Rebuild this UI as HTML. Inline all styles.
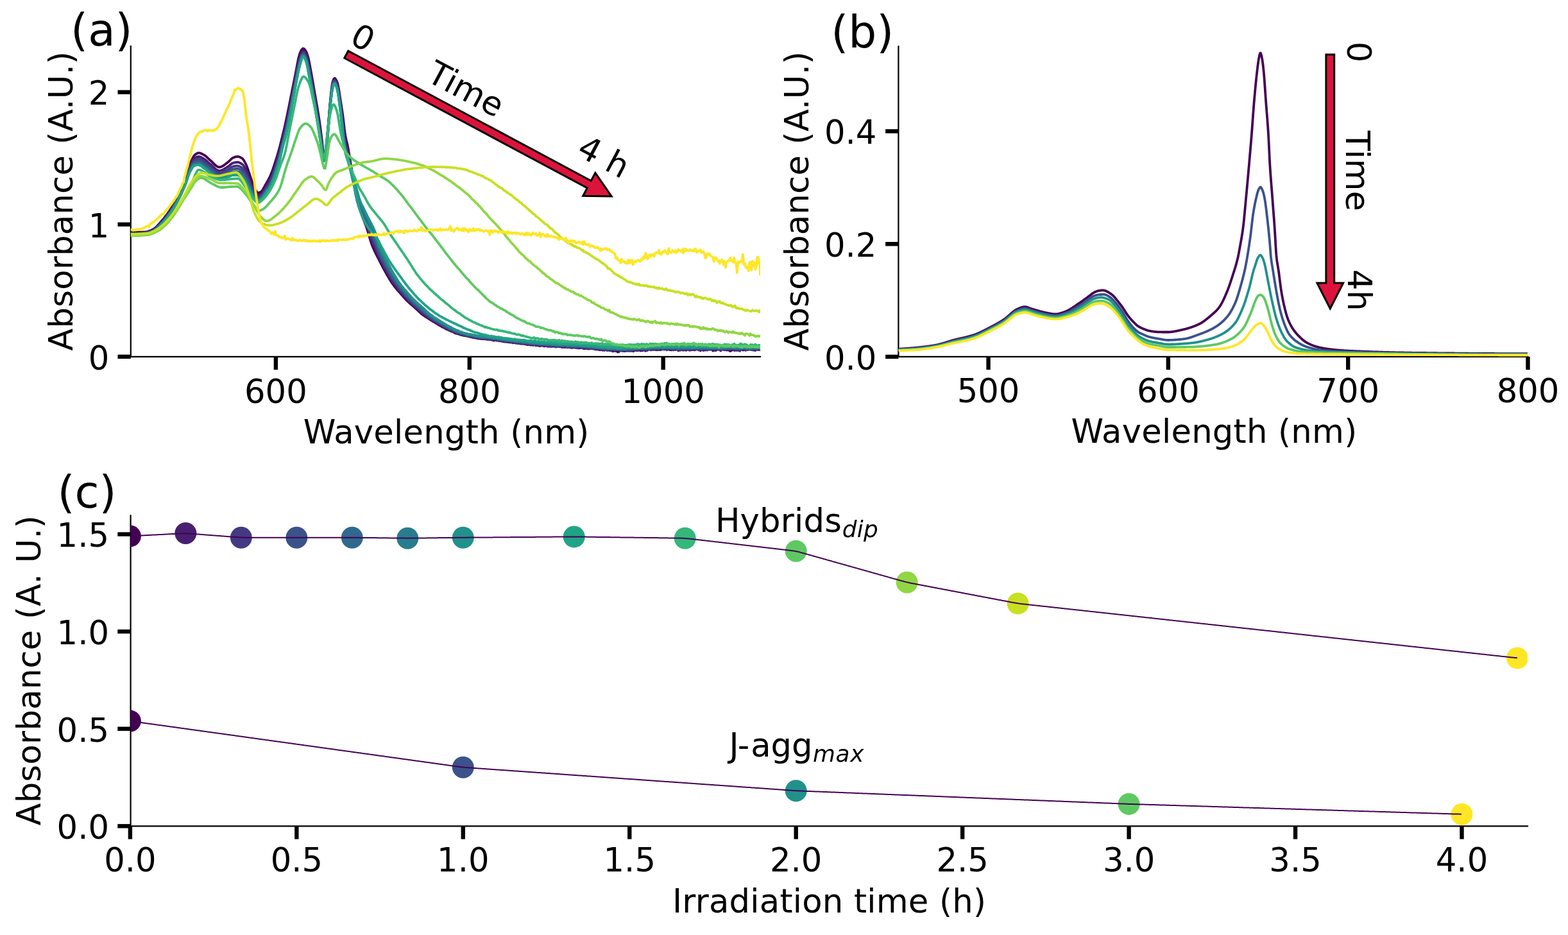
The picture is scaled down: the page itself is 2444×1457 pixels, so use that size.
<!DOCTYPE html>
<html><head><meta charset="utf-8"><title>Absorbance spectra</title>
<style>
html,body{margin:0;padding:0;background:#fff;}
svg{display:block;}
text{font-family:"DejaVu Sans","Liberation Sans",sans-serif;fill:#000;}
</style></head><body>
<svg width="2444" height="1457" viewBox="0 0 2444 1457">
<rect width="2444" height="1457" fill="#fff"/>
<line x1="203.8" y1="72.1" x2="203.8" y2="555.9" stroke="#000" stroke-width="2.2" stroke-linecap="square"/>
<line x1="203.8" y1="555.9" x2="1185.0" y2="555.9" stroke="#000" stroke-width="2.2" stroke-linecap="square"/>
<line x1="429.91" y1="555.9" x2="429.91" y2="576.1999999999999" stroke="#000" stroke-width="6.4"/>
<text x="429.91" y="628.00" font-size="51.2" text-anchor="middle">600</text>
<line x1="731.79" y1="555.9" x2="731.79" y2="576.1999999999999" stroke="#000" stroke-width="6.4"/>
<text x="731.79" y="628.00" font-size="51.2" text-anchor="middle">800</text>
<line x1="1033.67" y1="555.9" x2="1033.67" y2="576.1999999999999" stroke="#000" stroke-width="6.4"/>
<text x="1033.67" y="628.00" font-size="51.2" text-anchor="middle">1000</text>
<line x1="183.5" y1="555.80" x2="203.8" y2="555.80" stroke="#000" stroke-width="6.4"/>
<text x="170.30" y="575.60" font-size="51.2" text-anchor="end">0</text>
<line x1="183.5" y1="349.70" x2="203.8" y2="349.70" stroke="#000" stroke-width="6.4"/>
<text x="170.30" y="369.50" font-size="51.2" text-anchor="end">1</text>
<line x1="183.5" y1="143.60" x2="203.8" y2="143.60" stroke="#000" stroke-width="6.4"/>
<text x="170.30" y="163.40" font-size="51.2" text-anchor="end">2</text>
<clipPath id="ca"><rect x="203.8" y="72.1" width="981.2" height="483.79999999999995"/></clipPath>
<line x1="1400.4" y1="72.3" x2="1400.4" y2="555.9" stroke="#000" stroke-width="2.2" stroke-linecap="square"/>
<line x1="1400.4" y1="555.9" x2="2381.3" y2="555.9" stroke="#000" stroke-width="2.2" stroke-linecap="square"/>
<line x1="1540.56" y1="555.9" x2="1540.56" y2="576.1999999999999" stroke="#000" stroke-width="6.4"/>
<text x="1540.56" y="627.30" font-size="51.2" text-anchor="middle">500</text>
<line x1="1820.87" y1="555.9" x2="1820.87" y2="576.1999999999999" stroke="#000" stroke-width="6.4"/>
<text x="1820.87" y="627.30" font-size="51.2" text-anchor="middle">600</text>
<line x1="2101.18" y1="555.9" x2="2101.18" y2="576.1999999999999" stroke="#000" stroke-width="6.4"/>
<text x="2101.18" y="627.30" font-size="51.2" text-anchor="middle">700</text>
<line x1="2381.49" y1="555.9" x2="2381.49" y2="576.1999999999999" stroke="#000" stroke-width="6.4"/>
<text x="2381.49" y="627.30" font-size="51.2" text-anchor="middle">800</text>
<line x1="1380.1000000000001" y1="555.90" x2="1400.4" y2="555.90" stroke="#000" stroke-width="6.4"/>
<text x="1366.40" y="575.70" font-size="51.2" text-anchor="end">0.0</text>
<line x1="1380.1000000000001" y1="380.20" x2="1400.4" y2="380.20" stroke="#000" stroke-width="6.4"/>
<text x="1366.40" y="400.00" font-size="51.2" text-anchor="end">0.2</text>
<line x1="1380.1000000000001" y1="204.50" x2="1400.4" y2="204.50" stroke="#000" stroke-width="6.4"/>
<text x="1366.40" y="224.30" font-size="51.2" text-anchor="end">0.4</text>
<clipPath id="cb"><rect x="1400.4" y="72.3" width="980.9000000000001" height="483.59999999999997"/></clipPath>
<line x1="203.6" y1="803.4" x2="203.6" y2="1287.3" stroke="#000" stroke-width="2.2" stroke-linecap="square"/>
<line x1="203.6" y1="1287.3" x2="2381.0" y2="1287.3" stroke="#000" stroke-width="2.2" stroke-linecap="square"/>
<line x1="202.90" y1="1287.3" x2="202.90" y2="1307.6" stroke="#000" stroke-width="6.4"/>
<text x="202.90" y="1357.80" font-size="51.2" text-anchor="middle">0.0</text>
<line x1="462.35" y1="1287.3" x2="462.35" y2="1307.6" stroke="#000" stroke-width="6.4"/>
<text x="462.35" y="1357.80" font-size="51.2" text-anchor="middle">0.5</text>
<line x1="721.80" y1="1287.3" x2="721.80" y2="1307.6" stroke="#000" stroke-width="6.4"/>
<text x="721.80" y="1357.80" font-size="51.2" text-anchor="middle">1.0</text>
<line x1="981.25" y1="1287.3" x2="981.25" y2="1307.6" stroke="#000" stroke-width="6.4"/>
<text x="981.25" y="1357.80" font-size="51.2" text-anchor="middle">1.5</text>
<line x1="1240.70" y1="1287.3" x2="1240.70" y2="1307.6" stroke="#000" stroke-width="6.4"/>
<text x="1240.70" y="1357.80" font-size="51.2" text-anchor="middle">2.0</text>
<line x1="1500.15" y1="1287.3" x2="1500.15" y2="1307.6" stroke="#000" stroke-width="6.4"/>
<text x="1500.15" y="1357.80" font-size="51.2" text-anchor="middle">2.5</text>
<line x1="1759.60" y1="1287.3" x2="1759.60" y2="1307.6" stroke="#000" stroke-width="6.4"/>
<text x="1759.60" y="1357.80" font-size="51.2" text-anchor="middle">3.0</text>
<line x1="2019.05" y1="1287.3" x2="2019.05" y2="1307.6" stroke="#000" stroke-width="6.4"/>
<text x="2019.05" y="1357.80" font-size="51.2" text-anchor="middle">3.5</text>
<line x1="2278.50" y1="1287.3" x2="2278.50" y2="1307.6" stroke="#000" stroke-width="6.4"/>
<text x="2278.50" y="1357.80" font-size="51.2" text-anchor="middle">4.0</text>
<line x1="183.29999999999998" y1="1287.30" x2="203.6" y2="1287.30" stroke="#000" stroke-width="6.4"/>
<text x="170.00" y="1307.10" font-size="51.2" text-anchor="end">0.0</text>
<line x1="183.29999999999998" y1="1135.70" x2="203.6" y2="1135.70" stroke="#000" stroke-width="6.4"/>
<text x="170.00" y="1155.50" font-size="51.2" text-anchor="end">0.5</text>
<line x1="183.29999999999998" y1="984.10" x2="203.6" y2="984.10" stroke="#000" stroke-width="6.4"/>
<text x="170.00" y="1003.90" font-size="51.2" text-anchor="end">1.0</text>
<line x1="183.29999999999998" y1="832.50" x2="203.6" y2="832.50" stroke="#000" stroke-width="6.4"/>
<text x="170.00" y="852.30" font-size="51.2" text-anchor="end">1.5</text>
<clipPath id="cc"><rect x="203.6" y="803.4" width="2177.4" height="483.9"/></clipPath>
<g clip-path="url(#ca)">
<path d="M203.8,362.2 L205.3,362.2 L206.8,362.2 L208.3,362.2 L209.8,362.2 L211.3,362.1 L212.8,362.1 L214.3,362.0 L215.8,362.0 L217.3,361.9 L218.8,361.9 L220.3,361.8 L221.8,361.7 L223.3,361.7 L224.8,361.6 L226.3,361.5 L227.8,361.3 L229.3,361.0 L230.8,360.6 L232.3,360.1 L233.8,359.5 L235.3,358.9 L236.8,358.2 L238.3,357.4 L239.8,356.6 L241.3,355.6 L242.8,354.3 L244.3,352.9 L245.8,351.3 L247.3,349.6 L248.8,347.9 L250.3,346.1 L251.8,344.4 L253.3,342.6 L254.8,340.9 L256.3,339.1 L257.8,337.2 L259.3,335.3 L260.8,333.3 L262.3,331.2 L263.8,329.1 L265.3,326.8 L266.8,324.5 L268.3,322.1 L269.8,319.6 L271.3,317.0 L272.8,314.2 L274.3,311.4 L275.8,308.5 L277.3,305.5 L278.8,302.5 L280.3,299.2 L281.8,295.9 L283.3,292.4 L284.8,288.7 L286.3,285.0 L287.8,281.1 L289.3,277.0 L290.8,272.5 L292.3,267.6 L293.8,262.8 L295.3,258.3 L296.8,254.5 L298.3,250.8 L299.8,247.4 L301.3,244.5 L302.8,242.4 L304.3,241.0 L305.8,239.8 L307.3,238.9 L308.8,238.4 L310.3,238.3 L311.8,238.6 L313.3,239.1 L314.8,239.8 L316.3,240.6 L317.8,241.4 L319.3,242.3 L320.8,243.4 L322.3,244.7 L323.8,246.2 L325.3,247.6 L326.8,249.0 L328.3,250.2 L329.8,251.6 L331.3,253.1 L332.8,254.6 L334.3,256.1 L335.8,257.5 L337.3,258.7 L338.8,259.6 L340.3,260.3 L341.8,260.5 L343.3,260.3 L344.8,259.9 L346.3,259.2 L347.8,258.3 L349.3,257.3 L350.8,256.2 L352.3,255.0 L353.8,253.9 L355.3,252.8 L356.8,251.5 L358.3,250.0 L359.8,248.4 L361.3,247.1 L362.8,246.1 L364.3,245.5 L365.8,244.9 L367.3,244.4 L368.8,244.1 L370.3,244.0 L371.8,244.2 L373.3,244.6 L374.8,245.3 L376.3,246.1 L377.8,247.0 L379.3,248.7 L380.8,251.1 L382.3,254.0 L383.8,257.0 L385.3,260.7 L386.8,265.0 L388.3,269.5 L389.8,273.9 L391.3,278.3 L392.8,282.9 L394.3,287.2 L395.8,290.8 L397.3,293.9 L398.8,296.9 L400.3,299.3 L401.8,300.5 L403.3,300.4 L404.8,299.9 L406.3,299.1 L407.8,298.2 L409.3,296.2 L410.8,293.5 L412.3,290.6 L413.8,287.9 L415.3,285.4 L416.8,282.8 L418.3,280.1 L419.8,277.2 L421.3,274.0 L422.8,270.6 L424.3,266.6 L425.8,262.4 L427.3,257.9 L428.8,253.2 L430.3,248.6 L431.8,243.8 L433.3,238.8 L434.8,233.5 L436.3,228.0 L437.8,222.0 L439.3,215.9 L440.8,209.8 L442.3,203.6 L443.8,197.3 L445.3,190.6 L446.8,183.5 L448.3,176.2 L449.8,168.9 L451.3,161.5 L452.8,154.0 L454.3,146.4 L455.8,138.9 L457.3,131.4 L458.8,123.9 L460.3,116.4 L461.8,108.6 L463.3,100.4 L464.8,92.8 L466.3,86.8 L467.8,82.2 L469.3,78.8 L470.8,76.7 L472.3,75.5 L473.8,76.0 L475.3,77.6 L476.8,79.7 L478.3,83.1 L479.8,87.5 L481.3,93.4 L482.8,101.0 L484.3,109.4 L485.8,117.6 L487.3,126.1 L488.8,134.9 L490.3,143.5 L491.8,152.0 L493.3,160.5 L494.8,169.3 L496.3,178.6 L497.8,188.3 L499.3,198.9 L500.8,210.6 L502.3,223.1 L503.8,238.9 L505.3,248.5 L506.8,239.7 L508.3,227.6 L509.8,213.8 L511.3,198.4 L512.8,180.8 L514.3,162.5 L515.8,147.4 L517.3,134.2 L518.8,127.0 L520.3,122.8 L521.8,121.9 L523.3,123.5 L524.8,126.4 L526.3,130.2 L527.8,137.4 L529.3,147.1 L530.8,156.8 L532.3,166.3 L533.8,176.4 L535.3,187.5 L536.8,200.7 L538.3,211.7 L539.8,218.6 L541.3,224.5 L542.8,231.8 L544.3,240.7 L545.8,250.1 L547.3,259.3 L548.8,268.4 L550.3,277.5 L551.8,286.4 L553.3,295.7 L554.8,304.6 L556.3,311.8 L557.8,317.3 L559.3,322.0 L560.8,326.3 L562.3,330.4 L563.8,334.6 L565.3,338.6 L566.8,342.5 L568.3,346.3 L569.8,350.2 L571.3,354.3 L572.8,358.9 L574.3,363.9 L575.8,369.1 L577.3,374.2 L578.8,378.9 L580.3,383.0 L581.8,386.6 L583.3,390.0 L584.8,393.1 L586.3,396.1 L587.8,399.1 L589.3,402.0 L590.8,404.9 L592.3,407.9 L593.8,410.8 L595.3,413.7 L596.8,416.6 L598.3,419.4 L599.8,422.2 L601.3,424.9 L602.8,427.5 L604.3,430.1 L605.8,432.6 L607.3,435.2 L608.8,437.6 L610.3,439.9 L611.8,442.2 L613.3,444.2 L614.8,446.2 L616.3,448.1 L617.8,449.9 L619.3,451.7 L620.8,453.4 L622.3,455.1 L623.8,456.8 L625.3,458.6 L626.8,460.3 L628.3,462.0 L629.8,463.6 L631.3,465.2 L632.8,466.9 L634.3,468.4 L635.8,469.9 L637.3,471.2 L638.8,472.7 L640.3,473.9 L641.8,475.3 L643.3,476.4 L644.8,477.8 L646.3,479.1 L647.8,480.5 L649.3,481.9 L650.8,483.2 L652.3,484.7 L653.8,486.0 L655.3,487.4 L656.8,488.9 L658.3,490.1 L659.8,491.0 L661.3,492.1 L662.8,493.2 L664.3,494.0 L665.8,495.1 L667.3,495.9 L668.8,497.0 L670.3,497.9 L671.8,498.9 L673.3,499.9 L674.8,500.8 L676.3,501.5 L677.8,502.4 L679.3,503.5 L680.8,504.2 L682.3,505.3 L683.8,506.2 L685.3,507.0 L686.8,507.7 L688.3,508.8 L689.8,509.8 L691.3,510.3 L692.8,511.0 L694.3,512.0 L695.8,512.8 L697.3,513.5 L698.8,514.1 L700.3,514.8 L701.8,515.4 L703.3,516.3 L704.8,516.6 L706.3,517.2 L707.8,518.1 L709.3,519.0 L710.8,519.6 L712.3,519.3 L713.8,520.3 L715.3,520.8 L716.8,521.3 L718.3,521.8 L719.8,522.0 L721.3,522.4 L722.8,522.8 L724.3,523.2 L725.8,523.1 L727.3,523.7 L728.8,523.8 L730.3,524.3 L731.8,524.7 L733.3,524.8 L734.8,525.4 L736.3,525.5 L737.8,526.2 L739.3,526.1 L740.8,526.6 L742.3,526.7 L743.8,527.1 L745.3,527.5 L746.8,527.4 L748.3,527.6 L749.8,528.0 L751.3,528.2 L752.8,528.0 L754.3,528.4 L755.8,527.9 L757.3,528.6 L758.8,528.4 L760.3,529.1 L761.8,528.5 L763.3,529.2 L764.8,529.1 L766.3,529.6 L767.8,529.6 L769.3,530.7 L770.8,530.2 L772.3,530.1 L773.8,530.7 L775.3,530.5 L776.8,530.5 L778.3,531.3 L779.8,530.8 L781.3,531.6 L782.8,531.7 L784.3,532.3 L785.8,532.1 L787.3,532.6 L788.8,532.6 L790.3,532.8 L791.8,532.9 L793.3,533.2 L794.8,533.5 L796.3,533.7 L797.8,533.2 L799.3,534.3 L800.8,534.1 L802.3,534.0 L803.8,534.5 L805.3,534.5 L806.8,534.9 L808.3,535.0 L809.8,534.9 L811.3,535.5 L812.8,535.3 L814.3,535.9 L815.8,535.1 L817.3,536.1 L818.8,536.0 L820.3,536.3 L821.8,537.1 L823.3,536.6 L824.8,537.0 L826.3,537.4 L827.8,537.7 L829.3,537.0 L830.8,537.9 L832.3,537.3 L833.8,537.4 L835.3,538.4 L836.8,537.8 L838.3,538.3 L839.8,538.7 L841.3,539.1 L842.8,538.6 L844.3,538.6 L845.8,538.7 L847.3,538.9 L848.8,539.5 L850.3,538.4 L851.8,539.2 L853.3,539.7 L854.8,539.8 L856.3,538.9 L857.8,540.1 L859.3,539.8 L860.8,539.4 L862.3,539.5 L863.8,539.7 L865.3,539.9 L866.8,540.6 L868.3,539.8 L869.8,539.8 L871.3,540.0 L872.8,540.3 L874.3,539.6 L875.8,541.1 L877.3,540.7 L878.8,541.0 L880.3,541.0 L881.8,540.9 L883.3,540.8 L884.8,540.4 L886.3,540.9 L887.8,541.1 L889.3,541.5 L890.8,541.7 L892.3,541.9 L893.8,541.0 L895.3,541.5 L896.8,541.8 L898.3,541.7 L899.8,542.4 L901.3,541.8 L902.8,542.6 L904.3,541.9 L905.8,542.0 L907.3,541.6 L908.8,542.8 L910.3,543.2 L911.8,543.0 L913.3,542.6 L914.8,543.2 L916.3,542.7 L917.8,543.7 L919.3,542.3 L920.8,543.2 L922.3,542.8 L923.8,543.4 L925.3,543.2 L926.8,543.9 L928.3,544.4 L929.8,544.2 L931.3,544.5 L932.8,544.3 L934.3,545.1 L935.8,545.3 L937.3,544.1 L938.8,545.5 L940.3,545.5 L941.8,545.8 L943.3,545.5 L944.8,544.7 L946.3,546.0 L947.8,545.5 L949.3,545.9 L950.8,544.6 L952.3,546.3 L953.8,546.5 L955.3,547.3 L956.8,546.9 L958.3,546.1 L959.8,547.2 L961.3,545.6 L962.8,548.6 L964.3,548.2 L965.8,546.9 L967.3,546.0 L968.8,546.6 L970.3,546.9 L971.8,546.7 L973.3,546.9 L974.8,547.1 L976.3,546.2 L977.8,546.5 L979.3,546.3 L980.8,546.5 L982.3,546.7 L983.8,545.1 L985.3,546.3 L986.8,547.2 L988.3,545.9 L989.8,545.5 L991.3,545.6 L992.8,546.4 L994.3,544.8 L995.8,545.9 L997.3,543.7 L998.8,546.6 L1000.3,545.5 L1001.8,546.4 L1003.3,545.1 L1004.8,545.5 L1006.3,546.8 L1007.8,544.6 L1009.3,545.8 L1010.8,543.7 L1012.3,543.4 L1013.8,545.4 L1015.3,544.9 L1016.8,544.5 L1018.3,544.8 L1019.8,544.4 L1021.3,544.9 L1022.8,545.2 L1024.3,545.3 L1025.8,544.7 L1027.3,545.2 L1028.8,545.1 L1030.3,544.9 L1031.8,544.3 L1033.3,542.8 L1034.8,544.5 L1036.3,544.4 L1037.8,543.5 L1039.3,545.2 L1040.8,544.6 L1042.3,543.7 L1043.8,545.2 L1045.3,545.2 L1046.8,545.5 L1048.3,543.9 L1049.8,545.0 L1051.3,544.1 L1052.8,542.7 L1054.3,544.3 L1055.8,544.5 L1057.3,546.3 L1058.8,545.0 L1060.3,545.8 L1061.8,544.5 L1063.3,545.4 L1064.8,544.0 L1066.3,545.6 L1067.8,543.9 L1069.3,545.8 L1070.8,544.8 L1072.3,544.3 L1073.8,544.1 L1075.3,545.5 L1076.8,544.2 L1078.3,545.1 L1079.8,544.5 L1081.3,545.1 L1082.8,545.0 L1084.3,544.5 L1085.8,544.2 L1087.3,544.0 L1088.8,545.3 L1090.3,545.1 L1091.8,546.4 L1093.3,545.1 L1094.8,543.6 L1096.3,546.1 L1097.8,544.1 L1099.3,545.6 L1100.8,544.6 L1102.3,545.6 L1103.8,544.9 L1105.3,544.2 L1106.8,544.3 L1108.3,544.3 L1109.8,544.4 L1111.3,546.6 L1112.8,545.1 L1114.3,545.2 L1115.8,546.0 L1117.3,544.2 L1118.8,544.4 L1120.3,544.5 L1121.8,544.4 L1123.3,546.4 L1124.8,544.6 L1126.3,544.0 L1127.8,544.8 L1129.3,544.5 L1130.8,544.1 L1132.3,545.5 L1133.8,543.4 L1135.3,545.2 L1136.8,546.3 L1138.3,547.0 L1139.8,546.3 L1141.3,544.8 L1142.8,544.9 L1144.3,546.0 L1145.8,545.9 L1147.3,544.2 L1148.8,543.1 L1150.3,544.6 L1151.8,546.4 L1153.3,544.9 L1154.8,543.8 L1156.3,544.3 L1157.8,545.6 L1159.3,545.4 L1160.8,544.8 L1162.3,545.2 L1163.8,544.7 L1165.3,544.9 L1166.8,543.7 L1168.3,543.8 L1169.8,544.4 L1171.3,544.5 L1172.8,544.0 L1174.3,545.5 L1175.8,545.5 L1177.3,546.1 L1178.8,544.9 L1180.3,544.4 L1181.8,544.1 L1183.3,543.0 L1184.8,545.2 L1185.0,543.9" fill="none" stroke="#440154" stroke-width="3.8" stroke-linejoin="round" stroke-linecap="butt"/>
<path d="M203.8,363.0 L205.3,363.0 L206.8,363.0 L208.3,363.0 L209.8,363.0 L211.3,363.0 L212.8,362.9 L214.3,362.9 L215.8,362.9 L217.3,362.8 L218.8,362.8 L220.3,362.7 L221.8,362.6 L223.3,362.6 L224.8,362.5 L226.3,362.4 L227.8,362.2 L229.3,361.9 L230.8,361.5 L232.3,361.0 L233.8,360.5 L235.3,359.8 L236.8,359.2 L238.3,358.4 L239.8,357.7 L241.3,356.7 L242.8,355.5 L244.3,354.1 L245.8,352.6 L247.3,350.9 L248.8,349.3 L250.3,347.6 L251.8,345.9 L253.3,344.2 L254.8,342.5 L256.3,340.7 L257.8,338.9 L259.3,337.0 L260.8,335.0 L262.3,333.0 L263.8,330.8 L265.3,328.7 L266.8,326.4 L268.3,324.0 L269.8,321.5 L271.3,318.9 L272.8,316.3 L274.3,313.5 L275.8,310.7 L277.3,307.7 L278.8,304.7 L280.3,301.6 L281.8,298.3 L283.3,294.9 L284.8,291.3 L286.3,287.6 L287.8,283.8 L289.3,279.9 L290.8,275.4 L292.3,270.7 L293.8,266.0 L295.3,261.7 L296.8,258.1 L298.3,254.7 L299.8,251.5 L301.3,248.9 L302.8,247.1 L304.3,246.0 L305.8,245.1 L307.3,244.4 L308.8,244.0 L310.3,244.0 L311.8,244.3 L313.3,244.9 L314.8,245.7 L316.3,246.6 L317.8,247.5 L319.3,248.5 L320.8,249.6 L322.3,250.9 L323.8,252.3 L325.3,253.7 L326.8,255.0 L328.3,256.2 L329.8,257.5 L331.3,258.9 L332.8,260.4 L334.3,261.8 L335.8,263.2 L337.3,264.3 L338.8,265.2 L340.3,265.8 L341.8,266.1 L343.3,265.9 L344.8,265.5 L346.3,265.0 L347.8,264.3 L349.3,263.4 L350.8,262.5 L352.3,261.6 L353.8,260.6 L355.3,259.7 L356.8,258.6 L358.3,257.3 L359.8,256.0 L361.3,254.9 L362.8,254.2 L364.3,253.7 L365.8,253.3 L367.3,253.0 L368.8,252.8 L370.3,252.7 L371.8,252.9 L373.3,253.5 L374.8,254.2 L376.3,255.1 L377.8,256.1 L379.3,257.8 L380.8,260.1 L382.3,262.9 L383.8,265.8 L385.3,269.2 L386.8,273.1 L388.3,277.2 L389.8,281.1 L391.3,285.1 L392.8,289.2 L394.3,293.1 L395.8,296.2 L397.3,298.8 L398.8,301.3 L400.3,303.3 L401.8,304.2 L403.3,304.1 L404.8,303.6 L406.3,302.8 L407.8,301.9 L409.3,300.0 L410.8,297.5 L412.3,294.8 L413.8,292.3 L415.3,289.8 L416.8,287.4 L418.3,284.9 L419.8,282.1 L421.3,279.2 L422.8,275.8 L424.3,272.1 L425.8,267.9 L427.3,263.5 L428.8,259.0 L430.3,254.4 L431.8,249.7 L433.3,244.7 L434.8,239.5 L436.3,234.0 L437.8,227.9 L439.3,221.6 L440.8,215.5 L442.3,209.5 L443.8,203.4 L445.3,197.0 L446.8,190.1 L448.3,183.0 L449.8,175.8 L451.3,168.4 L452.8,160.8 L454.3,153.0 L455.8,145.2 L457.3,137.5 L458.8,129.9 L460.3,122.2 L461.8,114.4 L463.3,106.4 L464.8,98.7 L466.3,92.5 L467.8,87.6 L469.3,83.6 L470.8,80.8 L472.3,79.3 L473.8,79.8 L475.3,81.7 L476.8,84.4 L478.3,88.1 L479.8,93.4 L481.3,100.0 L482.8,107.6 L484.3,115.9 L485.8,124.0 L487.3,132.4 L488.8,141.0 L490.3,149.7 L491.8,158.2 L493.3,166.8 L494.8,175.7 L496.3,185.0 L497.8,194.7 L499.3,205.0 L500.8,216.3 L502.3,228.2 L503.8,241.4 L505.3,249.2 L506.8,242.0 L508.3,230.7 L509.8,216.7 L511.3,200.7 L512.8,183.1 L514.3,164.8 L515.8,149.9 L517.3,137.0 L518.8,129.6 L520.3,125.2 L521.8,124.5 L523.3,126.3 L524.8,129.4 L526.3,133.8 L527.8,141.7 L529.3,151.8 L530.8,162.2 L532.3,172.9 L533.8,184.5 L535.3,197.3 L536.8,209.7 L538.3,219.5 L539.8,225.9 L541.3,231.5 L542.8,238.0 L544.3,245.9 L545.8,253.9 L547.3,261.5 L548.8,269.2 L550.3,277.1 L551.8,284.9 L553.3,293.2 L554.8,301.5 L556.3,308.3 L557.8,313.9 L559.3,318.9 L560.8,323.5 L562.3,327.7 L563.8,331.8 L565.3,335.8 L566.8,339.5 L568.3,343.2 L569.8,347.0 L571.3,351.0 L572.8,355.3 L574.3,359.9 L575.8,364.7 L577.3,369.4 L578.8,373.8 L580.3,377.7 L581.8,381.3 L583.3,384.7 L584.8,387.9 L586.3,391.3 L587.8,394.6 L589.3,397.8 L590.8,400.9 L592.3,404.0 L593.8,407.1 L595.3,410.0 L596.8,412.9 L598.3,415.8 L599.8,418.6 L601.3,421.3 L602.8,423.9 L604.3,426.6 L605.8,429.2 L607.3,431.8 L608.8,434.3 L610.3,436.7 L611.8,439.0 L613.3,441.2 L614.8,443.3 L616.3,445.3 L617.8,447.1 L619.3,449.0 L620.8,450.9 L622.3,452.6 L623.8,454.4 L625.3,456.1 L626.8,458.0 L628.3,459.7 L629.8,461.3 L631.3,463.1 L632.8,464.6 L634.3,466.3 L635.8,467.7 L637.3,469.2 L638.8,470.4 L640.3,471.9 L641.8,473.3 L643.3,474.7 L644.8,476.2 L646.3,477.5 L647.8,478.8 L649.3,480.0 L650.8,481.5 L652.3,482.9 L653.8,484.1 L655.3,485.5 L656.8,486.9 L658.3,488.0 L659.8,489.2 L661.3,490.4 L662.8,491.3 L664.3,492.7 L665.8,493.4 L667.3,494.5 L668.8,495.6 L670.3,496.5 L671.8,497.3 L673.3,498.6 L674.8,499.6 L676.3,500.3 L677.8,501.2 L679.3,502.1 L680.8,503.1 L682.3,504.0 L683.8,504.8 L685.3,505.7 L686.8,506.3 L688.3,507.6 L689.8,508.6 L691.3,509.3 L692.8,509.9 L694.3,510.8 L695.8,511.4 L697.3,512.1 L698.8,513.4 L700.3,513.9 L701.8,514.6 L703.3,514.9 L704.8,516.0 L706.3,516.7 L707.8,517.4 L709.3,517.6 L710.8,518.1 L712.3,519.1 L713.8,519.5 L715.3,519.8 L716.8,520.5 L718.3,521.2 L719.8,521.3 L721.3,521.8 L722.8,522.3 L724.3,522.6 L725.8,522.8 L727.3,523.1 L728.8,523.0 L730.3,523.4 L731.8,524.5 L733.3,524.2 L734.8,524.2 L736.3,525.2 L737.8,525.6 L739.3,525.3 L740.8,525.9 L742.3,526.1 L743.8,526.4 L745.3,526.5 L746.8,526.6 L748.3,526.9 L749.8,527.3 L751.3,527.3 L752.8,527.5 L754.3,527.6 L755.8,527.7 L757.3,527.7 L758.8,527.8 L760.3,528.1 L761.8,528.3 L763.3,528.2 L764.8,528.5 L766.3,529.1 L767.8,528.9 L769.3,529.3 L770.8,529.1 L772.3,530.0 L773.8,530.2 L775.3,530.2 L776.8,530.3 L778.3,530.6 L779.8,530.7 L781.3,530.7 L782.8,531.4 L784.3,531.1 L785.8,531.7 L787.3,532.1 L788.8,531.6 L790.3,532.1 L791.8,532.4 L793.3,531.9 L794.8,532.6 L796.3,533.0 L797.8,532.8 L799.3,533.7 L800.8,534.0 L802.3,534.2 L803.8,534.5 L805.3,534.0 L806.8,534.6 L808.3,534.5 L809.8,534.2 L811.3,534.4 L812.8,534.8 L814.3,534.5 L815.8,535.2 L817.3,535.4 L818.8,536.6 L820.3,535.8 L821.8,536.4 L823.3,536.3 L824.8,536.0 L826.3,536.0 L827.8,536.3 L829.3,536.6 L830.8,537.3 L832.3,537.4 L833.8,537.0 L835.3,537.2 L836.8,537.1 L838.3,537.5 L839.8,537.8 L841.3,537.6 L842.8,538.0 L844.3,537.8 L845.8,538.7 L847.3,538.4 L848.8,538.2 L850.3,539.1 L851.8,537.9 L853.3,538.6 L854.8,539.4 L856.3,539.4 L857.8,539.3 L859.3,539.0 L860.8,539.6 L862.3,539.5 L863.8,539.8 L865.3,539.0 L866.8,539.9 L868.3,539.2 L869.8,539.1 L871.3,539.7 L872.8,539.7 L874.3,540.4 L875.8,539.8 L877.3,540.1 L878.8,539.6 L880.3,539.6 L881.8,540.0 L883.3,540.5 L884.8,541.5 L886.3,539.9 L887.8,541.3 L889.3,540.4 L890.8,541.3 L892.3,540.0 L893.8,540.9 L895.3,540.9 L896.8,540.7 L898.3,540.9 L899.8,541.1 L901.3,541.3 L902.8,540.4 L904.3,540.8 L905.8,541.1 L907.3,540.3 L908.8,541.1 L910.3,542.2 L911.8,542.1 L913.3,541.6 L914.8,542.7 L916.3,542.3 L917.8,542.0 L919.3,542.9 L920.8,543.4 L922.3,542.7 L923.8,543.4 L925.3,543.3 L926.8,543.4 L928.3,542.7 L929.8,542.8 L931.3,543.1 L932.8,543.9 L934.3,543.9 L935.8,543.9 L937.3,544.8 L938.8,545.1 L940.3,543.4 L941.8,543.4 L943.3,544.4 L944.8,545.0 L946.3,545.2 L947.8,544.8 L949.3,543.9 L950.8,546.2 L952.3,544.9 L953.8,545.5 L955.3,545.4 L956.8,545.3 L958.3,546.2 L959.8,546.3 L961.3,544.9 L962.8,544.3 L964.3,545.4 L965.8,546.0 L967.3,546.0 L968.8,546.0 L970.3,546.5 L971.8,546.4 L973.3,545.6 L974.8,545.0 L976.3,545.3 L977.8,546.5 L979.3,545.3 L980.8,546.4 L982.3,546.0 L983.8,546.9 L985.3,545.5 L986.8,544.1 L988.3,546.7 L989.8,545.4 L991.3,545.2 L992.8,546.1 L994.3,545.0 L995.8,544.5 L997.3,544.8 L998.8,545.3 L1000.3,544.7 L1001.8,546.0 L1003.3,544.2 L1004.8,544.2 L1006.3,543.8 L1007.8,545.8 L1009.3,545.6 L1010.8,544.2 L1012.3,543.8 L1013.8,543.2 L1015.3,545.2 L1016.8,544.6 L1018.3,544.6 L1019.8,543.9 L1021.3,544.9 L1022.8,544.0 L1024.3,543.2 L1025.8,543.4 L1027.3,544.1 L1028.8,543.0 L1030.3,544.3 L1031.8,543.3 L1033.3,543.6 L1034.8,543.6 L1036.3,543.7 L1037.8,544.3 L1039.3,543.0 L1040.8,543.5 L1042.3,543.0 L1043.8,543.6 L1045.3,543.3 L1046.8,544.1 L1048.3,544.3 L1049.8,545.4 L1051.3,543.7 L1052.8,545.0 L1054.3,543.6 L1055.8,543.6 L1057.3,544.5 L1058.8,544.8 L1060.3,544.9 L1061.8,544.5 L1063.3,544.2 L1064.8,545.4 L1066.3,543.8 L1067.8,543.5 L1069.3,543.7 L1070.8,543.2 L1072.3,543.7 L1073.8,545.4 L1075.3,543.0 L1076.8,545.5 L1078.3,543.1 L1079.8,545.0 L1081.3,542.2 L1082.8,545.6 L1084.3,543.8 L1085.8,544.4 L1087.3,544.2 L1088.8,544.0 L1090.3,545.5 L1091.8,545.1 L1093.3,544.3 L1094.8,544.7 L1096.3,545.1 L1097.8,544.1 L1099.3,545.0 L1100.8,545.2 L1102.3,543.9 L1103.8,543.4 L1105.3,544.6 L1106.8,543.6 L1108.3,544.7 L1109.8,544.1 L1111.3,545.1 L1112.8,545.1 L1114.3,546.0 L1115.8,545.3 L1117.3,544.8 L1118.8,543.8 L1120.3,543.5 L1121.8,544.8 L1123.3,545.4 L1124.8,545.1 L1126.3,544.2 L1127.8,543.9 L1129.3,545.3 L1130.8,544.5 L1132.3,542.9 L1133.8,545.6 L1135.3,542.5 L1136.8,543.7 L1138.3,544.0 L1139.8,544.8 L1141.3,543.9 L1142.8,543.7 L1144.3,544.3 L1145.8,545.3 L1147.3,544.1 L1148.8,546.1 L1150.3,544.6 L1151.8,543.9 L1153.3,544.0 L1154.8,543.8 L1156.3,544.9 L1157.8,544.1 L1159.3,544.2 L1160.8,543.8 L1162.3,545.9 L1163.8,542.7 L1165.3,544.0 L1166.8,544.7 L1168.3,544.6 L1169.8,544.4 L1171.3,545.0 L1172.8,544.6 L1174.3,544.2 L1175.8,543.4 L1177.3,544.6 L1178.8,543.3 L1180.3,542.5 L1181.8,545.2 L1183.3,544.1 L1184.8,543.9 L1185.0,544.2" fill="none" stroke="#481f70" stroke-width="3.8" stroke-linejoin="round" stroke-linecap="butt"/>
<path d="M203.8,363.6 L205.3,363.6 L206.8,363.6 L208.3,363.6 L209.8,363.6 L211.3,363.5 L212.8,363.5 L214.3,363.5 L215.8,363.4 L217.3,363.4 L218.8,363.3 L220.3,363.3 L221.8,363.2 L223.3,363.1 L224.8,363.1 L226.3,363.0 L227.8,362.8 L229.3,362.5 L230.8,362.2 L232.3,361.7 L233.8,361.1 L235.3,360.5 L236.8,359.8 L238.3,359.1 L239.8,358.4 L241.3,357.4 L242.8,356.2 L244.3,354.9 L245.8,353.4 L247.3,351.8 L248.8,350.2 L250.3,348.5 L251.8,346.9 L253.3,345.2 L254.8,343.6 L256.3,341.8 L257.8,340.0 L259.3,338.1 L260.8,336.1 L262.3,334.1 L263.8,332.0 L265.3,329.9 L266.8,327.6 L268.3,325.3 L269.8,322.8 L271.3,320.3 L272.8,317.6 L274.3,314.9 L275.8,312.1 L277.3,309.2 L278.8,306.2 L280.3,303.1 L281.8,299.9 L283.3,296.5 L284.8,293.0 L286.3,289.4 L287.8,285.6 L289.3,281.8 L290.8,277.4 L292.3,272.7 L293.8,268.1 L295.3,263.9 L296.8,260.5 L298.3,257.3 L299.8,254.3 L301.3,251.8 L302.8,250.2 L304.3,249.4 L305.8,248.6 L307.3,248.0 L308.8,247.7 L310.3,247.7 L311.8,248.1 L313.3,248.8 L314.8,249.7 L316.3,250.7 L317.8,251.6 L319.3,252.6 L320.8,253.8 L322.3,255.0 L323.8,256.4 L325.3,257.7 L326.8,259.0 L328.3,260.2 L329.8,261.5 L331.3,262.9 L332.8,264.3 L334.3,265.7 L335.8,266.9 L337.3,268.1 L338.8,269.0 L340.3,269.5 L341.8,269.8 L343.3,269.6 L344.8,269.3 L346.3,268.8 L347.8,268.2 L349.3,267.5 L350.8,266.7 L352.3,265.9 L353.8,265.1 L355.3,264.3 L356.8,263.4 L358.3,262.3 L359.8,261.1 L361.3,260.2 L362.8,259.5 L364.3,259.2 L365.8,258.9 L367.3,258.7 L368.8,258.5 L370.3,258.5 L371.8,258.8 L373.3,259.3 L374.8,260.1 L376.3,261.1 L377.8,262.2 L379.3,263.9 L380.8,266.2 L382.3,268.9 L383.8,271.7 L385.3,274.9 L386.8,278.5 L388.3,282.3 L389.8,285.9 L391.3,289.6 L392.8,293.4 L394.3,297.0 L395.8,299.8 L397.3,302.1 L398.8,304.2 L400.3,305.9 L401.8,306.7 L403.3,306.6 L404.8,306.1 L406.3,305.3 L407.8,304.3 L409.3,302.5 L410.8,300.1 L412.3,297.5 L413.8,295.1 L415.3,292.8 L416.8,290.5 L418.3,288.1 L419.8,285.4 L421.3,282.6 L422.8,279.4 L424.3,275.7 L425.8,271.6 L427.3,267.3 L428.8,262.8 L430.3,258.3 L431.8,253.7 L433.3,248.7 L434.8,243.5 L436.3,237.9 L437.8,231.7 L439.3,225.4 L440.8,219.3 L442.3,213.5 L443.8,207.5 L445.3,201.2 L446.8,194.5 L448.3,187.6 L449.8,180.4 L451.3,173.0 L452.8,165.3 L454.3,157.4 L455.8,149.4 L457.3,141.6 L458.8,133.8 L460.3,126.1 L461.8,118.3 L463.3,110.4 L464.8,102.7 L466.3,96.3 L467.8,91.2 L469.3,86.9 L470.8,83.6 L472.3,81.8 L473.8,82.4 L475.3,84.5 L476.8,87.4 L478.3,91.5 L479.8,97.4 L481.3,104.4 L482.8,112.0 L484.3,120.2 L485.8,128.3 L487.3,136.6 L488.8,145.1 L490.3,153.8 L491.8,162.3 L493.3,171.0 L494.8,179.9 L496.3,189.2 L497.8,199.0 L499.3,209.2 L500.8,220.0 L502.3,231.6 L503.8,243.0 L505.3,249.6 L506.8,243.5 L508.3,232.8 L509.8,218.6 L511.3,202.3 L512.8,184.5 L514.3,166.3 L515.8,151.6 L517.3,138.9 L518.8,131.4 L520.3,126.8 L521.8,126.2 L523.3,128.1 L524.8,131.4 L526.3,136.3 L527.8,144.6 L529.3,154.9 L530.8,165.7 L532.3,177.4 L533.8,189.9 L535.3,203.8 L536.8,215.8 L538.3,224.7 L539.8,230.8 L541.3,236.1 L542.8,242.2 L544.3,249.4 L545.8,256.4 L547.3,263.0 L548.8,269.8 L550.3,276.8 L551.8,283.9 L553.3,291.4 L554.8,299.0 L556.3,305.5 L557.8,311.1 L559.3,316.2 L560.8,320.9 L562.3,325.1 L563.8,329.2 L565.3,332.9 L566.8,336.6 L568.3,340.1 L569.8,343.8 L571.3,347.6 L572.8,351.6 L574.3,355.9 L575.8,360.3 L577.3,364.7 L578.8,368.8 L580.3,372.5 L581.8,376.0 L583.3,379.4 L584.8,382.7 L586.3,386.4 L587.8,390.0 L589.3,393.6 L590.8,397.0 L592.3,400.2 L593.8,403.3 L595.3,406.3 L596.8,409.3 L598.3,412.1 L599.8,414.9 L601.3,417.7 L602.8,420.4 L604.3,423.1 L605.8,425.8 L607.3,428.4 L608.8,431.0 L610.3,433.5 L611.8,435.8 L613.3,438.1 L614.8,440.3 L616.3,442.4 L617.8,444.4 L619.3,446.4 L620.8,448.3 L622.3,450.2 L623.8,452.1 L625.3,453.9 L626.8,455.8 L628.3,457.4 L629.8,459.1 L631.3,460.8 L632.8,462.4 L634.3,464.0 L635.8,465.5 L637.3,467.1 L638.8,468.7 L640.3,469.9 L641.8,471.3 L643.3,472.8 L644.8,474.2 L646.3,475.7 L647.8,477.0 L649.3,478.3 L650.8,479.8 L652.3,480.9 L653.8,482.4 L655.3,483.8 L656.8,484.9 L658.3,486.2 L659.8,487.4 L661.3,488.6 L662.8,489.8 L664.3,490.9 L665.8,492.0 L667.3,493.1 L668.8,494.3 L670.3,495.1 L671.8,496.2 L673.3,497.1 L674.8,498.2 L676.3,499.0 L677.8,500.1 L679.3,500.8 L680.8,501.9 L682.3,502.6 L683.8,503.6 L685.3,504.7 L686.8,505.6 L688.3,506.7 L689.8,507.2 L691.3,508.2 L692.8,508.9 L694.3,509.7 L695.8,510.4 L697.3,511.3 L698.8,512.0 L700.3,512.9 L701.8,513.6 L703.3,514.3 L704.8,514.7 L706.3,515.6 L707.8,516.2 L709.3,516.8 L710.8,517.6 L712.3,518.1 L713.8,518.5 L715.3,518.7 L716.8,519.6 L718.3,519.9 L719.8,520.4 L721.3,520.9 L722.8,521.4 L724.3,521.6 L725.8,522.0 L727.3,522.7 L728.8,522.7 L730.3,523.2 L731.8,523.7 L733.3,523.5 L734.8,524.1 L736.3,524.1 L737.8,524.6 L739.3,524.9 L740.8,525.2 L742.3,525.4 L743.8,525.8 L745.3,525.9 L746.8,526.0 L748.3,526.8 L749.8,526.4 L751.3,527.0 L752.8,526.7 L754.3,527.0 L755.8,527.3 L757.3,527.4 L758.8,527.1 L760.3,527.4 L761.8,527.4 L763.3,528.3 L764.8,528.0 L766.3,528.4 L767.8,528.1 L769.3,528.9 L770.8,528.5 L772.3,529.3 L773.8,529.1 L775.3,529.7 L776.8,530.0 L778.3,529.7 L779.8,529.9 L781.3,530.0 L782.8,530.8 L784.3,530.9 L785.8,530.7 L787.3,530.6 L788.8,530.8 L790.3,531.4 L791.8,531.3 L793.3,531.7 L794.8,532.4 L796.3,532.9 L797.8,532.3 L799.3,532.0 L800.8,532.8 L802.3,532.4 L803.8,532.9 L805.3,533.3 L806.8,533.5 L808.3,533.8 L809.8,534.2 L811.3,534.2 L812.8,533.8 L814.3,534.5 L815.8,534.6 L817.3,534.4 L818.8,535.3 L820.3,534.9 L821.8,534.9 L823.3,535.2 L824.8,535.5 L826.3,535.7 L827.8,535.5 L829.3,536.1 L830.8,536.3 L832.3,536.2 L833.8,536.5 L835.3,536.8 L836.8,536.9 L838.3,536.5 L839.8,537.0 L841.3,537.4 L842.8,537.6 L844.3,537.1 L845.8,537.1 L847.3,537.7 L848.8,537.5 L850.3,537.8 L851.8,537.8 L853.3,538.1 L854.8,538.0 L856.3,538.4 L857.8,539.3 L859.3,537.8 L860.8,537.9 L862.3,538.6 L863.8,538.8 L865.3,539.5 L866.8,537.9 L868.3,539.1 L869.8,539.1 L871.3,539.2 L872.8,538.5 L874.3,539.4 L875.8,539.7 L877.3,538.9 L878.8,540.1 L880.3,539.2 L881.8,539.5 L883.3,539.8 L884.8,539.8 L886.3,539.1 L887.8,540.0 L889.3,540.4 L890.8,540.5 L892.3,540.1 L893.8,540.6 L895.3,540.1 L896.8,540.6 L898.3,541.0 L899.8,541.6 L901.3,540.6 L902.8,540.8 L904.3,540.3 L905.8,540.5 L907.3,541.5 L908.8,541.6 L910.3,540.6 L911.8,541.4 L913.3,541.4 L914.8,541.7 L916.3,542.1 L917.8,541.8 L919.3,541.4 L920.8,542.1 L922.3,542.6 L923.8,542.5 L925.3,542.4 L926.8,542.4 L928.3,542.3 L929.8,543.2 L931.3,542.9 L932.8,543.1 L934.3,542.8 L935.8,544.1 L937.3,543.5 L938.8,543.3 L940.3,544.2 L941.8,543.5 L943.3,545.2 L944.8,544.9 L946.3,544.3 L947.8,544.1 L949.3,544.2 L950.8,544.5 L952.3,545.3 L953.8,544.6 L955.3,545.0 L956.8,544.5 L958.3,545.3 L959.8,544.6 L961.3,545.1 L962.8,544.7 L964.3,544.9 L965.8,545.6 L967.3,545.8 L968.8,545.2 L970.3,546.7 L971.8,545.3 L973.3,545.2 L974.8,545.9 L976.3,544.9 L977.8,544.6 L979.3,545.5 L980.8,544.7 L982.3,545.9 L983.8,545.3 L985.3,545.1 L986.8,545.2 L988.3,544.3 L989.8,544.0 L991.3,544.1 L992.8,544.3 L994.3,543.3 L995.8,543.9 L997.3,543.8 L998.8,543.5 L1000.3,543.5 L1001.8,543.7 L1003.3,544.7 L1004.8,544.5 L1006.3,544.4 L1007.8,545.9 L1009.3,544.4 L1010.8,544.5 L1012.3,544.5 L1013.8,543.7 L1015.3,543.9 L1016.8,543.3 L1018.3,543.9 L1019.8,541.8 L1021.3,543.6 L1022.8,543.5 L1024.3,541.0 L1025.8,544.0 L1027.3,543.9 L1028.8,542.3 L1030.3,542.0 L1031.8,543.9 L1033.3,542.8 L1034.8,542.2 L1036.3,542.4 L1037.8,542.8 L1039.3,544.5 L1040.8,543.3 L1042.3,543.1 L1043.8,543.3 L1045.3,543.7 L1046.8,542.6 L1048.3,544.6 L1049.8,543.2 L1051.3,542.9 L1052.8,543.1 L1054.3,543.3 L1055.8,542.7 L1057.3,544.3 L1058.8,542.4 L1060.3,544.9 L1061.8,544.7 L1063.3,542.1 L1064.8,544.3 L1066.3,544.7 L1067.8,543.1 L1069.3,544.5 L1070.8,543.4 L1072.3,544.4 L1073.8,543.2 L1075.3,543.4 L1076.8,543.7 L1078.3,542.7 L1079.8,543.8 L1081.3,543.4 L1082.8,543.2 L1084.3,543.4 L1085.8,543.2 L1087.3,543.1 L1088.8,542.9 L1090.3,544.2 L1091.8,544.1 L1093.3,544.1 L1094.8,543.8 L1096.3,543.4 L1097.8,542.8 L1099.3,544.3 L1100.8,544.2 L1102.3,543.1 L1103.8,544.9 L1105.3,542.7 L1106.8,544.6 L1108.3,542.8 L1109.8,543.5 L1111.3,542.0 L1112.8,544.0 L1114.3,543.9 L1115.8,542.7 L1117.3,543.3 L1118.8,543.2 L1120.3,544.7 L1121.8,544.1 L1123.3,543.4 L1124.8,544.5 L1126.3,543.0 L1127.8,544.3 L1129.3,543.9 L1130.8,543.2 L1132.3,542.1 L1133.8,543.9 L1135.3,543.1 L1136.8,544.1 L1138.3,543.9 L1139.8,541.8 L1141.3,543.7 L1142.8,543.5 L1144.3,545.0 L1145.8,542.7 L1147.3,542.1 L1148.8,542.3 L1150.3,544.7 L1151.8,543.0 L1153.3,546.9 L1154.8,542.7 L1156.3,543.4 L1157.8,543.0 L1159.3,543.0 L1160.8,544.5 L1162.3,543.4 L1163.8,544.7 L1165.3,545.1 L1166.8,544.0 L1168.3,543.9 L1169.8,544.5 L1171.3,543.9 L1172.8,545.4 L1174.3,543.3 L1175.8,544.2 L1177.3,542.8 L1178.8,544.1 L1180.3,543.7 L1181.8,543.1 L1183.3,543.2 L1184.8,544.2 L1185.0,543.8" fill="none" stroke="#443983" stroke-width="3.8" stroke-linejoin="round" stroke-linecap="butt"/>
<path d="M203.8,364.0 L205.3,364.0 L206.8,364.0 L208.3,364.0 L209.8,364.0 L211.3,364.0 L212.8,363.9 L214.3,363.9 L215.8,363.9 L217.3,363.8 L218.8,363.8 L220.3,363.7 L221.8,363.6 L223.3,363.6 L224.8,363.5 L226.3,363.4 L227.8,363.3 L229.3,363.0 L230.8,362.6 L232.3,362.2 L233.8,361.6 L235.3,361.0 L236.8,360.3 L238.3,359.7 L239.8,358.9 L241.3,358.0 L242.8,356.8 L244.3,355.5 L245.8,354.1 L247.3,352.5 L248.8,350.9 L250.3,349.3 L251.8,347.6 L253.3,346.0 L254.8,344.4 L256.3,342.6 L257.8,340.8 L259.3,338.9 L260.8,337.0 L262.3,335.0 L263.8,332.9 L265.3,330.8 L266.8,328.5 L268.3,326.2 L269.8,323.8 L271.3,321.3 L272.8,318.7 L274.3,316.0 L275.8,313.2 L277.3,310.3 L278.8,307.4 L280.3,304.3 L281.8,301.1 L283.3,297.7 L284.8,294.3 L286.3,290.7 L287.8,287.0 L289.3,283.2 L290.8,278.8 L292.3,274.2 L293.8,269.7 L295.3,265.6 L296.8,262.3 L298.3,259.2 L299.8,256.4 L301.3,254.0 L302.8,252.6 L304.3,251.8 L305.8,251.2 L307.3,250.8 L308.8,250.5 L310.3,250.5 L311.8,250.9 L313.3,251.7 L314.8,252.6 L316.3,253.7 L317.8,254.7 L319.3,255.7 L320.8,256.9 L322.3,258.1 L323.8,259.5 L325.3,260.8 L326.8,262.1 L328.3,263.2 L329.8,264.5 L331.3,265.8 L332.8,267.2 L334.3,268.5 L335.8,269.8 L337.3,270.9 L338.8,271.8 L340.3,272.3 L341.8,272.5 L343.3,272.4 L344.8,272.2 L346.3,271.7 L347.8,271.2 L349.3,270.6 L350.8,269.9 L352.3,269.2 L353.8,268.5 L355.3,267.8 L356.8,267.0 L358.3,265.9 L359.8,264.9 L361.3,264.1 L362.8,263.6 L364.3,263.4 L365.8,263.2 L367.3,263.0 L368.8,262.9 L370.3,262.9 L371.8,263.1 L373.3,263.7 L374.8,264.6 L376.3,265.6 L377.8,266.7 L379.3,268.4 L380.8,270.7 L382.3,273.4 L383.8,276.1 L385.3,279.1 L386.8,282.6 L388.3,286.1 L389.8,289.6 L391.3,293.0 L392.8,296.6 L394.3,299.9 L395.8,302.5 L397.3,304.5 L398.8,306.4 L400.3,307.9 L401.8,308.6 L403.3,308.5 L404.8,307.9 L406.3,307.2 L407.8,306.2 L409.3,304.4 L410.8,302.1 L412.3,299.6 L413.8,297.3 L415.3,295.1 L416.8,292.8 L418.3,290.4 L419.8,287.9 L421.3,285.1 L422.8,282.0 L424.3,278.4 L425.8,274.4 L427.3,270.1 L428.8,265.7 L430.3,261.3 L431.8,256.6 L433.3,251.7 L434.8,246.5 L436.3,240.9 L437.8,234.7 L439.3,228.2 L440.8,222.2 L442.3,216.4 L443.8,210.6 L445.3,204.5 L446.8,197.9 L448.3,191.0 L449.8,183.8 L451.3,176.5 L452.8,168.7 L454.3,160.7 L455.8,152.6 L457.3,144.7 L458.8,136.8 L460.3,129.0 L461.8,121.2 L463.3,113.4 L464.8,105.7 L466.3,99.1 L467.8,93.9 L469.3,89.3 L470.8,85.6 L472.3,83.7 L473.8,84.3 L475.3,86.6 L476.8,89.7 L478.3,94.0 L479.8,100.4 L481.3,107.7 L482.8,115.3 L484.3,123.4 L485.8,131.5 L487.3,139.7 L488.8,148.2 L490.3,156.8 L491.8,165.4 L493.3,174.1 L494.8,183.1 L496.3,192.4 L497.8,202.2 L499.3,212.3 L500.8,222.9 L502.3,234.1 L503.8,244.2 L505.3,250.0 L506.8,244.7 L508.3,234.3 L509.8,220.0 L511.3,203.4 L512.8,185.6 L514.3,167.4 L515.8,152.8 L517.3,140.3 L518.8,132.8 L520.3,128.0 L521.8,127.4 L523.3,129.5 L524.8,132.9 L526.3,138.1 L527.8,146.8 L529.3,157.3 L530.8,168.4 L532.3,180.7 L533.8,193.9 L535.3,208.6 L536.8,220.3 L538.3,228.6 L539.8,234.5 L541.3,239.6 L542.8,245.3 L544.3,252.0 L545.8,258.4 L547.3,264.1 L548.8,270.2 L550.3,276.5 L551.8,283.0 L553.3,289.9 L554.8,296.8 L556.3,303.0 L557.8,308.6 L559.3,313.8 L560.8,318.6 L562.3,322.7 L563.8,326.5 L565.3,330.1 L566.8,333.6 L568.3,337.1 L569.8,340.6 L571.3,344.2 L572.8,348.0 L574.3,352.0 L575.8,356.0 L577.3,359.9 L578.8,363.7 L580.3,367.3 L581.8,370.7 L583.3,374.1 L584.8,377.5 L586.3,381.5 L587.8,385.5 L589.3,389.4 L590.8,393.0 L592.3,396.4 L593.8,399.6 L595.3,402.6 L596.8,405.6 L598.3,408.5 L599.8,411.3 L601.3,414.1 L602.8,416.9 L604.3,419.6 L605.8,422.4 L607.3,425.1 L608.8,427.7 L610.3,430.2 L611.8,432.7 L613.3,435.0 L614.8,437.3 L616.3,439.6 L617.8,441.7 L619.3,443.8 L620.8,445.8 L622.3,447.8 L623.8,449.6 L625.3,451.6 L626.8,453.4 L628.3,455.1 L629.8,456.9 L631.3,458.5 L632.8,460.2 L634.3,461.8 L635.8,463.5 L637.3,465.0 L638.8,466.5 L640.3,468.0 L641.8,469.3 L643.3,471.0 L644.8,472.3 L646.3,473.8 L647.8,475.0 L649.3,476.5 L650.8,477.8 L652.3,479.2 L653.8,480.4 L655.3,481.8 L656.8,483.0 L658.3,484.2 L659.8,485.5 L661.3,486.8 L662.8,488.1 L664.3,489.4 L665.8,490.5 L667.3,491.5 L668.8,492.8 L670.3,493.8 L671.8,494.9 L673.3,495.9 L674.8,496.9 L676.3,497.7 L677.8,498.9 L679.3,499.6 L680.8,500.5 L682.3,501.7 L683.8,502.4 L685.3,503.2 L686.8,504.4 L688.3,505.3 L689.8,506.0 L691.3,507.0 L692.8,507.8 L694.3,508.8 L695.8,509.5 L697.3,510.4 L698.8,511.2 L700.3,511.8 L701.8,512.8 L703.3,513.2 L704.8,514.0 L706.3,514.9 L707.8,515.4 L709.3,516.0 L710.8,516.6 L712.3,517.2 L713.8,517.9 L715.3,518.2 L716.8,518.9 L718.3,519.3 L719.8,519.7 L721.3,520.2 L722.8,520.8 L724.3,521.3 L725.8,521.2 L727.3,521.6 L728.8,521.9 L730.3,522.4 L731.8,522.4 L733.3,523.0 L734.8,523.2 L736.3,523.5 L737.8,524.4 L739.3,524.5 L740.8,524.7 L742.3,524.9 L743.8,525.2 L745.3,525.7 L746.8,525.8 L748.3,525.6 L749.8,526.1 L751.3,525.5 L752.8,526.3 L754.3,526.6 L755.8,526.8 L757.3,526.7 L758.8,526.4 L760.3,526.7 L761.8,527.2 L763.3,527.4 L764.8,527.4 L766.3,527.9 L767.8,528.0 L769.3,528.0 L770.8,528.2 L772.3,528.5 L773.8,528.1 L775.3,529.0 L776.8,529.0 L778.3,529.4 L779.8,529.9 L781.3,529.5 L782.8,529.9 L784.3,530.1 L785.8,530.8 L787.3,529.9 L788.8,530.8 L790.3,531.1 L791.8,531.0 L793.3,531.2 L794.8,531.4 L796.3,531.6 L797.8,531.8 L799.3,532.1 L800.8,532.1 L802.3,532.3 L803.8,532.5 L805.3,533.1 L806.8,532.4 L808.3,533.1 L809.8,533.4 L811.3,533.3 L812.8,533.5 L814.3,534.6 L815.8,534.1 L817.3,534.5 L818.8,534.2 L820.3,534.8 L821.8,534.8 L823.3,535.3 L824.8,534.6 L826.3,535.7 L827.8,535.4 L829.3,535.3 L830.8,535.0 L832.3,535.9 L833.8,536.4 L835.3,536.0 L836.8,536.7 L838.3,535.9 L839.8,536.2 L841.3,536.5 L842.8,537.0 L844.3,537.1 L845.8,536.8 L847.3,537.4 L848.8,536.7 L850.3,536.8 L851.8,537.8 L853.3,537.7 L854.8,538.0 L856.3,537.4 L857.8,536.9 L859.3,538.4 L860.8,538.1 L862.3,537.4 L863.8,537.9 L865.3,537.6 L866.8,538.0 L868.3,538.9 L869.8,539.2 L871.3,538.4 L872.8,538.6 L874.3,538.4 L875.8,539.0 L877.3,538.0 L878.8,537.9 L880.3,538.4 L881.8,539.4 L883.3,538.6 L884.8,540.1 L886.3,540.2 L887.8,539.2 L889.3,538.9 L890.8,538.7 L892.3,539.6 L893.8,539.5 L895.3,540.0 L896.8,540.1 L898.3,540.0 L899.8,540.2 L901.3,540.0 L902.8,540.3 L904.3,539.4 L905.8,540.6 L907.3,540.8 L908.8,540.5 L910.3,540.0 L911.8,541.0 L913.3,541.1 L914.8,541.3 L916.3,540.7 L917.8,541.8 L919.3,540.8 L920.8,541.4 L922.3,541.5 L923.8,540.6 L925.3,542.0 L926.8,541.2 L928.3,543.0 L929.8,542.4 L931.3,541.8 L932.8,542.7 L934.3,542.2 L935.8,543.0 L937.3,542.8 L938.8,543.3 L940.3,543.7 L941.8,544.2 L943.3,543.1 L944.8,543.5 L946.3,542.9 L947.8,543.7 L949.3,544.2 L950.8,544.6 L952.3,542.9 L953.8,544.9 L955.3,543.4 L956.8,544.1 L958.3,544.3 L959.8,543.3 L961.3,543.3 L962.8,544.3 L964.3,544.6 L965.8,544.6 L967.3,543.7 L968.8,544.2 L970.3,544.9 L971.8,544.6 L973.3,544.2 L974.8,545.3 L976.3,544.5 L977.8,543.8 L979.3,544.2 L980.8,544.0 L982.3,544.7 L983.8,544.7 L985.3,545.2 L986.8,544.8 L988.3,543.3 L989.8,544.2 L991.3,544.0 L992.8,543.7 L994.3,543.5 L995.8,543.5 L997.3,542.8 L998.8,543.4 L1000.3,543.7 L1001.8,544.0 L1003.3,543.3 L1004.8,542.9 L1006.3,542.8 L1007.8,542.7 L1009.3,543.3 L1010.8,543.3 L1012.3,543.2 L1013.8,544.5 L1015.3,541.8 L1016.8,542.8 L1018.3,542.5 L1019.8,543.7 L1021.3,543.0 L1022.8,542.6 L1024.3,542.8 L1025.8,543.5 L1027.3,542.6 L1028.8,541.8 L1030.3,542.2 L1031.8,541.7 L1033.3,542.7 L1034.8,541.2 L1036.3,542.1 L1037.8,543.4 L1039.3,543.6 L1040.8,542.7 L1042.3,542.5 L1043.8,543.1 L1045.3,542.7 L1046.8,542.1 L1048.3,543.0 L1049.8,542.4 L1051.3,543.5 L1052.8,542.1 L1054.3,543.9 L1055.8,542.7 L1057.3,544.4 L1058.8,542.0 L1060.3,542.3 L1061.8,543.3 L1063.3,542.4 L1064.8,543.7 L1066.3,542.5 L1067.8,543.3 L1069.3,543.0 L1070.8,541.9 L1072.3,543.4 L1073.8,543.5 L1075.3,542.4 L1076.8,543.2 L1078.3,542.8 L1079.8,543.5 L1081.3,542.2 L1082.8,542.1 L1084.3,542.4 L1085.8,542.1 L1087.3,542.1 L1088.8,542.2 L1090.3,544.1 L1091.8,543.9 L1093.3,544.1 L1094.8,543.9 L1096.3,543.4 L1097.8,541.9 L1099.3,542.9 L1100.8,544.1 L1102.3,543.4 L1103.8,543.5 L1105.3,543.7 L1106.8,544.2 L1108.3,542.8 L1109.8,543.1 L1111.3,542.9 L1112.8,542.8 L1114.3,543.2 L1115.8,542.6 L1117.3,541.8 L1118.8,542.9 L1120.3,543.3 L1121.8,543.0 L1123.3,543.4 L1124.8,544.1 L1126.3,542.7 L1127.8,542.3 L1129.3,543.4 L1130.8,543.3 L1132.3,542.9 L1133.8,542.5 L1135.3,542.8 L1136.8,541.9 L1138.3,542.1 L1139.8,543.0 L1141.3,542.3 L1142.8,542.7 L1144.3,542.6 L1145.8,543.5 L1147.3,544.2 L1148.8,544.2 L1150.3,543.4 L1151.8,542.4 L1153.3,543.3 L1154.8,543.4 L1156.3,541.2 L1157.8,541.1 L1159.3,543.1 L1160.8,541.6 L1162.3,543.6 L1163.8,543.8 L1165.3,543.3 L1166.8,543.2 L1168.3,542.6 L1169.8,543.1 L1171.3,542.2 L1172.8,543.0 L1174.3,543.9 L1175.8,543.9 L1177.3,544.1 L1178.8,542.5 L1180.3,542.5 L1181.8,542.1 L1183.3,543.1 L1184.8,541.5 L1185.0,544.2" fill="none" stroke="#3b528b" stroke-width="3.8" stroke-linejoin="round" stroke-linecap="butt"/>
<path d="M203.8,364.4 L205.3,364.4 L206.8,364.4 L208.3,364.4 L209.8,364.4 L211.3,364.4 L212.8,364.4 L214.3,364.3 L215.8,364.3 L217.3,364.2 L218.8,364.2 L220.3,364.1 L221.8,364.1 L223.3,364.0 L224.8,364.0 L226.3,363.9 L227.8,363.7 L229.3,363.5 L230.8,363.1 L232.3,362.6 L233.8,362.1 L235.3,361.5 L236.8,360.9 L238.3,360.2 L239.8,359.4 L241.3,358.5 L242.8,357.4 L244.3,356.1 L245.8,354.7 L247.3,353.2 L248.8,351.6 L250.3,350.0 L251.8,348.4 L253.3,346.8 L254.8,345.2 L256.3,343.4 L257.8,341.6 L259.3,339.8 L260.8,337.8 L262.3,335.8 L263.8,333.8 L265.3,331.7 L266.8,329.4 L268.3,327.1 L269.8,324.7 L271.3,322.2 L272.8,319.7 L274.3,317.0 L275.8,314.3 L277.3,311.4 L278.8,308.5 L280.3,305.5 L281.8,302.3 L283.3,299.0 L284.8,295.5 L286.3,292.0 L287.8,288.4 L289.3,284.6 L290.8,280.3 L292.3,275.8 L293.8,271.3 L295.3,267.3 L296.8,264.1 L298.3,261.1 L299.8,258.4 L301.3,256.2 L302.8,254.9 L304.3,254.3 L305.8,253.9 L307.3,253.5 L308.8,253.3 L310.3,253.3 L311.8,253.8 L313.3,254.6 L314.8,255.6 L316.3,256.7 L317.8,257.8 L319.3,258.8 L320.8,260.0 L322.3,261.2 L323.8,262.5 L325.3,263.8 L326.8,265.1 L328.3,266.2 L329.8,267.4 L331.3,268.8 L332.8,270.1 L334.3,271.4 L335.8,272.6 L337.3,273.7 L338.8,274.5 L340.3,275.1 L341.8,275.3 L343.3,275.2 L344.8,275.0 L346.3,274.6 L347.8,274.2 L349.3,273.6 L350.8,273.1 L352.3,272.5 L353.8,271.9 L355.3,271.3 L356.8,270.5 L358.3,269.6 L359.8,268.8 L361.3,268.0 L362.8,267.6 L364.3,267.5 L365.8,267.4 L367.3,267.3 L368.8,267.2 L370.3,267.2 L371.8,267.5 L373.3,268.1 L374.8,269.0 L376.3,270.1 L377.8,271.3 L379.3,273.0 L380.8,275.3 L382.3,277.8 L383.8,280.5 L385.3,283.4 L386.8,286.6 L388.3,290.0 L389.8,293.2 L391.3,296.4 L392.8,299.8 L394.3,302.8 L395.8,305.2 L397.3,307.0 L398.8,308.6 L400.3,309.9 L401.8,310.5 L403.3,310.3 L404.8,309.8 L406.3,309.0 L407.8,308.0 L409.3,306.3 L410.8,304.1 L412.3,301.7 L413.8,299.4 L415.3,297.3 L416.8,295.1 L418.3,292.8 L419.8,290.4 L421.3,287.7 L422.8,284.6 L424.3,281.1 L425.8,277.2 L427.3,272.9 L428.8,268.6 L430.3,264.2 L431.8,259.6 L433.3,254.7 L434.8,249.5 L436.3,243.9 L437.8,237.6 L439.3,231.1 L440.8,225.0 L442.3,219.4 L443.8,213.7 L445.3,207.7 L446.8,201.2 L448.3,194.3 L449.8,187.3 L451.3,179.9 L452.8,172.1 L454.3,163.9 L455.8,155.8 L457.3,147.8 L458.8,139.8 L460.3,131.9 L461.8,124.1 L463.3,116.4 L464.8,108.7 L466.3,102.0 L467.8,96.6 L469.3,91.7 L470.8,87.7 L472.3,85.6 L473.8,86.2 L475.3,88.6 L476.8,92.0 L478.3,96.5 L479.8,103.4 L481.3,111.0 L482.8,118.7 L484.3,126.6 L485.8,134.7 L487.3,142.9 L488.8,151.3 L490.3,159.9 L491.8,168.5 L493.3,177.3 L494.8,186.3 L496.3,195.6 L497.8,205.4 L499.3,215.4 L500.8,225.7 L502.3,236.6 L503.8,245.4 L505.3,250.4 L506.8,245.8 L508.3,235.9 L509.8,221.5 L511.3,204.6 L512.8,186.7 L514.3,168.6 L515.8,154.1 L517.3,141.7 L518.8,134.1 L520.3,129.2 L521.8,128.7 L523.3,130.9 L524.8,134.4 L526.3,139.9 L527.8,148.9 L529.3,159.7 L530.8,171.1 L532.3,184.0 L533.8,198.0 L535.3,213.5 L536.8,224.8 L538.3,232.5 L539.8,238.2 L541.3,243.1 L542.8,248.4 L544.3,254.6 L545.8,260.3 L547.3,265.3 L548.8,270.7 L550.3,276.3 L551.8,282.1 L553.3,288.3 L554.8,294.7 L556.3,300.6 L557.8,306.0 L559.3,311.3 L560.8,316.2 L562.3,320.3 L563.8,323.9 L565.3,327.3 L566.8,330.7 L568.3,334.0 L569.8,337.4 L571.3,340.8 L572.8,344.4 L574.3,348.0 L575.8,351.6 L577.3,355.2 L578.8,358.7 L580.3,362.1 L581.8,365.4 L583.3,368.8 L584.8,372.3 L586.3,376.6 L587.8,381.0 L589.3,385.2 L590.8,389.1 L592.3,392.6 L593.8,395.8 L595.3,398.9 L596.8,401.9 L598.3,404.8 L599.8,407.7 L601.3,410.5 L602.8,413.3 L604.3,416.2 L605.8,418.9 L607.3,421.7 L608.8,424.4 L610.3,427.0 L611.8,429.5 L613.3,432.0 L614.8,434.4 L616.3,436.7 L617.8,439.0 L619.3,441.2 L620.8,443.3 L622.3,445.4 L623.8,447.4 L625.3,449.3 L626.8,451.1 L628.3,452.9 L629.8,454.6 L631.3,456.3 L632.8,458.1 L634.3,459.6 L635.8,461.1 L637.3,462.9 L638.8,464.4 L640.3,465.9 L641.8,467.6 L643.3,468.9 L644.8,470.4 L646.3,472.1 L647.8,473.3 L649.3,474.8 L650.8,476.1 L652.3,477.4 L653.8,478.5 L655.3,479.8 L656.8,481.2 L658.3,482.4 L659.8,483.8 L661.3,485.1 L662.8,486.4 L664.3,487.6 L665.8,489.0 L667.3,490.3 L668.8,491.4 L670.3,492.3 L671.8,493.4 L673.3,494.6 L674.8,495.3 L676.3,496.5 L677.8,497.6 L679.3,498.4 L680.8,499.3 L682.3,500.4 L683.8,501.2 L685.3,502.1 L686.8,503.0 L688.3,504.2 L689.8,504.8 L691.3,506.0 L692.8,506.8 L694.3,507.6 L695.8,508.5 L697.3,509.3 L698.8,510.1 L700.3,511.0 L701.8,511.6 L703.3,512.6 L704.8,513.3 L706.3,513.9 L707.8,514.6 L709.3,515.4 L710.8,515.8 L712.3,516.5 L713.8,516.7 L715.3,517.6 L716.8,518.2 L718.3,518.3 L719.8,519.4 L721.3,519.6 L722.8,519.8 L724.3,520.3 L725.8,520.6 L727.3,521.5 L728.8,521.9 L730.3,521.8 L731.8,521.8 L733.3,522.3 L734.8,522.8 L736.3,523.0 L737.8,523.3 L739.3,523.8 L740.8,523.6 L742.3,524.2 L743.8,524.5 L745.3,524.6 L746.8,524.9 L748.3,525.2 L749.8,525.3 L751.3,525.5 L752.8,525.7 L754.3,525.6 L755.8,525.7 L757.3,526.2 L758.8,525.9 L760.3,525.9 L761.8,526.4 L763.3,526.6 L764.8,526.3 L766.3,526.9 L767.8,527.3 L769.3,527.5 L770.8,527.3 L772.3,527.7 L773.8,528.1 L775.3,527.8 L776.8,528.6 L778.3,528.3 L779.8,528.1 L781.3,529.4 L782.8,529.0 L784.3,529.6 L785.8,529.8 L787.3,529.5 L788.8,530.4 L790.3,530.2 L791.8,529.9 L793.3,530.3 L794.8,530.8 L796.3,530.8 L797.8,531.1 L799.3,531.2 L800.8,531.0 L802.3,532.1 L803.8,531.9 L805.3,532.5 L806.8,532.4 L808.3,532.1 L809.8,532.6 L811.3,533.1 L812.8,532.7 L814.3,533.0 L815.8,533.2 L817.3,533.5 L818.8,533.2 L820.3,533.2 L821.8,534.0 L823.3,533.9 L824.8,534.4 L826.3,534.0 L827.8,534.8 L829.3,535.0 L830.8,535.3 L832.3,535.2 L833.8,535.3 L835.3,535.2 L836.8,535.0 L838.3,535.9 L839.8,535.7 L841.3,535.2 L842.8,536.2 L844.3,536.5 L845.8,535.8 L847.3,536.3 L848.8,536.1 L850.3,536.9 L851.8,536.3 L853.3,537.2 L854.8,536.9 L856.3,536.8 L857.8,536.6 L859.3,537.2 L860.8,536.7 L862.3,537.2 L863.8,537.2 L865.3,537.7 L866.8,538.1 L868.3,537.2 L869.8,538.1 L871.3,538.0 L872.8,538.0 L874.3,537.9 L875.8,537.9 L877.3,538.8 L878.8,538.0 L880.3,536.7 L881.8,538.3 L883.3,538.4 L884.8,538.8 L886.3,538.1 L887.8,539.0 L889.3,538.5 L890.8,539.1 L892.3,539.4 L893.8,538.3 L895.3,538.9 L896.8,539.6 L898.3,539.8 L899.8,538.8 L901.3,539.1 L902.8,539.7 L904.3,539.0 L905.8,539.3 L907.3,539.8 L908.8,539.7 L910.3,540.0 L911.8,539.6 L913.3,539.9 L914.8,540.6 L916.3,540.0 L917.8,540.3 L919.3,540.6 L920.8,540.5 L922.3,540.8 L923.8,540.9 L925.3,541.7 L926.8,541.2 L928.3,541.8 L929.8,542.2 L931.3,542.7 L932.8,541.8 L934.3,542.5 L935.8,542.6 L937.3,541.9 L938.8,542.4 L940.3,542.0 L941.8,542.3 L943.3,541.9 L944.8,543.7 L946.3,542.7 L947.8,543.2 L949.3,542.7 L950.8,543.4 L952.3,542.5 L953.8,542.5 L955.3,542.1 L956.8,543.4 L958.3,544.0 L959.8,543.7 L961.3,543.5 L962.8,543.3 L964.3,544.1 L965.8,544.4 L967.3,543.9 L968.8,543.9 L970.3,544.4 L971.8,543.4 L973.3,542.6 L974.8,543.3 L976.3,543.8 L977.8,543.5 L979.3,543.6 L980.8,544.7 L982.3,543.1 L983.8,543.3 L985.3,543.9 L986.8,542.9 L988.3,543.2 L989.8,541.9 L991.3,543.3 L992.8,543.6 L994.3,543.8 L995.8,543.9 L997.3,543.1 L998.8,543.7 L1000.3,542.8 L1001.8,543.8 L1003.3,542.7 L1004.8,542.8 L1006.3,543.8 L1007.8,542.2 L1009.3,542.1 L1010.8,542.3 L1012.3,541.7 L1013.8,542.2 L1015.3,541.4 L1016.8,542.6 L1018.3,541.7 L1019.8,542.5 L1021.3,542.5 L1022.8,542.0 L1024.3,542.3 L1025.8,542.5 L1027.3,540.4 L1028.8,541.4 L1030.3,542.1 L1031.8,543.0 L1033.3,540.6 L1034.8,543.4 L1036.3,541.6 L1037.8,540.5 L1039.3,541.1 L1040.8,541.1 L1042.3,541.4 L1043.8,540.9 L1045.3,542.3 L1046.8,541.8 L1048.3,542.9 L1049.8,541.8 L1051.3,541.9 L1052.8,541.8 L1054.3,542.4 L1055.8,542.8 L1057.3,542.6 L1058.8,540.9 L1060.3,543.2 L1061.8,542.1 L1063.3,542.5 L1064.8,542.1 L1066.3,542.8 L1067.8,542.2 L1069.3,542.7 L1070.8,541.4 L1072.3,542.4 L1073.8,542.4 L1075.3,542.9 L1076.8,542.8 L1078.3,542.2 L1079.8,542.6 L1081.3,542.5 L1082.8,543.0 L1084.3,542.6 L1085.8,542.6 L1087.3,543.4 L1088.8,541.2 L1090.3,541.5 L1091.8,541.1 L1093.3,542.2 L1094.8,543.0 L1096.3,542.3 L1097.8,541.6 L1099.3,542.1 L1100.8,542.4 L1102.3,542.6 L1103.8,543.1 L1105.3,541.6 L1106.8,542.3 L1108.3,543.2 L1109.8,543.2 L1111.3,542.6 L1112.8,542.3 L1114.3,543.2 L1115.8,543.2 L1117.3,542.6 L1118.8,542.0 L1120.3,542.8 L1121.8,541.1 L1123.3,541.0 L1124.8,543.3 L1126.3,542.1 L1127.8,542.8 L1129.3,541.6 L1130.8,543.3 L1132.3,542.0 L1133.8,540.7 L1135.3,542.9 L1136.8,543.4 L1138.3,542.1 L1139.8,542.0 L1141.3,541.9 L1142.8,541.8 L1144.3,541.7 L1145.8,541.8 L1147.3,542.3 L1148.8,542.8 L1150.3,542.2 L1151.8,541.3 L1153.3,542.3 L1154.8,543.0 L1156.3,542.7 L1157.8,543.0 L1159.3,542.4 L1160.8,542.1 L1162.3,541.7 L1163.8,541.8 L1165.3,541.9 L1166.8,542.9 L1168.3,541.7 L1169.8,544.0 L1171.3,542.3 L1172.8,543.5 L1174.3,541.9 L1175.8,542.9 L1177.3,542.8 L1178.8,542.7 L1180.3,543.5 L1181.8,541.3 L1183.3,541.1 L1184.8,544.0 L1185.0,541.8" fill="none" stroke="#31688e" stroke-width="3.8" stroke-linejoin="round" stroke-linecap="butt"/>
<path d="M203.8,364.7 L205.3,364.7 L206.8,364.7 L208.3,364.7 L209.8,364.7 L211.3,364.7 L212.8,364.6 L214.3,364.6 L215.8,364.6 L217.3,364.5 L218.8,364.5 L220.3,364.4 L221.8,364.4 L223.3,364.3 L224.8,364.3 L226.3,364.2 L227.8,364.0 L229.3,363.8 L230.8,363.4 L232.3,362.9 L233.8,362.4 L235.3,361.8 L236.8,361.2 L238.3,360.5 L239.8,359.8 L241.3,358.9 L242.8,357.8 L244.3,356.5 L245.8,355.1 L247.3,353.6 L248.8,352.1 L250.3,350.5 L251.8,348.9 L253.3,347.3 L254.8,345.7 L256.3,344.0 L257.8,342.2 L259.3,340.3 L260.8,338.4 L262.3,336.4 L263.8,334.4 L265.3,332.3 L266.8,330.1 L268.3,327.8 L269.8,325.4 L271.3,322.9 L272.8,320.3 L274.3,317.7 L275.8,315.0 L277.3,312.2 L278.8,309.3 L280.3,306.3 L281.8,303.1 L283.3,299.8 L284.8,296.4 L286.3,292.9 L287.8,289.3 L289.3,285.5 L290.8,281.3 L292.3,276.8 L293.8,272.3 L295.3,268.4 L296.8,265.3 L298.3,262.4 L299.8,259.8 L301.3,257.7 L302.8,256.5 L304.3,256.0 L305.8,255.6 L307.3,255.3 L308.8,255.2 L310.3,255.2 L311.8,255.7 L313.3,256.5 L314.8,257.6 L316.3,258.7 L317.8,259.8 L319.3,260.9 L320.8,262.0 L322.3,263.3 L323.8,264.6 L325.3,265.9 L326.8,267.1 L328.3,268.2 L329.8,269.4 L331.3,270.7 L332.8,272.0 L334.3,273.3 L335.8,274.5 L337.3,275.6 L338.8,276.4 L340.3,277.0 L341.8,277.1 L343.3,277.1 L344.8,276.9 L346.3,276.6 L347.8,276.2 L349.3,275.7 L350.8,275.2 L352.3,274.6 L353.8,274.1 L355.3,273.6 L356.8,272.9 L358.3,272.1 L359.8,271.3 L361.3,270.6 L362.8,270.3 L364.3,270.2 L365.8,270.2 L367.3,270.1 L368.8,270.1 L370.3,270.1 L371.8,270.4 L373.3,271.1 L374.8,272.0 L376.3,273.1 L377.8,274.3 L379.3,276.0 L380.8,278.3 L382.3,280.8 L383.8,283.4 L385.3,286.2 L386.8,289.3 L388.3,292.5 L389.8,295.6 L391.3,298.7 L392.8,301.9 L394.3,304.8 L395.8,307.0 L397.3,308.6 L398.8,310.1 L400.3,311.2 L401.8,311.7 L403.3,311.6 L404.8,311.0 L406.3,310.2 L407.8,309.3 L409.3,307.6 L410.8,305.4 L412.3,303.1 L413.8,300.9 L415.3,298.8 L416.8,296.7 L418.3,294.4 L419.8,292.1 L421.3,289.4 L422.8,286.4 L424.3,282.9 L425.8,279.0 L427.3,274.8 L428.8,270.5 L430.3,266.1 L431.8,261.6 L433.3,256.7 L434.8,251.5 L436.3,245.9 L437.8,239.5 L439.3,233.0 L440.8,227.0 L442.3,221.3 L443.8,215.7 L445.3,209.8 L446.8,203.4 L448.3,196.6 L449.8,189.6 L451.3,182.2 L452.8,174.3 L454.3,166.1 L455.8,157.9 L457.3,149.8 L458.8,141.8 L460.3,133.8 L461.8,126.1 L463.3,118.4 L464.8,110.7 L466.3,103.9 L467.8,98.4 L469.3,93.3 L470.8,89.0 L472.3,86.8 L473.8,87.5 L475.3,90.0 L476.8,93.6 L478.3,98.1 L479.8,105.3 L481.3,113.2 L482.8,120.9 L484.3,128.8 L485.8,136.8 L487.3,145.0 L488.8,153.4 L490.3,161.9 L491.8,170.6 L493.3,179.4 L494.8,188.5 L496.3,197.8 L497.8,207.5 L499.3,217.4 L500.8,227.6 L502.3,238.3 L503.8,246.2 L505.3,250.6 L506.8,246.6 L508.3,236.9 L509.8,222.4 L511.3,205.3 L512.8,187.5 L514.3,169.3 L515.8,154.9 L517.3,142.7 L518.8,135.0 L520.3,130.0 L521.8,129.5 L523.3,131.8 L524.8,135.5 L526.3,141.1 L527.8,150.4 L529.3,161.2 L530.8,172.9 L532.3,186.2 L533.8,200.7 L535.3,216.7 L536.8,227.8 L538.3,235.1 L539.8,240.7 L541.3,245.5 L542.8,250.5 L544.3,256.4 L545.8,261.6 L547.3,266.1 L548.8,271.0 L550.3,276.1 L551.8,281.4 L553.3,287.1 L554.8,292.9 L556.3,298.4 L557.8,303.8 L559.3,309.1 L560.8,314.0 L562.3,317.9 L563.8,321.3 L565.3,324.4 L566.8,327.7 L568.3,330.9 L569.8,334.1 L571.3,337.5 L572.8,340.7 L574.3,344.0 L575.8,347.2 L577.3,350.5 L578.8,353.7 L580.3,356.8 L581.8,360.1 L583.3,363.5 L584.8,367.1 L586.3,371.8 L587.8,376.5 L589.3,381.1 L590.8,385.1 L592.3,388.7 L593.8,392.1 L595.3,395.2 L596.8,398.2 L598.3,401.2 L599.8,404.0 L601.3,406.9 L602.8,409.8 L604.3,412.7 L605.8,415.5 L607.3,418.3 L608.8,421.1 L610.3,423.8 L611.8,426.4 L613.3,428.9 L614.8,431.4 L616.3,433.8 L617.8,436.3 L619.3,438.5 L620.8,440.8 L622.3,443.0 L623.8,445.1 L625.3,446.9 L626.8,448.9 L628.3,450.6 L629.8,452.3 L631.3,454.1 L632.8,455.8 L634.3,457.4 L635.8,459.2 L637.3,460.7 L638.8,462.4 L640.3,464.1 L641.8,465.5 L643.3,467.2 L644.8,468.5 L646.3,470.2 L647.8,471.5 L649.3,472.9 L650.8,474.0 L652.3,475.6 L653.8,476.8 L655.3,478.0 L656.8,479.4 L658.3,480.7 L659.8,482.1 L661.3,483.5 L662.8,484.9 L664.3,486.4 L665.8,487.7 L667.3,488.7 L668.8,490.0 L670.3,491.2 L671.8,492.2 L673.3,493.3 L674.8,494.3 L676.3,495.4 L677.8,496.3 L679.3,497.5 L680.8,498.0 L682.3,499.2 L683.8,500.2 L685.3,500.8 L686.8,501.9 L688.3,502.7 L689.8,503.6 L691.3,504.5 L692.8,505.5 L694.3,506.5 L695.8,507.5 L697.3,508.4 L698.8,509.0 L700.3,509.7 L701.8,510.9 L703.3,511.6 L704.8,511.9 L706.3,513.2 L707.8,513.4 L709.3,514.4 L710.8,514.9 L712.3,515.6 L713.8,516.2 L715.3,516.7 L716.8,517.6 L718.3,517.9 L719.8,518.5 L721.3,519.2 L722.8,519.4 L724.3,519.5 L725.8,520.0 L727.3,520.4 L728.8,520.9 L730.3,521.1 L731.8,521.3 L733.3,521.7 L734.8,521.7 L736.3,522.0 L737.8,522.5 L739.3,523.2 L740.8,523.2 L742.3,523.5 L743.8,524.0 L745.3,524.2 L746.8,524.2 L748.3,524.3 L749.8,524.4 L751.3,524.9 L752.8,525.0 L754.3,524.9 L755.8,525.1 L757.3,524.6 L758.8,525.4 L760.3,525.6 L761.8,525.8 L763.3,526.1 L764.8,525.9 L766.3,526.1 L767.8,526.4 L769.3,527.1 L770.8,526.6 L772.3,526.7 L773.8,527.2 L775.3,527.3 L776.8,527.5 L778.3,528.1 L779.8,528.0 L781.3,528.3 L782.8,528.2 L784.3,528.7 L785.8,529.0 L787.3,529.2 L788.8,529.7 L790.3,529.8 L791.8,530.2 L793.3,529.7 L794.8,530.2 L796.3,530.3 L797.8,530.6 L799.3,530.9 L800.8,530.9 L802.3,531.4 L803.8,531.2 L805.3,531.5 L806.8,531.4 L808.3,531.7 L809.8,532.3 L811.3,531.7 L812.8,532.4 L814.3,532.1 L815.8,532.7 L817.3,533.2 L818.8,532.7 L820.3,533.6 L821.8,533.2 L823.3,533.7 L824.8,533.8 L826.3,533.8 L827.8,534.0 L829.3,534.6 L830.8,533.4 L832.3,534.6 L833.8,534.3 L835.3,534.8 L836.8,534.5 L838.3,534.6 L839.8,534.0 L841.3,535.0 L842.8,534.9 L844.3,535.4 L845.8,535.2 L847.3,536.1 L848.8,535.2 L850.3,536.3 L851.8,535.7 L853.3,535.4 L854.8,536.5 L856.3,536.1 L857.8,536.0 L859.3,536.6 L860.8,535.6 L862.3,536.8 L863.8,537.0 L865.3,537.2 L866.8,536.3 L868.3,537.3 L869.8,537.4 L871.3,536.9 L872.8,537.2 L874.3,537.4 L875.8,537.4 L877.3,537.3 L878.8,537.2 L880.3,537.3 L881.8,537.6 L883.3,537.6 L884.8,537.6 L886.3,537.8 L887.8,537.6 L889.3,538.2 L890.8,538.2 L892.3,537.9 L893.8,538.9 L895.3,538.7 L896.8,538.7 L898.3,538.2 L899.8,538.5 L901.3,537.9 L902.8,538.6 L904.3,538.1 L905.8,538.4 L907.3,539.3 L908.8,538.6 L910.3,539.9 L911.8,539.7 L913.3,539.7 L914.8,539.6 L916.3,539.7 L917.8,540.8 L919.3,539.4 L920.8,539.8 L922.3,540.2 L923.8,541.0 L925.3,539.9 L926.8,539.6 L928.3,539.7 L929.8,541.4 L931.3,541.3 L932.8,541.3 L934.3,540.6 L935.8,541.4 L937.3,541.4 L938.8,541.6 L940.3,542.0 L941.8,542.4 L943.3,541.3 L944.8,541.0 L946.3,541.3 L947.8,542.6 L949.3,542.9 L950.8,542.1 L952.3,542.8 L953.8,542.1 L955.3,543.4 L956.8,543.3 L958.3,542.7 L959.8,542.7 L961.3,542.8 L962.8,542.2 L964.3,544.2 L965.8,543.2 L967.3,543.1 L968.8,544.8 L970.3,543.6 L971.8,542.5 L973.3,542.7 L974.8,544.3 L976.3,543.6 L977.8,543.8 L979.3,543.0 L980.8,541.8 L982.3,543.1 L983.8,541.1 L985.3,541.8 L986.8,542.6 L988.3,542.9 L989.8,543.5 L991.3,542.6 L992.8,541.7 L994.3,543.1 L995.8,541.4 L997.3,542.0 L998.8,542.0 L1000.3,542.2 L1001.8,541.2 L1003.3,543.3 L1004.8,542.3 L1006.3,541.6 L1007.8,542.9 L1009.3,542.1 L1010.8,542.7 L1012.3,541.4 L1013.8,541.7 L1015.3,541.9 L1016.8,540.7 L1018.3,541.5 L1019.8,541.6 L1021.3,542.0 L1022.8,540.7 L1024.3,541.5 L1025.8,542.3 L1027.3,541.9 L1028.8,541.5 L1030.3,540.7 L1031.8,541.8 L1033.3,541.2 L1034.8,541.4 L1036.3,541.5 L1037.8,541.7 L1039.3,541.5 L1040.8,541.3 L1042.3,542.3 L1043.8,541.5 L1045.3,540.9 L1046.8,541.7 L1048.3,541.7 L1049.8,541.5 L1051.3,541.6 L1052.8,541.6 L1054.3,541.4 L1055.8,541.0 L1057.3,541.9 L1058.8,542.4 L1060.3,540.6 L1061.8,540.6 L1063.3,541.5 L1064.8,540.8 L1066.3,539.5 L1067.8,541.5 L1069.3,541.6 L1070.8,542.6 L1072.3,540.8 L1073.8,542.4 L1075.3,542.0 L1076.8,541.8 L1078.3,541.9 L1079.8,541.5 L1081.3,540.9 L1082.8,541.8 L1084.3,541.8 L1085.8,540.3 L1087.3,539.7 L1088.8,541.5 L1090.3,541.4 L1091.8,541.5 L1093.3,540.1 L1094.8,542.1 L1096.3,539.4 L1097.8,541.9 L1099.3,541.2 L1100.8,540.2 L1102.3,542.4 L1103.8,541.9 L1105.3,541.6 L1106.8,541.9 L1108.3,542.0 L1109.8,541.9 L1111.3,539.5 L1112.8,542.3 L1114.3,542.3 L1115.8,540.3 L1117.3,541.7 L1118.8,541.9 L1120.3,543.3 L1121.8,542.9 L1123.3,540.9 L1124.8,542.4 L1126.3,541.1 L1127.8,540.5 L1129.3,541.3 L1130.8,542.2 L1132.3,542.0 L1133.8,540.7 L1135.3,540.7 L1136.8,541.5 L1138.3,541.1 L1139.8,542.3 L1141.3,542.4 L1142.8,542.2 L1144.3,541.9 L1145.8,543.0 L1147.3,542.1 L1148.8,539.7 L1150.3,542.3 L1151.8,541.3 L1153.3,542.7 L1154.8,542.7 L1156.3,542.7 L1157.8,540.7 L1159.3,542.5 L1160.8,539.8 L1162.3,541.8 L1163.8,541.3 L1165.3,541.8 L1166.8,542.4 L1168.3,540.6 L1169.8,542.1 L1171.3,542.3 L1172.8,540.3 L1174.3,542.1 L1175.8,540.7 L1177.3,542.9 L1178.8,540.5 L1180.3,541.8 L1181.8,539.8 L1183.3,539.6 L1184.8,541.3 L1185.0,541.6" fill="none" stroke="#287c8e" stroke-width="3.8" stroke-linejoin="round" stroke-linecap="butt"/>
<path d="M203.8,365.0 L205.3,365.0 L206.8,365.0 L208.3,365.0 L209.8,365.0 L211.3,364.9 L212.8,364.9 L214.3,364.9 L215.8,364.9 L217.3,364.8 L218.8,364.8 L220.3,364.7 L221.8,364.7 L223.3,364.6 L224.8,364.6 L226.3,364.5 L227.8,364.3 L229.3,364.1 L230.8,363.7 L232.3,363.3 L233.8,362.7 L235.3,362.2 L236.8,361.5 L238.3,360.9 L239.8,360.2 L241.3,359.3 L242.8,358.2 L244.3,356.9 L245.8,355.5 L247.3,354.1 L248.8,352.5 L250.3,351.0 L251.8,349.4 L253.3,347.9 L254.8,346.2 L256.3,344.5 L257.8,342.7 L259.3,340.9 L260.8,339.0 L262.3,337.0 L263.8,335.0 L265.3,332.9 L266.8,330.7 L268.3,328.4 L269.8,326.0 L271.3,323.6 L272.8,321.0 L274.3,318.4 L275.8,315.7 L277.3,312.9 L278.8,310.0 L280.3,307.0 L281.8,303.9 L283.3,300.6 L284.8,297.2 L286.3,293.8 L287.8,290.2 L289.3,286.5 L290.8,282.3 L292.3,277.8 L293.8,273.4 L295.3,269.5 L296.8,266.5 L298.3,263.7 L299.8,261.2 L301.3,259.2 L302.8,258.1 L304.3,257.7 L305.8,257.4 L307.3,257.1 L308.8,257.0 L310.3,257.1 L311.8,257.6 L313.3,258.4 L314.8,259.5 L316.3,260.7 L317.8,261.9 L319.3,262.9 L320.8,264.1 L322.3,265.4 L323.8,266.6 L325.3,267.9 L326.8,269.1 L328.3,270.2 L329.8,271.4 L331.3,272.7 L332.8,274.0 L334.3,275.3 L335.8,276.4 L337.3,277.5 L338.8,278.3 L340.3,278.8 L341.8,279.0 L343.3,278.9 L344.8,278.8 L346.3,278.5 L347.8,278.1 L349.3,277.7 L350.8,277.3 L352.3,276.8 L353.8,276.4 L355.3,275.9 L356.8,275.3 L358.3,274.6 L359.8,273.8 L361.3,273.3 L362.8,273.0 L364.3,273.0 L365.8,273.0 L367.3,273.0 L368.8,273.0 L370.3,273.0 L371.8,273.3 L373.3,274.0 L374.8,275.0 L376.3,276.1 L377.8,277.3 L379.3,279.1 L380.8,281.3 L382.3,283.8 L383.8,286.3 L385.3,289.1 L386.8,292.1 L388.3,295.1 L389.8,298.0 L391.3,301.0 L392.8,304.0 L394.3,306.7 L395.8,308.8 L397.3,310.2 L398.8,311.5 L400.3,312.5 L401.8,313.0 L403.3,312.8 L404.8,312.3 L406.3,311.5 L407.8,310.5 L409.3,308.8 L410.8,306.7 L412.3,304.5 L413.8,302.3 L415.3,300.3 L416.8,298.2 L418.3,296.0 L419.8,293.7 L421.3,291.1 L422.8,288.2 L424.3,284.7 L425.8,280.8 L427.3,276.7 L428.8,272.4 L430.3,268.1 L431.8,263.5 L433.3,258.7 L434.8,253.5 L436.3,247.9 L437.8,241.5 L439.3,234.9 L440.8,228.9 L442.3,223.3 L443.8,217.8 L445.3,211.9 L446.8,205.6 L448.3,198.9 L449.8,191.8 L451.3,184.5 L452.8,176.6 L454.3,168.3 L455.8,160.0 L457.3,151.9 L458.8,143.8 L460.3,135.7 L461.8,128.0 L463.3,120.4 L464.8,112.7 L466.3,105.8 L467.8,100.2 L469.3,94.9 L470.8,90.4 L472.3,88.1 L473.8,88.8 L475.3,91.4 L476.8,95.1 L478.3,99.8 L479.8,107.3 L481.3,115.4 L482.8,123.1 L484.3,130.9 L485.8,138.9 L487.3,147.1 L488.8,155.4 L490.3,164.0 L491.8,172.7 L493.3,181.5 L494.8,190.6 L496.3,199.9 L497.8,209.6 L499.3,219.5 L500.8,229.5 L502.3,240.0 L503.8,247.0 L505.3,250.8 L506.8,247.4 L508.3,237.9 L509.8,223.4 L511.3,206.1 L512.8,188.2 L514.3,170.1 L515.8,155.7 L517.3,143.6 L518.8,135.9 L520.3,130.8 L521.8,130.4 L523.3,132.8 L524.8,136.5 L526.3,142.3 L527.8,151.8 L529.3,162.8 L530.8,174.7 L532.3,188.4 L533.8,203.4 L535.3,220.0 L536.8,230.9 L538.3,237.7 L539.8,243.1 L541.3,247.8 L542.8,252.5 L544.3,258.1 L545.8,262.9 L547.3,267.0 L548.8,271.3 L550.3,275.9 L551.8,280.7 L553.3,285.8 L554.8,291.1 L556.3,296.3 L557.8,301.5 L559.3,306.8 L560.8,311.8 L562.3,315.6 L563.8,318.8 L565.3,321.6 L566.8,324.8 L568.3,327.9 L569.8,330.9 L571.3,334.1 L572.8,337.1 L574.3,340.0 L575.8,342.9 L577.3,345.7 L578.8,348.6 L580.3,351.6 L581.8,354.8 L583.3,358.2 L584.8,361.9 L586.3,366.9 L587.8,372.0 L589.3,376.9 L590.8,381.2 L592.3,384.9 L593.8,388.3 L595.3,391.5 L596.8,394.6 L598.3,397.5 L599.8,400.4 L601.3,403.3 L602.8,406.2 L604.3,409.2 L605.8,412.1 L607.3,415.0 L608.8,417.8 L610.3,420.6 L611.8,423.2 L613.3,425.9 L614.8,428.5 L616.3,431.0 L617.8,433.5 L619.3,435.9 L620.8,438.3 L622.3,440.5 L623.8,442.7 L625.3,444.6 L626.8,446.6 L628.3,448.3 L629.8,450.2 L631.3,451.9 L632.8,453.5 L634.3,455.2 L635.8,456.9 L637.3,458.6 L638.8,460.3 L640.3,462.0 L641.8,463.6 L643.3,465.2 L644.8,466.8 L646.3,468.2 L647.8,469.7 L649.3,471.2 L650.8,472.3 L652.3,473.8 L653.8,474.9 L655.3,476.1 L656.8,477.6 L658.3,478.8 L659.8,480.2 L661.3,481.6 L662.8,483.2 L664.3,484.6 L665.8,486.0 L667.3,487.2 L668.8,488.6 L670.3,489.7 L671.8,490.8 L673.3,491.6 L674.8,492.9 L676.3,494.1 L677.8,495.2 L679.3,495.7 L680.8,497.0 L682.3,497.9 L683.8,498.9 L685.3,499.6 L686.8,500.7 L688.3,501.9 L689.8,502.3 L691.3,503.8 L692.8,504.5 L694.3,505.4 L695.8,506.4 L697.3,507.3 L698.8,508.0 L700.3,508.9 L701.8,509.9 L703.3,510.0 L704.8,511.5 L706.3,511.9 L707.8,512.6 L709.3,513.4 L710.8,514.2 L712.3,514.7 L713.8,515.1 L715.3,516.0 L716.8,516.8 L718.3,517.3 L719.8,517.2 L721.3,518.6 L722.8,518.7 L724.3,519.1 L725.8,519.6 L727.3,519.8 L728.8,520.3 L730.3,520.6 L731.8,520.8 L733.3,521.0 L734.8,521.4 L736.3,521.4 L737.8,522.0 L739.3,521.9 L740.8,522.6 L742.3,523.0 L743.8,523.2 L745.3,523.6 L746.8,523.5 L748.3,524.1 L749.8,524.0 L751.3,524.1 L752.8,524.2 L754.3,523.9 L755.8,523.9 L757.3,524.3 L758.8,524.3 L760.3,524.8 L761.8,525.4 L763.3,525.1 L764.8,525.0 L766.3,525.1 L767.8,525.6 L769.3,525.9 L770.8,526.4 L772.3,526.3 L773.8,526.3 L775.3,526.6 L776.8,526.9 L778.3,527.2 L779.8,527.5 L781.3,528.3 L782.8,528.0 L784.3,528.6 L785.8,528.7 L787.3,528.6 L788.8,528.3 L790.3,529.1 L791.8,529.1 L793.3,529.5 L794.8,529.5 L796.3,530.0 L797.8,530.2 L799.3,530.2 L800.8,530.5 L802.3,530.4 L803.8,530.5 L805.3,530.6 L806.8,531.0 L808.3,530.8 L809.8,531.1 L811.3,531.5 L812.8,531.8 L814.3,531.9 L815.8,531.7 L817.3,531.6 L818.8,531.8 L820.3,532.2 L821.8,532.5 L823.3,532.7 L824.8,533.3 L826.3,533.2 L827.8,533.3 L829.3,533.0 L830.8,533.6 L832.3,533.4 L833.8,534.0 L835.3,533.8 L836.8,534.0 L838.3,534.5 L839.8,534.6 L841.3,535.7 L842.8,534.6 L844.3,534.0 L845.8,535.0 L847.3,535.3 L848.8,535.4 L850.3,534.9 L851.8,534.9 L853.3,534.9 L854.8,535.2 L856.3,535.0 L857.8,535.4 L859.3,535.5 L860.8,536.1 L862.3,536.1 L863.8,535.7 L865.3,536.0 L866.8,535.6 L868.3,536.3 L869.8,536.2 L871.3,536.7 L872.8,536.3 L874.3,537.1 L875.8,535.8 L877.3,535.8 L878.8,536.5 L880.3,537.0 L881.8,536.5 L883.3,536.7 L884.8,537.7 L886.3,536.8 L887.8,537.0 L889.3,536.9 L890.8,537.4 L892.3,538.2 L893.8,537.9 L895.3,537.7 L896.8,537.8 L898.3,537.8 L899.8,537.4 L901.3,537.4 L902.8,537.7 L904.3,538.5 L905.8,538.3 L907.3,538.3 L908.8,538.4 L910.3,538.8 L911.8,538.8 L913.3,538.7 L914.8,538.6 L916.3,539.5 L917.8,539.5 L919.3,539.4 L920.8,538.5 L922.3,539.9 L923.8,540.0 L925.3,539.7 L926.8,538.9 L928.3,540.3 L929.8,540.3 L931.3,540.3 L932.8,540.1 L934.3,540.6 L935.8,540.1 L937.3,542.0 L938.8,541.1 L940.3,541.2 L941.8,540.9 L943.3,541.4 L944.8,542.2 L946.3,542.3 L947.8,541.8 L949.3,541.6 L950.8,541.2 L952.3,542.2 L953.8,542.3 L955.3,541.8 L956.8,542.0 L958.3,542.3 L959.8,542.2 L961.3,543.5 L962.8,543.9 L964.3,542.0 L965.8,543.7 L967.3,542.7 L968.8,543.7 L970.3,543.1 L971.8,542.5 L973.3,543.8 L974.8,542.8 L976.3,542.3 L977.8,541.8 L979.3,543.2 L980.8,541.8 L982.3,541.9 L983.8,542.9 L985.3,542.3 L986.8,542.4 L988.3,542.6 L989.8,542.6 L991.3,542.5 L992.8,541.7 L994.3,541.7 L995.8,541.4 L997.3,541.5 L998.8,541.8 L1000.3,541.4 L1001.8,540.6 L1003.3,542.0 L1004.8,541.3 L1006.3,540.4 L1007.8,540.9 L1009.3,541.7 L1010.8,540.7 L1012.3,541.9 L1013.8,540.5 L1015.3,541.5 L1016.8,540.2 L1018.3,540.8 L1019.8,540.2 L1021.3,540.4 L1022.8,541.0 L1024.3,541.1 L1025.8,540.6 L1027.3,540.8 L1028.8,540.8 L1030.3,540.7 L1031.8,541.0 L1033.3,541.7 L1034.8,540.7 L1036.3,540.5 L1037.8,540.5 L1039.3,540.3 L1040.8,538.9 L1042.3,540.0 L1043.8,541.0 L1045.3,539.7 L1046.8,540.4 L1048.3,540.2 L1049.8,541.5 L1051.3,540.0 L1052.8,540.8 L1054.3,541.4 L1055.8,540.4 L1057.3,539.2 L1058.8,540.3 L1060.3,540.5 L1061.8,540.3 L1063.3,541.5 L1064.8,540.8 L1066.3,541.9 L1067.8,541.3 L1069.3,540.2 L1070.8,540.9 L1072.3,541.2 L1073.8,540.7 L1075.3,540.1 L1076.8,540.6 L1078.3,542.4 L1079.8,541.8 L1081.3,541.2 L1082.8,541.1 L1084.3,540.8 L1085.8,541.3 L1087.3,540.3 L1088.8,541.3 L1090.3,540.5 L1091.8,541.4 L1093.3,540.6 L1094.8,540.9 L1096.3,540.9 L1097.8,540.9 L1099.3,541.1 L1100.8,540.4 L1102.3,541.3 L1103.8,540.7 L1105.3,541.6 L1106.8,540.8 L1108.3,541.5 L1109.8,540.8 L1111.3,541.7 L1112.8,541.0 L1114.3,540.2 L1115.8,540.6 L1117.3,540.7 L1118.8,542.0 L1120.3,541.7 L1121.8,539.6 L1123.3,541.6 L1124.8,542.4 L1126.3,541.4 L1127.8,540.7 L1129.3,541.4 L1130.8,540.8 L1132.3,541.0 L1133.8,541.4 L1135.3,540.2 L1136.8,540.4 L1138.3,541.3 L1139.8,540.7 L1141.3,540.9 L1142.8,541.7 L1144.3,541.3 L1145.8,540.3 L1147.3,541.1 L1148.8,540.8 L1150.3,540.8 L1151.8,541.9 L1153.3,540.8 L1154.8,540.8 L1156.3,540.9 L1157.8,541.8 L1159.3,540.7 L1160.8,539.6 L1162.3,542.4 L1163.8,542.9 L1165.3,539.3 L1166.8,542.1 L1168.3,542.7 L1169.8,539.2 L1171.3,542.0 L1172.8,541.4 L1174.3,539.9 L1175.8,540.4 L1177.3,540.8 L1178.8,540.5 L1180.3,541.0 L1181.8,541.4 L1183.3,541.7 L1184.8,540.1 L1185.0,541.7" fill="none" stroke="#21918c" stroke-width="3.8" stroke-linejoin="round" stroke-linecap="butt"/>
<path d="M203.8,365.0 L205.3,365.0 L206.8,365.0 L208.3,365.0 L209.8,365.0 L211.3,364.9 L212.8,364.9 L214.3,364.9 L215.8,364.9 L217.3,364.8 L218.8,364.8 L220.3,364.7 L221.8,364.7 L223.3,364.6 L224.8,364.6 L226.3,364.5 L227.8,364.3 L229.3,364.1 L230.8,363.7 L232.3,363.3 L233.8,362.7 L235.3,362.2 L236.8,361.5 L238.3,360.9 L239.8,360.2 L241.3,359.3 L242.8,358.2 L244.3,356.9 L245.8,355.5 L247.3,354.1 L248.8,352.5 L250.3,351.0 L251.8,349.4 L253.3,347.9 L254.8,346.2 L256.3,344.5 L257.8,342.7 L259.3,340.9 L260.8,339.0 L262.3,337.0 L263.8,335.0 L265.3,332.9 L266.8,330.7 L268.3,328.4 L269.8,326.0 L271.3,323.6 L272.8,321.0 L274.3,318.4 L275.8,315.7 L277.3,312.9 L278.8,310.0 L280.3,307.0 L281.8,303.9 L283.3,300.6 L284.8,297.2 L286.3,293.8 L287.8,290.2 L289.3,286.5 L290.8,282.3 L292.3,277.8 L293.8,273.4 L295.3,269.5 L296.8,266.5 L298.3,263.7 L299.8,261.2 L301.3,259.2 L302.8,258.1 L304.3,257.7 L305.8,257.4 L307.3,257.1 L308.8,257.0 L310.3,257.1 L311.8,257.6 L313.3,258.4 L314.8,259.5 L316.3,260.7 L317.8,261.9 L319.3,262.9 L320.8,264.1 L322.3,265.4 L323.8,266.6 L325.3,267.9 L326.8,269.1 L328.3,270.2 L329.8,271.4 L331.3,272.7 L332.8,274.0 L334.3,275.3 L335.8,276.4 L337.3,277.5 L338.8,278.3 L340.3,278.8 L341.8,279.0 L343.3,278.9 L344.8,278.8 L346.3,278.5 L347.8,278.1 L349.3,277.7 L350.8,277.3 L352.3,276.8 L353.8,276.4 L355.3,275.9 L356.8,275.3 L358.3,274.6 L359.8,273.8 L361.3,273.3 L362.8,273.0 L364.3,273.0 L365.8,273.0 L367.3,273.0 L368.8,273.0 L370.3,273.0 L371.8,273.3 L373.3,274.0 L374.8,275.0 L376.3,276.1 L377.8,277.3 L379.3,279.1 L380.8,281.3 L382.3,283.8 L383.8,286.3 L385.3,289.1 L386.8,292.1 L388.3,295.1 L389.8,298.0 L391.3,301.0 L392.8,304.0 L394.3,306.7 L395.8,308.8 L397.3,310.2 L398.8,311.5 L400.3,312.5 L401.8,313.0 L403.3,312.8 L404.8,312.3 L406.3,311.5 L407.8,310.5 L409.3,308.8 L410.8,306.7 L412.3,304.5 L413.8,302.3 L415.3,300.3 L416.8,298.2 L418.3,296.0 L419.8,293.7 L421.3,291.1 L422.8,288.2 L424.3,284.7 L425.8,280.8 L427.3,276.7 L428.8,272.4 L430.3,268.1 L431.8,263.5 L433.3,258.7 L434.8,253.5 L436.3,247.9 L437.8,241.5 L439.3,234.9 L440.8,228.9 L442.3,223.3 L443.8,217.8 L445.3,211.9 L446.8,205.6 L448.3,198.9 L449.8,191.8 L451.3,184.5 L452.8,176.6 L454.3,168.3 L455.8,160.0 L457.3,151.9 L458.8,143.8 L460.3,135.7 L461.8,128.0 L463.3,120.4 L464.8,112.7 L466.3,105.8 L467.8,100.2 L469.3,94.9 L470.8,90.4 L472.3,88.1 L473.8,88.8 L475.3,91.4 L476.8,95.1 L478.3,99.8 L479.8,107.3 L481.3,115.4 L482.8,123.1 L484.3,130.9 L485.8,138.9 L487.3,147.1 L488.8,155.4 L490.3,164.0 L491.8,172.7 L493.3,181.5 L494.8,190.6 L496.3,199.9 L497.8,209.6 L499.3,219.5 L500.8,229.5 L502.3,240.0 L503.8,247.0 L505.3,250.8 L506.8,247.4 L508.3,237.9 L509.8,223.4 L511.3,206.1 L512.8,188.2 L514.3,170.1 L515.8,155.7 L517.3,143.6 L518.8,135.9 L520.3,130.8 L521.8,130.4 L523.3,132.8 L524.8,136.5 L526.3,142.3 L527.8,151.8 L529.3,162.8 L530.8,174.7 L532.3,188.4 L533.8,203.4 L535.3,220.0 L536.8,230.9 L538.3,237.7 L539.8,243.1 L541.3,247.8 L542.8,252.5 L544.3,258.1 L545.8,264.3 L547.3,270.6 L548.8,277.1 L550.3,283.6 L551.8,290.2 L553.3,297.2 L554.8,304.1 L556.3,310.8 L557.8,316.9 L559.3,322.1 L560.8,326.8 L562.3,331.1 L563.8,335.1 L565.3,338.7 L566.8,342.1 L568.3,345.3 L569.8,348.2 L571.3,350.9 L572.8,353.2 L574.3,355.3 L575.8,357.3 L577.3,359.1 L578.8,360.9 L580.3,362.7 L581.8,364.4 L583.3,365.9 L584.8,367.5 L586.3,369.2 L587.8,371.3 L589.3,373.8 L590.8,377.0 L592.3,380.0 L593.8,382.8 L595.3,385.7 L596.8,388.5 L598.3,391.3 L599.8,394.1 L601.3,396.9 L602.8,399.5 L604.3,402.2 L605.8,404.7 L607.3,407.2 L608.8,409.5 L610.3,411.9 L611.8,414.1 L613.3,416.3 L614.8,418.5 L616.3,420.6 L617.8,422.7 L619.3,424.7 L620.8,426.8 L622.3,428.9 L623.8,430.8 L625.3,432.9 L626.8,435.0 L628.3,437.1 L629.8,439.1 L631.3,441.0 L632.8,443.0 L634.3,444.9 L635.8,446.9 L637.3,448.8 L638.8,450.6 L640.3,452.4 L641.8,454.2 L643.3,455.8 L644.8,457.5 L646.3,459.2 L647.8,460.8 L649.3,462.5 L650.8,464.1 L652.3,465.7 L653.8,466.9 L655.3,468.4 L656.8,469.9 L658.3,471.3 L659.8,472.8 L661.3,474.1 L662.8,475.6 L664.3,476.6 L665.8,478.1 L667.3,479.3 L668.8,480.6 L670.3,481.7 L671.8,482.9 L673.3,483.9 L674.8,485.0 L676.3,486.2 L677.8,487.3 L679.3,488.6 L680.8,489.2 L682.3,490.3 L683.8,491.4 L685.3,492.3 L686.8,493.2 L688.3,493.8 L689.8,494.9 L691.3,495.7 L692.8,496.4 L694.3,497.1 L695.8,498.0 L697.3,498.7 L698.8,499.2 L700.3,500.3 L701.8,500.9 L703.3,501.5 L704.8,502.4 L706.3,503.1 L707.8,503.6 L709.3,504.5 L710.8,504.9 L712.3,505.9 L713.8,506.4 L715.3,507.4 L716.8,507.9 L718.3,508.4 L719.8,509.3 L721.3,510.1 L722.8,511.1 L724.3,511.1 L725.8,512.2 L727.3,512.9 L728.8,513.3 L730.3,513.9 L731.8,514.1 L733.3,515.3 L734.8,515.5 L736.3,516.4 L737.8,517.0 L739.3,517.3 L740.8,518.1 L742.3,518.4 L743.8,518.4 L745.3,519.3 L746.8,519.3 L748.3,520.6 L749.8,520.3 L751.3,521.1 L752.8,521.1 L754.3,521.8 L755.8,521.6 L757.3,522.1 L758.8,522.6 L760.3,522.9 L761.8,523.4 L763.3,524.1 L764.8,523.6 L766.3,523.5 L767.8,524.1 L769.3,524.3 L770.8,524.5 L772.3,524.8 L773.8,525.2 L775.3,525.9 L776.8,525.0 L778.3,525.3 L779.8,526.1 L781.3,525.9 L782.8,526.4 L784.3,526.7 L785.8,526.8 L787.3,526.8 L788.8,527.4 L790.3,527.1 L791.8,527.4 L793.3,527.6 L794.8,528.0 L796.3,528.0 L797.8,528.4 L799.3,528.4 L800.8,529.0 L802.3,528.2 L803.8,529.5 L805.3,529.1 L806.8,529.5 L808.3,529.5 L809.8,529.6 L811.3,529.6 L812.8,529.8 L814.3,529.8 L815.8,529.6 L817.3,529.9 L818.8,530.3 L820.3,530.8 L821.8,531.5 L823.3,530.9 L824.8,532.0 L826.3,530.9 L827.8,530.7 L829.3,532.0 L830.8,531.3 L832.3,531.7 L833.8,530.5 L835.3,532.1 L836.8,532.1 L838.3,532.6 L839.8,531.8 L841.3,532.6 L842.8,532.3 L844.3,532.2 L845.8,533.3 L847.3,532.7 L848.8,532.5 L850.3,533.7 L851.8,533.6 L853.3,532.9 L854.8,533.4 L856.3,533.6 L857.8,533.6 L859.3,533.3 L860.8,534.6 L862.3,534.0 L863.8,534.2 L865.3,533.6 L866.8,534.2 L868.3,533.7 L869.8,534.5 L871.3,534.9 L872.8,533.9 L874.3,534.5 L875.8,535.0 L877.3,535.3 L878.8,535.0 L880.3,535.1 L881.8,535.6 L883.3,535.0 L884.8,534.9 L886.3,534.6 L887.8,535.0 L889.3,535.6 L890.8,535.7 L892.3,535.0 L893.8,535.4 L895.3,536.0 L896.8,536.2 L898.3,535.8 L899.8,536.5 L901.3,536.7 L902.8,536.7 L904.3,536.7 L905.8,536.1 L907.3,537.1 L908.8,536.1 L910.3,537.0 L911.8,536.7 L913.3,538.0 L914.8,537.1 L916.3,537.7 L917.8,537.2 L919.3,537.1 L920.8,537.3 L922.3,538.3 L923.8,537.2 L925.3,538.3 L926.8,537.8 L928.3,539.2 L929.8,538.5 L931.3,539.3 L932.8,539.1 L934.3,538.5 L935.8,539.5 L937.3,539.4 L938.8,538.7 L940.3,540.7 L941.8,540.1 L943.3,539.8 L944.8,539.0 L946.3,540.7 L947.8,540.1 L949.3,541.2 L950.8,539.6 L952.3,541.3 L953.8,540.8 L955.3,540.4 L956.8,540.9 L958.3,540.6 L959.8,541.0 L961.3,541.1 L962.8,541.4 L964.3,542.0 L965.8,540.3 L967.3,541.3 L968.8,541.4 L970.3,541.5 L971.8,540.8 L973.3,540.2 L974.8,540.3 L976.3,541.7 L977.8,541.0 L979.3,541.1 L980.8,541.0 L982.3,540.0 L983.8,540.5 L985.3,540.4 L986.8,541.1 L988.3,541.4 L989.8,540.5 L991.3,540.6 L992.8,541.6 L994.3,539.2 L995.8,541.0 L997.3,538.7 L998.8,539.5 L1000.3,540.4 L1001.8,538.8 L1003.3,539.9 L1004.8,540.0 L1006.3,539.9 L1007.8,539.1 L1009.3,539.7 L1010.8,539.0 L1012.3,540.3 L1013.8,539.0 L1015.3,539.5 L1016.8,540.1 L1018.3,539.2 L1019.8,539.7 L1021.3,539.1 L1022.8,538.4 L1024.3,538.5 L1025.8,539.1 L1027.3,538.3 L1028.8,539.4 L1030.3,539.4 L1031.8,538.4 L1033.3,538.6 L1034.8,540.1 L1036.3,538.7 L1037.8,540.0 L1039.3,538.5 L1040.8,539.2 L1042.3,539.5 L1043.8,538.8 L1045.3,539.5 L1046.8,540.3 L1048.3,538.5 L1049.8,540.1 L1051.3,539.1 L1052.8,539.2 L1054.3,538.3 L1055.8,538.9 L1057.3,541.0 L1058.8,539.1 L1060.3,539.3 L1061.8,539.5 L1063.3,537.6 L1064.8,539.0 L1066.3,540.2 L1067.8,539.3 L1069.3,540.6 L1070.8,537.4 L1072.3,538.0 L1073.8,538.4 L1075.3,538.8 L1076.8,539.2 L1078.3,538.5 L1079.8,538.9 L1081.3,538.6 L1082.8,540.5 L1084.3,539.0 L1085.8,538.1 L1087.3,539.2 L1088.8,538.8 L1090.3,538.7 L1091.8,540.4 L1093.3,538.5 L1094.8,539.2 L1096.3,539.9 L1097.8,537.6 L1099.3,540.6 L1100.8,539.5 L1102.3,539.9 L1103.8,538.7 L1105.3,539.4 L1106.8,541.0 L1108.3,539.5 L1109.8,540.2 L1111.3,540.5 L1112.8,539.3 L1114.3,538.1 L1115.8,539.7 L1117.3,538.0 L1118.8,539.6 L1120.3,538.4 L1121.8,538.6 L1123.3,539.5 L1124.8,539.6 L1126.3,540.7 L1127.8,538.3 L1129.3,539.9 L1130.8,539.5 L1132.3,538.6 L1133.8,539.5 L1135.3,540.2 L1136.8,539.1 L1138.3,539.2 L1139.8,540.3 L1141.3,539.0 L1142.8,540.4 L1144.3,539.3 L1145.8,540.0 L1147.3,539.5 L1148.8,538.1 L1150.3,538.6 L1151.8,540.6 L1153.3,539.5 L1154.8,539.1 L1156.3,540.3 L1157.8,539.5 L1159.3,539.3 L1160.8,539.7 L1162.3,539.9 L1163.8,539.9 L1165.3,539.8 L1166.8,539.7 L1168.3,541.1 L1169.8,540.7 L1171.3,540.6 L1172.8,539.2 L1174.3,539.8 L1175.8,540.5 L1177.3,540.7 L1178.8,539.1 L1180.3,540.5 L1181.8,540.4 L1183.3,538.3 L1184.8,539.0 L1185.0,541.4" fill="none" stroke="#20a486" stroke-width="3.8" stroke-linejoin="round" stroke-linecap="butt"/>
<path d="M203.8,366.5 L205.3,366.5 L206.8,366.5 L208.3,366.5 L209.8,366.4 L211.3,366.4 L212.8,366.4 L214.3,366.3 L215.8,366.3 L217.3,366.2 L218.8,366.2 L220.3,366.1 L221.8,366.0 L223.3,365.9 L224.8,365.9 L226.3,365.8 L227.8,365.7 L229.3,365.6 L230.8,365.4 L232.3,365.2 L233.8,364.8 L235.3,364.3 L236.8,363.8 L238.3,363.2 L239.8,362.5 L241.3,361.7 L242.8,361.0 L244.3,360.2 L245.8,359.4 L247.3,358.5 L248.8,357.5 L250.3,356.5 L251.8,355.3 L253.3,354.0 L254.8,352.7 L256.3,351.3 L257.8,349.9 L259.3,348.4 L260.8,346.8 L262.3,345.2 L263.8,343.4 L265.3,341.6 L266.8,339.6 L268.3,337.7 L269.8,335.6 L271.3,333.6 L272.8,331.4 L274.3,329.2 L275.8,326.9 L277.3,324.5 L278.8,322.1 L280.3,319.6 L281.8,317.1 L283.3,314.5 L284.8,312.0 L286.3,309.5 L287.8,307.0 L289.3,304.6 L290.8,302.1 L292.3,299.5 L293.8,296.9 L295.3,294.1 L296.8,291.1 L298.3,287.9 L299.8,283.9 L301.3,279.7 L302.8,275.7 L304.3,272.4 L305.8,269.3 L307.3,266.5 L308.8,264.8 L310.3,264.7 L311.8,265.0 L313.3,265.6 L314.8,266.3 L316.3,267.1 L317.8,267.9 L319.3,268.8 L320.8,269.8 L322.3,271.0 L323.8,272.2 L325.3,273.4 L326.8,274.4 L328.3,275.1 L329.8,275.8 L331.3,276.5 L332.8,277.1 L334.3,277.8 L335.8,278.4 L337.3,278.9 L338.8,279.4 L340.3,279.8 L341.8,280.1 L343.3,280.3 L344.8,280.4 L346.3,280.4 L347.8,280.3 L349.3,280.2 L350.8,280.1 L352.3,279.9 L353.8,279.7 L355.3,279.5 L356.8,279.3 L358.3,279.2 L359.8,279.0 L361.3,278.9 L362.8,278.8 L364.3,278.6 L365.8,278.5 L367.3,278.4 L368.8,278.3 L370.3,278.3 L371.8,278.5 L373.3,279.4 L374.8,280.7 L376.3,282.5 L377.8,284.5 L379.3,286.7 L380.8,289.0 L382.3,291.1 L383.8,293.1 L385.3,295.3 L386.8,297.8 L388.3,300.3 L389.8,302.8 L391.3,305.3 L392.8,307.5 L394.3,309.4 L395.8,311.0 L397.3,312.7 L398.8,314.3 L400.3,315.4 L401.8,316.0 L403.3,315.8 L404.8,315.1 L406.3,313.9 L407.8,312.6 L409.3,311.3 L410.8,309.9 L412.3,308.4 L413.8,306.6 L415.3,304.8 L416.8,302.8 L418.3,300.6 L419.8,298.4 L421.3,296.0 L422.8,293.4 L424.3,290.6 L425.8,287.6 L427.3,284.5 L428.8,281.1 L430.3,277.5 L431.8,273.4 L433.3,269.0 L434.8,264.5 L436.3,260.0 L437.8,255.8 L439.3,252.1 L440.8,248.3 L442.3,244.3 L443.8,239.6 L445.3,233.8 L446.8,226.6 L448.3,218.6 L449.8,210.4 L451.3,202.7 L452.8,195.2 L454.3,187.6 L455.8,180.1 L457.3,172.8 L458.8,165.5 L460.3,157.9 L461.8,150.2 L463.3,143.1 L464.8,137.0 L466.3,132.3 L467.8,128.1 L469.3,124.3 L470.8,121.3 L472.3,119.5 L473.8,119.4 L475.3,120.3 L476.8,121.8 L478.3,123.8 L479.8,126.2 L481.3,128.9 L482.8,132.9 L484.3,138.6 L485.8,145.4 L487.3,152.5 L488.8,159.4 L490.3,166.4 L491.8,173.9 L493.3,181.7 L494.8,189.9 L496.3,198.9 L497.8,208.5 L499.3,218.2 L500.8,227.3 L502.3,237.8 L503.8,246.1 L505.3,246.3 L506.8,239.1 L508.3,227.5 L509.8,212.8 L511.3,200.6 L512.8,189.1 L514.3,179.6 L515.8,173.0 L517.3,167.1 L518.8,163.2 L520.3,162.7 L521.8,164.6 L523.3,168.0 L524.8,172.0 L526.3,178.0 L527.8,186.7 L529.3,196.4 L530.8,205.3 L532.3,212.3 L533.8,218.4 L535.3,224.0 L536.8,229.3 L538.3,234.6 L539.8,239.8 L541.3,245.0 L542.8,250.1 L544.3,254.8 L545.8,259.2 L547.3,263.1 L548.8,266.9 L550.3,270.5 L551.8,274.1 L553.3,277.6 L554.8,281.2 L556.3,284.8 L557.8,288.3 L559.3,291.5 L560.8,294.5 L562.3,297.0 L563.8,299.2 L565.3,301.6 L566.8,304.2 L568.3,306.9 L569.8,309.7 L571.3,312.4 L572.8,315.1 L574.3,317.7 L575.8,320.2 L577.3,322.4 L578.8,324.5 L580.3,326.5 L581.8,328.3 L583.3,330.1 L584.8,331.9 L586.3,333.7 L587.8,335.6 L589.3,337.4 L590.8,339.2 L592.3,341.0 L593.8,342.8 L595.3,344.6 L596.8,346.5 L598.3,348.6 L599.8,350.7 L601.3,353.2 L602.8,355.8 L604.3,358.4 L605.8,361.0 L607.3,363.4 L608.8,365.8 L610.3,368.1 L611.8,370.3 L613.3,372.5 L614.8,374.7 L616.3,376.9 L617.8,379.1 L619.3,381.3 L620.8,383.5 L622.3,385.7 L623.8,387.9 L625.3,390.1 L626.8,392.2 L628.3,394.5 L629.8,396.6 L631.3,398.9 L632.8,401.1 L634.3,403.3 L635.8,405.5 L637.3,407.9 L638.8,410.3 L640.3,412.6 L641.8,415.1 L643.3,417.4 L644.8,419.9 L646.3,422.0 L647.8,424.4 L649.3,426.7 L650.8,428.6 L652.3,430.6 L653.8,432.3 L655.3,434.3 L656.8,436.0 L658.3,437.9 L659.8,439.6 L661.3,441.2 L662.8,442.9 L664.3,444.5 L665.8,445.8 L667.3,447.5 L668.8,449.1 L670.3,450.6 L671.8,452.1 L673.3,453.3 L674.8,454.7 L676.3,456.2 L677.8,457.4 L679.3,458.7 L680.8,460.4 L682.3,461.4 L683.8,462.9 L685.3,464.1 L686.8,465.5 L688.3,466.7 L689.8,467.9 L691.3,469.0 L692.8,470.4 L694.3,471.8 L695.8,472.8 L697.3,474.0 L698.8,475.2 L700.3,476.5 L701.8,477.9 L703.3,479.3 L704.8,480.3 L706.3,481.7 L707.8,482.7 L709.3,483.5 L710.8,484.9 L712.3,486.2 L713.8,487.1 L715.3,488.0 L716.8,488.5 L718.3,490.0 L719.8,491.1 L721.3,492.1 L722.8,493.3 L724.3,494.4 L725.8,495.2 L727.3,496.1 L728.8,496.9 L730.3,497.7 L731.8,498.9 L733.3,499.4 L734.8,500.2 L736.3,501.2 L737.8,501.9 L739.3,502.6 L740.8,503.0 L742.3,503.9 L743.8,504.8 L745.3,504.9 L746.8,506.0 L748.3,506.6 L749.8,506.9 L751.3,507.5 L752.8,508.3 L754.3,508.8 L755.8,510.0 L757.3,509.4 L758.8,510.2 L760.3,510.9 L761.8,510.8 L763.3,511.5 L764.8,512.0 L766.3,512.5 L767.8,512.8 L769.3,513.4 L770.8,513.5 L772.3,513.9 L773.8,513.7 L775.3,514.1 L776.8,515.0 L778.3,515.0 L779.8,515.5 L781.3,515.7 L782.8,515.5 L784.3,516.4 L785.8,516.2 L787.3,516.9 L788.8,517.2 L790.3,517.2 L791.8,518.0 L793.3,517.7 L794.8,518.6 L796.3,518.7 L797.8,519.3 L799.3,519.7 L800.8,519.8 L802.3,520.4 L803.8,520.5 L805.3,521.5 L806.8,521.5 L808.3,521.2 L809.8,521.8 L811.3,522.3 L812.8,523.0 L814.3,522.8 L815.8,523.2 L817.3,523.8 L818.8,524.3 L820.3,524.4 L821.8,525.2 L823.3,525.3 L824.8,525.6 L826.3,526.5 L827.8,526.8 L829.3,526.7 L830.8,526.8 L832.3,525.8 L833.8,527.2 L835.3,527.1 L836.8,527.6 L838.3,527.2 L839.8,528.2 L841.3,528.5 L842.8,528.2 L844.3,528.0 L845.8,528.4 L847.3,528.8 L848.8,528.8 L850.3,529.0 L851.8,528.7 L853.3,529.9 L854.8,530.0 L856.3,530.4 L857.8,530.1 L859.3,530.4 L860.8,530.1 L862.3,529.8 L863.8,530.1 L865.3,530.0 L866.8,530.6 L868.3,530.7 L869.8,530.8 L871.3,529.9 L872.8,531.4 L874.3,531.7 L875.8,530.7 L877.3,531.7 L878.8,531.4 L880.3,531.2 L881.8,532.2 L883.3,532.1 L884.8,531.9 L886.3,532.4 L887.8,532.3 L889.3,532.7 L890.8,532.4 L892.3,532.7 L893.8,533.6 L895.3,533.0 L896.8,532.2 L898.3,533.0 L899.8,532.8 L901.3,533.2 L902.8,533.3 L904.3,534.8 L905.8,533.1 L907.3,534.0 L908.8,533.9 L910.3,534.4 L911.8,533.6 L913.3,533.5 L914.8,534.3 L916.3,534.5 L917.8,534.9 L919.3,534.6 L920.8,535.2 L922.3,534.2 L923.8,535.1 L925.3,535.6 L926.8,535.3 L928.3,535.0 L929.8,535.1 L931.3,535.5 L932.8,535.3 L934.3,536.2 L935.8,535.6 L937.3,535.4 L938.8,534.7 L940.3,536.6 L941.8,536.7 L943.3,536.0 L944.8,536.2 L946.3,537.0 L947.8,536.2 L949.3,537.2 L950.8,536.5 L952.3,537.5 L953.8,537.1 L955.3,536.8 L956.8,536.4 L958.3,537.8 L959.8,537.4 L961.3,538.1 L962.8,537.9 L964.3,538.0 L965.8,537.4 L967.3,537.3 L968.8,537.7 L970.3,537.1 L971.8,537.5 L973.3,537.8 L974.8,537.5 L976.3,537.8 L977.8,537.6 L979.3,537.2 L980.8,537.6 L982.3,536.7 L983.8,537.2 L985.3,537.5 L986.8,537.2 L988.3,537.3 L989.8,537.4 L991.3,537.0 L992.8,536.6 L994.3,535.9 L995.8,536.7 L997.3,537.0 L998.8,536.7 L1000.3,535.9 L1001.8,536.3 L1003.3,536.1 L1004.8,536.8 L1006.3,537.3 L1007.8,536.0 L1009.3,536.8 L1010.8,537.5 L1012.3,536.8 L1013.8,535.5 L1015.3,535.9 L1016.8,535.9 L1018.3,536.0 L1019.8,536.8 L1021.3,535.7 L1022.8,535.8 L1024.3,536.9 L1025.8,536.3 L1027.3,536.5 L1028.8,536.1 L1030.3,535.8 L1031.8,535.3 L1033.3,536.3 L1034.8,536.1 L1036.3,534.7 L1037.8,536.2 L1039.3,534.6 L1040.8,536.7 L1042.3,535.7 L1043.8,536.6 L1045.3,537.4 L1046.8,536.1 L1048.3,535.9 L1049.8,536.0 L1051.3,536.2 L1052.8,536.0 L1054.3,535.5 L1055.8,535.5 L1057.3,536.7 L1058.8,536.5 L1060.3,536.2 L1061.8,535.9 L1063.3,535.3 L1064.8,536.2 L1066.3,537.0 L1067.8,535.7 L1069.3,536.5 L1070.8,537.4 L1072.3,535.5 L1073.8,536.6 L1075.3,536.6 L1076.8,535.8 L1078.3,536.2 L1079.8,536.6 L1081.3,535.4 L1082.8,536.1 L1084.3,535.9 L1085.8,537.3 L1087.3,536.6 L1088.8,536.1 L1090.3,536.5 L1091.8,536.0 L1093.3,537.6 L1094.8,536.1 L1096.3,537.9 L1097.8,537.2 L1099.3,536.4 L1100.8,537.6 L1102.3,537.6 L1103.8,536.7 L1105.3,536.6 L1106.8,536.3 L1108.3,538.7 L1109.8,536.2 L1111.3,535.8 L1112.8,537.3 L1114.3,536.9 L1115.8,536.5 L1117.3,537.2 L1118.8,536.7 L1120.3,537.5 L1121.8,537.5 L1123.3,537.6 L1124.8,538.2 L1126.3,537.5 L1127.8,538.9 L1129.3,536.4 L1130.8,537.3 L1132.3,536.6 L1133.8,537.3 L1135.3,536.7 L1136.8,537.4 L1138.3,539.0 L1139.8,537.8 L1141.3,536.9 L1142.8,538.7 L1144.3,535.7 L1145.8,537.3 L1147.3,537.4 L1148.8,538.0 L1150.3,537.7 L1151.8,537.7 L1153.3,536.4 L1154.8,535.5 L1156.3,537.3 L1157.8,536.8 L1159.3,538.3 L1160.8,536.2 L1162.3,537.1 L1163.8,537.2 L1165.3,538.6 L1166.8,539.1 L1168.3,538.8 L1169.8,537.0 L1171.3,537.7 L1172.8,537.1 L1174.3,538.3 L1175.8,539.2 L1177.3,536.6 L1178.8,538.0 L1180.3,539.2 L1181.8,538.1 L1183.3,537.8 L1184.8,538.9 L1185.0,536.1" fill="none" stroke="#35b779" stroke-width="3.8" stroke-linejoin="round" stroke-linecap="butt"/>
<path d="M203.8,367.4 L205.3,367.4 L206.8,367.4 L208.3,367.4 L209.8,367.3 L211.3,367.3 L212.8,367.2 L214.3,367.2 L215.8,367.1 L217.3,367.0 L218.8,366.9 L220.3,366.8 L221.8,366.7 L223.3,366.6 L224.8,366.5 L226.3,366.4 L227.8,366.2 L229.3,366.1 L230.8,365.9 L232.3,365.6 L233.8,365.3 L235.3,364.8 L236.8,364.3 L238.3,363.7 L239.8,363.0 L241.3,362.4 L242.8,361.6 L244.3,360.9 L245.8,360.1 L247.3,359.2 L248.8,358.3 L250.3,357.2 L251.8,356.0 L253.3,354.7 L254.8,353.4 L256.3,352.0 L257.8,350.6 L259.3,349.1 L260.8,347.6 L262.3,346.0 L263.8,344.2 L265.3,342.4 L266.8,340.6 L268.3,338.7 L269.8,336.7 L271.3,334.6 L272.8,332.6 L274.3,330.3 L275.8,328.0 L277.3,325.6 L278.8,323.1 L280.3,320.6 L281.8,318.1 L283.3,315.6 L284.8,313.2 L286.3,310.8 L287.8,308.5 L289.3,306.2 L290.8,303.8 L292.3,301.5 L293.8,299.2 L295.3,296.9 L296.8,294.5 L298.3,292.2 L299.8,289.7 L301.3,287.1 L302.8,284.7 L304.3,282.7 L305.8,281.3 L307.3,279.9 L308.8,278.7 L310.3,277.8 L311.8,277.1 L313.3,277.0 L314.8,277.2 L316.3,277.7 L317.8,278.3 L319.3,279.2 L320.8,280.1 L322.3,281.1 L323.8,282.2 L325.3,283.2 L326.8,284.2 L328.3,285.1 L329.8,285.9 L331.3,286.6 L332.8,287.4 L334.3,288.2 L335.8,289.0 L337.3,289.8 L338.8,290.5 L340.3,291.1 L341.8,291.6 L343.3,291.9 L344.8,292.1 L346.3,292.1 L347.8,292.0 L349.3,291.9 L350.8,291.8 L352.3,291.7 L353.8,291.5 L355.3,291.4 L356.8,291.2 L358.3,291.1 L359.8,291.0 L361.3,290.9 L362.8,290.9 L364.3,290.8 L365.8,290.8 L367.3,290.7 L368.8,290.7 L370.3,290.8 L371.8,291.4 L373.3,292.3 L374.8,293.5 L376.3,295.0 L377.8,296.6 L379.3,298.3 L380.8,300.1 L382.3,301.8 L383.8,303.4 L385.3,305.3 L386.8,307.4 L388.3,309.6 L389.8,311.9 L391.3,314.2 L392.8,316.5 L394.3,318.6 L395.8,320.5 L397.3,322.4 L398.8,324.4 L400.3,326.3 L401.8,327.7 L403.3,328.3 L404.8,328.2 L406.3,327.7 L407.8,327.1 L409.3,326.4 L410.8,325.5 L412.3,324.4 L413.8,323.0 L415.3,321.5 L416.8,319.7 L418.3,318.0 L419.8,316.2 L421.3,314.5 L422.8,312.9 L424.3,311.2 L425.8,309.5 L427.3,307.7 L428.8,305.8 L430.3,303.7 L431.8,301.5 L433.3,299.0 L434.8,296.3 L436.3,293.0 L437.8,288.9 L439.3,284.1 L440.8,278.9 L442.3,273.5 L443.8,268.1 L445.3,262.9 L446.8,258.1 L448.3,253.7 L449.8,249.5 L451.3,245.4 L452.8,241.2 L454.3,236.8 L455.8,232.3 L457.3,227.7 L458.8,223.2 L460.3,218.8 L461.8,214.5 L463.3,210.0 L464.8,205.7 L466.3,202.1 L467.8,199.7 L469.3,197.8 L470.8,196.1 L472.3,194.6 L473.8,193.4 L475.3,192.8 L476.8,192.6 L478.3,193.0 L479.8,193.8 L481.3,194.9 L482.8,196.3 L484.3,197.7 L485.8,199.9 L487.3,202.8 L488.8,206.2 L490.3,209.9 L491.8,213.6 L493.3,217.7 L494.8,222.1 L496.3,226.9 L497.8,232.1 L499.3,238.2 L500.8,245.1 L502.3,251.9 L503.8,257.5 L505.3,262.2 L506.8,262.4 L508.3,254.2 L509.8,245.1 L511.3,234.2 L512.8,223.9 L514.3,217.8 L515.8,214.6 L517.3,212.0 L518.8,210.1 L520.3,209.1 L521.8,209.2 L523.3,210.6 L524.8,212.9 L526.3,215.8 L527.8,218.8 L529.3,221.5 L530.8,224.0 L532.3,226.5 L533.8,229.2 L535.3,231.8 L536.8,234.3 L538.3,236.5 L539.8,238.4 L541.3,240.2 L542.8,241.8 L544.3,243.3 L545.8,244.7 L547.3,246.1 L548.8,247.3 L550.3,248.5 L551.8,249.5 L553.3,250.6 L554.8,251.5 L556.3,252.5 L557.8,253.4 L559.3,254.3 L560.8,255.3 L562.3,256.2 L563.8,257.1 L565.3,258.0 L566.8,258.9 L568.3,259.8 L569.8,260.7 L571.3,261.6 L572.8,262.4 L574.3,263.2 L575.8,264.1 L577.3,264.9 L578.8,265.8 L580.3,266.7 L581.8,267.6 L583.3,268.5 L584.8,269.5 L586.3,270.5 L587.8,271.4 L589.3,272.4 L590.8,273.4 L592.3,274.3 L593.8,275.2 L595.3,276.0 L596.8,276.9 L598.3,277.7 L599.8,278.6 L601.3,279.6 L602.8,280.6 L604.3,281.6 L605.8,282.8 L607.3,284.1 L608.8,285.4 L610.3,286.9 L611.8,288.3 L613.3,289.8 L614.8,291.4 L616.3,293.0 L617.8,294.6 L619.3,296.3 L620.8,298.0 L622.3,299.7 L623.8,301.4 L625.3,303.2 L626.8,305.0 L628.3,306.9 L629.8,308.9 L631.3,310.9 L632.8,312.9 L634.3,314.9 L635.8,317.0 L637.3,319.1 L638.8,320.9 L640.3,322.9 L641.8,324.9 L643.3,326.9 L644.8,328.9 L646.3,330.9 L647.8,333.1 L649.3,334.9 L650.8,337.0 L652.3,339.0 L653.8,341.0 L655.3,342.9 L656.8,345.0 L658.3,347.0 L659.8,348.9 L661.3,350.9 L662.8,352.9 L664.3,354.9 L665.8,356.8 L667.3,358.4 L668.8,360.5 L670.3,362.1 L671.8,364.1 L673.3,365.8 L674.8,367.8 L676.3,369.6 L677.8,371.8 L679.3,373.7 L680.8,375.6 L682.3,377.5 L683.8,379.5 L685.3,381.4 L686.8,383.3 L688.3,385.6 L689.8,387.3 L691.3,389.4 L692.8,391.3 L694.3,393.6 L695.8,395.5 L697.3,397.2 L698.8,399.4 L700.3,401.0 L701.8,403.3 L703.3,405.0 L704.8,407.1 L706.3,408.8 L707.8,410.8 L709.3,412.3 L710.8,414.3 L712.3,415.8 L713.8,417.9 L715.3,419.3 L716.8,420.9 L718.3,423.1 L719.8,424.7 L721.3,426.7 L722.8,428.2 L724.3,429.9 L725.8,431.9 L727.3,433.4 L728.8,434.8 L730.3,436.3 L731.8,438.2 L733.3,439.9 L734.8,441.8 L736.3,443.0 L737.8,444.8 L739.3,446.4 L740.8,448.0 L742.3,449.4 L743.8,450.7 L745.3,451.9 L746.8,453.4 L748.3,455.1 L749.8,456.6 L751.3,458.3 L752.8,459.3 L754.3,461.4 L755.8,462.4 L757.3,464.4 L758.8,465.7 L760.3,466.8 L761.8,468.3 L763.3,469.7 L764.8,470.8 L766.3,471.1 L767.8,472.6 L769.3,473.0 L770.8,474.9 L772.3,475.3 L773.8,476.4 L775.3,477.8 L776.8,478.2 L778.3,479.1 L779.8,480.2 L781.3,481.1 L782.8,481.2 L784.3,482.7 L785.8,483.4 L787.3,483.6 L788.8,485.2 L790.3,486.2 L791.8,487.1 L793.3,487.9 L794.8,488.9 L796.3,489.9 L797.8,490.5 L799.3,491.3 L800.8,492.0 L802.3,493.4 L803.8,494.4 L805.3,495.3 L806.8,496.0 L808.3,496.8 L809.8,497.3 L811.3,498.6 L812.8,498.8 L814.3,499.7 L815.8,500.7 L817.3,500.5 L818.8,501.6 L820.3,502.9 L821.8,503.6 L823.3,503.9 L824.8,503.9 L826.3,505.0 L827.8,505.5 L829.3,505.8 L830.8,506.1 L832.3,507.2 L833.8,507.6 L835.3,509.0 L836.8,509.1 L838.3,509.1 L839.8,509.3 L841.3,509.7 L842.8,511.1 L844.3,510.6 L845.8,511.2 L847.3,511.4 L848.8,512.6 L850.3,512.8 L851.8,513.6 L853.3,513.6 L854.8,514.6 L856.3,514.6 L857.8,514.3 L859.3,515.1 L860.8,515.6 L862.3,516.7 L863.8,516.1 L865.3,518.0 L866.8,517.2 L868.3,517.7 L869.8,517.8 L871.3,519.3 L872.8,518.7 L874.3,519.4 L875.8,519.8 L877.3,520.8 L878.8,520.3 L880.3,520.5 L881.8,520.7 L883.3,520.8 L884.8,522.3 L886.3,521.8 L887.8,521.6 L889.3,522.4 L890.8,521.9 L892.3,522.7 L893.8,522.9 L895.3,522.7 L896.8,523.2 L898.3,522.7 L899.8,522.2 L901.3,523.7 L902.8,523.2 L904.3,523.5 L905.8,523.8 L907.3,524.0 L908.8,524.4 L910.3,523.9 L911.8,523.9 L913.3,524.8 L914.8,525.0 L916.3,524.9 L917.8,525.1 L919.3,524.7 L920.8,526.8 L922.3,527.0 L923.8,526.5 L925.3,526.9 L926.8,527.9 L928.3,528.4 L929.8,527.6 L931.3,528.5 L932.8,528.8 L934.3,529.0 L935.8,529.7 L937.3,528.6 L938.8,530.9 L940.3,530.8 L941.8,530.5 L943.3,530.6 L944.8,531.0 L946.3,532.4 L947.8,533.4 L949.3,531.9 L950.8,532.8 L952.3,534.2 L953.8,535.2 L955.3,535.5 L956.8,535.4 L958.3,536.6 L959.8,536.9 L961.3,536.5 L962.8,537.3 L964.3,537.4 L965.8,537.6 L967.3,538.2 L968.8,538.3 L970.3,536.7 L971.8,538.6 L973.3,539.0 L974.8,538.9 L976.3,539.8 L977.8,539.8 L979.3,538.3 L980.8,539.6 L982.3,539.9 L983.8,540.9 L985.3,539.8 L986.8,539.8 L988.3,540.5 L989.8,540.7 L991.3,539.7 L992.8,539.3 L994.3,540.8 L995.8,541.3 L997.3,541.5 L998.8,539.2 L1000.3,540.0 L1001.8,540.1 L1003.3,539.3 L1004.8,539.6 L1006.3,541.3 L1007.8,539.1 L1009.3,539.6 L1010.8,539.8 L1012.3,538.9 L1013.8,538.4 L1015.3,539.1 L1016.8,538.7 L1018.3,539.4 L1019.8,538.4 L1021.3,537.6 L1022.8,538.6 L1024.3,538.1 L1025.8,536.8 L1027.3,538.5 L1028.8,537.7 L1030.3,536.2 L1031.8,537.0 L1033.3,537.1 L1034.8,537.1 L1036.3,537.5 L1037.8,537.4 L1039.3,536.3 L1040.8,535.6 L1042.3,536.6 L1043.8,537.1 L1045.3,536.4 L1046.8,536.4 L1048.3,537.2 L1049.8,535.9 L1051.3,537.2 L1052.8,536.3 L1054.3,536.4 L1055.8,536.1 L1057.3,537.4 L1058.8,538.0 L1060.3,535.9 L1061.8,536.2 L1063.3,536.3 L1064.8,536.8 L1066.3,534.6 L1067.8,535.9 L1069.3,537.9 L1070.8,537.1 L1072.3,536.2 L1073.8,535.9 L1075.3,536.0 L1076.8,536.7 L1078.3,537.4 L1079.8,535.4 L1081.3,534.4 L1082.8,536.5 L1084.3,537.1 L1085.8,538.6 L1087.3,537.2 L1088.8,536.9 L1090.3,537.5 L1091.8,536.3 L1093.3,537.5 L1094.8,537.8 L1096.3,537.5 L1097.8,537.3 L1099.3,538.0 L1100.8,537.5 L1102.3,536.9 L1103.8,538.6 L1105.3,538.1 L1106.8,539.4 L1108.3,539.2 L1109.8,537.4 L1111.3,538.7 L1112.8,539.2 L1114.3,539.4 L1115.8,538.9 L1117.3,537.5 L1118.8,538.3 L1120.3,541.1 L1121.8,539.2 L1123.3,537.7 L1124.8,538.5 L1126.3,537.8 L1127.8,539.6 L1129.3,538.9 L1130.8,539.9 L1132.3,538.7 L1133.8,539.5 L1135.3,537.8 L1136.8,539.7 L1138.3,538.9 L1139.8,538.1 L1141.3,538.5 L1142.8,540.4 L1144.3,539.2 L1145.8,539.7 L1147.3,538.7 L1148.8,539.3 L1150.3,539.5 L1151.8,539.9 L1153.3,540.7 L1154.8,540.2 L1156.3,541.2 L1157.8,540.0 L1159.3,540.3 L1160.8,539.6 L1162.3,540.0 L1163.8,540.7 L1165.3,540.5 L1166.8,539.0 L1168.3,540.8 L1169.8,539.7 L1171.3,540.5 L1172.8,540.3 L1174.3,539.6 L1175.8,540.7 L1177.3,540.5 L1178.8,540.1 L1180.3,541.4 L1181.8,540.1 L1183.3,540.1 L1184.8,539.9 L1185.0,543.3" fill="none" stroke="#5ec962" stroke-width="3.8" stroke-linejoin="round" stroke-linecap="butt"/>
<path d="M203.8,367.0 L205.3,367.0 L206.8,367.0 L208.3,367.0 L209.8,366.9 L211.3,366.9 L212.8,366.8 L214.3,366.7 L215.8,366.7 L217.3,366.6 L218.8,366.5 L220.3,366.4 L221.8,366.3 L223.3,366.1 L224.8,366.0 L226.3,365.9 L227.8,365.7 L229.3,365.6 L230.8,365.4 L232.3,365.1 L233.8,364.7 L235.3,364.3 L236.8,363.7 L238.3,363.1 L239.8,362.4 L241.3,361.7 L242.8,361.0 L244.3,360.2 L245.8,359.4 L247.3,358.5 L248.8,357.5 L250.3,356.4 L251.8,355.2 L253.3,354.0 L254.8,352.7 L256.3,351.3 L257.8,349.9 L259.3,348.4 L260.8,346.9 L262.3,345.3 L263.8,343.6 L265.3,341.8 L266.8,339.9 L268.3,338.0 L269.8,336.1 L271.3,334.0 L272.8,332.0 L274.3,329.7 L275.8,327.4 L277.3,325.0 L278.8,322.5 L280.3,320.0 L281.8,317.5 L283.3,315.0 L284.8,312.5 L286.3,310.0 L287.8,307.5 L289.3,305.0 L290.8,302.5 L292.3,300.0 L293.8,297.5 L295.3,295.0 L296.8,292.6 L298.3,290.2 L299.8,287.7 L301.3,285.1 L302.8,282.8 L304.3,280.8 L305.8,279.2 L307.3,277.7 L308.8,276.2 L310.3,275.1 L311.8,274.4 L313.3,274.2 L314.8,274.3 L316.3,274.6 L317.8,275.0 L319.3,275.5 L320.8,276.0 L322.3,276.6 L323.8,277.3 L325.3,278.0 L326.8,278.6 L328.3,279.3 L329.8,279.9 L331.3,280.6 L332.8,281.4 L334.3,282.2 L335.8,283.1 L337.3,283.9 L338.8,284.5 L340.3,285.0 L341.8,285.2 L343.3,285.2 L344.8,285.3 L346.3,285.3 L347.8,285.3 L349.3,285.4 L350.8,285.4 L352.3,285.4 L353.8,285.4 L355.3,285.4 L356.8,285.4 L358.3,285.5 L359.8,285.5 L361.3,285.5 L362.8,285.6 L364.3,285.6 L365.8,285.7 L367.3,285.8 L368.8,285.9 L370.3,286.1 L371.8,286.8 L373.3,287.8 L374.8,289.2 L376.3,290.8 L377.8,292.5 L379.3,294.4 L380.8,296.3 L382.3,298.2 L383.8,300.0 L385.3,302.1 L386.8,304.3 L388.3,306.7 L389.8,309.2 L391.3,311.8 L392.8,314.4 L394.3,317.1 L395.8,319.7 L397.3,322.3 L398.8,325.3 L400.3,328.3 L401.8,331.1 L403.3,333.7 L404.8,335.8 L406.3,337.4 L407.8,339.1 L409.3,340.7 L410.8,342.1 L412.3,343.2 L413.8,344.0 L415.3,344.4 L416.8,344.3 L418.3,344.0 L419.8,343.3 L421.3,342.5 L422.8,341.6 L424.3,340.5 L425.8,339.3 L427.3,338.1 L428.8,336.9 L430.3,335.8 L431.8,334.6 L433.3,333.3 L434.8,332.0 L436.3,330.5 L437.8,329.0 L439.3,327.5 L440.8,325.9 L442.3,324.2 L443.8,322.5 L445.3,320.7 L446.8,319.0 L448.3,317.2 L449.8,315.3 L451.3,313.4 L452.8,311.3 L454.3,309.1 L455.8,306.9 L457.3,304.7 L458.8,302.5 L460.3,300.4 L461.8,298.3 L463.3,296.2 L464.8,294.0 L466.3,291.7 L467.8,289.5 L469.3,287.3 L470.8,285.2 L472.3,283.3 L473.8,281.6 L475.3,280.2 L476.8,279.1 L478.3,278.1 L479.8,277.1 L481.3,276.3 L482.8,275.6 L484.3,275.1 L485.8,275.0 L487.3,275.4 L488.8,276.3 L490.3,277.5 L491.8,278.9 L493.3,280.4 L494.8,281.7 L496.3,283.1 L497.8,284.7 L499.3,286.3 L500.8,287.9 L502.3,289.9 L503.8,292.3 L505.3,294.4 L506.8,295.8 L508.3,295.7 L509.8,292.3 L511.3,287.7 L512.8,284.4 L514.3,281.7 L515.8,279.2 L517.3,276.9 L518.8,274.8 L520.3,272.7 L521.8,270.8 L523.3,269.4 L524.8,268.3 L526.3,267.6 L527.8,266.9 L529.3,266.4 L530.8,265.9 L532.3,265.4 L533.8,264.8 L535.3,264.2 L536.8,263.6 L538.3,263.0 L539.8,262.3 L541.3,261.7 L542.8,261.1 L544.3,260.4 L545.8,259.8 L547.3,259.2 L548.8,258.6 L550.3,258.1 L551.8,257.5 L553.3,257.0 L554.8,256.5 L556.3,255.9 L557.8,255.4 L559.3,254.9 L560.8,254.5 L562.3,254.0 L563.8,253.6 L565.3,253.3 L566.8,253.0 L568.3,252.7 L569.8,252.5 L571.3,252.3 L572.8,252.1 L574.3,252.0 L575.8,251.8 L577.3,251.6 L578.8,251.4 L580.3,251.2 L581.8,250.9 L583.3,250.5 L584.8,250.2 L586.3,249.8 L587.8,249.4 L589.3,249.0 L590.8,248.6 L592.3,248.2 L593.8,247.9 L595.3,247.6 L596.8,247.4 L598.3,247.3 L599.8,247.2 L601.3,247.2 L602.8,247.2 L604.3,247.3 L605.8,247.4 L607.3,247.5 L608.8,247.7 L610.3,247.8 L611.8,247.9 L613.3,248.0 L614.8,248.2 L616.3,248.3 L617.8,248.5 L619.3,248.7 L620.8,249.0 L622.3,249.1 L623.8,249.3 L625.3,249.7 L626.8,249.8 L628.3,250.1 L629.8,250.5 L631.3,250.7 L632.8,251.0 L634.3,251.3 L635.8,251.6 L637.3,251.9 L638.8,252.3 L640.3,252.6 L641.8,252.9 L643.3,253.3 L644.8,253.7 L646.3,253.9 L647.8,254.5 L649.3,254.6 L650.8,255.3 L652.3,255.7 L653.8,256.2 L655.3,256.9 L656.8,257.2 L658.3,257.5 L659.8,258.3 L661.3,258.8 L662.8,259.6 L664.3,260.1 L665.8,260.9 L667.3,261.7 L668.8,262.3 L670.3,263.1 L671.8,263.9 L673.3,264.9 L674.8,265.3 L676.3,266.2 L677.8,267.0 L679.3,268.0 L680.8,268.9 L682.3,269.6 L683.8,270.6 L685.3,271.6 L686.8,272.6 L688.3,273.1 L689.8,274.2 L691.3,275.0 L692.8,276.3 L694.3,277.3 L695.8,278.1 L697.3,279.1 L698.8,279.9 L700.3,281.2 L701.8,282.0 L703.3,282.9 L704.8,284.4 L706.3,285.4 L707.8,286.2 L709.3,287.6 L710.8,288.8 L712.3,289.8 L713.8,290.9 L715.3,291.9 L716.8,292.9 L718.3,294.4 L719.8,295.4 L721.3,296.7 L722.8,297.8 L724.3,299.3 L725.8,300.4 L727.3,301.7 L728.8,302.8 L730.3,304.1 L731.8,305.8 L733.3,307.1 L734.8,309.1 L736.3,310.9 L737.8,311.7 L739.3,313.2 L740.8,314.5 L742.3,316.7 L743.8,317.2 L745.3,319.6 L746.8,320.9 L748.3,322.1 L749.8,324.3 L751.3,325.7 L752.8,327.7 L754.3,329.5 L755.8,331.0 L757.3,332.0 L758.8,334.0 L760.3,335.9 L761.8,338.0 L763.3,339.4 L764.8,341.2 L766.3,342.3 L767.8,344.3 L769.3,345.8 L770.8,347.5 L772.3,348.7 L773.8,350.5 L775.3,352.1 L776.8,353.7 L778.3,355.6 L779.8,357.3 L781.3,359.2 L782.8,361.2 L784.3,362.4 L785.8,364.3 L787.3,366.2 L788.8,368.9 L790.3,369.7 L791.8,372.0 L793.3,373.5 L794.8,375.4 L796.3,377.5 L797.8,379.0 L799.3,380.8 L800.8,382.0 L802.3,383.7 L803.8,386.0 L805.3,387.2 L806.8,389.0 L808.3,391.1 L809.8,393.1 L811.3,393.8 L812.8,395.8 L814.3,396.9 L815.8,398.1 L817.3,399.4 L818.8,401.8 L820.3,402.9 L821.8,404.0 L823.3,405.8 L824.8,407.0 L826.3,407.3 L827.8,409.4 L829.3,411.0 L830.8,412.1 L832.3,413.5 L833.8,414.5 L835.3,415.3 L836.8,416.6 L838.3,418.5 L839.8,419.3 L841.3,420.4 L842.8,422.2 L844.3,423.2 L845.8,425.3 L847.3,425.4 L848.8,427.4 L850.3,428.0 L851.8,430.2 L853.3,430.9 L854.8,431.8 L856.3,433.1 L857.8,434.6 L859.3,435.0 L860.8,436.2 L862.3,438.0 L863.8,438.5 L865.3,439.9 L866.8,441.2 L868.3,441.1 L869.8,442.3 L871.3,442.8 L872.8,444.2 L874.3,445.3 L875.8,445.9 L877.3,447.2 L878.8,448.6 L880.3,448.1 L881.8,450.3 L883.3,450.6 L884.8,450.9 L886.3,452.0 L887.8,452.6 L889.3,453.6 L890.8,454.7 L892.3,454.8 L893.8,454.7 L895.3,457.1 L896.8,457.0 L898.3,458.7 L899.8,458.7 L901.3,458.6 L902.8,460.6 L904.3,460.9 L905.8,460.7 L907.3,461.9 L908.8,462.7 L910.3,463.8 L911.8,464.7 L913.3,465.0 L914.8,466.5 L916.3,467.4 L917.8,467.8 L919.3,468.5 L920.8,468.9 L922.3,471.2 L923.8,471.8 L925.3,471.7 L926.8,473.1 L928.3,474.4 L929.8,474.7 L931.3,475.8 L932.8,477.2 L934.3,477.0 L935.8,478.3 L937.3,479.5 L938.8,479.7 L940.3,479.8 L941.8,480.8 L943.3,482.4 L944.8,482.7 L946.3,483.1 L947.8,484.8 L949.3,483.0 L950.8,485.9 L952.3,486.8 L953.8,486.6 L955.3,487.5 L956.8,488.1 L958.3,489.0 L959.8,489.6 L961.3,490.3 L962.8,491.5 L964.3,491.6 L965.8,492.9 L967.3,493.8 L968.8,493.1 L970.3,494.5 L971.8,494.5 L973.3,495.0 L974.8,495.2 L976.3,495.7 L977.8,495.5 L979.3,497.0 L980.8,496.6 L982.3,496.8 L983.8,497.5 L985.3,497.5 L986.8,498.1 L988.3,496.8 L989.8,497.3 L991.3,498.3 L992.8,498.7 L994.3,498.3 L995.8,497.3 L997.3,499.4 L998.8,499.8 L1000.3,498.8 L1001.8,499.9 L1003.3,499.9 L1004.8,500.5 L1006.3,501.9 L1007.8,501.0 L1009.3,500.1 L1010.8,500.7 L1012.3,501.6 L1013.8,502.5 L1015.3,501.5 L1016.8,503.2 L1018.3,501.7 L1019.8,501.6 L1021.3,500.3 L1022.8,503.2 L1024.3,502.5 L1025.8,502.8 L1027.3,503.0 L1028.8,504.0 L1030.3,502.3 L1031.8,504.4 L1033.3,503.8 L1034.8,503.0 L1036.3,503.7 L1037.8,503.7 L1039.3,503.2 L1040.8,504.7 L1042.3,504.5 L1043.8,505.3 L1045.3,504.4 L1046.8,504.2 L1048.3,504.6 L1049.8,504.7 L1051.3,505.8 L1052.8,504.6 L1054.3,506.0 L1055.8,504.3 L1057.3,505.9 L1058.8,505.7 L1060.3,505.9 L1061.8,506.0 L1063.3,506.1 L1064.8,506.9 L1066.3,506.5 L1067.8,507.8 L1069.3,506.6 L1070.8,507.0 L1072.3,507.0 L1073.8,506.9 L1075.3,509.2 L1076.8,508.8 L1078.3,508.3 L1079.8,509.7 L1081.3,508.3 L1082.8,508.8 L1084.3,508.9 L1085.8,509.6 L1087.3,509.5 L1088.8,510.4 L1090.3,510.0 L1091.8,512.5 L1093.3,511.2 L1094.8,512.1 L1096.3,510.1 L1097.8,512.1 L1099.3,511.2 L1100.8,513.0 L1102.3,511.9 L1103.8,513.3 L1105.3,512.8 L1106.8,512.9 L1108.3,513.4 L1109.8,512.3 L1111.3,511.8 L1112.8,512.5 L1114.3,514.4 L1115.8,513.7 L1117.3,514.3 L1118.8,515.9 L1120.3,514.9 L1121.8,515.3 L1123.3,514.7 L1124.8,514.8 L1126.3,516.0 L1127.8,515.7 L1129.3,517.5 L1130.8,517.3 L1132.3,516.2 L1133.8,516.5 L1135.3,518.5 L1136.8,517.2 L1138.3,517.5 L1139.8,517.8 L1141.3,518.4 L1142.8,516.5 L1144.3,518.2 L1145.8,518.3 L1147.3,519.0 L1148.8,519.0 L1150.3,519.2 L1151.8,520.3 L1153.3,519.3 L1154.8,520.2 L1156.3,518.8 L1157.8,520.3 L1159.3,521.0 L1160.8,522.8 L1162.3,520.2 L1163.8,520.0 L1165.3,520.6 L1166.8,520.9 L1168.3,522.9 L1169.8,520.1 L1171.3,522.1 L1172.8,522.0 L1174.3,522.6 L1175.8,522.6 L1177.3,524.5 L1178.8,523.6 L1180.3,524.1 L1181.8,523.2 L1183.3,524.4 L1184.8,523.4 L1185.0,525.1" fill="none" stroke="#90d743" stroke-width="3.8" stroke-linejoin="round" stroke-linecap="butt"/>
<path d="M203.8,365.0 L205.3,365.0 L206.8,365.0 L208.3,365.0 L209.8,364.9 L211.3,364.9 L212.8,364.8 L214.3,364.7 L215.8,364.7 L217.3,364.6 L218.8,364.5 L220.3,364.4 L221.8,364.3 L223.3,364.1 L224.8,364.0 L226.3,363.9 L227.8,363.7 L229.3,363.6 L230.8,363.4 L232.3,363.1 L233.8,362.7 L235.3,362.2 L236.8,361.6 L238.3,360.9 L239.8,360.2 L241.3,359.4 L242.8,358.6 L244.3,357.7 L245.8,356.9 L247.3,356.0 L248.8,354.9 L250.3,353.8 L251.8,352.5 L253.3,351.2 L254.8,349.8 L256.3,348.4 L257.8,346.9 L259.3,345.4 L260.8,343.8 L262.3,342.1 L263.8,340.4 L265.3,338.5 L266.8,336.6 L268.3,334.6 L269.8,332.6 L271.3,330.6 L272.8,328.4 L274.3,326.2 L275.8,323.9 L277.3,321.6 L278.8,319.1 L280.3,316.6 L281.8,314.1 L283.3,311.6 L284.8,309.0 L286.3,306.3 L287.8,303.5 L289.3,300.7 L290.8,297.7 L292.3,294.8 L293.8,292.0 L295.3,289.2 L296.8,286.6 L298.3,284.2 L299.8,281.8 L301.3,279.5 L302.8,277.4 L304.3,275.7 L305.8,274.3 L307.3,273.0 L308.8,271.8 L310.3,270.8 L311.8,270.0 L313.3,269.5 L314.8,269.4 L316.3,269.6 L317.8,269.9 L319.3,270.3 L320.8,270.8 L322.3,271.3 L323.8,271.7 L325.3,272.1 L326.8,272.4 L328.3,272.7 L329.8,273.0 L331.3,273.3 L332.8,273.5 L334.3,273.8 L335.8,274.0 L337.3,274.1 L338.8,274.2 L340.3,274.2 L341.8,274.1 L343.3,273.9 L344.8,273.6 L346.3,273.2 L347.8,272.8 L349.3,272.4 L350.8,272.0 L352.3,271.6 L353.8,271.3 L355.3,270.9 L356.8,270.6 L358.3,270.3 L359.8,269.9 L361.3,269.6 L362.8,269.2 L364.3,269.0 L365.8,268.8 L367.3,268.7 L368.8,268.8 L370.3,269.6 L371.8,270.8 L373.3,272.5 L374.8,274.5 L376.3,276.7 L377.8,279.1 L379.3,281.5 L380.8,284.1 L382.3,287.5 L383.8,291.3 L385.3,295.6 L386.8,300.1 L388.3,304.6 L389.8,309.2 L391.3,314.2 L392.8,319.8 L394.3,325.2 L395.8,329.6 L397.3,333.0 L398.8,336.1 L400.3,339.0 L401.8,341.5 L403.3,343.6 L404.8,345.2 L406.3,346.3 L407.8,347.2 L409.3,348.1 L410.8,348.9 L412.3,349.6 L413.8,350.1 L415.3,350.6 L416.8,351.0 L418.3,351.2 L419.8,351.2 L421.3,351.1 L422.8,351.0 L424.3,350.8 L425.8,350.5 L427.3,350.1 L428.8,349.8 L430.3,349.4 L431.8,348.9 L433.3,348.5 L434.8,348.1 L436.3,347.6 L437.8,347.0 L439.3,346.4 L440.8,345.7 L442.3,345.0 L443.8,344.2 L445.3,343.3 L446.8,342.5 L448.3,341.6 L449.8,340.8 L451.3,339.8 L452.8,338.8 L454.3,337.8 L455.8,336.7 L457.3,335.6 L458.8,334.4 L460.3,333.2 L461.8,332.0 L463.3,330.8 L464.8,329.6 L466.3,328.4 L467.8,327.2 L469.3,326.0 L470.8,324.8 L472.3,323.6 L473.8,322.5 L475.3,321.4 L476.8,320.3 L478.3,319.1 L479.8,317.8 L481.3,316.5 L482.8,315.2 L484.3,313.9 L485.8,312.7 L487.3,311.7 L488.8,310.8 L490.3,310.2 L491.8,309.8 L493.3,309.8 L494.8,310.2 L496.3,310.9 L497.8,311.7 L499.3,312.6 L500.8,313.5 L502.3,314.7 L503.8,316.1 L505.3,317.5 L506.8,318.7 L508.3,319.4 L509.8,319.4 L511.3,318.2 L512.8,316.2 L514.3,313.9 L515.8,311.6 L517.3,309.8 L518.8,308.4 L520.3,307.1 L521.8,305.9 L523.3,304.7 L524.8,303.6 L526.3,302.4 L527.8,301.3 L529.3,300.2 L530.8,299.1 L532.3,297.9 L533.8,296.6 L535.3,295.4 L536.8,294.2 L538.3,293.1 L539.8,292.1 L541.3,291.2 L542.8,290.4 L544.3,289.6 L545.8,288.8 L547.3,288.0 L548.8,287.3 L550.3,286.6 L551.8,285.9 L553.3,285.2 L554.8,284.6 L556.3,283.9 L557.8,283.2 L559.3,282.5 L560.8,281.8 L562.3,281.2 L563.8,280.5 L565.3,280.0 L566.8,279.4 L568.3,278.9 L569.8,278.5 L571.3,278.1 L572.8,277.8 L574.3,277.5 L575.8,277.1 L577.3,276.8 L578.8,276.5 L580.3,276.1 L581.8,275.7 L583.3,275.4 L584.8,275.0 L586.3,274.6 L587.8,274.1 L589.3,273.7 L590.8,273.3 L592.3,272.9 L593.8,272.5 L595.3,272.1 L596.8,271.6 L598.3,271.2 L599.8,270.8 L601.3,270.4 L602.8,270.1 L604.3,269.7 L605.8,269.3 L607.3,269.0 L608.8,268.7 L610.3,268.3 L611.8,268.0 L613.3,267.7 L614.8,267.4 L616.3,267.1 L617.8,266.7 L619.3,266.5 L620.8,266.1 L622.3,265.9 L623.8,265.6 L625.3,265.3 L626.8,265.0 L628.3,264.7 L629.8,264.5 L631.3,264.2 L632.8,263.9 L634.3,263.7 L635.8,263.4 L637.3,263.4 L638.8,263.2 L640.3,262.9 L641.8,262.8 L643.3,262.6 L644.8,262.4 L646.3,262.2 L647.8,262.1 L649.3,262.0 L650.8,261.9 L652.3,261.6 L653.8,261.4 L655.3,261.4 L656.8,261.3 L658.3,261.0 L659.8,260.9 L661.3,260.7 L662.8,260.7 L664.3,260.6 L665.8,260.5 L667.3,260.5 L668.8,260.1 L670.3,260.2 L671.8,260.2 L673.3,260.0 L674.8,260.2 L676.3,260.0 L677.8,260.1 L679.3,260.1 L680.8,260.1 L682.3,260.2 L683.8,260.3 L685.3,260.1 L686.8,260.2 L688.3,260.3 L689.8,260.2 L691.3,260.3 L692.8,260.3 L694.3,260.4 L695.8,260.8 L697.3,260.4 L698.8,260.6 L700.3,260.8 L701.8,261.0 L703.3,261.1 L704.8,261.1 L706.3,261.4 L707.8,261.6 L709.3,261.4 L710.8,261.4 L712.3,262.3 L713.8,262.3 L715.3,262.3 L716.8,262.8 L718.3,262.6 L719.8,263.2 L721.3,263.7 L722.8,263.4 L724.3,264.1 L725.8,264.7 L727.3,264.9 L728.8,265.2 L730.3,266.4 L731.8,266.9 L733.3,267.4 L734.8,267.7 L736.3,268.0 L737.8,269.0 L739.3,269.3 L740.8,270.0 L742.3,270.6 L743.8,271.2 L745.3,271.8 L746.8,272.4 L748.3,272.8 L749.8,273.8 L751.3,273.8 L752.8,275.1 L754.3,275.7 L755.8,276.9 L757.3,277.8 L758.8,278.1 L760.3,278.8 L761.8,279.9 L763.3,280.5 L764.8,281.3 L766.3,281.9 L767.8,283.9 L769.3,284.6 L770.8,285.6 L772.3,287.2 L773.8,287.9 L775.3,289.3 L776.8,291.0 L778.3,291.0 L779.8,292.6 L781.3,292.9 L782.8,293.9 L784.3,295.8 L785.8,296.8 L787.3,297.7 L788.8,298.3 L790.3,300.2 L791.8,300.6 L793.3,301.8 L794.8,302.9 L796.3,303.3 L797.8,304.7 L799.3,306.1 L800.8,307.8 L802.3,308.5 L803.8,309.9 L805.3,311.1 L806.8,311.6 L808.3,313.0 L809.8,315.1 L811.3,315.3 L812.8,316.5 L814.3,318.8 L815.8,319.6 L817.3,320.9 L818.8,321.5 L820.3,323.4 L821.8,324.8 L823.3,325.6 L824.8,327.7 L826.3,328.5 L827.8,330.2 L829.3,330.9 L830.8,333.2 L832.3,333.9 L833.8,334.5 L835.3,337.1 L836.8,337.8 L838.3,338.7 L839.8,339.8 L841.3,341.2 L842.8,343.2 L844.3,343.8 L845.8,345.9 L847.3,346.3 L848.8,348.3 L850.3,349.3 L851.8,349.8 L853.3,350.8 L854.8,353.0 L856.3,353.8 L857.8,355.9 L859.3,356.0 L860.8,357.1 L862.3,359.2 L863.8,360.6 L865.3,362.0 L866.8,363.4 L868.3,364.1 L869.8,365.6 L871.3,366.8 L872.8,368.8 L874.3,370.1 L875.8,371.2 L877.3,372.5 L878.8,373.3 L880.3,374.4 L881.8,375.7 L883.3,376.2 L884.8,378.4 L886.3,379.0 L887.8,379.3 L889.3,380.6 L890.8,380.3 L892.3,382.8 L893.8,382.5 L895.3,384.2 L896.8,383.7 L898.3,385.0 L899.8,385.8 L901.3,386.5 L902.8,386.7 L904.3,387.7 L905.8,388.6 L907.3,390.4 L908.8,390.0 L910.3,392.6 L911.8,392.5 L913.3,392.9 L914.8,394.5 L916.3,394.8 L917.8,395.7 L919.3,396.7 L920.8,398.2 L922.3,398.4 L923.8,400.4 L925.3,400.9 L926.8,401.9 L928.3,403.1 L929.8,403.6 L931.3,404.5 L932.8,405.4 L934.3,406.2 L935.8,407.8 L937.3,408.8 L938.8,409.9 L940.3,410.7 L941.8,411.6 L943.3,413.1 L944.8,414.4 L946.3,416.1 L947.8,418.7 L949.3,418.2 L950.8,419.1 L952.3,420.7 L953.8,422.3 L955.3,423.7 L956.8,425.7 L958.3,426.7 L959.8,427.1 L961.3,428.4 L962.8,429.0 L964.3,430.1 L965.8,430.6 L967.3,432.2 L968.8,432.1 L970.3,433.6 L971.8,434.4 L973.3,435.3 L974.8,436.2 L976.3,437.5 L977.8,438.5 L979.3,439.3 L980.8,439.0 L982.3,440.1 L983.8,440.1 L985.3,440.9 L986.8,441.8 L988.3,442.3 L989.8,442.4 L991.3,443.1 L992.8,442.3 L994.3,443.7 L995.8,442.5 L997.3,444.5 L998.8,444.6 L1000.3,444.3 L1001.8,444.6 L1003.3,444.9 L1004.8,445.7 L1006.3,445.1 L1007.8,444.8 L1009.3,446.6 L1010.8,446.0 L1012.3,447.1 L1013.8,446.5 L1015.3,446.9 L1016.8,447.2 L1018.3,447.5 L1019.8,446.7 L1021.3,448.5 L1022.8,449.1 L1024.3,448.2 L1025.8,450.0 L1027.3,448.3 L1028.8,449.7 L1030.3,449.8 L1031.8,449.2 L1033.3,450.6 L1034.8,450.8 L1036.3,451.6 L1037.8,449.7 L1039.3,451.1 L1040.8,452.6 L1042.3,452.3 L1043.8,452.2 L1045.3,453.2 L1046.8,453.1 L1048.3,453.4 L1049.8,453.9 L1051.3,454.4 L1052.8,455.6 L1054.3,455.0 L1055.8,454.7 L1057.3,455.0 L1058.8,455.1 L1060.3,456.9 L1061.8,456.4 L1063.3,456.1 L1064.8,456.8 L1066.3,457.5 L1067.8,458.2 L1069.3,457.2 L1070.8,457.4 L1072.3,459.9 L1073.8,458.2 L1075.3,458.7 L1076.8,459.8 L1078.3,458.8 L1079.8,458.2 L1081.3,459.3 L1082.8,461.2 L1084.3,463.1 L1085.8,461.0 L1087.3,462.9 L1088.8,462.7 L1090.3,463.0 L1091.8,463.0 L1093.3,464.8 L1094.8,464.1 L1096.3,465.6 L1097.8,464.5 L1099.3,464.2 L1100.8,465.0 L1102.3,465.9 L1103.8,466.1 L1105.3,466.9 L1106.8,465.4 L1108.3,466.9 L1109.8,469.1 L1111.3,467.8 L1112.8,469.4 L1114.3,468.4 L1115.8,468.8 L1117.3,471.8 L1118.8,470.4 L1120.3,470.6 L1121.8,469.7 L1123.3,471.9 L1124.8,472.6 L1126.3,471.6 L1127.8,473.1 L1129.3,473.5 L1130.8,474.2 L1132.3,474.8 L1133.8,475.3 L1135.3,476.0 L1136.8,476.1 L1138.3,475.3 L1139.8,476.4 L1141.3,478.4 L1142.8,477.3 L1144.3,477.9 L1145.8,476.2 L1147.3,479.7 L1148.8,480.5 L1150.3,479.7 L1151.8,480.8 L1153.3,481.4 L1154.8,480.7 L1156.3,481.3 L1157.8,482.3 L1159.3,482.7 L1160.8,483.3 L1162.3,484.4 L1163.8,482.9 L1165.3,483.7 L1166.8,484.0 L1168.3,484.4 L1169.8,485.1 L1171.3,485.0 L1172.8,483.3 L1174.3,484.2 L1175.8,484.8 L1177.3,484.3 L1178.8,484.0 L1180.3,484.7 L1181.8,484.4 L1183.3,486.3 L1184.8,483.6 L1185.0,483.8" fill="none" stroke="#c8e020" stroke-width="3.8" stroke-linejoin="round" stroke-linecap="butt"/>
<path d="M203.8,359.2 L205.3,357.5 L206.8,358.6 L208.3,358.5 L209.8,358.3 L211.3,358.3 L212.8,357.4 L214.3,357.5 L215.8,357.2 L217.3,358.0 L218.8,357.9 L220.3,356.5 L221.8,356.5 L223.3,355.4 L224.8,354.9 L226.3,353.9 L227.8,353.4 L229.3,352.3 L230.8,352.0 L232.3,353.6 L233.8,349.1 L235.3,349.0 L236.8,347.5 L238.3,346.4 L239.8,346.1 L241.3,344.0 L242.8,343.4 L244.3,342.1 L245.8,340.7 L247.3,338.6 L248.8,337.9 L250.3,336.0 L251.8,334.2 L253.3,333.4 L254.8,333.5 L256.3,331.5 L257.8,328.4 L259.3,327.6 L260.8,325.3 L262.3,324.2 L263.8,322.2 L265.3,319.7 L266.8,318.4 L268.3,316.2 L269.8,314.0 L271.3,312.0 L272.8,309.4 L274.3,307.3 L275.8,305.3 L277.3,302.3 L278.8,299.2 L280.3,295.4 L281.8,292.9 L283.3,289.5 L284.8,285.2 L286.3,284.0 L287.8,275.0 L289.3,270.1 L290.8,263.9 L292.3,259.2 L293.8,253.1 L295.3,246.5 L296.8,241.1 L298.3,234.6 L299.8,228.6 L301.3,224.8 L302.8,219.7 L304.3,216.1 L305.8,212.8 L307.3,210.4 L308.8,208.6 L310.3,207.0 L311.8,205.4 L313.3,205.2 L314.8,205.5 L316.3,203.9 L317.8,203.6 L319.3,202.9 L320.8,203.2 L322.3,203.1 L323.8,204.2 L325.3,202.7 L326.8,203.2 L328.3,203.8 L329.8,203.5 L331.3,203.7 L332.8,202.6 L334.3,203.3 L335.8,201.7 L337.3,201.4 L338.8,199.8 L340.3,197.2 L341.8,195.5 L343.3,192.4 L344.8,189.1 L346.3,186.4 L347.8,183.3 L349.3,179.3 L350.8,176.6 L352.3,172.9 L353.8,169.3 L355.3,167.5 L356.8,163.8 L358.3,160.1 L359.8,156.3 L361.3,152.7 L362.8,148.9 L364.3,146.3 L365.8,139.7 L367.3,140.4 L368.8,138.2 L370.3,137.7 L371.8,137.1 L373.3,138.9 L374.8,138.5 L376.3,140.3 L377.8,141.0 L379.3,145.4 L380.8,155.0 L382.3,167.9 L383.8,181.6 L385.3,190.6 L386.8,199.7 L388.3,211.6 L389.8,224.4 L391.3,239.0 L392.8,254.4 L394.3,266.3 L395.8,276.9 L397.3,289.8 L398.8,302.3 L400.3,313.0 L401.8,321.7 L403.3,331.2 L404.8,339.4 L406.3,343.5 L407.8,348.6 L409.3,350.0 L410.8,353.4 L412.3,354.5 L413.8,355.8 L415.3,356.5 L416.8,358.1 L418.3,359.1 L419.8,360.3 L421.3,361.6 L422.8,364.2 L424.3,362.1 L425.8,363.7 L427.3,365.7 L428.8,360.3 L430.3,366.1 L431.8,366.9 L433.3,367.1 L434.8,369.5 L436.3,369.2 L437.8,370.1 L439.3,369.7 L440.8,371.4 L442.3,370.5 L443.8,367.5 L445.3,373.3 L446.8,371.6 L448.3,372.2 L449.8,372.5 L451.3,372.5 L452.8,373.5 L454.3,374.6 L455.8,371.0 L457.3,374.2 L458.8,373.0 L460.3,374.1 L461.8,374.4 L463.3,374.8 L464.8,375.4 L466.3,374.1 L467.8,374.3 L469.3,375.0 L470.8,375.0 L472.3,374.8 L473.8,373.8 L475.3,375.2 L476.8,374.3 L478.3,375.3 L479.8,376.0 L481.3,374.8 L482.8,376.0 L484.3,376.2 L485.8,375.2 L487.3,376.2 L488.8,374.8 L490.3,375.1 L491.8,376.1 L493.3,375.6 L494.8,375.3 L496.3,376.2 L497.8,375.0 L499.3,376.6 L500.8,374.7 L502.3,375.3 L503.8,374.9 L505.3,374.5 L506.8,376.0 L508.3,375.3 L509.8,374.8 L511.3,375.5 L512.8,375.5 L514.3,375.3 L515.8,375.4 L517.3,374.4 L518.8,374.1 L520.3,375.3 L521.8,374.1 L523.3,375.1 L524.8,373.7 L526.3,375.2 L527.8,373.5 L529.3,373.6 L530.8,373.8 L532.3,373.6 L533.8,373.9 L535.3,373.1 L536.8,373.8 L538.3,374.0 L539.8,373.3 L541.3,373.2 L542.8,373.6 L544.3,372.6 L545.8,372.1 L547.3,371.8 L548.8,371.5 L550.3,372.4 L551.8,370.0 L553.3,369.6 L554.8,369.5 L556.3,369.0 L557.8,368.4 L559.3,369.8 L560.8,367.5 L562.3,368.0 L563.8,368.1 L565.3,367.2 L566.8,368.4 L568.3,367.2 L569.8,367.7 L571.3,366.4 L572.8,367.1 L574.3,365.5 L575.8,366.4 L577.3,366.4 L578.8,364.6 L580.3,366.4 L581.8,365.7 L583.3,366.6 L584.8,365.0 L586.3,366.8 L587.8,365.6 L589.3,365.3 L590.8,365.0 L592.3,366.1 L593.8,365.5 L595.3,366.4 L596.8,365.7 L598.3,363.3 L599.8,366.2 L601.3,364.8 L602.8,364.9 L604.3,363.6 L605.8,363.6 L607.3,363.4 L608.8,363.3 L610.3,362.0 L611.8,362.5 L613.3,363.9 L614.8,361.3 L616.3,360.8 L617.8,360.2 L619.3,360.0 L620.8,361.6 L622.3,361.8 L623.8,359.5 L625.3,361.3 L626.8,360.7 L628.3,361.4 L629.8,363.1 L631.3,359.1 L632.8,360.0 L634.3,361.0 L635.8,359.7 L637.3,360.8 L638.8,359.5 L640.3,359.7 L641.8,360.0 L643.3,360.3 L644.8,359.8 L646.3,358.1 L647.8,359.7 L649.3,360.4 L650.8,359.6 L652.3,357.8 L653.8,358.7 L655.3,358.0 L656.8,354.1 L658.3,359.8 L659.8,357.8 L661.3,358.4 L662.8,360.1 L664.3,359.8 L665.8,359.5 L667.3,358.2 L668.8,358.3 L670.3,358.1 L671.8,357.5 L673.3,357.8 L674.8,359.2 L676.3,358.1 L677.8,358.1 L679.3,358.2 L680.8,358.1 L682.3,359.1 L683.8,357.5 L685.3,358.6 L686.8,356.4 L688.3,359.1 L689.8,357.8 L691.3,357.5 L692.8,358.5 L694.3,357.8 L695.8,357.7 L697.3,358.2 L698.8,357.6 L700.3,355.4 L701.8,352.7 L703.3,359.6 L704.8,357.4 L706.3,359.5 L707.8,360.7 L709.3,357.7 L710.8,357.3 L712.3,355.1 L713.8,355.8 L715.3,358.4 L716.8,357.3 L718.3,357.2 L719.8,359.6 L721.3,356.0 L722.8,359.9 L724.3,356.0 L725.8,357.4 L727.3,359.7 L728.8,358.6 L730.3,361.6 L731.8,357.1 L733.3,359.4 L734.8,358.8 L736.3,359.1 L737.8,356.0 L739.3,359.7 L740.8,359.1 L742.3,357.2 L743.8,358.7 L745.3,357.2 L746.8,357.1 L748.3,359.4 L749.8,358.3 L751.3,359.1 L752.8,359.9 L754.3,360.8 L755.8,359.8 L757.3,359.1 L758.8,359.6 L760.3,360.7 L761.8,360.2 L763.3,366.0 L764.8,359.2 L766.3,360.0 L767.8,362.3 L769.3,360.8 L770.8,359.0 L772.3,360.8 L773.8,359.7 L775.3,361.3 L776.8,362.3 L778.3,360.2 L779.8,360.5 L781.3,361.5 L782.8,363.0 L784.3,360.0 L785.8,362.4 L787.3,362.1 L788.8,361.5 L790.3,363.6 L791.8,360.8 L793.3,364.0 L794.8,363.2 L796.3,362.2 L797.8,364.1 L799.3,362.9 L800.8,363.7 L802.3,362.4 L803.8,363.0 L805.3,364.5 L806.8,362.7 L808.3,363.3 L809.8,363.9 L811.3,365.1 L812.8,364.0 L814.3,364.1 L815.8,364.7 L817.3,366.4 L818.8,363.9 L820.3,366.4 L821.8,362.7 L823.3,365.7 L824.8,363.8 L826.3,366.1 L827.8,366.7 L829.3,364.5 L830.8,362.8 L832.3,364.5 L833.8,364.6 L835.3,363.8 L836.8,367.1 L838.3,366.4 L839.8,366.6 L841.3,362.6 L842.8,369.4 L844.3,365.5 L845.8,364.8 L847.3,365.5 L848.8,367.9 L850.3,366.7 L851.8,368.8 L853.3,365.0 L854.8,368.3 L856.3,368.0 L857.8,368.4 L859.3,367.7 L860.8,368.6 L862.3,368.8 L863.8,369.6 L865.3,368.9 L866.8,370.2 L868.3,371.1 L869.8,370.1 L871.3,373.2 L872.8,371.9 L874.3,372.2 L875.8,371.4 L877.3,372.9 L878.8,373.6 L880.3,373.4 L881.8,370.8 L883.3,375.0 L884.8,374.5 L886.3,378.4 L887.8,377.0 L889.3,374.9 L890.8,374.7 L892.3,376.0 L893.8,376.5 L895.3,375.2 L896.8,377.5 L898.3,379.0 L899.8,378.0 L901.3,377.4 L902.8,376.9 L904.3,378.8 L905.8,379.2 L907.3,377.1 L908.8,381.2 L910.3,376.2 L911.8,380.0 L913.3,380.4 L914.8,381.5 L916.3,380.6 L917.8,381.0 L919.3,384.3 L920.8,382.9 L922.3,382.7 L923.8,383.8 L925.3,383.6 L926.8,385.6 L928.3,386.1 L929.8,385.8 L931.3,384.9 L932.8,387.3 L934.3,387.2 L935.8,390.7 L937.3,387.6 L938.8,389.1 L940.3,388.4 L941.8,387.6 L943.3,387.4 L944.8,387.0 L946.3,389.6 L947.8,388.8 L949.3,388.3 L950.8,390.7 L952.3,390.7 L953.8,392.7 L955.3,393.5 L956.8,394.2 L958.3,395.7 L959.8,402.5 L961.3,400.9 L962.8,404.5 L964.3,405.3 L965.8,406.0 L967.3,409.9 L968.8,403.7 L970.3,407.7 L971.8,406.7 L973.3,407.6 L974.8,410.0 L976.3,409.0 L977.8,410.7 L979.3,405.4 L980.8,409.9 L982.3,405.9 L983.8,409.1 L985.3,405.1 L986.8,412.6 L988.3,409.0 L989.8,406.8 L991.3,408.1 L992.8,406.5 L994.3,405.5 L995.8,405.7 L997.3,407.4 L998.8,406.2 L1000.3,403.1 L1001.8,404.3 L1003.3,399.6 L1004.8,401.9 L1006.3,394.3 L1007.8,396.9 L1009.3,403.6 L1010.8,400.8 L1012.3,397.0 L1013.8,399.8 L1015.3,397.3 L1016.8,398.0 L1018.3,396.0 L1019.8,399.4 L1021.3,394.9 L1022.8,393.7 L1024.3,394.0 L1025.8,394.3 L1027.3,389.9 L1028.8,395.7 L1030.3,396.6 L1031.8,395.1 L1033.3,391.7 L1034.8,392.7 L1036.3,390.1 L1037.8,392.7 L1039.3,393.6 L1040.8,395.9 L1042.3,387.1 L1043.8,393.2 L1045.3,393.4 L1046.8,393.1 L1048.3,390.1 L1049.8,392.1 L1051.3,393.0 L1052.8,390.4 L1054.3,393.6 L1055.8,392.1 L1057.3,388.9 L1058.8,390.5 L1060.3,390.3 L1061.8,391.8 L1063.3,389.4 L1064.8,394.4 L1066.3,387.4 L1067.8,391.3 L1069.3,388.2 L1070.8,389.9 L1072.3,390.7 L1073.8,390.7 L1075.3,388.7 L1076.8,390.6 L1078.3,390.9 L1079.8,389.7 L1081.3,391.6 L1082.8,389.3 L1084.3,387.5 L1085.8,393.3 L1087.3,392.1 L1088.8,390.7 L1090.3,391.3 L1091.8,389.3 L1093.3,393.7 L1094.8,393.3 L1096.3,391.8 L1097.8,394.8 L1099.3,401.8 L1100.8,401.7 L1102.3,395.7 L1103.8,396.1 L1105.3,395.3 L1106.8,397.7 L1108.3,399.3 L1109.8,399.8 L1111.3,401.3 L1112.8,407.7 L1114.3,401.9 L1115.8,401.3 L1117.3,403.7 L1118.8,406.8 L1120.3,406.2 L1121.8,410.6 L1123.3,407.8 L1124.8,405.2 L1126.3,405.5 L1127.8,412.4 L1129.3,407.3 L1130.8,416.9 L1132.3,409.1 L1133.8,407.3 L1135.3,407.3 L1136.8,405.1 L1138.3,401.6 L1139.8,406.3 L1141.3,406.2 L1142.8,408.7 L1144.3,401.8 L1145.8,409.5 L1147.3,410.2 L1148.8,425.1 L1150.3,407.5 L1151.8,409.3 L1153.3,408.9 L1154.8,407.1 L1156.3,407.9 L1157.8,396.6 L1159.3,411.7 L1160.8,410.0 L1162.3,416.1 L1163.8,417.8 L1165.3,415.8 L1166.8,422.1 L1168.3,409.0 L1169.8,408.5 L1171.3,420.7 L1172.8,406.7 L1174.3,413.8 L1175.8,409.3 L1177.3,419.8 L1178.8,414.1 L1180.3,401.1 L1181.8,400.4 L1183.3,411.9 L1184.8,409.2 L1185.0,428.9" fill="none" stroke="#fde725" stroke-width="3.8" stroke-linejoin="round" stroke-linecap="butt"/>
</g>
<g clip-path="url(#cb)">
<path d="M1400.4,543.8 L1400.9,543.8 L1401.4,543.8 L1401.9,543.7 L1402.4,543.7 L1402.9,543.7 L1403.4,543.6 L1403.9,543.6 L1404.4,543.6 L1404.9,543.6 L1405.4,543.5 L1405.9,543.5 L1406.4,543.5 L1406.9,543.4 L1407.4,543.4 L1407.9,543.4 L1408.4,543.3 L1408.9,543.3 L1409.4,543.3 L1409.9,543.2 L1410.4,543.2 L1410.9,543.2 L1411.4,543.1 L1411.9,543.1 L1412.4,543.1 L1412.9,543.0 L1413.4,543.0 L1413.9,543.0 L1414.4,542.9 L1414.9,542.9 L1415.4,542.8 L1415.9,542.8 L1416.4,542.8 L1416.9,542.7 L1417.4,542.7 L1417.9,542.6 L1418.4,542.6 L1418.9,542.6 L1419.4,542.5 L1419.9,542.5 L1420.4,542.4 L1420.9,542.4 L1421.4,542.3 L1421.9,542.3 L1422.4,542.3 L1422.9,542.2 L1423.4,542.2 L1423.9,542.1 L1424.4,542.1 L1424.9,542.0 L1425.4,542.0 L1425.9,541.9 L1426.4,541.9 L1426.9,541.8 L1427.4,541.8 L1427.9,541.8 L1428.4,541.7 L1428.9,541.7 L1429.4,541.6 L1429.9,541.6 L1430.4,541.5 L1430.9,541.5 L1431.4,541.4 L1431.9,541.4 L1432.4,541.3 L1432.9,541.3 L1433.4,541.2 L1433.9,541.2 L1434.4,541.1 L1434.9,541.1 L1435.4,541.0 L1435.9,540.9 L1436.4,540.9 L1436.9,540.8 L1437.4,540.8 L1437.9,540.7 L1438.4,540.7 L1438.9,540.6 L1439.4,540.6 L1439.9,540.5 L1440.4,540.4 L1440.9,540.4 L1441.4,540.3 L1441.9,540.2 L1442.4,540.2 L1442.9,540.1 L1443.4,540.1 L1443.9,540.0 L1444.4,539.9 L1444.9,539.9 L1445.4,539.8 L1445.9,539.7 L1446.4,539.7 L1446.9,539.6 L1447.4,539.5 L1447.9,539.5 L1448.4,539.4 L1448.9,539.3 L1449.4,539.2 L1449.9,539.2 L1450.4,539.1 L1450.9,539.0 L1451.4,538.9 L1451.9,538.9 L1452.4,538.8 L1452.9,538.7 L1453.4,538.6 L1453.9,538.6 L1454.4,538.5 L1454.9,538.4 L1455.4,538.3 L1455.9,538.2 L1456.4,538.1 L1456.9,538.1 L1457.4,538.0 L1457.9,537.9 L1458.4,537.8 L1458.9,537.7 L1459.4,537.6 L1459.9,537.5 L1460.4,537.4 L1460.9,537.3 L1461.4,537.2 L1461.9,537.1 L1462.4,537.0 L1462.9,536.9 L1463.4,536.7 L1463.9,536.6 L1464.4,536.5 L1464.9,536.4 L1465.4,536.2 L1465.9,536.1 L1466.4,536.0 L1466.9,535.8 L1467.4,535.7 L1467.9,535.6 L1468.4,535.4 L1468.9,535.3 L1469.4,535.1 L1469.9,535.0 L1470.4,534.8 L1470.9,534.7 L1471.4,534.5 L1471.9,534.4 L1472.4,534.2 L1472.9,534.1 L1473.4,533.9 L1473.9,533.7 L1474.4,533.6 L1474.9,533.4 L1475.4,533.3 L1475.9,533.1 L1476.4,533.0 L1476.9,532.8 L1477.4,532.6 L1477.9,532.5 L1478.4,532.3 L1478.9,532.2 L1479.4,532.0 L1479.9,531.9 L1480.4,531.7 L1480.9,531.5 L1481.4,531.4 L1481.9,531.2 L1482.4,531.1 L1482.9,530.9 L1483.4,530.8 L1483.9,530.6 L1484.4,530.5 L1484.9,530.3 L1485.4,530.2 L1485.9,530.1 L1486.4,529.9 L1486.9,529.8 L1487.4,529.7 L1487.9,529.5 L1488.4,529.4 L1488.9,529.3 L1489.4,529.1 L1489.9,529.0 L1490.4,528.9 L1490.9,528.8 L1491.4,528.7 L1491.9,528.5 L1492.4,528.4 L1492.9,528.3 L1493.4,528.2 L1493.9,528.1 L1494.4,528.0 L1494.9,527.9 L1495.4,527.8 L1495.9,527.6 L1496.4,527.5 L1496.9,527.4 L1497.4,527.3 L1497.9,527.2 L1498.4,527.1 L1498.9,527.0 L1499.4,526.9 L1499.9,526.7 L1500.4,526.6 L1500.9,526.5 L1501.4,526.4 L1501.9,526.3 L1502.4,526.2 L1502.9,526.1 L1503.4,525.9 L1503.9,525.8 L1504.4,525.7 L1504.9,525.6 L1505.4,525.5 L1505.9,525.3 L1506.4,525.2 L1506.9,525.1 L1507.4,525.0 L1507.9,524.8 L1508.4,524.7 L1508.9,524.6 L1509.4,524.4 L1509.9,524.3 L1510.4,524.2 L1510.9,524.0 L1511.4,523.9 L1511.9,523.7 L1512.4,523.6 L1512.9,523.5 L1513.4,523.3 L1513.9,523.2 L1514.4,523.0 L1514.9,522.9 L1515.4,522.7 L1515.9,522.6 L1516.4,522.4 L1516.9,522.3 L1517.4,522.1 L1517.9,521.9 L1518.4,521.8 L1518.9,521.6 L1519.4,521.4 L1519.9,521.2 L1520.4,521.1 L1520.9,520.9 L1521.4,520.7 L1521.9,520.5 L1522.4,520.3 L1522.9,520.1 L1523.4,519.9 L1523.9,519.7 L1524.4,519.5 L1524.9,519.3 L1525.4,519.0 L1525.9,518.8 L1526.4,518.6 L1526.9,518.4 L1527.4,518.2 L1527.9,517.9 L1528.4,517.7 L1528.9,517.5 L1529.4,517.2 L1529.9,517.0 L1530.4,516.7 L1530.9,516.5 L1531.4,516.3 L1531.9,516.0 L1532.4,515.8 L1532.9,515.5 L1533.4,515.3 L1533.9,515.0 L1534.4,514.8 L1534.9,514.5 L1535.4,514.3 L1535.9,514.0 L1536.4,513.7 L1536.9,513.5 L1537.4,513.2 L1537.9,513.0 L1538.4,512.7 L1538.9,512.5 L1539.4,512.2 L1539.9,511.9 L1540.4,511.7 L1540.9,511.4 L1541.4,511.2 L1541.9,510.9 L1542.4,510.6 L1542.9,510.4 L1543.4,510.1 L1543.9,509.9 L1544.4,509.6 L1544.9,509.4 L1545.4,509.1 L1545.9,508.8 L1546.4,508.6 L1546.9,508.3 L1547.4,508.0 L1547.9,507.8 L1548.4,507.5 L1548.9,507.2 L1549.4,507.0 L1549.9,506.7 L1550.4,506.4 L1550.9,506.2 L1551.4,505.9 L1551.9,505.6 L1552.4,505.3 L1552.9,505.1 L1553.4,504.8 L1553.9,504.5 L1554.4,504.2 L1554.9,503.9 L1555.4,503.7 L1555.9,503.4 L1556.4,503.1 L1556.9,502.8 L1557.4,502.5 L1557.9,502.2 L1558.4,501.9 L1558.9,501.6 L1559.4,501.3 L1559.9,501.0 L1560.4,500.7 L1560.9,500.4 L1561.4,500.1 L1561.9,499.8 L1562.4,499.5 L1562.9,499.1 L1563.4,498.8 L1563.9,498.5 L1564.4,498.2 L1564.9,497.8 L1565.4,497.5 L1565.9,497.1 L1566.4,496.8 L1566.9,496.4 L1567.4,496.0 L1567.9,495.6 L1568.4,495.2 L1568.9,494.8 L1569.4,494.3 L1569.9,493.9 L1570.4,493.5 L1570.9,493.0 L1571.4,492.6 L1571.9,492.2 L1572.4,491.7 L1572.9,491.3 L1573.4,490.8 L1573.9,490.4 L1574.4,489.9 L1574.9,489.5 L1575.4,489.1 L1575.9,488.6 L1576.4,488.2 L1576.9,487.8 L1577.4,487.3 L1577.9,486.9 L1578.4,486.5 L1578.9,486.1 L1579.4,485.7 L1579.9,485.3 L1580.4,484.9 L1580.9,484.6 L1581.4,484.2 L1581.9,483.8 L1582.4,483.5 L1582.9,483.2 L1583.4,482.9 L1583.9,482.6 L1584.4,482.3 L1584.9,482.0 L1585.4,481.8 L1585.9,481.6 L1586.4,481.4 L1586.9,481.2 L1587.4,480.9 L1587.9,480.7 L1588.4,480.5 L1588.9,480.3 L1589.4,480.1 L1589.9,479.9 L1590.4,479.7 L1590.9,479.5 L1591.4,479.3 L1591.9,479.2 L1592.4,479.0 L1592.9,478.8 L1593.4,478.7 L1593.9,478.6 L1594.4,478.4 L1594.9,478.3 L1595.4,478.2 L1595.9,478.2 L1596.4,478.1 L1596.9,478.1 L1597.4,478.1 L1597.9,478.1 L1598.4,478.2 L1598.9,478.2 L1599.4,478.3 L1599.9,478.4 L1600.4,478.6 L1600.9,478.7 L1601.4,478.8 L1601.9,479.0 L1602.4,479.2 L1602.9,479.4 L1603.4,479.6 L1603.9,479.8 L1604.4,480.0 L1604.9,480.2 L1605.4,480.4 L1605.9,480.5 L1606.4,480.7 L1606.9,480.9 L1607.4,481.1 L1607.9,481.3 L1608.4,481.4 L1608.9,481.5 L1609.4,481.7 L1609.9,481.8 L1610.4,482.0 L1610.9,482.1 L1611.4,482.3 L1611.9,482.4 L1612.4,482.6 L1612.9,482.7 L1613.4,482.9 L1613.9,483.0 L1614.4,483.1 L1614.9,483.3 L1615.4,483.4 L1615.9,483.6 L1616.4,483.7 L1616.9,483.9 L1617.4,484.0 L1617.9,484.2 L1618.4,484.3 L1618.9,484.5 L1619.4,484.6 L1619.9,484.7 L1620.4,484.9 L1620.9,485.0 L1621.4,485.2 L1621.9,485.3 L1622.4,485.4 L1622.9,485.6 L1623.4,485.7 L1623.9,485.8 L1624.4,485.9 L1624.9,486.1 L1625.4,486.2 L1625.9,486.3 L1626.4,486.4 L1626.9,486.5 L1627.4,486.7 L1627.9,486.8 L1628.4,486.9 L1628.9,487.0 L1629.4,487.1 L1629.9,487.2 L1630.4,487.3 L1630.9,487.4 L1631.4,487.5 L1631.9,487.6 L1632.4,487.7 L1632.9,487.8 L1633.4,487.9 L1633.9,488.0 L1634.4,488.1 L1634.9,488.2 L1635.4,488.3 L1635.9,488.4 L1636.4,488.5 L1636.9,488.6 L1637.4,488.7 L1637.9,488.8 L1638.4,488.8 L1638.9,488.9 L1639.4,489.0 L1639.9,489.1 L1640.4,489.1 L1640.9,489.2 L1641.4,489.3 L1641.9,489.3 L1642.4,489.4 L1642.9,489.4 L1643.4,489.4 L1643.9,489.5 L1644.4,489.5 L1644.9,489.5 L1645.4,489.5 L1645.9,489.5 L1646.4,489.5 L1646.9,489.4 L1647.4,489.4 L1647.9,489.3 L1648.4,489.2 L1648.9,489.2 L1649.4,489.1 L1649.9,489.0 L1650.4,488.8 L1650.9,488.7 L1651.4,488.6 L1651.9,488.5 L1652.4,488.3 L1652.9,488.2 L1653.4,488.0 L1653.9,487.9 L1654.4,487.7 L1654.9,487.5 L1655.4,487.4 L1655.9,487.2 L1656.4,487.0 L1656.9,486.9 L1657.4,486.7 L1657.9,486.5 L1658.4,486.3 L1658.9,486.1 L1659.4,486.0 L1659.9,485.8 L1660.4,485.6 L1660.9,485.4 L1661.4,485.2 L1661.9,485.0 L1662.4,484.8 L1662.9,484.6 L1663.4,484.4 L1663.9,484.1 L1664.4,483.9 L1664.9,483.6 L1665.4,483.4 L1665.9,483.1 L1666.4,482.8 L1666.9,482.5 L1667.4,482.3 L1667.9,482.0 L1668.4,481.7 L1668.9,481.4 L1669.4,481.1 L1669.9,480.7 L1670.4,480.4 L1670.9,480.1 L1671.4,479.8 L1671.9,479.5 L1672.4,479.1 L1672.9,478.8 L1673.4,478.5 L1673.9,478.1 L1674.4,477.8 L1674.9,477.4 L1675.4,477.1 L1675.9,476.8 L1676.4,476.4 L1676.9,476.1 L1677.4,475.7 L1677.9,475.4 L1678.4,475.0 L1678.9,474.7 L1679.4,474.3 L1679.9,474.0 L1680.4,473.7 L1680.9,473.3 L1681.4,473.0 L1681.9,472.7 L1682.4,472.3 L1682.9,472.0 L1683.4,471.7 L1683.9,471.3 L1684.4,471.0 L1684.9,470.6 L1685.4,470.3 L1685.9,470.0 L1686.4,469.6 L1686.9,469.3 L1687.4,468.9 L1687.9,468.5 L1688.4,468.2 L1688.9,467.8 L1689.4,467.5 L1689.9,467.1 L1690.4,466.7 L1690.9,466.4 L1691.4,466.0 L1691.9,465.6 L1692.4,465.3 L1692.9,464.9 L1693.4,464.5 L1693.9,464.1 L1694.4,463.8 L1694.9,463.4 L1695.4,463.0 L1695.9,462.6 L1696.4,462.2 L1696.9,461.8 L1697.4,461.4 L1697.9,461.1 L1698.4,460.7 L1698.9,460.3 L1699.4,459.9 L1699.9,459.5 L1700.4,459.1 L1700.9,458.7 L1701.4,458.3 L1701.9,458.0 L1702.4,457.6 L1702.9,457.3 L1703.4,456.9 L1703.9,456.6 L1704.4,456.3 L1704.9,456.0 L1705.4,455.7 L1705.9,455.4 L1706.4,455.2 L1706.9,455.0 L1707.4,454.7 L1707.9,454.5 L1708.4,454.3 L1708.9,454.1 L1709.4,453.9 L1709.9,453.8 L1710.4,453.6 L1710.9,453.5 L1711.4,453.3 L1711.9,453.2 L1712.4,453.1 L1712.9,453.0 L1713.4,452.9 L1713.9,452.8 L1714.4,452.7 L1714.9,452.6 L1715.4,452.6 L1715.9,452.5 L1716.4,452.5 L1716.9,452.5 L1717.4,452.4 L1717.9,452.4 L1718.4,452.4 L1718.9,452.4 L1719.4,452.4 L1719.9,452.4 L1720.4,452.5 L1720.9,452.6 L1721.4,452.7 L1721.9,452.8 L1722.4,453.0 L1722.9,453.1 L1723.4,453.3 L1723.9,453.5 L1724.4,453.7 L1724.9,454.0 L1725.4,454.2 L1725.9,454.5 L1726.4,454.7 L1726.9,455.0 L1727.4,455.3 L1727.9,455.6 L1728.4,455.9 L1728.9,456.2 L1729.4,456.6 L1729.9,456.9 L1730.4,457.2 L1730.9,457.5 L1731.4,457.9 L1731.9,458.2 L1732.4,458.6 L1732.9,458.9 L1733.4,459.3 L1733.9,459.7 L1734.4,460.1 L1734.9,460.6 L1735.4,461.1 L1735.9,461.6 L1736.4,462.2 L1736.9,462.7 L1737.4,463.3 L1737.9,463.9 L1738.4,464.5 L1738.9,465.2 L1739.4,465.8 L1739.9,466.4 L1740.4,467.0 L1740.9,467.6 L1741.4,468.2 L1741.9,468.8 L1742.4,469.5 L1742.9,470.1 L1743.4,470.7 L1743.9,471.3 L1744.4,472.0 L1744.9,472.6 L1745.4,473.3 L1745.9,473.9 L1746.4,474.6 L1746.9,475.3 L1747.4,475.9 L1747.9,476.6 L1748.4,477.3 L1748.9,478.0 L1749.4,478.7 L1749.9,479.4 L1750.4,480.1 L1750.9,480.9 L1751.4,481.7 L1751.9,482.4 L1752.4,483.2 L1752.9,484.0 L1753.4,484.8 L1753.9,485.6 L1754.4,486.4 L1754.9,487.2 L1755.4,487.9 L1755.9,488.7 L1756.4,489.4 L1756.9,490.1 L1757.4,490.8 L1757.9,491.5 L1758.4,492.2 L1758.9,492.8 L1759.4,493.4 L1759.9,494.1 L1760.4,494.7 L1760.9,495.3 L1761.4,495.9 L1761.9,496.5 L1762.4,497.1 L1762.9,497.6 L1763.4,498.2 L1763.9,498.8 L1764.4,499.3 L1764.9,499.9 L1765.4,500.4 L1765.9,500.9 L1766.4,501.4 L1766.9,501.9 L1767.4,502.4 L1767.9,503.0 L1768.4,503.5 L1768.9,504.0 L1769.4,504.5 L1769.9,505.0 L1770.4,505.4 L1770.9,505.9 L1771.4,506.3 L1771.9,506.8 L1772.4,507.2 L1772.9,507.6 L1773.4,507.9 L1773.9,508.3 L1774.4,508.6 L1774.9,508.9 L1775.4,509.2 L1775.9,509.5 L1776.4,509.8 L1776.9,510.0 L1777.4,510.3 L1777.9,510.5 L1778.4,510.8 L1778.9,511.0 L1779.4,511.2 L1779.9,511.4 L1780.4,511.7 L1780.9,511.9 L1781.4,512.1 L1781.9,512.3 L1782.4,512.5 L1782.9,512.7 L1783.4,512.9 L1783.9,513.1 L1784.4,513.3 L1784.9,513.5 L1785.4,513.7 L1785.9,513.9 L1786.4,514.1 L1786.9,514.3 L1787.4,514.5 L1787.9,514.7 L1788.4,514.8 L1788.9,515.0 L1789.4,515.1 L1789.9,515.3 L1790.4,515.4 L1790.9,515.5 L1791.4,515.6 L1791.9,515.6 L1792.4,515.7 L1792.9,515.8 L1793.4,515.9 L1793.9,516.0 L1794.4,516.1 L1794.9,516.2 L1795.4,516.3 L1795.9,516.3 L1796.4,516.4 L1796.9,516.5 L1797.4,516.6 L1797.9,516.6 L1798.4,516.7 L1798.9,516.8 L1799.4,516.8 L1799.9,516.9 L1800.4,517.0 L1800.9,517.0 L1801.4,517.1 L1801.9,517.1 L1802.4,517.2 L1802.9,517.2 L1803.4,517.2 L1803.9,517.3 L1804.4,517.3 L1804.9,517.3 L1805.4,517.4 L1805.9,517.4 L1806.4,517.4 L1806.9,517.4 L1807.4,517.4 L1807.9,517.4 L1808.4,517.4 L1808.9,517.4 L1809.4,517.4 L1809.9,517.4 L1810.4,517.4 L1810.9,517.4 L1811.4,517.5 L1811.9,517.5 L1812.4,517.5 L1812.9,517.5 L1813.4,517.5 L1813.9,517.5 L1814.4,517.5 L1814.9,517.5 L1815.4,517.5 L1815.9,517.5 L1816.4,517.5 L1816.9,517.5 L1817.4,517.5 L1817.9,517.5 L1818.4,517.5 L1818.9,517.5 L1819.4,517.5 L1819.9,517.5 L1820.4,517.5 L1820.9,517.5 L1821.4,517.5 L1821.9,517.5 L1822.4,517.4 L1822.9,517.4 L1823.4,517.4 L1823.9,517.3 L1824.4,517.3 L1824.9,517.3 L1825.4,517.2 L1825.9,517.2 L1826.4,517.1 L1826.9,517.0 L1827.4,517.0 L1827.9,516.9 L1828.4,516.8 L1828.9,516.7 L1829.4,516.7 L1829.9,516.6 L1830.4,516.5 L1830.9,516.4 L1831.4,516.3 L1831.9,516.2 L1832.4,516.1 L1832.9,516.0 L1833.4,515.9 L1833.9,515.8 L1834.4,515.7 L1834.9,515.6 L1835.4,515.5 L1835.9,515.4 L1836.4,515.3 L1836.9,515.2 L1837.4,515.1 L1837.9,515.0 L1838.4,514.9 L1838.9,514.7 L1839.4,514.6 L1839.9,514.5 L1840.4,514.4 L1840.9,514.3 L1841.4,514.2 L1841.9,514.0 L1842.4,513.9 L1842.9,513.8 L1843.4,513.7 L1843.9,513.6 L1844.4,513.5 L1844.9,513.4 L1845.4,513.2 L1845.9,513.1 L1846.4,513.0 L1846.9,512.9 L1847.4,512.8 L1847.9,512.6 L1848.4,512.5 L1848.9,512.4 L1849.4,512.2 L1849.9,512.1 L1850.4,512.0 L1850.9,511.8 L1851.4,511.7 L1851.9,511.5 L1852.4,511.4 L1852.9,511.2 L1853.4,511.1 L1853.9,510.9 L1854.4,510.8 L1854.9,510.6 L1855.4,510.4 L1855.9,510.3 L1856.4,510.1 L1856.9,509.9 L1857.4,509.8 L1857.9,509.6 L1858.4,509.4 L1858.9,509.2 L1859.4,509.0 L1859.9,508.9 L1860.4,508.7 L1860.9,508.5 L1861.4,508.3 L1861.9,508.1 L1862.4,507.9 L1862.9,507.7 L1863.4,507.5 L1863.9,507.3 L1864.4,507.1 L1864.9,506.8 L1865.4,506.6 L1865.9,506.4 L1866.4,506.2 L1866.9,506.0 L1867.4,505.7 L1867.9,505.5 L1868.4,505.3 L1868.9,505.0 L1869.4,504.8 L1869.9,504.6 L1870.4,504.3 L1870.9,504.0 L1871.4,503.8 L1871.9,503.5 L1872.4,503.2 L1872.9,502.9 L1873.4,502.6 L1873.9,502.3 L1874.4,501.9 L1874.9,501.6 L1875.4,501.3 L1875.9,500.9 L1876.4,500.6 L1876.9,500.2 L1877.4,499.8 L1877.9,499.5 L1878.4,499.1 L1878.9,498.7 L1879.4,498.3 L1879.9,497.9 L1880.4,497.5 L1880.9,497.1 L1881.4,496.7 L1881.9,496.3 L1882.4,495.9 L1882.9,495.5 L1883.4,495.1 L1883.9,494.7 L1884.4,494.3 L1884.9,493.8 L1885.4,493.4 L1885.9,493.0 L1886.4,492.6 L1886.9,492.1 L1887.4,491.7 L1887.9,491.3 L1888.4,490.9 L1888.9,490.4 L1889.4,490.0 L1889.9,489.6 L1890.4,489.2 L1890.9,488.7 L1891.4,488.3 L1891.9,487.8 L1892.4,487.4 L1892.9,487.0 L1893.4,486.5 L1893.9,486.0 L1894.4,485.5 L1894.9,485.1 L1895.4,484.6 L1895.9,484.1 L1896.4,483.5 L1896.9,483.0 L1897.4,482.4 L1897.9,481.9 L1898.4,481.3 L1898.9,480.7 L1899.4,480.1 L1899.9,479.4 L1900.4,478.8 L1900.9,478.1 L1901.4,477.3 L1901.9,476.6 L1902.4,475.8 L1902.9,474.9 L1903.4,474.1 L1903.9,473.2 L1904.4,472.3 L1904.9,471.3 L1905.4,470.4 L1905.9,469.4 L1906.4,468.3 L1906.9,467.3 L1907.4,466.2 L1907.9,465.2 L1908.4,464.1 L1908.9,462.9 L1909.4,461.8 L1909.9,460.7 L1910.4,459.5 L1910.9,458.4 L1911.4,457.2 L1911.9,456.0 L1912.4,454.8 L1912.9,453.6 L1913.4,452.4 L1913.9,451.1 L1914.4,449.8 L1914.9,448.5 L1915.4,447.1 L1915.9,445.7 L1916.4,444.3 L1916.9,442.8 L1917.4,441.4 L1917.9,439.9 L1918.4,438.4 L1918.9,436.8 L1919.4,435.3 L1919.9,433.8 L1920.4,432.2 L1920.9,430.7 L1921.4,429.1 L1921.9,427.5 L1922.4,426.0 L1922.9,424.4 L1923.4,422.9 L1923.9,421.3 L1924.4,419.7 L1924.9,418.1 L1925.4,416.5 L1925.9,414.8 L1926.4,413.1 L1926.9,411.3 L1927.4,409.5 L1927.9,407.6 L1928.4,405.7 L1928.9,403.7 L1929.4,401.6 L1929.9,399.3 L1930.4,396.9 L1930.9,394.4 L1931.4,391.7 L1931.9,389.0 L1932.4,386.2 L1932.9,383.4 L1933.4,380.6 L1933.9,377.8 L1934.4,375.0 L1934.9,372.2 L1935.4,369.4 L1935.9,366.4 L1936.4,363.3 L1936.9,359.9 L1937.4,356.3 L1937.9,352.3 L1938.4,347.9 L1938.9,343.2 L1939.4,338.1 L1939.9,332.9 L1940.4,327.5 L1940.9,322.1 L1941.4,316.6 L1941.9,311.2 L1942.4,305.8 L1942.9,300.5 L1943.4,295.2 L1943.9,289.8 L1944.4,284.3 L1944.9,278.8 L1945.4,273.3 L1945.9,267.7 L1946.4,262.0 L1946.9,256.4 L1947.4,250.7 L1947.9,245.0 L1948.4,239.2 L1948.9,233.4 L1949.4,227.5 L1949.9,221.6 L1950.4,215.5 L1950.9,209.3 L1951.4,203.0 L1951.9,196.2 L1952.4,189.3 L1952.9,182.3 L1953.4,175.4 L1953.9,168.7 L1954.4,162.4 L1954.9,156.5 L1955.4,150.8 L1955.9,145.3 L1956.4,139.9 L1956.9,134.6 L1957.4,129.6 L1957.9,124.6 L1958.4,119.9 L1958.9,115.4 L1959.4,111.1 L1959.9,106.9 L1960.4,102.8 L1960.9,98.8 L1961.4,95.2 L1961.9,92.0 L1962.4,89.6 L1962.9,87.3 L1963.4,85.2 L1963.9,83.5 L1964.4,82.6 L1964.9,82.7 L1965.4,83.8 L1965.9,85.5 L1966.4,87.7 L1966.9,90.0 L1967.4,92.6 L1967.9,95.9 L1968.4,99.7 L1968.9,103.9 L1969.4,108.5 L1969.9,113.5 L1970.4,119.4 L1970.9,126.0 L1971.4,133.0 L1971.9,140.3 L1972.4,147.6 L1972.9,154.7 L1973.4,161.4 L1973.9,167.8 L1974.4,174.1 L1974.9,180.3 L1975.4,186.6 L1975.9,193.3 L1976.4,200.4 L1976.9,208.1 L1977.4,217.1 L1977.9,227.4 L1978.4,238.2 L1978.9,248.5 L1979.4,257.5 L1979.9,265.2 L1980.4,272.3 L1980.9,279.0 L1981.4,285.4 L1981.9,291.6 L1982.4,297.9 L1982.9,304.3 L1983.4,310.9 L1983.9,317.4 L1984.4,323.9 L1984.9,330.4 L1985.4,337.0 L1985.9,343.7 L1986.4,350.6 L1986.9,357.8 L1987.4,365.9 L1987.9,374.6 L1988.4,383.3 L1988.9,391.3 L1989.4,397.9 L1989.9,402.7 L1990.4,406.6 L1990.9,409.9 L1991.4,412.9 L1991.9,415.7 L1992.4,418.7 L1992.9,422.0 L1993.4,425.6 L1993.9,429.5 L1994.4,433.4 L1994.9,437.4 L1995.4,441.4 L1995.9,445.3 L1996.4,449.0 L1996.9,452.4 L1997.4,455.5 L1997.9,458.4 L1998.4,461.2 L1998.9,463.8 L1999.4,466.4 L1999.9,468.8 L2000.4,471.2 L2000.9,473.4 L2001.4,475.6 L2001.9,477.7 L2002.4,479.8 L2002.9,481.9 L2003.4,483.8 L2003.9,485.8 L2004.4,487.7 L2004.9,489.5 L2005.4,491.2 L2005.9,492.8 L2006.4,494.4 L2006.9,495.8 L2007.4,497.1 L2007.9,498.4 L2008.4,499.6 L2008.9,500.8 L2009.4,501.9 L2009.9,503.0 L2010.4,504.0 L2010.9,505.0 L2011.4,506.0 L2011.9,507.0 L2012.4,507.9 L2012.9,508.8 L2013.4,509.6 L2013.9,510.4 L2014.4,511.2 L2014.9,512.0 L2015.4,512.8 L2015.9,513.5 L2016.4,514.2 L2016.9,514.9 L2017.4,515.6 L2017.9,516.3 L2018.4,516.9 L2018.9,517.5 L2019.4,518.2 L2019.9,518.8 L2020.4,519.4 L2020.9,520.0 L2021.4,520.5 L2021.9,521.1 L2022.4,521.6 L2022.9,522.2 L2023.4,522.7 L2023.9,523.2 L2024.4,523.7 L2024.9,524.2 L2025.4,524.7 L2025.9,525.2 L2026.4,525.7 L2026.9,526.2 L2027.4,526.6 L2027.9,527.1 L2028.4,527.5 L2028.9,528.0 L2029.4,528.5 L2029.9,528.9 L2030.4,529.3 L2030.9,529.8 L2031.4,530.2 L2031.9,530.6 L2032.4,531.0 L2032.9,531.4 L2033.4,531.7 L2033.9,532.1 L2034.4,532.4 L2034.9,532.8 L2035.4,533.1 L2035.9,533.4 L2036.4,533.7 L2036.9,534.0 L2037.4,534.3 L2037.9,534.5 L2038.4,534.8 L2038.9,535.1 L2039.4,535.3 L2039.9,535.6 L2040.4,535.8 L2040.9,536.0 L2041.4,536.3 L2041.9,536.5 L2042.4,536.7 L2042.9,537.0 L2043.4,537.2 L2043.9,537.4 L2044.4,537.6 L2044.9,537.8 L2045.4,538.0 L2045.9,538.2 L2046.4,538.4 L2046.9,538.6 L2047.4,538.8 L2047.9,538.9 L2048.4,539.1 L2048.9,539.3 L2049.4,539.5 L2049.9,539.6 L2050.4,539.8 L2050.9,539.9 L2051.4,540.1 L2051.9,540.2 L2052.4,540.4 L2052.9,540.5 L2053.4,540.6 L2053.9,540.8 L2054.4,540.9 L2054.9,541.0 L2055.4,541.1 L2055.9,541.3 L2056.4,541.4 L2056.9,541.5 L2057.4,541.6 L2057.9,541.7 L2058.4,541.8 L2058.9,541.9 L2059.4,542.0 L2059.9,542.1 L2060.4,542.2 L2060.9,542.3 L2061.4,542.4 L2061.9,542.5 L2062.4,542.6 L2062.9,542.7 L2063.4,542.8 L2063.9,542.9 L2064.4,543.0 L2064.9,543.1 L2065.4,543.2 L2065.9,543.2 L2066.4,543.3 L2066.9,543.4 L2067.4,543.5 L2067.9,543.5 L2068.4,543.6 L2068.9,543.7 L2069.4,543.7 L2069.9,543.8 L2070.4,543.9 L2070.9,543.9 L2071.4,544.0 L2071.9,544.1 L2072.4,544.1 L2072.9,544.2 L2073.4,544.3 L2073.9,544.3 L2074.4,544.4 L2074.9,544.4 L2075.4,544.5 L2075.9,544.6 L2076.4,544.6 L2076.9,544.7 L2077.4,544.7 L2077.9,544.8 L2078.4,544.8 L2078.9,544.9 L2079.4,544.9 L2079.9,545.0 L2080.4,545.1 L2080.9,545.1 L2081.4,545.2 L2081.9,545.2 L2082.4,545.3 L2082.9,545.3 L2083.4,545.4 L2083.9,545.4 L2084.4,545.5 L2084.9,545.5 L2085.4,545.5 L2085.9,545.6 L2086.4,545.6 L2086.9,545.7 L2087.4,545.7 L2087.9,545.8 L2088.4,545.8 L2088.9,545.9 L2089.4,545.9 L2089.9,545.9 L2090.4,546.0 L2090.9,546.0 L2091.4,546.1 L2091.9,546.1 L2092.4,546.1 L2092.9,546.2 L2093.4,546.2 L2093.9,546.2 L2094.4,546.3 L2094.9,546.3 L2095.4,546.3 L2095.9,546.4 L2096.4,546.4 L2096.9,546.4 L2097.4,546.5 L2097.9,546.5 L2098.4,546.5 L2098.9,546.5 L2099.4,546.6 L2099.9,546.6 L2100.4,546.6 L2100.9,546.6 L2101.4,546.7 L2101.9,546.7 L2102.4,546.7 L2102.9,546.7 L2103.4,546.8 L2103.9,546.8 L2104.4,546.8 L2104.9,546.8 L2105.4,546.9 L2105.9,546.9 L2106.4,546.9 L2106.9,546.9 L2107.4,547.0 L2107.9,547.0 L2108.4,547.0 L2108.9,547.0 L2109.4,547.1 L2109.9,547.1 L2110.4,547.1 L2110.9,547.1 L2111.4,547.1 L2111.9,547.2 L2112.4,547.2 L2112.9,547.2 L2113.4,547.2 L2113.9,547.3 L2114.4,547.3 L2114.9,547.3 L2115.4,547.3 L2115.9,547.3 L2116.4,547.4 L2116.9,547.4 L2117.4,547.4 L2117.9,547.4 L2118.4,547.4 L2118.9,547.5 L2119.4,547.5 L2119.9,547.5 L2120.4,547.5 L2120.9,547.6 L2121.4,547.6 L2121.9,547.6 L2122.4,547.6 L2122.9,547.6 L2123.4,547.7 L2123.9,547.7 L2124.4,547.7 L2124.9,547.7 L2125.4,547.7 L2125.9,547.8 L2126.4,547.8 L2126.9,547.8 L2127.4,547.8 L2127.9,547.8 L2128.4,547.9 L2128.9,547.9 L2129.4,547.9 L2129.9,547.9 L2130.4,547.9 L2130.9,547.9 L2131.4,548.0 L2131.9,548.0 L2132.4,548.0 L2132.9,548.0 L2133.4,548.0 L2133.9,548.1 L2134.4,548.1 L2134.9,548.1 L2135.4,548.1 L2135.9,548.1 L2136.4,548.2 L2136.9,548.2 L2137.4,548.2 L2137.9,548.2 L2138.4,548.2 L2138.9,548.2 L2139.4,548.3 L2139.9,548.3 L2140.4,548.3 L2140.9,548.3 L2141.4,548.3 L2141.9,548.3 L2142.4,548.4 L2142.9,548.4 L2143.4,548.4 L2143.9,548.4 L2144.4,548.4 L2144.9,548.4 L2145.4,548.5 L2145.9,548.5 L2146.4,548.5 L2146.9,548.5 L2147.4,548.5 L2147.9,548.5 L2148.4,548.6 L2148.9,548.6 L2149.4,548.6 L2149.9,548.6 L2150.4,548.6 L2150.9,548.6 L2151.4,548.6 L2151.9,548.7 L2152.4,548.7 L2152.9,548.7 L2153.4,548.7 L2153.9,548.7 L2154.4,548.7 L2154.9,548.7 L2155.4,548.8 L2155.9,548.8 L2156.4,548.8 L2156.9,548.8 L2157.4,548.8 L2157.9,548.8 L2158.4,548.8 L2158.9,548.9 L2159.4,548.9 L2159.9,548.9 L2160.4,548.9 L2160.9,548.9 L2161.4,548.9 L2161.9,548.9 L2162.4,549.0 L2162.9,549.0 L2163.4,549.0 L2163.9,549.0 L2164.4,549.0 L2164.9,549.0 L2165.4,549.0 L2165.9,549.1 L2166.4,549.1 L2166.9,549.1 L2167.4,549.1 L2167.9,549.1 L2168.4,549.1 L2168.9,549.1 L2169.4,549.1 L2169.9,549.2 L2170.4,549.2 L2170.9,549.2 L2171.4,549.2 L2171.9,549.2 L2172.4,549.2 L2172.9,549.2 L2173.4,549.2 L2173.9,549.2 L2174.4,549.3 L2174.9,549.3 L2175.4,549.3 L2175.9,549.3 L2176.4,549.3 L2176.9,549.3 L2177.4,549.3 L2177.9,549.3 L2178.4,549.3 L2178.9,549.4 L2179.4,549.4 L2179.9,549.4 L2180.4,549.4 L2180.9,549.4 L2181.4,549.4 L2181.9,549.4 L2182.4,549.4 L2182.9,549.4 L2183.4,549.4 L2183.9,549.5 L2184.4,549.5 L2184.9,549.5 L2185.4,549.5 L2185.9,549.5 L2186.4,549.5 L2186.9,549.5 L2187.4,549.5 L2187.9,549.5 L2188.4,549.5 L2188.9,549.6 L2189.4,549.6 L2189.9,549.6 L2190.4,549.6 L2190.9,549.6 L2191.4,549.6 L2191.9,549.6 L2192.4,549.6 L2192.9,549.6 L2193.4,549.6 L2193.9,549.6 L2194.4,549.7 L2194.9,549.7 L2195.4,549.7 L2195.9,549.7 L2196.4,549.7 L2196.9,549.7 L2197.4,549.7 L2197.9,549.7 L2198.4,549.7 L2198.9,549.7 L2199.4,549.7 L2199.9,549.7 L2200.4,549.8 L2200.9,549.8 L2201.4,549.8 L2201.9,549.8 L2202.4,549.8 L2202.9,549.8 L2203.4,549.8 L2203.9,549.8 L2204.4,549.8 L2204.9,549.8 L2205.4,549.8 L2205.9,549.8 L2206.4,549.8 L2206.9,549.8 L2207.4,549.9 L2207.9,549.9 L2208.4,549.9 L2208.9,549.9 L2209.4,549.9 L2209.9,549.9 L2210.4,549.9 L2210.9,549.9 L2211.4,549.9 L2211.9,549.9 L2212.4,549.9 L2212.9,549.9 L2213.4,549.9 L2213.9,549.9 L2214.4,549.9 L2214.9,549.9 L2215.4,550.0 L2215.9,550.0 L2216.4,550.0 L2216.9,550.0 L2217.4,550.0 L2217.9,550.0 L2218.4,550.0 L2218.9,550.0 L2219.4,550.0 L2219.9,550.0 L2220.4,550.0 L2220.9,550.0 L2221.4,550.0 L2221.9,550.0 L2222.4,550.0 L2222.9,550.0 L2223.4,550.1 L2223.9,550.1 L2224.4,550.1 L2224.9,550.1 L2225.4,550.1 L2225.9,550.1 L2226.4,550.1 L2226.9,550.1 L2227.4,550.1 L2227.9,550.1 L2228.4,550.1 L2228.9,550.1 L2229.4,550.1 L2229.9,550.1 L2230.4,550.1 L2230.9,550.1 L2231.4,550.2 L2231.9,550.2 L2232.4,550.2 L2232.9,550.2 L2233.4,550.2 L2233.9,550.2 L2234.4,550.2 L2234.9,550.2 L2235.4,550.2 L2235.9,550.2 L2236.4,550.2 L2236.9,550.2 L2237.4,550.2 L2237.9,550.2 L2238.4,550.2 L2238.9,550.2 L2239.4,550.2 L2239.9,550.3 L2240.4,550.3 L2240.9,550.3 L2241.4,550.3 L2241.9,550.3 L2242.4,550.3 L2242.9,550.3 L2243.4,550.3 L2243.9,550.3 L2244.4,550.3 L2244.9,550.3 L2245.4,550.3 L2245.9,550.3 L2246.4,550.3 L2246.9,550.3 L2247.4,550.3 L2247.9,550.3 L2248.4,550.3 L2248.9,550.4 L2249.4,550.4 L2249.9,550.4 L2250.4,550.4 L2250.9,550.4 L2251.4,550.4 L2251.9,550.4 L2252.4,550.4 L2252.9,550.4 L2253.4,550.4 L2253.9,550.4 L2254.4,550.4 L2254.9,550.4 L2255.4,550.4 L2255.9,550.4 L2256.4,550.4 L2256.9,550.4 L2257.4,550.4 L2257.9,550.5 L2258.4,550.5 L2258.9,550.5 L2259.4,550.5 L2259.9,550.5 L2260.4,550.5 L2260.9,550.5 L2261.4,550.5 L2261.9,550.5 L2262.4,550.5 L2262.9,550.5 L2263.4,550.5 L2263.9,550.5 L2264.4,550.5 L2264.9,550.5 L2265.4,550.5 L2265.9,550.5 L2266.4,550.5 L2266.9,550.5 L2267.4,550.6 L2267.9,550.6 L2268.4,550.6 L2268.9,550.6 L2269.4,550.6 L2269.9,550.6 L2270.4,550.6 L2270.9,550.6 L2271.4,550.6 L2271.9,550.6 L2272.4,550.6 L2272.9,550.6 L2273.4,550.6 L2273.9,550.6 L2274.4,550.6 L2274.9,550.6 L2275.4,550.6 L2275.9,550.6 L2276.4,550.6 L2276.9,550.6 L2277.4,550.6 L2277.9,550.7 L2278.4,550.7 L2278.9,550.7 L2279.4,550.7 L2279.9,550.7 L2280.4,550.7 L2280.9,550.7 L2281.4,550.7 L2281.9,550.7 L2282.4,550.7 L2282.9,550.7 L2283.4,550.7 L2283.9,550.7 L2284.4,550.7 L2284.9,550.7 L2285.4,550.7 L2285.9,550.7 L2286.4,550.7 L2286.9,550.7 L2287.4,550.7 L2287.9,550.7 L2288.4,550.8 L2288.9,550.8 L2289.4,550.8 L2289.9,550.8 L2290.4,550.8 L2290.9,550.8 L2291.4,550.8 L2291.9,550.8 L2292.4,550.8 L2292.9,550.8 L2293.4,550.8 L2293.9,550.8 L2294.4,550.8 L2294.9,550.8 L2295.4,550.8 L2295.9,550.8 L2296.4,550.8 L2296.9,550.8 L2297.4,550.8 L2297.9,550.8 L2298.4,550.8 L2298.9,550.8 L2299.4,550.8 L2299.9,550.8 L2300.4,550.9 L2300.9,550.9 L2301.4,550.9 L2301.9,550.9 L2302.4,550.9 L2302.9,550.9 L2303.4,550.9 L2303.9,550.9 L2304.4,550.9 L2304.9,550.9 L2305.4,550.9 L2305.9,550.9 L2306.4,550.9 L2306.9,550.9 L2307.4,550.9 L2307.9,550.9 L2308.4,550.9 L2308.9,550.9 L2309.4,550.9 L2309.9,550.9 L2310.4,550.9 L2310.9,550.9 L2311.4,550.9 L2311.9,550.9 L2312.4,550.9 L2312.9,550.9 L2313.4,550.9 L2313.9,551.0 L2314.4,551.0 L2314.9,551.0 L2315.4,551.0 L2315.9,551.0 L2316.4,551.0 L2316.9,551.0 L2317.4,551.0 L2317.9,551.0 L2318.4,551.0 L2318.9,551.0 L2319.4,551.0 L2319.9,551.0 L2320.4,551.0 L2320.9,551.0 L2321.4,551.0 L2321.9,551.0 L2322.4,551.0 L2322.9,551.0 L2323.4,551.0 L2323.9,551.0 L2324.4,551.0 L2324.9,551.0 L2325.4,551.0 L2325.9,551.0 L2326.4,551.0 L2326.9,551.0 L2327.4,551.0 L2327.9,551.0 L2328.4,551.0 L2328.9,551.0 L2329.4,551.0 L2329.9,551.1 L2330.4,551.1 L2330.9,551.1 L2331.4,551.1 L2331.9,551.1 L2332.4,551.1 L2332.9,551.1 L2333.4,551.1 L2333.9,551.1 L2334.4,551.1 L2334.9,551.1 L2335.4,551.1 L2335.9,551.1 L2336.4,551.1 L2336.9,551.1 L2337.4,551.1 L2337.9,551.1 L2338.4,551.1 L2338.9,551.1 L2339.4,551.1 L2339.9,551.1 L2340.4,551.1 L2340.9,551.1 L2341.4,551.1 L2341.9,551.1 L2342.4,551.1 L2342.9,551.1 L2343.4,551.1 L2343.9,551.1 L2344.4,551.1 L2344.9,551.1 L2345.4,551.1 L2345.9,551.1 L2346.4,551.1 L2346.9,551.1 L2347.4,551.1 L2347.9,551.1 L2348.4,551.1 L2348.9,551.1 L2349.4,551.1 L2349.9,551.1 L2350.4,551.1 L2350.9,551.1 L2351.4,551.1 L2351.9,551.1 L2352.4,551.2 L2352.9,551.2 L2353.4,551.2 L2353.9,551.2 L2354.4,551.2 L2354.9,551.2 L2355.4,551.2 L2355.9,551.2 L2356.4,551.2 L2356.9,551.2 L2357.4,551.2 L2357.9,551.2 L2358.4,551.2 L2358.9,551.2 L2359.4,551.2 L2359.9,551.2 L2360.4,551.2 L2360.9,551.2 L2361.4,551.2 L2361.9,551.2 L2362.4,551.2 L2362.9,551.2 L2363.4,551.2 L2363.9,551.2 L2364.4,551.2 L2364.9,551.2 L2365.4,551.2 L2365.9,551.2 L2366.4,551.2 L2366.9,551.2 L2367.4,551.2 L2367.9,551.2 L2368.4,551.2 L2368.9,551.2 L2369.4,551.2 L2369.9,551.2 L2370.4,551.2 L2370.9,551.2 L2371.4,551.2 L2371.9,551.2 L2372.4,551.2 L2372.9,551.2 L2373.4,551.2 L2373.9,551.2 L2374.4,551.2 L2374.9,551.2 L2375.4,551.2 L2375.9,551.2 L2376.4,551.2 L2376.9,551.2 L2377.4,551.2 L2377.9,551.2 L2378.4,551.2 L2378.9,551.2 L2379.4,551.2 L2379.9,551.2 L2380.4,551.2 L2380.9,551.2" fill="none" stroke="#440154" stroke-width="3.8" stroke-linejoin="round" stroke-linecap="butt"/>
<path d="M1400.4,544.5 L1400.9,544.5 L1401.4,544.4 L1401.9,544.4 L1402.4,544.4 L1402.9,544.4 L1403.4,544.4 L1403.9,544.3 L1404.4,544.3 L1404.9,544.3 L1405.4,544.3 L1405.9,544.2 L1406.4,544.2 L1406.9,544.2 L1407.4,544.2 L1407.9,544.1 L1408.4,544.1 L1408.9,544.1 L1409.4,544.1 L1409.9,544.0 L1410.4,544.0 L1410.9,544.0 L1411.4,543.9 L1411.9,543.9 L1412.4,543.9 L1412.9,543.8 L1413.4,543.8 L1413.9,543.8 L1414.4,543.7 L1414.9,543.7 L1415.4,543.7 L1415.9,543.6 L1416.4,543.6 L1416.9,543.6 L1417.4,543.5 L1417.9,543.5 L1418.4,543.5 L1418.9,543.4 L1419.4,543.4 L1419.9,543.3 L1420.4,543.3 L1420.9,543.3 L1421.4,543.2 L1421.9,543.2 L1422.4,543.1 L1422.9,543.1 L1423.4,543.1 L1423.9,543.0 L1424.4,543.0 L1424.9,542.9 L1425.4,542.9 L1425.9,542.9 L1426.4,542.8 L1426.9,542.8 L1427.4,542.7 L1427.9,542.7 L1428.4,542.6 L1428.9,542.6 L1429.4,542.6 L1429.9,542.5 L1430.4,542.5 L1430.9,542.4 L1431.4,542.4 L1431.9,542.3 L1432.4,542.3 L1432.9,542.2 L1433.4,542.2 L1433.9,542.1 L1434.4,542.1 L1434.9,542.0 L1435.4,542.0 L1435.9,541.9 L1436.4,541.9 L1436.9,541.8 L1437.4,541.8 L1437.9,541.7 L1438.4,541.6 L1438.9,541.6 L1439.4,541.5 L1439.9,541.5 L1440.4,541.4 L1440.9,541.3 L1441.4,541.3 L1441.9,541.2 L1442.4,541.2 L1442.9,541.1 L1443.4,541.0 L1443.9,541.0 L1444.4,540.9 L1444.9,540.8 L1445.4,540.8 L1445.9,540.7 L1446.4,540.6 L1446.9,540.5 L1447.4,540.5 L1447.9,540.4 L1448.4,540.3 L1448.9,540.2 L1449.4,540.2 L1449.9,540.1 L1450.4,540.0 L1450.9,539.9 L1451.4,539.9 L1451.9,539.8 L1452.4,539.7 L1452.9,539.6 L1453.4,539.6 L1453.9,539.5 L1454.4,539.4 L1454.9,539.3 L1455.4,539.2 L1455.9,539.1 L1456.4,539.1 L1456.9,539.0 L1457.4,538.9 L1457.9,538.8 L1458.4,538.7 L1458.9,538.6 L1459.4,538.5 L1459.9,538.4 L1460.4,538.3 L1460.9,538.2 L1461.4,538.1 L1461.9,538.0 L1462.4,537.9 L1462.9,537.8 L1463.4,537.7 L1463.9,537.6 L1464.4,537.5 L1464.9,537.3 L1465.4,537.2 L1465.9,537.1 L1466.4,537.0 L1466.9,536.8 L1467.4,536.7 L1467.9,536.6 L1468.4,536.4 L1468.9,536.3 L1469.4,536.1 L1469.9,536.0 L1470.4,535.9 L1470.9,535.7 L1471.4,535.6 L1471.9,535.4 L1472.4,535.3 L1472.9,535.1 L1473.4,535.0 L1473.9,534.8 L1474.4,534.7 L1474.9,534.5 L1475.4,534.4 L1475.9,534.2 L1476.4,534.1 L1476.9,533.9 L1477.4,533.8 L1477.9,533.6 L1478.4,533.5 L1478.9,533.3 L1479.4,533.2 L1479.9,533.1 L1480.4,532.9 L1480.9,532.8 L1481.4,532.6 L1481.9,532.5 L1482.4,532.3 L1482.9,532.2 L1483.4,532.0 L1483.9,531.9 L1484.4,531.8 L1484.9,531.6 L1485.4,531.5 L1485.9,531.4 L1486.4,531.2 L1486.9,531.1 L1487.4,531.0 L1487.9,530.8 L1488.4,530.7 L1488.9,530.6 L1489.4,530.5 L1489.9,530.4 L1490.4,530.2 L1490.9,530.1 L1491.4,530.0 L1491.9,529.9 L1492.4,529.8 L1492.9,529.7 L1493.4,529.6 L1493.9,529.5 L1494.4,529.4 L1494.9,529.2 L1495.4,529.1 L1495.9,529.0 L1496.4,528.9 L1496.9,528.8 L1497.4,528.7 L1497.9,528.6 L1498.4,528.5 L1498.9,528.4 L1499.4,528.3 L1499.9,528.2 L1500.4,528.1 L1500.9,528.0 L1501.4,527.9 L1501.9,527.7 L1502.4,527.6 L1502.9,527.5 L1503.4,527.4 L1503.9,527.3 L1504.4,527.2 L1504.9,527.1 L1505.4,526.9 L1505.9,526.8 L1506.4,526.7 L1506.9,526.6 L1507.4,526.4 L1507.9,526.3 L1508.4,526.2 L1508.9,526.0 L1509.4,525.9 L1509.9,525.8 L1510.4,525.7 L1510.9,525.5 L1511.4,525.4 L1511.9,525.2 L1512.4,525.1 L1512.9,525.0 L1513.4,524.8 L1513.9,524.7 L1514.4,524.5 L1514.9,524.4 L1515.4,524.2 L1515.9,524.1 L1516.4,523.9 L1516.9,523.8 L1517.4,523.6 L1517.9,523.4 L1518.4,523.3 L1518.9,523.1 L1519.4,522.9 L1519.9,522.7 L1520.4,522.6 L1520.9,522.4 L1521.4,522.2 L1521.9,522.0 L1522.4,521.8 L1522.9,521.6 L1523.4,521.4 L1523.9,521.2 L1524.4,521.0 L1524.9,520.8 L1525.4,520.6 L1525.9,520.3 L1526.4,520.1 L1526.9,519.9 L1527.4,519.7 L1527.9,519.4 L1528.4,519.2 L1528.9,519.0 L1529.4,518.7 L1529.9,518.5 L1530.4,518.3 L1530.9,518.0 L1531.4,517.8 L1531.9,517.5 L1532.4,517.3 L1532.9,517.0 L1533.4,516.8 L1533.9,516.5 L1534.4,516.3 L1534.9,516.0 L1535.4,515.8 L1535.9,515.5 L1536.4,515.2 L1536.9,515.0 L1537.4,514.7 L1537.9,514.5 L1538.4,514.2 L1538.9,514.0 L1539.4,513.7 L1539.9,513.4 L1540.4,513.2 L1540.9,512.9 L1541.4,512.7 L1541.9,512.4 L1542.4,512.2 L1542.9,511.9 L1543.4,511.6 L1543.9,511.4 L1544.4,511.1 L1544.9,510.9 L1545.4,510.6 L1545.9,510.4 L1546.4,510.1 L1546.9,509.8 L1547.4,509.6 L1547.9,509.3 L1548.4,509.1 L1548.9,508.8 L1549.4,508.5 L1549.9,508.3 L1550.4,508.0 L1550.9,507.7 L1551.4,507.5 L1551.9,507.2 L1552.4,506.9 L1552.9,506.7 L1553.4,506.4 L1553.9,506.1 L1554.4,505.8 L1554.9,505.6 L1555.4,505.3 L1555.9,505.0 L1556.4,504.7 L1556.9,504.4 L1557.4,504.1 L1557.9,503.9 L1558.4,503.6 L1558.9,503.3 L1559.4,503.0 L1559.9,502.7 L1560.4,502.4 L1560.9,502.1 L1561.4,501.8 L1561.9,501.5 L1562.4,501.2 L1562.9,500.8 L1563.4,500.5 L1563.9,500.2 L1564.4,499.9 L1564.9,499.6 L1565.4,499.2 L1565.9,498.9 L1566.4,498.5 L1566.9,498.1 L1567.4,497.7 L1567.9,497.4 L1568.4,497.0 L1568.9,496.5 L1569.4,496.1 L1569.9,495.7 L1570.4,495.3 L1570.9,494.9 L1571.4,494.4 L1571.9,494.0 L1572.4,493.5 L1572.9,493.1 L1573.4,492.7 L1573.9,492.2 L1574.4,491.8 L1574.9,491.4 L1575.4,490.9 L1575.9,490.5 L1576.4,490.1 L1576.9,489.6 L1577.4,489.2 L1577.9,488.8 L1578.4,488.4 L1578.9,488.0 L1579.4,487.6 L1579.9,487.2 L1580.4,486.9 L1580.9,486.5 L1581.4,486.2 L1581.9,485.8 L1582.4,485.5 L1582.9,485.2 L1583.4,484.9 L1583.9,484.6 L1584.4,484.4 L1584.9,484.1 L1585.4,483.9 L1585.9,483.7 L1586.4,483.5 L1586.9,483.3 L1587.4,483.1 L1587.9,482.9 L1588.4,482.7 L1588.9,482.5 L1589.4,482.3 L1589.9,482.1 L1590.4,482.0 L1590.9,481.8 L1591.4,481.6 L1591.9,481.5 L1592.4,481.3 L1592.9,481.2 L1593.4,481.0 L1593.9,480.9 L1594.4,480.8 L1594.9,480.7 L1595.4,480.6 L1595.9,480.6 L1596.4,480.5 L1596.9,480.5 L1597.4,480.5 L1597.9,480.5 L1598.4,480.6 L1598.9,480.6 L1599.4,480.7 L1599.9,480.8 L1600.4,480.9 L1600.9,481.0 L1601.4,481.2 L1601.9,481.3 L1602.4,481.5 L1602.9,481.7 L1603.4,481.8 L1603.9,482.0 L1604.4,482.2 L1604.9,482.4 L1605.4,482.6 L1605.9,482.8 L1606.4,483.0 L1606.9,483.2 L1607.4,483.3 L1607.9,483.5 L1608.4,483.7 L1608.9,483.8 L1609.4,484.0 L1609.9,484.1 L1610.4,484.3 L1610.9,484.4 L1611.4,484.6 L1611.9,484.7 L1612.4,484.9 L1612.9,485.0 L1613.4,485.2 L1613.9,485.3 L1614.4,485.5 L1614.9,485.6 L1615.4,485.8 L1615.9,485.9 L1616.4,486.0 L1616.9,486.2 L1617.4,486.3 L1617.9,486.4 L1618.4,486.6 L1618.9,486.7 L1619.4,486.9 L1619.9,487.0 L1620.4,487.1 L1620.9,487.3 L1621.4,487.4 L1621.9,487.5 L1622.4,487.6 L1622.9,487.8 L1623.4,487.9 L1623.9,488.0 L1624.4,488.2 L1624.9,488.3 L1625.4,488.4 L1625.9,488.5 L1626.4,488.6 L1626.9,488.8 L1627.4,488.9 L1627.9,489.0 L1628.4,489.1 L1628.9,489.2 L1629.4,489.3 L1629.9,489.4 L1630.4,489.5 L1630.9,489.6 L1631.4,489.7 L1631.9,489.8 L1632.4,489.9 L1632.9,490.0 L1633.4,490.1 L1633.9,490.2 L1634.4,490.3 L1634.9,490.4 L1635.4,490.5 L1635.9,490.6 L1636.4,490.7 L1636.9,490.8 L1637.4,490.8 L1637.9,490.9 L1638.4,491.0 L1638.9,491.1 L1639.4,491.2 L1639.9,491.2 L1640.4,491.3 L1640.9,491.3 L1641.4,491.4 L1641.9,491.4 L1642.4,491.5 L1642.9,491.5 L1643.4,491.6 L1643.9,491.6 L1644.4,491.6 L1644.9,491.6 L1645.4,491.6 L1645.9,491.6 L1646.4,491.6 L1646.9,491.5 L1647.4,491.5 L1647.9,491.4 L1648.4,491.4 L1648.9,491.3 L1649.4,491.2 L1649.9,491.1 L1650.4,491.0 L1650.9,490.9 L1651.4,490.8 L1651.9,490.7 L1652.4,490.6 L1652.9,490.4 L1653.4,490.3 L1653.9,490.2 L1654.4,490.0 L1654.9,489.9 L1655.4,489.7 L1655.9,489.6 L1656.4,489.4 L1656.9,489.2 L1657.4,489.1 L1657.9,488.9 L1658.4,488.8 L1658.9,488.6 L1659.4,488.4 L1659.9,488.3 L1660.4,488.1 L1660.9,487.9 L1661.4,487.8 L1661.9,487.6 L1662.4,487.4 L1662.9,487.2 L1663.4,487.0 L1663.9,486.8 L1664.4,486.5 L1664.9,486.3 L1665.4,486.1 L1665.9,485.8 L1666.4,485.6 L1666.9,485.4 L1667.4,485.1 L1667.9,484.9 L1668.4,484.6 L1668.9,484.4 L1669.4,484.1 L1669.9,483.8 L1670.4,483.5 L1670.9,483.3 L1671.4,483.0 L1671.9,482.7 L1672.4,482.4 L1672.9,482.1 L1673.4,481.8 L1673.9,481.5 L1674.4,481.2 L1674.9,480.9 L1675.4,480.6 L1675.9,480.3 L1676.4,480.0 L1676.9,479.7 L1677.4,479.4 L1677.9,479.1 L1678.4,478.8 L1678.9,478.4 L1679.4,478.1 L1679.9,477.8 L1680.4,477.5 L1680.9,477.2 L1681.4,476.9 L1681.9,476.6 L1682.4,476.3 L1682.9,476.0 L1683.4,475.6 L1683.9,475.3 L1684.4,475.0 L1684.9,474.7 L1685.4,474.4 L1685.9,474.0 L1686.4,473.7 L1686.9,473.4 L1687.4,473.0 L1687.9,472.7 L1688.4,472.4 L1688.9,472.0 L1689.4,471.7 L1689.9,471.3 L1690.4,471.0 L1690.9,470.7 L1691.4,470.3 L1691.9,469.9 L1692.4,469.6 L1692.9,469.2 L1693.4,468.9 L1693.9,468.5 L1694.4,468.2 L1694.9,467.8 L1695.4,467.4 L1695.9,467.1 L1696.4,466.7 L1696.9,466.3 L1697.4,465.9 L1697.9,465.6 L1698.4,465.2 L1698.9,464.8 L1699.4,464.4 L1699.9,464.0 L1700.4,463.8 L1700.9,463.4 L1701.4,463.1 L1701.9,462.8 L1702.4,462.5 L1702.9,462.2 L1703.4,462.0 L1703.9,461.7 L1704.4,461.5 L1704.9,461.3 L1705.4,461.1 L1705.9,460.9 L1706.4,460.7 L1706.9,460.5 L1707.4,460.4 L1707.9,460.2 L1708.4,460.1 L1708.9,459.9 L1709.4,459.8 L1709.9,459.7 L1710.4,459.6 L1710.9,459.5 L1711.4,459.4 L1711.9,459.4 L1712.4,459.3 L1712.9,459.2 L1713.4,459.2 L1713.9,459.1 L1714.4,459.1 L1714.9,459.0 L1715.4,459.0 L1715.9,459.0 L1716.4,459.0 L1716.9,458.9 L1717.4,458.9 L1717.9,458.9 L1718.4,458.9 L1718.9,458.9 L1719.4,458.9 L1719.9,458.9 L1720.4,458.9 L1720.9,458.9 L1721.4,458.9 L1721.9,459.0 L1722.4,459.1 L1722.9,459.3 L1723.4,459.4 L1723.9,459.6 L1724.4,459.8 L1724.9,460.1 L1725.4,460.3 L1725.9,460.6 L1726.4,460.8 L1726.9,461.1 L1727.4,461.4 L1727.9,461.7 L1728.4,462.0 L1728.9,462.3 L1729.4,462.6 L1729.9,462.9 L1730.4,463.2 L1730.9,463.6 L1731.4,464.0 L1731.9,464.4 L1732.4,464.9 L1732.9,465.3 L1733.4,465.8 L1733.9,466.3 L1734.4,466.8 L1734.9,467.3 L1735.4,467.9 L1735.9,468.4 L1736.4,469.0 L1736.9,469.5 L1737.4,470.1 L1737.9,470.7 L1738.4,471.3 L1738.9,471.9 L1739.4,472.5 L1739.9,473.1 L1740.4,473.7 L1740.9,474.2 L1741.4,474.8 L1741.9,475.4 L1742.4,476.1 L1742.9,476.7 L1743.4,477.4 L1743.9,478.1 L1744.4,478.8 L1744.9,479.5 L1745.4,480.2 L1745.9,480.9 L1746.4,481.6 L1746.9,482.4 L1747.4,483.1 L1747.9,483.9 L1748.4,484.6 L1748.9,485.3 L1749.4,486.1 L1749.9,486.9 L1750.4,487.6 L1750.9,488.4 L1751.4,489.3 L1751.9,490.1 L1752.4,490.9 L1752.9,491.8 L1753.4,492.6 L1753.9,493.4 L1754.4,494.3 L1754.9,495.1 L1755.4,495.9 L1755.9,496.7 L1756.4,497.5 L1756.9,498.3 L1757.4,499.0 L1757.9,499.7 L1758.4,500.4 L1758.9,501.1 L1759.4,501.8 L1759.9,502.5 L1760.4,503.2 L1760.9,503.9 L1761.4,504.6 L1761.9,505.2 L1762.4,505.9 L1762.9,506.5 L1763.4,507.1 L1763.9,507.7 L1764.4,508.3 L1764.9,508.9 L1765.4,509.5 L1765.9,510.0 L1766.4,510.5 L1766.9,511.1 L1767.4,511.6 L1767.9,512.1 L1768.4,512.6 L1768.9,513.1 L1769.4,513.6 L1769.9,514.0 L1770.4,514.5 L1770.9,514.9 L1771.4,515.4 L1771.9,515.8 L1772.4,516.2 L1772.9,516.6 L1773.4,516.9 L1773.9,517.3 L1774.4,517.6 L1774.9,517.9 L1775.4,518.2 L1775.9,518.5 L1776.4,518.7 L1776.9,519.0 L1777.4,519.2 L1777.9,519.5 L1778.4,519.7 L1778.9,520.0 L1779.4,520.2 L1779.9,520.4 L1780.4,520.6 L1780.9,520.8 L1781.4,521.1 L1781.9,521.3 L1782.4,521.5 L1782.9,521.7 L1783.4,521.9 L1783.9,522.2 L1784.4,522.4 L1784.9,522.6 L1785.4,522.8 L1785.9,523.1 L1786.4,523.3 L1786.9,523.5 L1787.4,523.7 L1787.9,523.9 L1788.4,524.1 L1788.9,524.3 L1789.4,524.4 L1789.9,524.6 L1790.4,524.7 L1790.9,524.9 L1791.4,525.0 L1791.9,525.1 L1792.4,525.3 L1792.9,525.4 L1793.4,525.5 L1793.9,525.6 L1794.4,525.8 L1794.9,525.9 L1795.4,526.0 L1795.9,526.1 L1796.4,526.2 L1796.9,526.3 L1797.4,526.4 L1797.9,526.5 L1798.4,526.6 L1798.9,526.7 L1799.4,526.8 L1799.9,526.9 L1800.4,527.0 L1800.9,527.0 L1801.4,527.1 L1801.9,527.2 L1802.4,527.3 L1802.9,527.4 L1803.4,527.5 L1803.9,527.6 L1804.4,527.6 L1804.9,527.7 L1805.4,527.8 L1805.9,527.9 L1806.4,528.0 L1806.9,528.1 L1807.4,528.2 L1807.9,528.2 L1808.4,528.3 L1808.9,528.4 L1809.4,528.5 L1809.9,528.6 L1810.4,528.7 L1810.9,528.8 L1811.4,528.9 L1811.9,529.0 L1812.4,529.1 L1812.9,529.2 L1813.4,529.3 L1813.9,529.4 L1814.4,529.5 L1814.9,529.5 L1815.4,529.6 L1815.9,529.7 L1816.4,529.8 L1816.9,529.8 L1817.4,529.9 L1817.9,529.9 L1818.4,529.9 L1818.9,530.0 L1819.4,530.0 L1819.9,530.0 L1820.4,530.0 L1820.9,530.0 L1821.4,530.0 L1821.9,530.0 L1822.4,530.0 L1822.9,530.0 L1823.4,530.0 L1823.9,529.9 L1824.4,529.9 L1824.9,529.9 L1825.4,529.9 L1825.9,529.9 L1826.4,529.9 L1826.9,529.8 L1827.4,529.8 L1827.9,529.8 L1828.4,529.8 L1828.9,529.7 L1829.4,529.7 L1829.9,529.7 L1830.4,529.6 L1830.9,529.6 L1831.4,529.6 L1831.9,529.5 L1832.4,529.5 L1832.9,529.5 L1833.4,529.4 L1833.9,529.4 L1834.4,529.3 L1834.9,529.3 L1835.4,529.2 L1835.9,529.2 L1836.4,529.2 L1836.9,529.1 L1837.4,529.1 L1837.9,529.0 L1838.4,529.0 L1838.9,528.9 L1839.4,528.9 L1839.9,528.8 L1840.4,528.8 L1840.9,528.7 L1841.4,528.7 L1841.9,528.6 L1842.4,528.6 L1842.9,528.5 L1843.4,528.4 L1843.9,528.4 L1844.4,528.3 L1844.9,528.3 L1845.4,528.2 L1845.9,528.1 L1846.4,528.1 L1846.9,528.0 L1847.4,527.9 L1847.9,527.8 L1848.4,527.7 L1848.9,527.6 L1849.4,527.5 L1849.9,527.4 L1850.4,527.3 L1850.9,527.2 L1851.4,527.0 L1851.9,526.9 L1852.4,526.8 L1852.9,526.6 L1853.4,526.5 L1853.9,526.4 L1854.4,526.2 L1854.9,526.1 L1855.4,525.9 L1855.9,525.7 L1856.4,525.6 L1856.9,525.4 L1857.4,525.3 L1857.9,525.1 L1858.4,524.9 L1858.9,524.7 L1859.4,524.6 L1859.9,524.4 L1860.4,524.2 L1860.9,524.0 L1861.4,523.8 L1861.9,523.7 L1862.4,523.5 L1862.9,523.3 L1863.4,523.1 L1863.9,522.9 L1864.4,522.7 L1864.9,522.6 L1865.4,522.4 L1865.9,522.2 L1866.4,522.0 L1866.9,521.8 L1867.4,521.6 L1867.9,521.4 L1868.4,521.3 L1868.9,521.1 L1869.4,520.9 L1869.9,520.7 L1870.4,520.5 L1870.9,520.4 L1871.4,520.2 L1871.9,520.0 L1872.4,519.8 L1872.9,519.6 L1873.4,519.4 L1873.9,519.2 L1874.4,519.0 L1874.9,518.9 L1875.4,518.7 L1875.9,518.5 L1876.4,518.3 L1876.9,518.1 L1877.4,517.9 L1877.9,517.7 L1878.4,517.5 L1878.9,517.3 L1879.4,517.1 L1879.9,516.8 L1880.4,516.6 L1880.9,516.4 L1881.4,516.2 L1881.9,516.0 L1882.4,515.8 L1882.9,515.5 L1883.4,515.3 L1883.9,515.1 L1884.4,514.8 L1884.9,514.6 L1885.4,514.4 L1885.9,514.1 L1886.4,513.9 L1886.9,513.6 L1887.4,513.4 L1887.9,513.1 L1888.4,512.9 L1888.9,512.6 L1889.4,512.4 L1889.9,512.1 L1890.4,511.8 L1890.9,511.5 L1891.4,511.3 L1891.9,511.0 L1892.4,510.7 L1892.9,510.4 L1893.4,510.1 L1893.9,509.8 L1894.4,509.5 L1894.9,509.2 L1895.4,508.9 L1895.9,508.6 L1896.4,508.3 L1896.9,507.9 L1897.4,507.6 L1897.9,507.2 L1898.4,506.9 L1898.9,506.5 L1899.4,506.2 L1899.9,505.8 L1900.4,505.4 L1900.9,505.0 L1901.4,504.7 L1901.9,504.3 L1902.4,503.9 L1902.9,503.4 L1903.4,503.0 L1903.9,502.6 L1904.4,502.2 L1904.9,501.7 L1905.4,501.3 L1905.9,500.8 L1906.4,500.3 L1906.9,499.9 L1907.4,499.4 L1907.9,498.9 L1908.4,498.4 L1908.9,497.9 L1909.4,497.4 L1909.9,496.8 L1910.4,496.3 L1910.9,495.7 L1911.4,495.2 L1911.9,494.6 L1912.4,494.0 L1912.9,493.5 L1913.4,492.9 L1913.9,492.2 L1914.4,491.6 L1914.9,490.9 L1915.4,490.2 L1915.9,489.5 L1916.4,488.8 L1916.9,488.0 L1917.4,487.2 L1917.9,486.4 L1918.4,485.6 L1918.9,484.7 L1919.4,483.9 L1919.9,483.0 L1920.4,482.1 L1920.9,481.1 L1921.4,480.2 L1921.9,479.2 L1922.4,478.2 L1922.9,477.2 L1923.4,476.2 L1923.9,475.1 L1924.4,474.0 L1924.9,472.9 L1925.4,471.8 L1925.9,470.6 L1926.4,469.3 L1926.9,468.0 L1927.4,466.6 L1927.9,465.2 L1928.4,463.7 L1928.9,462.2 L1929.4,460.7 L1929.9,459.1 L1930.4,457.4 L1930.9,455.8 L1931.4,454.1 L1931.9,452.4 L1932.4,450.7 L1932.9,448.9 L1933.4,447.1 L1933.9,445.4 L1934.4,443.6 L1934.9,441.8 L1935.4,440.0 L1935.9,438.2 L1936.4,436.3 L1936.9,434.4 L1937.4,432.5 L1937.9,430.5 L1938.4,428.5 L1938.9,426.4 L1939.4,424.3 L1939.9,422.1 L1940.4,419.8 L1940.9,417.5 L1941.4,415.0 L1941.9,412.5 L1942.4,409.9 L1942.9,407.2 L1943.4,404.4 L1943.9,401.6 L1944.4,398.6 L1944.9,395.6 L1945.4,392.5 L1945.9,389.4 L1946.4,386.2 L1946.9,382.9 L1947.4,379.5 L1947.9,376.1 L1948.4,372.7 L1948.9,369.1 L1949.4,365.2 L1949.9,361.0 L1950.4,356.6 L1950.9,352.2 L1951.4,347.8 L1951.9,343.5 L1952.4,339.4 L1952.9,335.6 L1953.4,332.2 L1953.9,329.2 L1954.4,326.2 L1954.9,323.4 L1955.4,320.8 L1955.9,318.2 L1956.4,315.8 L1956.9,313.4 L1957.4,311.1 L1957.9,309.0 L1958.4,306.9 L1958.9,304.8 L1959.4,302.8 L1959.9,300.8 L1960.4,299.1 L1960.9,297.5 L1961.4,296.2 L1961.9,295.2 L1962.4,294.2 L1962.9,293.2 L1963.4,292.4 L1963.9,291.8 L1964.4,291.5 L1964.9,291.6 L1965.4,292.0 L1965.9,292.6 L1966.4,293.5 L1966.9,294.5 L1967.4,295.6 L1967.9,296.7 L1968.4,298.0 L1968.9,299.6 L1969.4,301.4 L1969.9,303.4 L1970.4,305.5 L1970.9,307.9 L1971.4,310.6 L1971.9,313.6 L1972.4,317.0 L1972.9,320.7 L1973.4,324.6 L1973.9,328.6 L1974.4,332.8 L1974.9,337.1 L1975.4,341.4 L1975.9,345.7 L1976.4,350.2 L1976.9,354.9 L1977.4,359.7 L1977.9,364.8 L1978.4,370.0 L1978.9,375.4 L1979.4,381.0 L1979.9,387.4 L1980.4,394.3 L1980.9,400.0 L1981.4,404.2 L1981.9,407.9 L1982.4,411.2 L1982.9,414.2 L1983.4,417.1 L1983.9,420.1 L1984.4,423.3 L1984.9,426.5 L1985.4,429.7 L1985.9,432.8 L1986.4,436.0 L1986.9,439.1 L1987.4,442.1 L1987.9,445.1 L1988.4,448.1 L1988.9,451.0 L1989.4,453.8 L1989.9,456.5 L1990.4,459.3 L1990.9,462.0 L1991.4,464.7 L1991.9,467.3 L1992.4,469.9 L1992.9,472.4 L1993.4,474.9 L1993.9,477.2 L1994.4,479.5 L1994.9,481.6 L1995.4,483.6 L1995.9,485.5 L1996.4,487.4 L1996.9,489.3 L1997.4,491.1 L1997.9,492.8 L1998.4,494.5 L1998.9,496.1 L1999.4,497.7 L1999.9,499.2 L2000.4,500.7 L2000.9,502.1 L2001.4,503.5 L2001.9,504.8 L2002.4,506.1 L2002.9,507.4 L2003.4,508.7 L2003.9,509.9 L2004.4,511.1 L2004.9,512.3 L2005.4,513.4 L2005.9,514.5 L2006.4,515.5 L2006.9,516.6 L2007.4,517.5 L2007.9,518.4 L2008.4,519.3 L2008.9,520.1 L2009.4,520.8 L2009.9,521.5 L2010.4,522.1 L2010.9,522.8 L2011.4,523.4 L2011.9,524.0 L2012.4,524.6 L2012.9,525.2 L2013.4,525.7 L2013.9,526.2 L2014.4,526.7 L2014.9,527.2 L2015.4,527.7 L2015.9,528.2 L2016.4,528.6 L2016.9,529.1 L2017.4,529.5 L2017.9,529.9 L2018.4,530.3 L2018.9,530.7 L2019.4,531.1 L2019.9,531.4 L2020.4,531.8 L2020.9,532.2 L2021.4,532.5 L2021.9,532.8 L2022.4,533.2 L2022.9,533.5 L2023.4,533.8 L2023.9,534.2 L2024.4,534.5 L2024.9,534.8 L2025.4,535.1 L2025.9,535.4 L2026.4,535.7 L2026.9,536.0 L2027.4,536.3 L2027.9,536.6 L2028.4,536.9 L2028.9,537.1 L2029.4,537.4 L2029.9,537.7 L2030.4,537.9 L2030.9,538.2 L2031.4,538.4 L2031.9,538.6 L2032.4,538.9 L2032.9,539.1 L2033.4,539.3 L2033.9,539.5 L2034.4,539.7 L2034.9,539.9 L2035.4,540.1 L2035.9,540.3 L2036.4,540.4 L2036.9,540.6 L2037.4,540.8 L2037.9,540.9 L2038.4,541.1 L2038.9,541.2 L2039.4,541.4 L2039.9,541.5 L2040.4,541.7 L2040.9,541.8 L2041.4,542.0 L2041.9,542.1 L2042.4,542.3 L2042.9,542.4 L2043.4,542.5 L2043.9,542.7 L2044.4,542.8 L2044.9,542.9 L2045.4,543.0 L2045.9,543.2 L2046.4,543.3 L2046.9,543.4 L2047.4,543.5 L2047.9,543.6 L2048.4,543.8 L2048.9,543.9 L2049.4,544.0 L2049.9,544.1 L2050.4,544.2 L2050.9,544.3 L2051.4,544.4 L2051.9,544.5 L2052.4,544.6 L2052.9,544.7 L2053.4,544.7 L2053.9,544.8 L2054.4,544.9 L2054.9,545.0 L2055.4,545.1 L2055.9,545.1 L2056.4,545.2 L2056.9,545.3 L2057.4,545.3 L2057.9,545.4 L2058.4,545.5 L2058.9,545.5 L2059.4,545.6 L2059.9,545.6 L2060.4,545.7 L2060.9,545.7 L2061.4,545.8 L2061.9,545.8 L2062.4,545.9 L2062.9,545.9 L2063.4,546.0 L2063.9,546.0 L2064.4,546.1 L2064.9,546.1 L2065.4,546.2 L2065.9,546.2 L2066.4,546.2 L2066.9,546.3 L2067.4,546.3 L2067.9,546.4 L2068.4,546.4 L2068.9,546.5 L2069.4,546.5 L2069.9,546.5 L2070.4,546.6 L2070.9,546.6 L2071.4,546.7 L2071.9,546.7 L2072.4,546.7 L2072.9,546.8 L2073.4,546.8 L2073.9,546.8 L2074.4,546.9 L2074.9,546.9 L2075.4,546.9 L2075.9,547.0 L2076.4,547.0 L2076.9,547.1 L2077.4,547.1 L2077.9,547.1 L2078.4,547.1 L2078.9,547.2 L2079.4,547.2 L2079.9,547.2 L2080.4,547.3 L2080.9,547.3 L2081.4,547.3 L2081.9,547.4 L2082.4,547.4 L2082.9,547.4 L2083.4,547.4 L2083.9,547.5 L2084.4,547.5 L2084.9,547.5 L2085.4,547.6 L2085.9,547.6 L2086.4,547.6 L2086.9,547.6 L2087.4,547.7 L2087.9,547.7 L2088.4,547.7 L2088.9,547.7 L2089.4,547.8 L2089.9,547.8 L2090.4,547.8 L2090.9,547.8 L2091.4,547.8 L2091.9,547.9 L2092.4,547.9 L2092.9,547.9 L2093.4,547.9 L2093.9,548.0 L2094.4,548.0 L2094.9,548.0 L2095.4,548.0 L2095.9,548.0 L2096.4,548.1 L2096.9,548.1 L2097.4,548.1 L2097.9,548.1 L2098.4,548.1 L2098.9,548.2 L2099.4,548.2 L2099.9,548.2 L2100.4,548.2 L2100.9,548.2 L2101.4,548.3 L2101.9,548.3 L2102.4,548.3 L2102.9,548.3 L2103.4,548.3 L2103.9,548.3 L2104.4,548.4 L2104.9,548.4 L2105.4,548.4 L2105.9,548.4 L2106.4,548.4 L2106.9,548.5 L2107.4,548.5 L2107.9,548.5 L2108.4,548.5 L2108.9,548.5 L2109.4,548.5 L2109.9,548.6 L2110.4,548.6 L2110.9,548.6 L2111.4,548.6 L2111.9,548.6 L2112.4,548.6 L2112.9,548.7 L2113.4,548.7 L2113.9,548.7 L2114.4,548.7 L2114.9,548.7 L2115.4,548.7 L2115.9,548.8 L2116.4,548.8 L2116.9,548.8 L2117.4,548.8 L2117.9,548.8 L2118.4,548.8 L2118.9,548.9 L2119.4,548.9 L2119.9,548.9 L2120.4,548.9 L2120.9,548.9 L2121.4,548.9 L2121.9,548.9 L2122.4,549.0 L2122.9,549.0 L2123.4,549.0 L2123.9,549.0 L2124.4,549.0 L2124.9,549.0 L2125.4,549.1 L2125.9,549.1 L2126.4,549.1 L2126.9,549.1 L2127.4,549.1 L2127.9,549.1 L2128.4,549.1 L2128.9,549.2 L2129.4,549.2 L2129.9,549.2 L2130.4,549.2 L2130.9,549.2 L2131.4,549.2 L2131.9,549.3 L2132.4,549.3 L2132.9,549.3 L2133.4,549.3 L2133.9,549.3 L2134.4,549.3 L2134.9,549.3 L2135.4,549.3 L2135.9,549.4 L2136.4,549.4 L2136.9,549.4 L2137.4,549.4 L2137.9,549.4 L2138.4,549.4 L2138.9,549.4 L2139.4,549.5 L2139.9,549.5 L2140.4,549.5 L2140.9,549.5 L2141.4,549.5 L2141.9,549.5 L2142.4,549.5 L2142.9,549.6 L2143.4,549.6 L2143.9,549.6 L2144.4,549.6 L2144.9,549.6 L2145.4,549.6 L2145.9,549.6 L2146.4,549.6 L2146.9,549.7 L2147.4,549.7 L2147.9,549.7 L2148.4,549.7 L2148.9,549.7 L2149.4,549.7 L2149.9,549.7 L2150.4,549.7 L2150.9,549.8 L2151.4,549.8 L2151.9,549.8 L2152.4,549.8 L2152.9,549.8 L2153.4,549.8 L2153.9,549.8 L2154.4,549.8 L2154.9,549.8 L2155.4,549.9 L2155.9,549.9 L2156.4,549.9 L2156.9,549.9 L2157.4,549.9 L2157.9,549.9 L2158.4,549.9 L2158.9,549.9 L2159.4,549.9 L2159.9,550.0 L2160.4,550.0 L2160.9,550.0 L2161.4,550.0 L2161.9,550.0 L2162.4,550.0 L2162.9,550.0 L2163.4,550.0 L2163.9,550.0 L2164.4,550.1 L2164.9,550.1 L2165.4,550.1 L2165.9,550.1 L2166.4,550.1 L2166.9,550.1 L2167.4,550.1 L2167.9,550.1 L2168.4,550.1 L2168.9,550.1 L2169.4,550.2 L2169.9,550.2 L2170.4,550.2 L2170.9,550.2 L2171.4,550.2 L2171.9,550.2 L2172.4,550.2 L2172.9,550.2 L2173.4,550.2 L2173.9,550.2 L2174.4,550.3 L2174.9,550.3 L2175.4,550.3 L2175.9,550.3 L2176.4,550.3 L2176.9,550.3 L2177.4,550.3 L2177.9,550.3 L2178.4,550.3 L2178.9,550.3 L2179.4,550.3 L2179.9,550.4 L2180.4,550.4 L2180.9,550.4 L2181.4,550.4 L2181.9,550.4 L2182.4,550.4 L2182.9,550.4 L2183.4,550.4 L2183.9,550.4 L2184.4,550.4 L2184.9,550.4 L2185.4,550.4 L2185.9,550.5 L2186.4,550.5 L2186.9,550.5 L2187.4,550.5 L2187.9,550.5 L2188.4,550.5 L2188.9,550.5 L2189.4,550.5 L2189.9,550.5 L2190.4,550.5 L2190.9,550.5 L2191.4,550.5 L2191.9,550.5 L2192.4,550.6 L2192.9,550.6 L2193.4,550.6 L2193.9,550.6 L2194.4,550.6 L2194.9,550.6 L2195.4,550.6 L2195.9,550.6 L2196.4,550.6 L2196.9,550.6 L2197.4,550.6 L2197.9,550.6 L2198.4,550.6 L2198.9,550.6 L2199.4,550.7 L2199.9,550.7 L2200.4,550.7 L2200.9,550.7 L2201.4,550.7 L2201.9,550.7 L2202.4,550.7 L2202.9,550.7 L2203.4,550.7 L2203.9,550.7 L2204.4,550.7 L2204.9,550.7 L2205.4,550.7 L2205.9,550.7 L2206.4,550.7 L2206.9,550.8 L2207.4,550.8 L2207.9,550.8 L2208.4,550.8 L2208.9,550.8 L2209.4,550.8 L2209.9,550.8 L2210.4,550.8 L2210.9,550.8 L2211.4,550.8 L2211.9,550.8 L2212.4,550.8 L2212.9,550.8 L2213.4,550.8 L2213.9,550.8 L2214.4,550.8 L2214.9,550.8 L2215.4,550.8 L2215.9,550.9 L2216.4,550.9 L2216.9,550.9 L2217.4,550.9 L2217.9,550.9 L2218.4,550.9 L2218.9,550.9 L2219.4,550.9 L2219.9,550.9 L2220.4,550.9 L2220.9,550.9 L2221.4,550.9 L2221.9,550.9 L2222.4,550.9 L2222.9,550.9 L2223.4,550.9 L2223.9,550.9 L2224.4,550.9 L2224.9,551.0 L2225.4,551.0 L2225.9,551.0 L2226.4,551.0 L2226.9,551.0 L2227.4,551.0 L2227.9,551.0 L2228.4,551.0 L2228.9,551.0 L2229.4,551.0 L2229.9,551.0 L2230.4,551.0 L2230.9,551.0 L2231.4,551.0 L2231.9,551.0 L2232.4,551.0 L2232.9,551.0 L2233.4,551.0 L2233.9,551.1 L2234.4,551.1 L2234.9,551.1 L2235.4,551.1 L2235.9,551.1 L2236.4,551.1 L2236.9,551.1 L2237.4,551.1 L2237.9,551.1 L2238.4,551.1 L2238.9,551.1 L2239.4,551.1 L2239.9,551.1 L2240.4,551.1 L2240.9,551.1 L2241.4,551.1 L2241.9,551.1 L2242.4,551.1 L2242.9,551.1 L2243.4,551.2 L2243.9,551.2 L2244.4,551.2 L2244.9,551.2 L2245.4,551.2 L2245.9,551.2 L2246.4,551.2 L2246.9,551.2 L2247.4,551.2 L2247.9,551.2 L2248.4,551.2 L2248.9,551.2 L2249.4,551.2 L2249.9,551.2 L2250.4,551.2 L2250.9,551.2 L2251.4,551.2 L2251.9,551.2 L2252.4,551.2 L2252.9,551.2 L2253.4,551.3 L2253.9,551.3 L2254.4,551.3 L2254.9,551.3 L2255.4,551.3 L2255.9,551.3 L2256.4,551.3 L2256.9,551.3 L2257.4,551.3 L2257.9,551.3 L2258.4,551.3 L2258.9,551.3 L2259.4,551.3 L2259.9,551.3 L2260.4,551.3 L2260.9,551.3 L2261.4,551.3 L2261.9,551.3 L2262.4,551.3 L2262.9,551.3 L2263.4,551.4 L2263.9,551.4 L2264.4,551.4 L2264.9,551.4 L2265.4,551.4 L2265.9,551.4 L2266.4,551.4 L2266.9,551.4 L2267.4,551.4 L2267.9,551.4 L2268.4,551.4 L2268.9,551.4 L2269.4,551.4 L2269.9,551.4 L2270.4,551.4 L2270.9,551.4 L2271.4,551.4 L2271.9,551.4 L2272.4,551.4 L2272.9,551.4 L2273.4,551.4 L2273.9,551.4 L2274.4,551.5 L2274.9,551.5 L2275.4,551.5 L2275.9,551.5 L2276.4,551.5 L2276.9,551.5 L2277.4,551.5 L2277.9,551.5 L2278.4,551.5 L2278.9,551.5 L2279.4,551.5 L2279.9,551.5 L2280.4,551.5 L2280.9,551.5 L2281.4,551.5 L2281.9,551.5 L2282.4,551.5 L2282.9,551.5 L2283.4,551.5 L2283.9,551.5 L2284.4,551.5 L2284.9,551.5 L2285.4,551.6 L2285.9,551.6 L2286.4,551.6 L2286.9,551.6 L2287.4,551.6 L2287.9,551.6 L2288.4,551.6 L2288.9,551.6 L2289.4,551.6 L2289.9,551.6 L2290.4,551.6 L2290.9,551.6 L2291.4,551.6 L2291.9,551.6 L2292.4,551.6 L2292.9,551.6 L2293.4,551.6 L2293.9,551.6 L2294.4,551.6 L2294.9,551.6 L2295.4,551.6 L2295.9,551.6 L2296.4,551.6 L2296.9,551.6 L2297.4,551.6 L2297.9,551.7 L2298.4,551.7 L2298.9,551.7 L2299.4,551.7 L2299.9,551.7 L2300.4,551.7 L2300.9,551.7 L2301.4,551.7 L2301.9,551.7 L2302.4,551.7 L2302.9,551.7 L2303.4,551.7 L2303.9,551.7 L2304.4,551.7 L2304.9,551.7 L2305.4,551.7 L2305.9,551.7 L2306.4,551.7 L2306.9,551.7 L2307.4,551.7 L2307.9,551.7 L2308.4,551.7 L2308.9,551.7 L2309.4,551.7 L2309.9,551.7 L2310.4,551.7 L2310.9,551.7 L2311.4,551.7 L2311.9,551.8 L2312.4,551.8 L2312.9,551.8 L2313.4,551.8 L2313.9,551.8 L2314.4,551.8 L2314.9,551.8 L2315.4,551.8 L2315.9,551.8 L2316.4,551.8 L2316.9,551.8 L2317.4,551.8 L2317.9,551.8 L2318.4,551.8 L2318.9,551.8 L2319.4,551.8 L2319.9,551.8 L2320.4,551.8 L2320.9,551.8 L2321.4,551.8 L2321.9,551.8 L2322.4,551.8 L2322.9,551.8 L2323.4,551.8 L2323.9,551.8 L2324.4,551.8 L2324.9,551.8 L2325.4,551.8 L2325.9,551.8 L2326.4,551.8 L2326.9,551.8 L2327.4,551.8 L2327.9,551.8 L2328.4,551.8 L2328.9,551.9 L2329.4,551.9 L2329.9,551.9 L2330.4,551.9 L2330.9,551.9 L2331.4,551.9 L2331.9,551.9 L2332.4,551.9 L2332.9,551.9 L2333.4,551.9 L2333.9,551.9 L2334.4,551.9 L2334.9,551.9 L2335.4,551.9 L2335.9,551.9 L2336.4,551.9 L2336.9,551.9 L2337.4,551.9 L2337.9,551.9 L2338.4,551.9 L2338.9,551.9 L2339.4,551.9 L2339.9,551.9 L2340.4,551.9 L2340.9,551.9 L2341.4,551.9 L2341.9,551.9 L2342.4,551.9 L2342.9,551.9 L2343.4,551.9 L2343.9,551.9 L2344.4,551.9 L2344.9,551.9 L2345.4,551.9 L2345.9,551.9 L2346.4,551.9 L2346.9,551.9 L2347.4,551.9 L2347.9,551.9 L2348.4,551.9 L2348.9,551.9 L2349.4,551.9 L2349.9,551.9 L2350.4,551.9 L2350.9,551.9 L2351.4,551.9 L2351.9,552.0 L2352.4,552.0 L2352.9,552.0 L2353.4,552.0 L2353.9,552.0 L2354.4,552.0 L2354.9,552.0 L2355.4,552.0 L2355.9,552.0 L2356.4,552.0 L2356.9,552.0 L2357.4,552.0 L2357.9,552.0 L2358.4,552.0 L2358.9,552.0 L2359.4,552.0 L2359.9,552.0 L2360.4,552.0 L2360.9,552.0 L2361.4,552.0 L2361.9,552.0 L2362.4,552.0 L2362.9,552.0 L2363.4,552.0 L2363.9,552.0 L2364.4,552.0 L2364.9,552.0 L2365.4,552.0 L2365.9,552.0 L2366.4,552.0 L2366.9,552.0 L2367.4,552.0 L2367.9,552.0 L2368.4,552.0 L2368.9,552.0 L2369.4,552.0 L2369.9,552.0 L2370.4,552.0 L2370.9,552.0 L2371.4,552.0 L2371.9,552.0 L2372.4,552.0 L2372.9,552.0 L2373.4,552.0 L2373.9,552.0 L2374.4,552.0 L2374.9,552.0 L2375.4,552.0 L2375.9,552.0 L2376.4,552.0 L2376.9,552.0 L2377.4,552.0 L2377.9,552.0 L2378.4,552.0 L2378.9,552.0 L2379.4,552.0 L2379.9,552.0 L2380.4,552.0 L2380.9,552.0" fill="none" stroke="#3b528b" stroke-width="3.8" stroke-linejoin="round" stroke-linecap="butt"/>
<path d="M1400.4,545.1 L1400.9,545.1 L1401.4,545.1 L1401.9,545.0 L1402.4,545.0 L1402.9,545.0 L1403.4,545.0 L1403.9,545.0 L1404.4,545.0 L1404.9,544.9 L1405.4,544.9 L1405.9,544.9 L1406.4,544.9 L1406.9,544.9 L1407.4,544.8 L1407.9,544.8 L1408.4,544.8 L1408.9,544.8 L1409.4,544.7 L1409.9,544.7 L1410.4,544.7 L1410.9,544.7 L1411.4,544.6 L1411.9,544.6 L1412.4,544.6 L1412.9,544.6 L1413.4,544.5 L1413.9,544.5 L1414.4,544.5 L1414.9,544.4 L1415.4,544.4 L1415.9,544.4 L1416.4,544.3 L1416.9,544.3 L1417.4,544.3 L1417.9,544.2 L1418.4,544.2 L1418.9,544.2 L1419.4,544.1 L1419.9,544.1 L1420.4,544.1 L1420.9,544.0 L1421.4,544.0 L1421.9,544.0 L1422.4,543.9 L1422.9,543.9 L1423.4,543.9 L1423.9,543.8 L1424.4,543.8 L1424.9,543.7 L1425.4,543.7 L1425.9,543.7 L1426.4,543.6 L1426.9,543.6 L1427.4,543.6 L1427.9,543.5 L1428.4,543.5 L1428.9,543.4 L1429.4,543.4 L1429.9,543.4 L1430.4,543.3 L1430.9,543.3 L1431.4,543.2 L1431.9,543.2 L1432.4,543.1 L1432.9,543.1 L1433.4,543.0 L1433.9,543.0 L1434.4,542.9 L1434.9,542.9 L1435.4,542.8 L1435.9,542.8 L1436.4,542.7 L1436.9,542.7 L1437.4,542.6 L1437.9,542.6 L1438.4,542.5 L1438.9,542.4 L1439.4,542.4 L1439.9,542.3 L1440.4,542.3 L1440.9,542.2 L1441.4,542.1 L1441.9,542.1 L1442.4,542.0 L1442.9,541.9 L1443.4,541.9 L1443.9,541.8 L1444.4,541.7 L1444.9,541.7 L1445.4,541.6 L1445.9,541.5 L1446.4,541.5 L1446.9,541.4 L1447.4,541.3 L1447.9,541.2 L1448.4,541.2 L1448.9,541.1 L1449.4,541.0 L1449.9,540.9 L1450.4,540.8 L1450.9,540.8 L1451.4,540.7 L1451.9,540.6 L1452.4,540.5 L1452.9,540.5 L1453.4,540.4 L1453.9,540.3 L1454.4,540.2 L1454.9,540.1 L1455.4,540.0 L1455.9,540.0 L1456.4,539.9 L1456.9,539.8 L1457.4,539.7 L1457.9,539.6 L1458.4,539.5 L1458.9,539.4 L1459.4,539.3 L1459.9,539.3 L1460.4,539.2 L1460.9,539.1 L1461.4,539.0 L1461.9,538.9 L1462.4,538.7 L1462.9,538.6 L1463.4,538.5 L1463.9,538.4 L1464.4,538.3 L1464.9,538.2 L1465.4,538.1 L1465.9,537.9 L1466.4,537.8 L1466.9,537.7 L1467.4,537.6 L1467.9,537.4 L1468.4,537.3 L1468.9,537.2 L1469.4,537.0 L1469.9,536.9 L1470.4,536.8 L1470.9,536.6 L1471.4,536.5 L1471.9,536.4 L1472.4,536.2 L1472.9,536.1 L1473.4,536.0 L1473.9,535.8 L1474.4,535.7 L1474.9,535.5 L1475.4,535.4 L1475.9,535.2 L1476.4,535.1 L1476.9,535.0 L1477.4,534.8 L1477.9,534.7 L1478.4,534.5 L1478.9,534.4 L1479.4,534.3 L1479.9,534.1 L1480.4,534.0 L1480.9,533.8 L1481.4,533.7 L1481.9,533.6 L1482.4,533.4 L1482.9,533.3 L1483.4,533.2 L1483.9,533.0 L1484.4,532.9 L1484.9,532.8 L1485.4,532.6 L1485.9,532.5 L1486.4,532.4 L1486.9,532.3 L1487.4,532.1 L1487.9,532.0 L1488.4,531.9 L1488.9,531.8 L1489.4,531.7 L1489.9,531.6 L1490.4,531.4 L1490.9,531.3 L1491.4,531.2 L1491.9,531.1 L1492.4,531.0 L1492.9,530.9 L1493.4,530.8 L1493.9,530.7 L1494.4,530.6 L1494.9,530.5 L1495.4,530.4 L1495.9,530.3 L1496.4,530.2 L1496.9,530.1 L1497.4,530.0 L1497.9,529.9 L1498.4,529.8 L1498.9,529.7 L1499.4,529.6 L1499.9,529.4 L1500.4,529.3 L1500.9,529.2 L1501.4,529.1 L1501.9,529.0 L1502.4,528.9 L1502.9,528.8 L1503.4,528.7 L1503.9,528.6 L1504.4,528.5 L1504.9,528.4 L1505.4,528.2 L1505.9,528.1 L1506.4,528.0 L1506.9,527.9 L1507.4,527.8 L1507.9,527.6 L1508.4,527.5 L1508.9,527.4 L1509.4,527.2 L1509.9,527.1 L1510.4,527.0 L1510.9,526.8 L1511.4,526.7 L1511.9,526.6 L1512.4,526.4 L1512.9,526.3 L1513.4,526.2 L1513.9,526.0 L1514.4,525.9 L1514.9,525.7 L1515.4,525.6 L1515.9,525.4 L1516.4,525.3 L1516.9,525.1 L1517.4,524.9 L1517.9,524.8 L1518.4,524.6 L1518.9,524.4 L1519.4,524.3 L1519.9,524.1 L1520.4,523.9 L1520.9,523.7 L1521.4,523.5 L1521.9,523.4 L1522.4,523.2 L1522.9,523.0 L1523.4,522.8 L1523.9,522.5 L1524.4,522.3 L1524.9,522.1 L1525.4,521.9 L1525.9,521.7 L1526.4,521.5 L1526.9,521.2 L1527.4,521.0 L1527.9,520.8 L1528.4,520.5 L1528.9,520.3 L1529.4,520.1 L1529.9,519.8 L1530.4,519.6 L1530.9,519.3 L1531.4,519.1 L1531.9,518.9 L1532.4,518.6 L1532.9,518.4 L1533.4,518.1 L1533.9,517.9 L1534.4,517.6 L1534.9,517.3 L1535.4,517.1 L1535.9,516.8 L1536.4,516.6 L1536.9,516.3 L1537.4,516.1 L1537.9,515.8 L1538.4,515.5 L1538.9,515.3 L1539.4,515.0 L1539.9,514.8 L1540.4,514.5 L1540.9,514.3 L1541.4,514.0 L1541.9,513.8 L1542.4,513.5 L1542.9,513.3 L1543.4,513.0 L1543.9,512.7 L1544.4,512.5 L1544.9,512.2 L1545.4,512.0 L1545.9,511.7 L1546.4,511.5 L1546.9,511.2 L1547.4,511.0 L1547.9,510.7 L1548.4,510.4 L1548.9,510.2 L1549.4,509.9 L1549.9,509.7 L1550.4,509.4 L1550.9,509.1 L1551.4,508.9 L1551.9,508.6 L1552.4,508.3 L1552.9,508.1 L1553.4,507.8 L1553.9,507.5 L1554.4,507.3 L1554.9,507.0 L1555.4,506.7 L1555.9,506.4 L1556.4,506.2 L1556.9,505.9 L1557.4,505.6 L1557.9,505.3 L1558.4,505.0 L1558.9,504.7 L1559.4,504.5 L1559.9,504.2 L1560.4,503.9 L1560.9,503.6 L1561.4,503.3 L1561.9,503.0 L1562.4,502.7 L1562.9,502.4 L1563.4,502.1 L1563.9,501.8 L1564.4,501.4 L1564.9,501.1 L1565.4,500.8 L1565.9,500.4 L1566.4,500.1 L1566.9,499.7 L1567.4,499.3 L1567.9,498.9 L1568.4,498.5 L1568.9,498.1 L1569.4,497.7 L1569.9,497.3 L1570.4,496.9 L1570.9,496.5 L1571.4,496.0 L1571.9,495.6 L1572.4,495.2 L1572.9,494.7 L1573.4,494.3 L1573.9,493.9 L1574.4,493.4 L1574.9,493.0 L1575.4,492.6 L1575.9,492.2 L1576.4,491.7 L1576.9,491.3 L1577.4,490.9 L1577.9,490.5 L1578.4,490.1 L1578.9,489.7 L1579.4,489.3 L1579.9,489.0 L1580.4,488.6 L1580.9,488.3 L1581.4,487.9 L1581.9,487.6 L1582.4,487.3 L1582.9,487.0 L1583.4,486.7 L1583.9,486.4 L1584.4,486.2 L1584.9,485.9 L1585.4,485.7 L1585.9,485.5 L1586.4,485.3 L1586.9,485.2 L1587.4,485.0 L1587.9,484.8 L1588.4,484.6 L1588.9,484.5 L1589.4,484.3 L1589.9,484.1 L1590.4,484.0 L1590.9,483.8 L1591.4,483.6 L1591.9,483.5 L1592.4,483.4 L1592.9,483.2 L1593.4,483.1 L1593.9,483.0 L1594.4,482.9 L1594.9,482.8 L1595.4,482.8 L1595.9,482.7 L1596.4,482.7 L1596.9,482.6 L1597.4,482.6 L1597.9,482.7 L1598.4,482.7 L1598.9,482.7 L1599.4,482.8 L1599.9,482.9 L1600.4,483.0 L1600.9,483.1 L1601.4,483.3 L1601.9,483.4 L1602.4,483.5 L1602.9,483.7 L1603.4,483.9 L1603.9,484.0 L1604.4,484.2 L1604.9,484.4 L1605.4,484.6 L1605.9,484.8 L1606.4,485.0 L1606.9,485.1 L1607.4,485.3 L1607.9,485.5 L1608.4,485.7 L1608.9,485.8 L1609.4,486.0 L1609.9,486.2 L1610.4,486.3 L1610.9,486.5 L1611.4,486.6 L1611.9,486.8 L1612.4,487.0 L1612.9,487.1 L1613.4,487.3 L1613.9,487.4 L1614.4,487.6 L1614.9,487.7 L1615.4,487.8 L1615.9,488.0 L1616.4,488.1 L1616.9,488.2 L1617.4,488.3 L1617.9,488.5 L1618.4,488.6 L1618.9,488.7 L1619.4,488.9 L1619.9,489.0 L1620.4,489.1 L1620.9,489.2 L1621.4,489.4 L1621.9,489.5 L1622.4,489.6 L1622.9,489.8 L1623.4,489.9 L1623.9,490.0 L1624.4,490.1 L1624.9,490.2 L1625.4,490.4 L1625.9,490.5 L1626.4,490.6 L1626.9,490.7 L1627.4,490.8 L1627.9,490.9 L1628.4,491.1 L1628.9,491.2 L1629.4,491.3 L1629.9,491.4 L1630.4,491.5 L1630.9,491.6 L1631.4,491.7 L1631.9,491.8 L1632.4,491.9 L1632.9,492.0 L1633.4,492.1 L1633.9,492.2 L1634.4,492.3 L1634.9,492.3 L1635.4,492.4 L1635.9,492.5 L1636.4,492.6 L1636.9,492.7 L1637.4,492.8 L1637.9,492.9 L1638.4,492.9 L1638.9,493.0 L1639.4,493.1 L1639.9,493.1 L1640.4,493.2 L1640.9,493.2 L1641.4,493.3 L1641.9,493.3 L1642.4,493.4 L1642.9,493.4 L1643.4,493.4 L1643.9,493.5 L1644.4,493.5 L1644.9,493.5 L1645.4,493.5 L1645.9,493.5 L1646.4,493.4 L1646.9,493.4 L1647.4,493.4 L1647.9,493.3 L1648.4,493.3 L1648.9,493.2 L1649.4,493.1 L1649.9,493.1 L1650.4,493.0 L1650.9,492.9 L1651.4,492.8 L1651.9,492.7 L1652.4,492.6 L1652.9,492.5 L1653.4,492.3 L1653.9,492.2 L1654.4,492.1 L1654.9,491.9 L1655.4,491.8 L1655.9,491.7 L1656.4,491.5 L1656.9,491.4 L1657.4,491.2 L1657.9,491.1 L1658.4,490.9 L1658.9,490.8 L1659.4,490.6 L1659.9,490.5 L1660.4,490.3 L1660.9,490.2 L1661.4,490.0 L1661.9,489.8 L1662.4,489.6 L1662.9,489.5 L1663.4,489.3 L1663.9,489.1 L1664.4,488.9 L1664.9,488.7 L1665.4,488.5 L1665.9,488.3 L1666.4,488.1 L1666.9,487.9 L1667.4,487.7 L1667.9,487.5 L1668.4,487.2 L1668.9,487.0 L1669.4,486.8 L1669.9,486.5 L1670.4,486.3 L1670.9,486.1 L1671.4,485.8 L1671.9,485.6 L1672.4,485.3 L1672.9,485.1 L1673.4,484.8 L1673.9,484.5 L1674.4,484.3 L1674.9,484.0 L1675.4,483.7 L1675.9,483.5 L1676.4,483.2 L1676.9,482.9 L1677.4,482.6 L1677.9,482.4 L1678.4,482.1 L1678.9,481.8 L1679.4,481.5 L1679.9,481.2 L1680.4,480.9 L1680.9,480.6 L1681.4,480.4 L1681.9,480.1 L1682.4,479.8 L1682.9,479.5 L1683.4,479.2 L1683.9,478.9 L1684.4,478.6 L1684.9,478.3 L1685.4,478.0 L1685.9,477.7 L1686.4,477.4 L1686.9,477.0 L1687.4,476.7 L1687.9,476.4 L1688.4,476.1 L1688.9,475.8 L1689.4,475.4 L1689.9,475.1 L1690.4,474.8 L1690.9,474.5 L1691.4,474.1 L1691.9,473.8 L1692.4,473.4 L1692.9,473.1 L1693.4,472.8 L1693.9,472.4 L1694.4,472.1 L1694.9,471.7 L1695.4,471.4 L1695.9,471.0 L1696.4,470.6 L1696.9,470.3 L1697.4,469.9 L1697.9,469.6 L1698.4,469.2 L1698.9,468.8 L1699.4,468.5 L1699.9,468.1 L1700.4,467.9 L1700.9,467.6 L1701.4,467.3 L1701.9,467.0 L1702.4,466.8 L1702.9,466.5 L1703.4,466.3 L1703.9,466.1 L1704.4,465.8 L1704.9,465.6 L1705.4,465.4 L1705.9,465.3 L1706.4,465.1 L1706.9,464.9 L1707.4,464.8 L1707.9,464.6 L1708.4,464.5 L1708.9,464.4 L1709.4,464.3 L1709.9,464.2 L1710.4,464.1 L1710.9,464.0 L1711.4,463.9 L1711.9,463.8 L1712.4,463.7 L1712.9,463.7 L1713.4,463.6 L1713.9,463.6 L1714.4,463.6 L1714.9,463.5 L1715.4,463.5 L1715.9,463.5 L1716.4,463.5 L1716.9,463.5 L1717.4,463.5 L1717.9,463.6 L1718.4,463.6 L1718.9,463.7 L1719.4,463.8 L1719.9,463.9 L1720.4,464.0 L1720.9,464.1 L1721.4,464.2 L1721.9,464.4 L1722.4,464.5 L1722.9,464.7 L1723.4,464.9 L1723.9,465.1 L1724.4,465.3 L1724.9,465.5 L1725.4,465.7 L1725.9,465.9 L1726.4,466.1 L1726.9,466.3 L1727.4,466.6 L1727.9,466.8 L1728.4,467.0 L1728.9,467.2 L1729.4,467.5 L1729.9,467.8 L1730.4,468.2 L1730.9,468.5 L1731.4,468.9 L1731.9,469.4 L1732.4,469.8 L1732.9,470.3 L1733.4,470.8 L1733.9,471.4 L1734.4,471.9 L1734.9,472.5 L1735.4,473.1 L1735.9,473.7 L1736.4,474.3 L1736.9,475.0 L1737.4,475.6 L1737.9,476.2 L1738.4,476.9 L1738.9,477.5 L1739.4,478.1 L1739.9,478.8 L1740.4,479.4 L1740.9,480.0 L1741.4,480.6 L1741.9,481.3 L1742.4,481.9 L1742.9,482.6 L1743.4,483.2 L1743.9,483.9 L1744.4,484.6 L1744.9,485.3 L1745.4,486.0 L1745.9,486.7 L1746.4,487.5 L1746.9,488.2 L1747.4,488.9 L1747.9,489.7 L1748.4,490.4 L1748.9,491.2 L1749.4,491.9 L1749.9,492.7 L1750.4,493.5 L1750.9,494.3 L1751.4,495.1 L1751.9,495.9 L1752.4,496.8 L1752.9,497.6 L1753.4,498.5 L1753.9,499.3 L1754.4,500.2 L1754.9,501.0 L1755.4,501.8 L1755.9,502.6 L1756.4,503.4 L1756.9,504.1 L1757.4,504.8 L1757.9,505.5 L1758.4,506.2 L1758.9,506.8 L1759.4,507.5 L1759.9,508.1 L1760.4,508.7 L1760.9,509.3 L1761.4,509.9 L1761.9,510.5 L1762.4,511.0 L1762.9,511.6 L1763.4,512.2 L1763.9,512.7 L1764.4,513.3 L1764.9,513.8 L1765.4,514.4 L1765.9,514.9 L1766.4,515.4 L1766.9,516.0 L1767.4,516.6 L1767.9,517.1 L1768.4,517.7 L1768.9,518.2 L1769.4,518.8 L1769.9,519.3 L1770.4,519.8 L1770.9,520.3 L1771.4,520.8 L1771.9,521.3 L1772.4,521.8 L1772.9,522.2 L1773.4,522.7 L1773.9,523.0 L1774.4,523.4 L1774.9,523.8 L1775.4,524.1 L1775.9,524.5 L1776.4,524.8 L1776.9,525.1 L1777.4,525.4 L1777.9,525.7 L1778.4,526.0 L1778.9,526.3 L1779.4,526.6 L1779.9,526.8 L1780.4,527.1 L1780.9,527.4 L1781.4,527.6 L1781.9,527.9 L1782.4,528.1 L1782.9,528.3 L1783.4,528.6 L1783.9,528.8 L1784.4,529.0 L1784.9,529.3 L1785.4,529.5 L1785.9,529.7 L1786.4,529.9 L1786.9,530.1 L1787.4,530.3 L1787.9,530.5 L1788.4,530.7 L1788.9,530.9 L1789.4,531.0 L1789.9,531.2 L1790.4,531.3 L1790.9,531.5 L1791.4,531.6 L1791.9,531.7 L1792.4,531.9 L1792.9,532.0 L1793.4,532.1 L1793.9,532.2 L1794.4,532.4 L1794.9,532.5 L1795.4,532.6 L1795.9,532.7 L1796.4,532.8 L1796.9,532.9 L1797.4,533.0 L1797.9,533.1 L1798.4,533.2 L1798.9,533.3 L1799.4,533.4 L1799.9,533.5 L1800.4,533.6 L1800.9,533.6 L1801.4,533.7 L1801.9,533.8 L1802.4,533.9 L1802.9,534.0 L1803.4,534.1 L1803.9,534.2 L1804.4,534.2 L1804.9,534.3 L1805.4,534.4 L1805.9,534.5 L1806.4,534.6 L1806.9,534.7 L1807.4,534.8 L1807.9,534.8 L1808.4,534.9 L1808.9,535.0 L1809.4,535.1 L1809.9,535.2 L1810.4,535.3 L1810.9,535.4 L1811.4,535.5 L1811.9,535.6 L1812.4,535.7 L1812.9,535.8 L1813.4,535.9 L1813.9,536.0 L1814.4,536.1 L1814.9,536.1 L1815.4,536.2 L1815.9,536.3 L1816.4,536.4 L1816.9,536.4 L1817.4,536.5 L1817.9,536.5 L1818.4,536.5 L1818.9,536.6 L1819.4,536.6 L1819.9,536.6 L1820.4,536.6 L1820.9,536.6 L1821.4,536.6 L1821.9,536.6 L1822.4,536.6 L1822.9,536.6 L1823.4,536.6 L1823.9,536.6 L1824.4,536.6 L1824.9,536.6 L1825.4,536.5 L1825.9,536.5 L1826.4,536.5 L1826.9,536.5 L1827.4,536.5 L1827.9,536.5 L1828.4,536.5 L1828.9,536.4 L1829.4,536.4 L1829.9,536.4 L1830.4,536.4 L1830.9,536.4 L1831.4,536.4 L1831.9,536.3 L1832.4,536.3 L1832.9,536.3 L1833.4,536.3 L1833.9,536.2 L1834.4,536.2 L1834.9,536.2 L1835.4,536.2 L1835.9,536.1 L1836.4,536.1 L1836.9,536.1 L1837.4,536.0 L1837.9,536.0 L1838.4,536.0 L1838.9,536.0 L1839.4,535.9 L1839.9,535.9 L1840.4,535.9 L1840.9,535.8 L1841.4,535.8 L1841.9,535.8 L1842.4,535.7 L1842.9,535.7 L1843.4,535.6 L1843.9,535.6 L1844.4,535.6 L1844.9,535.5 L1845.4,535.5 L1845.9,535.5 L1846.4,535.4 L1846.9,535.4 L1847.4,535.3 L1847.9,535.3 L1848.4,535.3 L1848.9,535.2 L1849.4,535.2 L1849.9,535.1 L1850.4,535.1 L1850.9,535.1 L1851.4,535.0 L1851.9,535.0 L1852.4,534.9 L1852.9,534.9 L1853.4,534.8 L1853.9,534.8 L1854.4,534.7 L1854.9,534.7 L1855.4,534.7 L1855.9,534.6 L1856.4,534.6 L1856.9,534.5 L1857.4,534.5 L1857.9,534.4 L1858.4,534.4 L1858.9,534.3 L1859.4,534.3 L1859.9,534.2 L1860.4,534.1 L1860.9,534.1 L1861.4,534.0 L1861.9,533.9 L1862.4,533.8 L1862.9,533.8 L1863.4,533.7 L1863.9,533.6 L1864.4,533.5 L1864.9,533.4 L1865.4,533.3 L1865.9,533.3 L1866.4,533.2 L1866.9,533.1 L1867.4,533.0 L1867.9,532.9 L1868.4,532.8 L1868.9,532.7 L1869.4,532.6 L1869.9,532.4 L1870.4,532.3 L1870.9,532.2 L1871.4,532.1 L1871.9,532.0 L1872.4,531.9 L1872.9,531.8 L1873.4,531.7 L1873.9,531.5 L1874.4,531.4 L1874.9,531.3 L1875.4,531.2 L1875.9,531.0 L1876.4,530.9 L1876.9,530.8 L1877.4,530.7 L1877.9,530.5 L1878.4,530.4 L1878.9,530.3 L1879.4,530.1 L1879.9,530.0 L1880.4,529.9 L1880.9,529.7 L1881.4,529.6 L1881.9,529.5 L1882.4,529.3 L1882.9,529.2 L1883.4,529.1 L1883.9,528.9 L1884.4,528.8 L1884.9,528.6 L1885.4,528.5 L1885.9,528.3 L1886.4,528.2 L1886.9,528.0 L1887.4,527.9 L1887.9,527.7 L1888.4,527.5 L1888.9,527.4 L1889.4,527.2 L1889.9,527.0 L1890.4,526.8 L1890.9,526.7 L1891.4,526.5 L1891.9,526.3 L1892.4,526.1 L1892.9,525.9 L1893.4,525.7 L1893.9,525.5 L1894.4,525.3 L1894.9,525.1 L1895.4,524.9 L1895.9,524.7 L1896.4,524.5 L1896.9,524.3 L1897.4,524.1 L1897.9,523.9 L1898.4,523.7 L1898.9,523.4 L1899.4,523.2 L1899.9,523.0 L1900.4,522.7 L1900.9,522.5 L1901.4,522.3 L1901.9,522.0 L1902.4,521.8 L1902.9,521.5 L1903.4,521.3 L1903.9,521.0 L1904.4,520.7 L1904.9,520.5 L1905.4,520.2 L1905.9,519.9 L1906.4,519.7 L1906.9,519.4 L1907.4,519.1 L1907.9,518.8 L1908.4,518.5 L1908.9,518.2 L1909.4,517.9 L1909.9,517.5 L1910.4,517.2 L1910.9,516.9 L1911.4,516.5 L1911.9,516.2 L1912.4,515.8 L1912.9,515.4 L1913.4,515.1 L1913.9,514.7 L1914.4,514.3 L1914.9,513.9 L1915.4,513.5 L1915.9,513.0 L1916.4,512.6 L1916.9,512.2 L1917.4,511.7 L1917.9,511.3 L1918.4,510.8 L1918.9,510.3 L1919.4,509.8 L1919.9,509.3 L1920.4,508.8 L1920.9,508.3 L1921.4,507.8 L1921.9,507.2 L1922.4,506.7 L1922.9,506.1 L1923.4,505.5 L1923.9,504.9 L1924.4,504.3 L1924.9,503.7 L1925.4,503.1 L1925.9,502.4 L1926.4,501.7 L1926.9,501.0 L1927.4,500.2 L1927.9,499.3 L1928.4,498.5 L1928.9,497.6 L1929.4,496.7 L1929.9,495.7 L1930.4,494.8 L1930.9,493.7 L1931.4,492.7 L1931.9,491.7 L1932.4,490.6 L1932.9,489.5 L1933.4,488.4 L1933.9,487.2 L1934.4,486.1 L1934.9,484.9 L1935.4,483.7 L1935.9,482.5 L1936.4,481.3 L1936.9,480.1 L1937.4,478.9 L1937.9,477.7 L1938.4,476.4 L1938.9,475.0 L1939.4,473.7 L1939.9,472.2 L1940.4,470.8 L1940.9,469.3 L1941.4,467.8 L1941.9,466.2 L1942.4,464.7 L1942.9,463.1 L1943.4,461.4 L1943.9,459.8 L1944.4,458.1 L1944.9,456.4 L1945.4,454.7 L1945.9,452.9 L1946.4,451.2 L1946.9,449.4 L1947.4,447.6 L1947.9,445.8 L1948.4,443.8 L1948.9,441.7 L1949.4,439.6 L1949.9,437.5 L1950.4,435.3 L1950.9,433.2 L1951.4,431.0 L1951.9,428.9 L1952.4,426.9 L1952.9,425.0 L1953.4,423.2 L1953.9,421.5 L1954.4,419.9 L1954.9,418.3 L1955.4,416.8 L1955.9,415.3 L1956.4,413.8 L1956.9,412.3 L1957.4,410.8 L1957.9,409.2 L1958.4,407.5 L1958.9,405.9 L1959.4,404.5 L1959.9,403.2 L1960.4,402.2 L1960.9,401.3 L1961.4,400.5 L1961.9,399.8 L1962.4,399.1 L1962.9,398.5 L1963.4,398.0 L1963.9,397.6 L1964.4,397.5 L1964.9,397.6 L1965.4,397.9 L1965.9,398.5 L1966.4,399.2 L1966.9,400.0 L1967.4,400.9 L1967.9,401.8 L1968.4,402.8 L1968.9,404.1 L1969.4,405.5 L1969.9,407.1 L1970.4,408.8 L1970.9,410.6 L1971.4,412.5 L1971.9,414.6 L1972.4,416.9 L1972.9,419.4 L1973.4,421.9 L1973.9,424.6 L1974.4,427.3 L1974.9,430.0 L1975.4,432.7 L1975.9,435.3 L1976.4,437.9 L1976.9,440.4 L1977.4,442.9 L1977.9,445.5 L1978.4,448.1 L1978.9,450.6 L1979.4,453.2 L1979.9,455.7 L1980.4,458.2 L1980.9,460.7 L1981.4,463.1 L1981.9,465.4 L1982.4,467.7 L1982.9,470.0 L1983.4,472.3 L1983.9,474.6 L1984.4,476.8 L1984.9,479.0 L1985.4,481.2 L1985.9,483.3 L1986.4,485.4 L1986.9,487.4 L1987.4,489.3 L1987.9,491.2 L1988.4,493.0 L1988.9,494.7 L1989.4,496.3 L1989.9,498.0 L1990.4,499.6 L1990.9,501.2 L1991.4,502.7 L1991.9,504.2 L1992.4,505.7 L1992.9,507.1 L1993.4,508.5 L1993.9,509.8 L1994.4,511.1 L1994.9,512.3 L1995.4,513.5 L1995.9,514.7 L1996.4,515.7 L1996.9,516.8 L1997.4,517.8 L1997.9,518.8 L1998.4,519.8 L1998.9,520.8 L1999.4,521.8 L1999.9,522.7 L2000.4,523.6 L2000.9,524.5 L2001.4,525.4 L2001.9,526.2 L2002.4,527.0 L2002.9,527.8 L2003.4,528.5 L2003.9,529.2 L2004.4,529.9 L2004.9,530.5 L2005.4,531.1 L2005.9,531.6 L2006.4,532.1 L2006.9,532.6 L2007.4,533.1 L2007.9,533.5 L2008.4,534.0 L2008.9,534.5 L2009.4,534.9 L2009.9,535.3 L2010.4,535.8 L2010.9,536.2 L2011.4,536.6 L2011.9,537.0 L2012.4,537.3 L2012.9,537.7 L2013.4,538.1 L2013.9,538.4 L2014.4,538.7 L2014.9,539.1 L2015.4,539.4 L2015.9,539.7 L2016.4,539.9 L2016.9,540.2 L2017.4,540.5 L2017.9,540.7 L2018.4,540.9 L2018.9,541.1 L2019.4,541.3 L2019.9,541.5 L2020.4,541.7 L2020.9,541.9 L2021.4,542.0 L2021.9,542.2 L2022.4,542.3 L2022.9,542.5 L2023.4,542.6 L2023.9,542.8 L2024.4,542.9 L2024.9,543.1 L2025.4,543.2 L2025.9,543.3 L2026.4,543.5 L2026.9,543.6 L2027.4,543.7 L2027.9,543.9 L2028.4,544.0 L2028.9,544.1 L2029.4,544.2 L2029.9,544.4 L2030.4,544.5 L2030.9,544.6 L2031.4,544.7 L2031.9,544.8 L2032.4,544.9 L2032.9,545.0 L2033.4,545.1 L2033.9,545.2 L2034.4,545.3 L2034.9,545.4 L2035.4,545.5 L2035.9,545.6 L2036.4,545.7 L2036.9,545.8 L2037.4,545.9 L2037.9,545.9 L2038.4,546.0 L2038.9,546.1 L2039.4,546.2 L2039.9,546.2 L2040.4,546.3 L2040.9,546.4 L2041.4,546.4 L2041.9,546.5 L2042.4,546.6 L2042.9,546.6 L2043.4,546.7 L2043.9,546.7 L2044.4,546.8 L2044.9,546.8 L2045.4,546.9 L2045.9,546.9 L2046.4,547.0 L2046.9,547.0 L2047.4,547.1 L2047.9,547.1 L2048.4,547.1 L2048.9,547.2 L2049.4,547.2 L2049.9,547.3 L2050.4,547.3 L2050.9,547.3 L2051.4,547.4 L2051.9,547.4 L2052.4,547.4 L2052.9,547.5 L2053.4,547.5 L2053.9,547.5 L2054.4,547.6 L2054.9,547.6 L2055.4,547.6 L2055.9,547.7 L2056.4,547.7 L2056.9,547.7 L2057.4,547.7 L2057.9,547.8 L2058.4,547.8 L2058.9,547.8 L2059.4,547.9 L2059.9,547.9 L2060.4,547.9 L2060.9,547.9 L2061.4,548.0 L2061.9,548.0 L2062.4,548.0 L2062.9,548.0 L2063.4,548.1 L2063.9,548.1 L2064.4,548.1 L2064.9,548.2 L2065.4,548.2 L2065.9,548.2 L2066.4,548.2 L2066.9,548.2 L2067.4,548.3 L2067.9,548.3 L2068.4,548.3 L2068.9,548.3 L2069.4,548.4 L2069.9,548.4 L2070.4,548.4 L2070.9,548.4 L2071.4,548.4 L2071.9,548.5 L2072.4,548.5 L2072.9,548.5 L2073.4,548.5 L2073.9,548.6 L2074.4,548.6 L2074.9,548.6 L2075.4,548.6 L2075.9,548.6 L2076.4,548.6 L2076.9,548.7 L2077.4,548.7 L2077.9,548.7 L2078.4,548.7 L2078.9,548.7 L2079.4,548.8 L2079.9,548.8 L2080.4,548.8 L2080.9,548.8 L2081.4,548.8 L2081.9,548.8 L2082.4,548.9 L2082.9,548.9 L2083.4,548.9 L2083.9,548.9 L2084.4,548.9 L2084.9,548.9 L2085.4,548.9 L2085.9,549.0 L2086.4,549.0 L2086.9,549.0 L2087.4,549.0 L2087.9,549.0 L2088.4,549.0 L2088.9,549.0 L2089.4,549.1 L2089.9,549.1 L2090.4,549.1 L2090.9,549.1 L2091.4,549.1 L2091.9,549.1 L2092.4,549.1 L2092.9,549.1 L2093.4,549.2 L2093.9,549.2 L2094.4,549.2 L2094.9,549.2 L2095.4,549.2 L2095.9,549.2 L2096.4,549.2 L2096.9,549.2 L2097.4,549.2 L2097.9,549.3 L2098.4,549.3 L2098.9,549.3 L2099.4,549.3 L2099.9,549.3 L2100.4,549.3 L2100.9,549.3 L2101.4,549.3 L2101.9,549.3 L2102.4,549.3 L2102.9,549.4 L2103.4,549.4 L2103.9,549.4 L2104.4,549.4 L2104.9,549.4 L2105.4,549.4 L2105.9,549.4 L2106.4,549.4 L2106.9,549.4 L2107.4,549.5 L2107.9,549.5 L2108.4,549.5 L2108.9,549.5 L2109.4,549.5 L2109.9,549.5 L2110.4,549.5 L2110.9,549.5 L2111.4,549.5 L2111.9,549.5 L2112.4,549.6 L2112.9,549.6 L2113.4,549.6 L2113.9,549.6 L2114.4,549.6 L2114.9,549.6 L2115.4,549.6 L2115.9,549.6 L2116.4,549.6 L2116.9,549.6 L2117.4,549.7 L2117.9,549.7 L2118.4,549.7 L2118.9,549.7 L2119.4,549.7 L2119.9,549.7 L2120.4,549.7 L2120.9,549.7 L2121.4,549.7 L2121.9,549.7 L2122.4,549.7 L2122.9,549.8 L2123.4,549.8 L2123.9,549.8 L2124.4,549.8 L2124.9,549.8 L2125.4,549.8 L2125.9,549.8 L2126.4,549.8 L2126.9,549.8 L2127.4,549.8 L2127.9,549.9 L2128.4,549.9 L2128.9,549.9 L2129.4,549.9 L2129.9,549.9 L2130.4,549.9 L2130.9,549.9 L2131.4,549.9 L2131.9,549.9 L2132.4,549.9 L2132.9,549.9 L2133.4,550.0 L2133.9,550.0 L2134.4,550.0 L2134.9,550.0 L2135.4,550.0 L2135.9,550.0 L2136.4,550.0 L2136.9,550.0 L2137.4,550.0 L2137.9,550.0 L2138.4,550.1 L2138.9,550.1 L2139.4,550.1 L2139.9,550.1 L2140.4,550.1 L2140.9,550.1 L2141.4,550.1 L2141.9,550.1 L2142.4,550.1 L2142.9,550.1 L2143.4,550.1 L2143.9,550.2 L2144.4,550.2 L2144.9,550.2 L2145.4,550.2 L2145.9,550.2 L2146.4,550.2 L2146.9,550.2 L2147.4,550.2 L2147.9,550.2 L2148.4,550.2 L2148.9,550.2 L2149.4,550.3 L2149.9,550.3 L2150.4,550.3 L2150.9,550.3 L2151.4,550.3 L2151.9,550.3 L2152.4,550.3 L2152.9,550.3 L2153.4,550.3 L2153.9,550.3 L2154.4,550.3 L2154.9,550.4 L2155.4,550.4 L2155.9,550.4 L2156.4,550.4 L2156.9,550.4 L2157.4,550.4 L2157.9,550.4 L2158.4,550.4 L2158.9,550.4 L2159.4,550.4 L2159.9,550.4 L2160.4,550.4 L2160.9,550.5 L2161.4,550.5 L2161.9,550.5 L2162.4,550.5 L2162.9,550.5 L2163.4,550.5 L2163.9,550.5 L2164.4,550.5 L2164.9,550.5 L2165.4,550.5 L2165.9,550.5 L2166.4,550.5 L2166.9,550.6 L2167.4,550.6 L2167.9,550.6 L2168.4,550.6 L2168.9,550.6 L2169.4,550.6 L2169.9,550.6 L2170.4,550.6 L2170.9,550.6 L2171.4,550.6 L2171.9,550.6 L2172.4,550.6 L2172.9,550.7 L2173.4,550.7 L2173.9,550.7 L2174.4,550.7 L2174.9,550.7 L2175.4,550.7 L2175.9,550.7 L2176.4,550.7 L2176.9,550.7 L2177.4,550.7 L2177.9,550.7 L2178.4,550.7 L2178.9,550.8 L2179.4,550.8 L2179.9,550.8 L2180.4,550.8 L2180.9,550.8 L2181.4,550.8 L2181.9,550.8 L2182.4,550.8 L2182.9,550.8 L2183.4,550.8 L2183.9,550.8 L2184.4,550.8 L2184.9,550.8 L2185.4,550.9 L2185.9,550.9 L2186.4,550.9 L2186.9,550.9 L2187.4,550.9 L2187.9,550.9 L2188.4,550.9 L2188.9,550.9 L2189.4,550.9 L2189.9,550.9 L2190.4,550.9 L2190.9,550.9 L2191.4,551.0 L2191.9,551.0 L2192.4,551.0 L2192.9,551.0 L2193.4,551.0 L2193.9,551.0 L2194.4,551.0 L2194.9,551.0 L2195.4,551.0 L2195.9,551.0 L2196.4,551.0 L2196.9,551.0 L2197.4,551.0 L2197.9,551.0 L2198.4,551.1 L2198.9,551.1 L2199.4,551.1 L2199.9,551.1 L2200.4,551.1 L2200.9,551.1 L2201.4,551.1 L2201.9,551.1 L2202.4,551.1 L2202.9,551.1 L2203.4,551.1 L2203.9,551.1 L2204.4,551.1 L2204.9,551.2 L2205.4,551.2 L2205.9,551.2 L2206.4,551.2 L2206.9,551.2 L2207.4,551.2 L2207.9,551.2 L2208.4,551.2 L2208.9,551.2 L2209.4,551.2 L2209.9,551.2 L2210.4,551.2 L2210.9,551.2 L2211.4,551.2 L2211.9,551.3 L2212.4,551.3 L2212.9,551.3 L2213.4,551.3 L2213.9,551.3 L2214.4,551.3 L2214.9,551.3 L2215.4,551.3 L2215.9,551.3 L2216.4,551.3 L2216.9,551.3 L2217.4,551.3 L2217.9,551.3 L2218.4,551.3 L2218.9,551.3 L2219.4,551.4 L2219.9,551.4 L2220.4,551.4 L2220.9,551.4 L2221.4,551.4 L2221.9,551.4 L2222.4,551.4 L2222.9,551.4 L2223.4,551.4 L2223.9,551.4 L2224.4,551.4 L2224.9,551.4 L2225.4,551.4 L2225.9,551.4 L2226.4,551.4 L2226.9,551.5 L2227.4,551.5 L2227.9,551.5 L2228.4,551.5 L2228.9,551.5 L2229.4,551.5 L2229.9,551.5 L2230.4,551.5 L2230.9,551.5 L2231.4,551.5 L2231.9,551.5 L2232.4,551.5 L2232.9,551.5 L2233.4,551.5 L2233.9,551.5 L2234.4,551.5 L2234.9,551.6 L2235.4,551.6 L2235.9,551.6 L2236.4,551.6 L2236.9,551.6 L2237.4,551.6 L2237.9,551.6 L2238.4,551.6 L2238.9,551.6 L2239.4,551.6 L2239.9,551.6 L2240.4,551.6 L2240.9,551.6 L2241.4,551.6 L2241.9,551.6 L2242.4,551.6 L2242.9,551.6 L2243.4,551.7 L2243.9,551.7 L2244.4,551.7 L2244.9,551.7 L2245.4,551.7 L2245.9,551.7 L2246.4,551.7 L2246.9,551.7 L2247.4,551.7 L2247.9,551.7 L2248.4,551.7 L2248.9,551.7 L2249.4,551.7 L2249.9,551.7 L2250.4,551.7 L2250.9,551.7 L2251.4,551.7 L2251.9,551.8 L2252.4,551.8 L2252.9,551.8 L2253.4,551.8 L2253.9,551.8 L2254.4,551.8 L2254.9,551.8 L2255.4,551.8 L2255.9,551.8 L2256.4,551.8 L2256.9,551.8 L2257.4,551.8 L2257.9,551.8 L2258.4,551.8 L2258.9,551.8 L2259.4,551.8 L2259.9,551.8 L2260.4,551.8 L2260.9,551.8 L2261.4,551.9 L2261.9,551.9 L2262.4,551.9 L2262.9,551.9 L2263.4,551.9 L2263.9,551.9 L2264.4,551.9 L2264.9,551.9 L2265.4,551.9 L2265.9,551.9 L2266.4,551.9 L2266.9,551.9 L2267.4,551.9 L2267.9,551.9 L2268.4,551.9 L2268.9,551.9 L2269.4,551.9 L2269.9,551.9 L2270.4,551.9 L2270.9,551.9 L2271.4,552.0 L2271.9,552.0 L2272.4,552.0 L2272.9,552.0 L2273.4,552.0 L2273.9,552.0 L2274.4,552.0 L2274.9,552.0 L2275.4,552.0 L2275.9,552.0 L2276.4,552.0 L2276.9,552.0 L2277.4,552.0 L2277.9,552.0 L2278.4,552.0 L2278.9,552.0 L2279.4,552.0 L2279.9,552.0 L2280.4,552.0 L2280.9,552.0 L2281.4,552.0 L2281.9,552.0 L2282.4,552.1 L2282.9,552.1 L2283.4,552.1 L2283.9,552.1 L2284.4,552.1 L2284.9,552.1 L2285.4,552.1 L2285.9,552.1 L2286.4,552.1 L2286.9,552.1 L2287.4,552.1 L2287.9,552.1 L2288.4,552.1 L2288.9,552.1 L2289.4,552.1 L2289.9,552.1 L2290.4,552.1 L2290.9,552.1 L2291.4,552.1 L2291.9,552.1 L2292.4,552.1 L2292.9,552.1 L2293.4,552.1 L2293.9,552.1 L2294.4,552.2 L2294.9,552.2 L2295.4,552.2 L2295.9,552.2 L2296.4,552.2 L2296.9,552.2 L2297.4,552.2 L2297.9,552.2 L2298.4,552.2 L2298.9,552.2 L2299.4,552.2 L2299.9,552.2 L2300.4,552.2 L2300.9,552.2 L2301.4,552.2 L2301.9,552.2 L2302.4,552.2 L2302.9,552.2 L2303.4,552.2 L2303.9,552.2 L2304.4,552.2 L2304.9,552.2 L2305.4,552.2 L2305.9,552.2 L2306.4,552.2 L2306.9,552.2 L2307.4,552.2 L2307.9,552.2 L2308.4,552.3 L2308.9,552.3 L2309.4,552.3 L2309.9,552.3 L2310.4,552.3 L2310.9,552.3 L2311.4,552.3 L2311.9,552.3 L2312.4,552.3 L2312.9,552.3 L2313.4,552.3 L2313.9,552.3 L2314.4,552.3 L2314.9,552.3 L2315.4,552.3 L2315.9,552.3 L2316.4,552.3 L2316.9,552.3 L2317.4,552.3 L2317.9,552.3 L2318.4,552.3 L2318.9,552.3 L2319.4,552.3 L2319.9,552.3 L2320.4,552.3 L2320.9,552.3 L2321.4,552.3 L2321.9,552.3 L2322.4,552.3 L2322.9,552.3 L2323.4,552.3 L2323.9,552.3 L2324.4,552.3 L2324.9,552.3 L2325.4,552.4 L2325.9,552.4 L2326.4,552.4 L2326.9,552.4 L2327.4,552.4 L2327.9,552.4 L2328.4,552.4 L2328.9,552.4 L2329.4,552.4 L2329.9,552.4 L2330.4,552.4 L2330.9,552.4 L2331.4,552.4 L2331.9,552.4 L2332.4,552.4 L2332.9,552.4 L2333.4,552.4 L2333.9,552.4 L2334.4,552.4 L2334.9,552.4 L2335.4,552.4 L2335.9,552.4 L2336.4,552.4 L2336.9,552.4 L2337.4,552.4 L2337.9,552.4 L2338.4,552.4 L2338.9,552.4 L2339.4,552.4 L2339.9,552.4 L2340.4,552.4 L2340.9,552.4 L2341.4,552.4 L2341.9,552.4 L2342.4,552.4 L2342.9,552.4 L2343.4,552.4 L2343.9,552.4 L2344.4,552.4 L2344.9,552.4 L2345.4,552.4 L2345.9,552.4 L2346.4,552.4 L2346.9,552.4 L2347.4,552.4 L2347.9,552.4 L2348.4,552.4 L2348.9,552.4 L2349.4,552.5 L2349.9,552.5 L2350.4,552.5 L2350.9,552.5 L2351.4,552.5 L2351.9,552.5 L2352.4,552.5 L2352.9,552.5 L2353.4,552.5 L2353.9,552.5 L2354.4,552.5 L2354.9,552.5 L2355.4,552.5 L2355.9,552.5 L2356.4,552.5 L2356.9,552.5 L2357.4,552.5 L2357.9,552.5 L2358.4,552.5 L2358.9,552.5 L2359.4,552.5 L2359.9,552.5 L2360.4,552.5 L2360.9,552.5 L2361.4,552.5 L2361.9,552.5 L2362.4,552.5 L2362.9,552.5 L2363.4,552.5 L2363.9,552.5 L2364.4,552.5 L2364.9,552.5 L2365.4,552.5 L2365.9,552.5 L2366.4,552.5 L2366.9,552.5 L2367.4,552.5 L2367.9,552.5 L2368.4,552.5 L2368.9,552.5 L2369.4,552.5 L2369.9,552.5 L2370.4,552.5 L2370.9,552.5 L2371.4,552.5 L2371.9,552.5 L2372.4,552.5 L2372.9,552.5 L2373.4,552.5 L2373.9,552.5 L2374.4,552.5 L2374.9,552.5 L2375.4,552.5 L2375.9,552.5 L2376.4,552.5 L2376.9,552.5 L2377.4,552.5 L2377.9,552.5 L2378.4,552.5 L2378.9,552.5 L2379.4,552.5 L2379.9,552.5 L2380.4,552.5 L2380.9,552.5" fill="none" stroke="#21918c" stroke-width="3.8" stroke-linejoin="round" stroke-linecap="butt"/>
<path d="M1400.4,545.7 L1400.9,545.7 L1401.4,545.7 L1401.9,545.7 L1402.4,545.7 L1402.9,545.7 L1403.4,545.6 L1403.9,545.6 L1404.4,545.6 L1404.9,545.6 L1405.4,545.6 L1405.9,545.6 L1406.4,545.6 L1406.9,545.6 L1407.4,545.5 L1407.9,545.5 L1408.4,545.5 L1408.9,545.5 L1409.4,545.5 L1409.9,545.4 L1410.4,545.4 L1410.9,545.4 L1411.4,545.4 L1411.9,545.4 L1412.4,545.3 L1412.9,545.3 L1413.4,545.3 L1413.9,545.3 L1414.4,545.2 L1414.9,545.2 L1415.4,545.2 L1415.9,545.1 L1416.4,545.1 L1416.9,545.1 L1417.4,545.1 L1417.9,545.0 L1418.4,545.0 L1418.9,545.0 L1419.4,544.9 L1419.9,544.9 L1420.4,544.9 L1420.9,544.8 L1421.4,544.8 L1421.9,544.8 L1422.4,544.7 L1422.9,544.7 L1423.4,544.7 L1423.9,544.6 L1424.4,544.6 L1424.9,544.6 L1425.4,544.5 L1425.9,544.5 L1426.4,544.5 L1426.9,544.4 L1427.4,544.4 L1427.9,544.4 L1428.4,544.3 L1428.9,544.3 L1429.4,544.3 L1429.9,544.2 L1430.4,544.2 L1430.9,544.2 L1431.4,544.1 L1431.9,544.1 L1432.4,544.0 L1432.9,544.0 L1433.4,543.9 L1433.9,543.9 L1434.4,543.8 L1434.9,543.8 L1435.4,543.7 L1435.9,543.7 L1436.4,543.6 L1436.9,543.6 L1437.4,543.5 L1437.9,543.5 L1438.4,543.4 L1438.9,543.3 L1439.4,543.3 L1439.9,543.2 L1440.4,543.2 L1440.9,543.1 L1441.4,543.0 L1441.9,543.0 L1442.4,542.9 L1442.9,542.8 L1443.4,542.8 L1443.9,542.7 L1444.4,542.6 L1444.9,542.5 L1445.4,542.5 L1445.9,542.4 L1446.4,542.3 L1446.9,542.3 L1447.4,542.2 L1447.9,542.1 L1448.4,542.0 L1448.9,541.9 L1449.4,541.9 L1449.9,541.8 L1450.4,541.7 L1450.9,541.6 L1451.4,541.5 L1451.9,541.5 L1452.4,541.4 L1452.9,541.3 L1453.4,541.2 L1453.9,541.1 L1454.4,541.1 L1454.9,541.0 L1455.4,540.9 L1455.9,540.8 L1456.4,540.7 L1456.9,540.6 L1457.4,540.5 L1457.9,540.5 L1458.4,540.4 L1458.9,540.3 L1459.4,540.2 L1459.9,540.1 L1460.4,540.0 L1460.9,539.9 L1461.4,539.8 L1461.9,539.7 L1462.4,539.6 L1462.9,539.5 L1463.4,539.4 L1463.9,539.3 L1464.4,539.2 L1464.9,539.1 L1465.4,539.0 L1465.9,538.8 L1466.4,538.7 L1466.9,538.6 L1467.4,538.5 L1467.9,538.4 L1468.4,538.2 L1468.9,538.1 L1469.4,538.0 L1469.9,537.9 L1470.4,537.7 L1470.9,537.6 L1471.4,537.5 L1471.9,537.4 L1472.4,537.2 L1472.9,537.1 L1473.4,537.0 L1473.9,536.8 L1474.4,536.7 L1474.9,536.6 L1475.4,536.4 L1475.9,536.3 L1476.4,536.2 L1476.9,536.0 L1477.4,535.9 L1477.9,535.8 L1478.4,535.6 L1478.9,535.5 L1479.4,535.4 L1479.9,535.2 L1480.4,535.1 L1480.9,535.0 L1481.4,534.8 L1481.9,534.7 L1482.4,534.6 L1482.9,534.5 L1483.4,534.3 L1483.9,534.2 L1484.4,534.1 L1484.9,534.0 L1485.4,533.8 L1485.9,533.7 L1486.4,533.6 L1486.9,533.5 L1487.4,533.4 L1487.9,533.2 L1488.4,533.1 L1488.9,533.0 L1489.4,532.9 L1489.9,532.8 L1490.4,532.7 L1490.9,532.6 L1491.4,532.5 L1491.9,532.4 L1492.4,532.3 L1492.9,532.2 L1493.4,532.1 L1493.9,532.0 L1494.4,531.9 L1494.9,531.8 L1495.4,531.7 L1495.9,531.6 L1496.4,531.5 L1496.9,531.4 L1497.4,531.3 L1497.9,531.2 L1498.4,531.1 L1498.9,531.0 L1499.4,530.9 L1499.9,530.8 L1500.4,530.7 L1500.9,530.6 L1501.4,530.5 L1501.9,530.4 L1502.4,530.3 L1502.9,530.1 L1503.4,530.0 L1503.9,529.9 L1504.4,529.8 L1504.9,529.7 L1505.4,529.6 L1505.9,529.5 L1506.4,529.4 L1506.9,529.2 L1507.4,529.1 L1507.9,529.0 L1508.4,528.9 L1508.9,528.8 L1509.4,528.6 L1509.9,528.5 L1510.4,528.4 L1510.9,528.2 L1511.4,528.1 L1511.9,528.0 L1512.4,527.8 L1512.9,527.7 L1513.4,527.5 L1513.9,527.4 L1514.4,527.3 L1514.9,527.1 L1515.4,527.0 L1515.9,526.8 L1516.4,526.7 L1516.9,526.5 L1517.4,526.3 L1517.9,526.2 L1518.4,526.0 L1518.9,525.8 L1519.4,525.7 L1519.9,525.5 L1520.4,525.3 L1520.9,525.1 L1521.4,524.9 L1521.9,524.8 L1522.4,524.6 L1522.9,524.4 L1523.4,524.2 L1523.9,523.9 L1524.4,523.7 L1524.9,523.5 L1525.4,523.3 L1525.9,523.1 L1526.4,522.9 L1526.9,522.6 L1527.4,522.4 L1527.9,522.2 L1528.4,521.9 L1528.9,521.7 L1529.4,521.5 L1529.9,521.2 L1530.4,521.0 L1530.9,520.7 L1531.4,520.5 L1531.9,520.2 L1532.4,520.0 L1532.9,519.7 L1533.4,519.5 L1533.9,519.2 L1534.4,519.0 L1534.9,518.7 L1535.4,518.5 L1535.9,518.2 L1536.4,518.0 L1536.9,517.7 L1537.4,517.5 L1537.9,517.2 L1538.4,516.9 L1538.9,516.7 L1539.4,516.4 L1539.9,516.2 L1540.4,515.9 L1540.9,515.7 L1541.4,515.4 L1541.9,515.2 L1542.4,514.9 L1542.9,514.7 L1543.4,514.4 L1543.9,514.2 L1544.4,513.9 L1544.9,513.7 L1545.4,513.4 L1545.9,513.1 L1546.4,512.9 L1546.9,512.6 L1547.4,512.4 L1547.9,512.1 L1548.4,511.9 L1548.9,511.6 L1549.4,511.4 L1549.9,511.1 L1550.4,510.9 L1550.9,510.6 L1551.4,510.3 L1551.9,510.1 L1552.4,509.8 L1552.9,509.6 L1553.4,509.3 L1553.9,509.0 L1554.4,508.8 L1554.9,508.5 L1555.4,508.2 L1555.9,507.9 L1556.4,507.7 L1556.9,507.4 L1557.4,507.1 L1557.9,506.8 L1558.4,506.6 L1558.9,506.3 L1559.4,506.0 L1559.9,505.7 L1560.4,505.4 L1560.9,505.1 L1561.4,504.8 L1561.9,504.6 L1562.4,504.3 L1562.9,504.0 L1563.4,503.7 L1563.9,503.3 L1564.4,503.0 L1564.9,502.7 L1565.4,502.4 L1565.9,502.0 L1566.4,501.7 L1566.9,501.3 L1567.4,501.0 L1567.9,500.6 L1568.4,500.2 L1568.9,499.8 L1569.4,499.4 L1569.9,499.0 L1570.4,498.6 L1570.9,498.1 L1571.4,497.7 L1571.9,497.3 L1572.4,496.9 L1572.9,496.4 L1573.4,496.0 L1573.9,495.6 L1574.4,495.2 L1574.9,494.7 L1575.4,494.3 L1575.9,493.9 L1576.4,493.5 L1576.9,493.1 L1577.4,492.7 L1577.9,492.3 L1578.4,491.9 L1578.9,491.5 L1579.4,491.1 L1579.9,490.8 L1580.4,490.4 L1580.9,490.1 L1581.4,489.8 L1581.9,489.4 L1582.4,489.1 L1582.9,488.8 L1583.4,488.6 L1583.9,488.3 L1584.4,488.1 L1584.9,487.9 L1585.4,487.6 L1585.9,487.5 L1586.4,487.3 L1586.9,487.1 L1587.4,487.0 L1587.9,486.8 L1588.4,486.7 L1588.9,486.5 L1589.4,486.3 L1589.9,486.2 L1590.4,486.0 L1590.9,485.9 L1591.4,485.8 L1591.9,485.6 L1592.4,485.5 L1592.9,485.4 L1593.4,485.3 L1593.9,485.2 L1594.4,485.1 L1594.9,485.0 L1595.4,485.0 L1595.9,484.9 L1596.4,484.9 L1596.9,484.9 L1597.4,484.9 L1597.9,484.9 L1598.4,484.9 L1598.9,485.0 L1599.4,485.0 L1599.9,485.1 L1600.4,485.2 L1600.9,485.3 L1601.4,485.4 L1601.9,485.5 L1602.4,485.7 L1602.9,485.8 L1603.4,486.0 L1603.9,486.1 L1604.4,486.3 L1604.9,486.5 L1605.4,486.7 L1605.9,486.8 L1606.4,487.0 L1606.9,487.2 L1607.4,487.4 L1607.9,487.6 L1608.4,487.7 L1608.9,487.9 L1609.4,488.1 L1609.9,488.3 L1610.4,488.4 L1610.9,488.6 L1611.4,488.8 L1611.9,488.9 L1612.4,489.1 L1612.9,489.3 L1613.4,489.4 L1613.9,489.6 L1614.4,489.7 L1614.9,489.8 L1615.4,490.0 L1615.9,490.1 L1616.4,490.2 L1616.9,490.3 L1617.4,490.5 L1617.9,490.6 L1618.4,490.7 L1618.9,490.8 L1619.4,490.9 L1619.9,491.1 L1620.4,491.2 L1620.9,491.3 L1621.4,491.4 L1621.9,491.6 L1622.4,491.7 L1622.9,491.8 L1623.4,491.9 L1623.9,492.1 L1624.4,492.2 L1624.9,492.3 L1625.4,492.4 L1625.9,492.5 L1626.4,492.6 L1626.9,492.8 L1627.4,492.9 L1627.9,493.0 L1628.4,493.1 L1628.9,493.2 L1629.4,493.3 L1629.9,493.4 L1630.4,493.5 L1630.9,493.6 L1631.4,493.7 L1631.9,493.8 L1632.4,493.9 L1632.9,494.0 L1633.4,494.1 L1633.9,494.2 L1634.4,494.3 L1634.9,494.4 L1635.4,494.5 L1635.9,494.6 L1636.4,494.6 L1636.9,494.7 L1637.4,494.8 L1637.9,494.9 L1638.4,494.9 L1638.9,495.0 L1639.4,495.1 L1639.9,495.1 L1640.4,495.2 L1640.9,495.2 L1641.4,495.3 L1641.9,495.3 L1642.4,495.3 L1642.9,495.4 L1643.4,495.4 L1643.9,495.4 L1644.4,495.4 L1644.9,495.4 L1645.4,495.4 L1645.9,495.4 L1646.4,495.4 L1646.9,495.4 L1647.4,495.3 L1647.9,495.3 L1648.4,495.3 L1648.9,495.2 L1649.4,495.1 L1649.9,495.1 L1650.4,495.0 L1650.9,494.9 L1651.4,494.8 L1651.9,494.7 L1652.4,494.6 L1652.9,494.5 L1653.4,494.4 L1653.9,494.3 L1654.4,494.2 L1654.9,494.1 L1655.4,494.0 L1655.9,493.8 L1656.4,493.7 L1656.9,493.6 L1657.4,493.5 L1657.9,493.3 L1658.4,493.2 L1658.9,493.0 L1659.4,492.9 L1659.9,492.8 L1660.4,492.6 L1660.9,492.5 L1661.4,492.3 L1661.9,492.2 L1662.4,492.0 L1662.9,491.8 L1663.4,491.7 L1663.9,491.5 L1664.4,491.4 L1664.9,491.2 L1665.4,491.0 L1665.9,490.8 L1666.4,490.7 L1666.9,490.5 L1667.4,490.3 L1667.9,490.1 L1668.4,490.0 L1668.9,489.8 L1669.4,489.6 L1669.9,489.4 L1670.4,489.2 L1670.9,489.0 L1671.4,488.8 L1671.9,488.6 L1672.4,488.4 L1672.9,488.1 L1673.4,487.9 L1673.9,487.7 L1674.4,487.5 L1674.9,487.2 L1675.4,487.0 L1675.9,486.8 L1676.4,486.5 L1676.9,486.3 L1677.4,486.0 L1677.9,485.8 L1678.4,485.5 L1678.9,485.3 L1679.4,485.0 L1679.9,484.8 L1680.4,484.5 L1680.9,484.2 L1681.4,484.0 L1681.9,483.7 L1682.4,483.4 L1682.9,483.2 L1683.4,482.9 L1683.9,482.6 L1684.4,482.3 L1684.9,482.0 L1685.4,481.7 L1685.9,481.5 L1686.4,481.2 L1686.9,480.9 L1687.4,480.6 L1687.9,480.3 L1688.4,480.0 L1688.9,479.7 L1689.4,479.4 L1689.9,479.0 L1690.4,478.7 L1690.9,478.4 L1691.4,478.1 L1691.9,477.8 L1692.4,477.4 L1692.9,477.1 L1693.4,476.8 L1693.9,476.5 L1694.4,476.1 L1694.9,475.8 L1695.4,475.5 L1695.9,475.1 L1696.4,474.8 L1696.9,474.4 L1697.4,474.1 L1697.9,473.7 L1698.4,473.4 L1698.9,473.0 L1699.4,472.7 L1699.9,472.3 L1700.4,472.1 L1700.9,471.9 L1701.4,471.6 L1701.9,471.4 L1702.4,471.2 L1702.9,471.0 L1703.4,470.8 L1703.9,470.6 L1704.4,470.5 L1704.9,470.3 L1705.4,470.1 L1705.9,470.0 L1706.4,469.9 L1706.9,469.8 L1707.4,469.6 L1707.9,469.5 L1708.4,469.4 L1708.9,469.4 L1709.4,469.3 L1709.9,469.2 L1710.4,469.1 L1710.9,469.1 L1711.4,469.0 L1711.9,469.0 L1712.4,468.9 L1712.9,468.9 L1713.4,468.9 L1713.9,468.9 L1714.4,468.8 L1714.9,468.8 L1715.4,468.8 L1715.9,468.8 L1716.4,468.8 L1716.9,468.8 L1717.4,468.8 L1717.9,468.9 L1718.4,468.9 L1718.9,469.0 L1719.4,469.1 L1719.9,469.2 L1720.4,469.3 L1720.9,469.5 L1721.4,469.6 L1721.9,469.8 L1722.4,470.0 L1722.9,470.2 L1723.4,470.4 L1723.9,470.6 L1724.4,470.8 L1724.9,471.0 L1725.4,471.2 L1725.9,471.5 L1726.4,471.7 L1726.9,471.9 L1727.4,472.2 L1727.9,472.4 L1728.4,472.7 L1728.9,473.0 L1729.4,473.2 L1729.9,473.5 L1730.4,473.9 L1730.9,474.3 L1731.4,474.7 L1731.9,475.1 L1732.4,475.6 L1732.9,476.1 L1733.4,476.6 L1733.9,477.1 L1734.4,477.7 L1734.9,478.3 L1735.4,478.9 L1735.9,479.5 L1736.4,480.1 L1736.9,480.7 L1737.4,481.3 L1737.9,481.9 L1738.4,482.6 L1738.9,483.2 L1739.4,483.8 L1739.9,484.5 L1740.4,485.1 L1740.9,485.7 L1741.4,486.3 L1741.9,487.0 L1742.4,487.6 L1742.9,488.3 L1743.4,489.0 L1743.9,489.6 L1744.4,490.3 L1744.9,491.0 L1745.4,491.8 L1745.9,492.5 L1746.4,493.2 L1746.9,494.0 L1747.4,494.7 L1747.9,495.4 L1748.4,496.2 L1748.9,496.9 L1749.4,497.7 L1749.9,498.5 L1750.4,499.3 L1750.9,500.1 L1751.4,500.9 L1751.9,501.7 L1752.4,502.6 L1752.9,503.4 L1753.4,504.3 L1753.9,505.1 L1754.4,506.0 L1754.9,506.8 L1755.4,507.6 L1755.9,508.4 L1756.4,509.1 L1756.9,509.9 L1757.4,510.5 L1757.9,511.2 L1758.4,511.8 L1758.9,512.4 L1759.4,513.0 L1759.9,513.6 L1760.4,514.2 L1760.9,514.7 L1761.4,515.3 L1761.9,515.8 L1762.4,516.4 L1762.9,516.9 L1763.4,517.4 L1763.9,517.9 L1764.4,518.4 L1764.9,518.9 L1765.4,519.4 L1765.9,519.9 L1766.4,520.4 L1766.9,520.9 L1767.4,521.4 L1767.9,521.9 L1768.4,522.4 L1768.9,522.8 L1769.4,523.3 L1769.9,523.8 L1770.4,524.3 L1770.9,524.7 L1771.4,525.1 L1771.9,525.6 L1772.4,526.0 L1772.9,526.4 L1773.4,526.8 L1773.9,527.2 L1774.4,527.5 L1774.9,527.9 L1775.4,528.2 L1775.9,528.5 L1776.4,528.9 L1776.9,529.2 L1777.4,529.5 L1777.9,529.8 L1778.4,530.1 L1778.9,530.4 L1779.4,530.7 L1779.9,530.9 L1780.4,531.2 L1780.9,531.5 L1781.4,531.7 L1781.9,532.0 L1782.4,532.2 L1782.9,532.4 L1783.4,532.7 L1783.9,532.9 L1784.4,533.1 L1784.9,533.4 L1785.4,533.6 L1785.9,533.8 L1786.4,534.0 L1786.9,534.2 L1787.4,534.4 L1787.9,534.6 L1788.4,534.8 L1788.9,535.0 L1789.4,535.1 L1789.9,535.3 L1790.4,535.4 L1790.9,535.6 L1791.4,535.7 L1791.9,535.8 L1792.4,536.0 L1792.9,536.1 L1793.4,536.2 L1793.9,536.3 L1794.4,536.4 L1794.9,536.6 L1795.4,536.7 L1795.9,536.8 L1796.4,536.9 L1796.9,537.0 L1797.4,537.1 L1797.9,537.2 L1798.4,537.3 L1798.9,537.4 L1799.4,537.4 L1799.9,537.5 L1800.4,537.6 L1800.9,537.7 L1801.4,537.8 L1801.9,537.9 L1802.4,538.0 L1802.9,538.1 L1803.4,538.1 L1803.9,538.2 L1804.4,538.3 L1804.9,538.4 L1805.4,538.5 L1805.9,538.6 L1806.4,538.7 L1806.9,538.8 L1807.4,538.9 L1807.9,539.0 L1808.4,539.1 L1808.9,539.2 L1809.4,539.3 L1809.9,539.4 L1810.4,539.5 L1810.9,539.6 L1811.4,539.7 L1811.9,539.8 L1812.4,539.9 L1812.9,540.1 L1813.4,540.2 L1813.9,540.3 L1814.4,540.4 L1814.9,540.5 L1815.4,540.6 L1815.9,540.6 L1816.4,540.7 L1816.9,540.8 L1817.4,540.8 L1817.9,540.9 L1818.4,540.9 L1818.9,541.0 L1819.4,541.0 L1819.9,541.0 L1820.4,541.0 L1820.9,541.0 L1821.4,541.0 L1821.9,541.0 L1822.4,541.0 L1822.9,541.0 L1823.4,541.0 L1823.9,541.0 L1824.4,541.0 L1824.9,541.0 L1825.4,541.0 L1825.9,541.0 L1826.4,541.0 L1826.9,541.0 L1827.4,541.0 L1827.9,541.0 L1828.4,541.0 L1828.9,541.0 L1829.4,541.0 L1829.9,541.0 L1830.4,541.0 L1830.9,541.0 L1831.4,541.0 L1831.9,541.0 L1832.4,540.9 L1832.9,540.9 L1833.4,540.9 L1833.9,540.9 L1834.4,540.9 L1834.9,540.9 L1835.4,540.9 L1835.9,540.9 L1836.4,540.9 L1836.9,540.9 L1837.4,540.9 L1837.9,540.9 L1838.4,540.9 L1838.9,540.9 L1839.4,540.9 L1839.9,540.9 L1840.4,540.9 L1840.9,540.9 L1841.4,540.9 L1841.9,540.8 L1842.4,540.8 L1842.9,540.8 L1843.4,540.8 L1843.9,540.8 L1844.4,540.8 L1844.9,540.8 L1845.4,540.8 L1845.9,540.8 L1846.4,540.8 L1846.9,540.8 L1847.4,540.8 L1847.9,540.8 L1848.4,540.8 L1848.9,540.7 L1849.4,540.7 L1849.9,540.7 L1850.4,540.7 L1850.9,540.7 L1851.4,540.7 L1851.9,540.7 L1852.4,540.7 L1852.9,540.7 L1853.4,540.7 L1853.9,540.7 L1854.4,540.7 L1854.9,540.6 L1855.4,540.6 L1855.9,540.6 L1856.4,540.6 L1856.9,540.6 L1857.4,540.6 L1857.9,540.6 L1858.4,540.6 L1858.9,540.6 L1859.4,540.5 L1859.9,540.5 L1860.4,540.5 L1860.9,540.5 L1861.4,540.5 L1861.9,540.4 L1862.4,540.4 L1862.9,540.4 L1863.4,540.4 L1863.9,540.3 L1864.4,540.3 L1864.9,540.3 L1865.4,540.3 L1865.9,540.2 L1866.4,540.2 L1866.9,540.2 L1867.4,540.1 L1867.9,540.1 L1868.4,540.1 L1868.9,540.0 L1869.4,540.0 L1869.9,539.9 L1870.4,539.9 L1870.9,539.9 L1871.4,539.8 L1871.9,539.8 L1872.4,539.7 L1872.9,539.7 L1873.4,539.6 L1873.9,539.6 L1874.4,539.5 L1874.9,539.5 L1875.4,539.4 L1875.9,539.4 L1876.4,539.3 L1876.9,539.3 L1877.4,539.2 L1877.9,539.2 L1878.4,539.1 L1878.9,539.0 L1879.4,539.0 L1879.9,538.9 L1880.4,538.9 L1880.9,538.8 L1881.4,538.7 L1881.9,538.7 L1882.4,538.6 L1882.9,538.5 L1883.4,538.5 L1883.9,538.4 L1884.4,538.3 L1884.9,538.3 L1885.4,538.2 L1885.9,538.1 L1886.4,538.1 L1886.9,538.0 L1887.4,537.9 L1887.9,537.9 L1888.4,537.8 L1888.9,537.7 L1889.4,537.6 L1889.9,537.6 L1890.4,537.5 L1890.9,537.4 L1891.4,537.3 L1891.9,537.2 L1892.4,537.2 L1892.9,537.1 L1893.4,537.0 L1893.9,536.9 L1894.4,536.9 L1894.9,536.8 L1895.4,536.7 L1895.9,536.6 L1896.4,536.5 L1896.9,536.4 L1897.4,536.3 L1897.9,536.2 L1898.4,536.1 L1898.9,535.9 L1899.4,535.8 L1899.9,535.7 L1900.4,535.6 L1900.9,535.4 L1901.4,535.3 L1901.9,535.1 L1902.4,535.0 L1902.9,534.9 L1903.4,534.7 L1903.9,534.5 L1904.4,534.4 L1904.9,534.2 L1905.4,534.1 L1905.9,533.9 L1906.4,533.7 L1906.9,533.5 L1907.4,533.3 L1907.9,533.2 L1908.4,533.0 L1908.9,532.8 L1909.4,532.6 L1909.9,532.4 L1910.4,532.2 L1910.9,532.0 L1911.4,531.8 L1911.9,531.6 L1912.4,531.4 L1912.9,531.1 L1913.4,530.9 L1913.9,530.7 L1914.4,530.5 L1914.9,530.2 L1915.4,530.0 L1915.9,529.8 L1916.4,529.5 L1916.9,529.3 L1917.4,529.0 L1917.9,528.8 L1918.4,528.6 L1918.9,528.3 L1919.4,528.0 L1919.9,527.8 L1920.4,527.5 L1920.9,527.2 L1921.4,526.9 L1921.9,526.6 L1922.4,526.3 L1922.9,526.0 L1923.4,525.6 L1923.9,525.3 L1924.4,524.9 L1924.9,524.6 L1925.4,524.2 L1925.9,523.8 L1926.4,523.4 L1926.9,523.0 L1927.4,522.6 L1927.9,522.2 L1928.4,521.7 L1928.9,521.3 L1929.4,520.8 L1929.9,520.4 L1930.4,519.9 L1930.9,519.4 L1931.4,518.9 L1931.9,518.4 L1932.4,517.9 L1932.9,517.4 L1933.4,516.9 L1933.9,516.3 L1934.4,515.8 L1934.9,515.2 L1935.4,514.6 L1935.9,514.0 L1936.4,513.4 L1936.9,512.8 L1937.4,512.2 L1937.9,511.6 L1938.4,510.9 L1938.9,510.1 L1939.4,509.3 L1939.9,508.5 L1940.4,507.7 L1940.9,506.8 L1941.4,505.8 L1941.9,504.9 L1942.4,503.9 L1942.9,502.9 L1943.4,501.8 L1943.9,500.8 L1944.4,499.7 L1944.9,498.6 L1945.4,497.4 L1945.9,496.3 L1946.4,495.2 L1946.9,494.0 L1947.4,492.9 L1947.9,491.7 L1948.4,490.5 L1948.9,489.4 L1949.4,488.2 L1949.9,487.0 L1950.4,485.8 L1950.9,484.5 L1951.4,483.1 L1951.9,481.7 L1952.4,480.3 L1952.9,478.8 L1953.4,477.4 L1953.9,475.9 L1954.4,474.5 L1954.9,473.1 L1955.4,471.8 L1955.9,470.5 L1956.4,469.3 L1956.9,468.2 L1957.4,467.2 L1957.9,466.1 L1958.4,465.0 L1958.9,464.0 L1959.4,463.1 L1959.9,462.2 L1960.4,461.6 L1960.9,461.1 L1961.4,460.7 L1961.9,460.4 L1962.4,460.1 L1962.9,459.9 L1963.4,459.7 L1963.9,459.5 L1964.4,459.5 L1964.9,459.6 L1965.4,459.7 L1965.9,459.9 L1966.4,460.2 L1966.9,460.6 L1967.4,460.9 L1967.9,461.3 L1968.4,461.8 L1968.9,462.5 L1969.4,463.2 L1969.9,464.0 L1970.4,464.8 L1970.9,465.7 L1971.4,466.7 L1971.9,467.8 L1972.4,469.1 L1972.9,470.5 L1973.4,472.0 L1973.9,473.6 L1974.4,475.2 L1974.9,476.9 L1975.4,478.6 L1975.9,480.3 L1976.4,482.1 L1976.9,483.8 L1977.4,485.7 L1977.9,487.7 L1978.4,489.8 L1978.9,491.9 L1979.4,494.0 L1979.9,496.1 L1980.4,498.2 L1980.9,500.2 L1981.4,502.1 L1981.9,504.0 L1982.4,505.7 L1982.9,507.4 L1983.4,509.0 L1983.9,510.7 L1984.4,512.3 L1984.9,513.9 L1985.4,515.4 L1985.9,516.8 L1986.4,518.2 L1986.9,519.4 L1987.4,520.6 L1987.9,521.7 L1988.4,522.7 L1988.9,523.7 L1989.4,524.8 L1989.9,525.7 L1990.4,526.7 L1990.9,527.6 L1991.4,528.5 L1991.9,529.3 L1992.4,530.2 L1992.9,530.9 L1993.4,531.7 L1993.9,532.4 L1994.4,533.1 L1994.9,533.7 L1995.4,534.3 L1995.9,534.8 L1996.4,535.3 L1996.9,535.8 L1997.4,536.2 L1997.9,536.7 L1998.4,537.1 L1998.9,537.6 L1999.4,538.0 L1999.9,538.4 L2000.4,538.8 L2000.9,539.2 L2001.4,539.5 L2001.9,539.9 L2002.4,540.2 L2002.9,540.6 L2003.4,540.9 L2003.9,541.2 L2004.4,541.5 L2004.9,541.8 L2005.4,542.1 L2005.9,542.3 L2006.4,542.6 L2006.9,542.8 L2007.4,543.0 L2007.9,543.3 L2008.4,543.5 L2008.9,543.6 L2009.4,543.8 L2009.9,544.0 L2010.4,544.1 L2010.9,544.3 L2011.4,544.4 L2011.9,544.6 L2012.4,544.7 L2012.9,544.9 L2013.4,545.0 L2013.9,545.1 L2014.4,545.3 L2014.9,545.4 L2015.4,545.5 L2015.9,545.7 L2016.4,545.8 L2016.9,545.9 L2017.4,546.0 L2017.9,546.2 L2018.4,546.3 L2018.9,546.4 L2019.4,546.5 L2019.9,546.6 L2020.4,546.7 L2020.9,546.8 L2021.4,546.9 L2021.9,547.0 L2022.4,547.1 L2022.9,547.2 L2023.4,547.3 L2023.9,547.4 L2024.4,547.4 L2024.9,547.5 L2025.4,547.6 L2025.9,547.6 L2026.4,547.7 L2026.9,547.8 L2027.4,547.8 L2027.9,547.9 L2028.4,547.9 L2028.9,548.0 L2029.4,548.0 L2029.9,548.1 L2030.4,548.1 L2030.9,548.2 L2031.4,548.2 L2031.9,548.2 L2032.4,548.3 L2032.9,548.3 L2033.4,548.3 L2033.9,548.4 L2034.4,548.4 L2034.9,548.4 L2035.4,548.4 L2035.9,548.5 L2036.4,548.5 L2036.9,548.5 L2037.4,548.6 L2037.9,548.6 L2038.4,548.6 L2038.9,548.6 L2039.4,548.7 L2039.9,548.7 L2040.4,548.7 L2040.9,548.7 L2041.4,548.8 L2041.9,548.8 L2042.4,548.8 L2042.9,548.8 L2043.4,548.9 L2043.9,548.9 L2044.4,548.9 L2044.9,548.9 L2045.4,549.0 L2045.9,549.0 L2046.4,549.0 L2046.9,549.0 L2047.4,549.1 L2047.9,549.1 L2048.4,549.1 L2048.9,549.1 L2049.4,549.1 L2049.9,549.2 L2050.4,549.2 L2050.9,549.2 L2051.4,549.2 L2051.9,549.2 L2052.4,549.3 L2052.9,549.3 L2053.4,549.3 L2053.9,549.3 L2054.4,549.3 L2054.9,549.4 L2055.4,549.4 L2055.9,549.4 L2056.4,549.4 L2056.9,549.4 L2057.4,549.4 L2057.9,549.5 L2058.4,549.5 L2058.9,549.5 L2059.4,549.5 L2059.9,549.5 L2060.4,549.5 L2060.9,549.6 L2061.4,549.6 L2061.9,549.6 L2062.4,549.6 L2062.9,549.6 L2063.4,549.6 L2063.9,549.7 L2064.4,549.7 L2064.9,549.7 L2065.4,549.7 L2065.9,549.7 L2066.4,549.7 L2066.9,549.7 L2067.4,549.7 L2067.9,549.8 L2068.4,549.8 L2068.9,549.8 L2069.4,549.8 L2069.9,549.8 L2070.4,549.8 L2070.9,549.8 L2071.4,549.9 L2071.9,549.9 L2072.4,549.9 L2072.9,549.9 L2073.4,549.9 L2073.9,549.9 L2074.4,549.9 L2074.9,549.9 L2075.4,549.9 L2075.9,550.0 L2076.4,550.0 L2076.9,550.0 L2077.4,550.0 L2077.9,550.0 L2078.4,550.0 L2078.9,550.0 L2079.4,550.0 L2079.9,550.0 L2080.4,550.1 L2080.9,550.1 L2081.4,550.1 L2081.9,550.1 L2082.4,550.1 L2082.9,550.1 L2083.4,550.1 L2083.9,550.1 L2084.4,550.1 L2084.9,550.1 L2085.4,550.2 L2085.9,550.2 L2086.4,550.2 L2086.9,550.2 L2087.4,550.2 L2087.9,550.2 L2088.4,550.2 L2088.9,550.2 L2089.4,550.2 L2089.9,550.2 L2090.4,550.2 L2090.9,550.2 L2091.4,550.3 L2091.9,550.3 L2092.4,550.3 L2092.9,550.3 L2093.4,550.3 L2093.9,550.3 L2094.4,550.3 L2094.9,550.3 L2095.4,550.3 L2095.9,550.3 L2096.4,550.3 L2096.9,550.3 L2097.4,550.4 L2097.9,550.4 L2098.4,550.4 L2098.9,550.4 L2099.4,550.4 L2099.9,550.4 L2100.4,550.4 L2100.9,550.4 L2101.4,550.4 L2101.9,550.4 L2102.4,550.4 L2102.9,550.4 L2103.4,550.5 L2103.9,550.5 L2104.4,550.5 L2104.9,550.5 L2105.4,550.5 L2105.9,550.5 L2106.4,550.5 L2106.9,550.5 L2107.4,550.5 L2107.9,550.5 L2108.4,550.5 L2108.9,550.5 L2109.4,550.6 L2109.9,550.6 L2110.4,550.6 L2110.9,550.6 L2111.4,550.6 L2111.9,550.6 L2112.4,550.6 L2112.9,550.6 L2113.4,550.6 L2113.9,550.6 L2114.4,550.6 L2114.9,550.6 L2115.4,550.6 L2115.9,550.7 L2116.4,550.7 L2116.9,550.7 L2117.4,550.7 L2117.9,550.7 L2118.4,550.7 L2118.9,550.7 L2119.4,550.7 L2119.9,550.7 L2120.4,550.7 L2120.9,550.7 L2121.4,550.7 L2121.9,550.7 L2122.4,550.8 L2122.9,550.8 L2123.4,550.8 L2123.9,550.8 L2124.4,550.8 L2124.9,550.8 L2125.4,550.8 L2125.9,550.8 L2126.4,550.8 L2126.9,550.8 L2127.4,550.8 L2127.9,550.8 L2128.4,550.8 L2128.9,550.9 L2129.4,550.9 L2129.9,550.9 L2130.4,550.9 L2130.9,550.9 L2131.4,550.9 L2131.9,550.9 L2132.4,550.9 L2132.9,550.9 L2133.4,550.9 L2133.9,550.9 L2134.4,550.9 L2134.9,550.9 L2135.4,550.9 L2135.9,551.0 L2136.4,551.0 L2136.9,551.0 L2137.4,551.0 L2137.9,551.0 L2138.4,551.0 L2138.9,551.0 L2139.4,551.0 L2139.9,551.0 L2140.4,551.0 L2140.9,551.0 L2141.4,551.0 L2141.9,551.0 L2142.4,551.1 L2142.9,551.1 L2143.4,551.1 L2143.9,551.1 L2144.4,551.1 L2144.9,551.1 L2145.4,551.1 L2145.9,551.1 L2146.4,551.1 L2146.9,551.1 L2147.4,551.1 L2147.9,551.1 L2148.4,551.1 L2148.9,551.1 L2149.4,551.2 L2149.9,551.2 L2150.4,551.2 L2150.9,551.2 L2151.4,551.2 L2151.9,551.2 L2152.4,551.2 L2152.9,551.2 L2153.4,551.2 L2153.9,551.2 L2154.4,551.2 L2154.9,551.2 L2155.4,551.2 L2155.9,551.2 L2156.4,551.3 L2156.9,551.3 L2157.4,551.3 L2157.9,551.3 L2158.4,551.3 L2158.9,551.3 L2159.4,551.3 L2159.9,551.3 L2160.4,551.3 L2160.9,551.3 L2161.4,551.3 L2161.9,551.3 L2162.4,551.3 L2162.9,551.3 L2163.4,551.3 L2163.9,551.4 L2164.4,551.4 L2164.9,551.4 L2165.4,551.4 L2165.9,551.4 L2166.4,551.4 L2166.9,551.4 L2167.4,551.4 L2167.9,551.4 L2168.4,551.4 L2168.9,551.4 L2169.4,551.4 L2169.9,551.4 L2170.4,551.4 L2170.9,551.5 L2171.4,551.5 L2171.9,551.5 L2172.4,551.5 L2172.9,551.5 L2173.4,551.5 L2173.9,551.5 L2174.4,551.5 L2174.9,551.5 L2175.4,551.5 L2175.9,551.5 L2176.4,551.5 L2176.9,551.5 L2177.4,551.5 L2177.9,551.5 L2178.4,551.6 L2178.9,551.6 L2179.4,551.6 L2179.9,551.6 L2180.4,551.6 L2180.9,551.6 L2181.4,551.6 L2181.9,551.6 L2182.4,551.6 L2182.9,551.6 L2183.4,551.6 L2183.9,551.6 L2184.4,551.6 L2184.9,551.6 L2185.4,551.6 L2185.9,551.6 L2186.4,551.7 L2186.9,551.7 L2187.4,551.7 L2187.9,551.7 L2188.4,551.7 L2188.9,551.7 L2189.4,551.7 L2189.9,551.7 L2190.4,551.7 L2190.9,551.7 L2191.4,551.7 L2191.9,551.7 L2192.4,551.7 L2192.9,551.7 L2193.4,551.7 L2193.9,551.7 L2194.4,551.8 L2194.9,551.8 L2195.4,551.8 L2195.9,551.8 L2196.4,551.8 L2196.9,551.8 L2197.4,551.8 L2197.9,551.8 L2198.4,551.8 L2198.9,551.8 L2199.4,551.8 L2199.9,551.8 L2200.4,551.8 L2200.9,551.8 L2201.4,551.8 L2201.9,551.8 L2202.4,551.8 L2202.9,551.9 L2203.4,551.9 L2203.9,551.9 L2204.4,551.9 L2204.9,551.9 L2205.4,551.9 L2205.9,551.9 L2206.4,551.9 L2206.9,551.9 L2207.4,551.9 L2207.9,551.9 L2208.4,551.9 L2208.9,551.9 L2209.4,551.9 L2209.9,551.9 L2210.4,551.9 L2210.9,551.9 L2211.4,552.0 L2211.9,552.0 L2212.4,552.0 L2212.9,552.0 L2213.4,552.0 L2213.9,552.0 L2214.4,552.0 L2214.9,552.0 L2215.4,552.0 L2215.9,552.0 L2216.4,552.0 L2216.9,552.0 L2217.4,552.0 L2217.9,552.0 L2218.4,552.0 L2218.9,552.0 L2219.4,552.0 L2219.9,552.0 L2220.4,552.1 L2220.9,552.1 L2221.4,552.1 L2221.9,552.1 L2222.4,552.1 L2222.9,552.1 L2223.4,552.1 L2223.9,552.1 L2224.4,552.1 L2224.9,552.1 L2225.4,552.1 L2225.9,552.1 L2226.4,552.1 L2226.9,552.1 L2227.4,552.1 L2227.9,552.1 L2228.4,552.1 L2228.9,552.1 L2229.4,552.2 L2229.9,552.2 L2230.4,552.2 L2230.9,552.2 L2231.4,552.2 L2231.9,552.2 L2232.4,552.2 L2232.9,552.2 L2233.4,552.2 L2233.9,552.2 L2234.4,552.2 L2234.9,552.2 L2235.4,552.2 L2235.9,552.2 L2236.4,552.2 L2236.9,552.2 L2237.4,552.2 L2237.9,552.2 L2238.4,552.2 L2238.9,552.2 L2239.4,552.3 L2239.9,552.3 L2240.4,552.3 L2240.9,552.3 L2241.4,552.3 L2241.9,552.3 L2242.4,552.3 L2242.9,552.3 L2243.4,552.3 L2243.9,552.3 L2244.4,552.3 L2244.9,552.3 L2245.4,552.3 L2245.9,552.3 L2246.4,552.3 L2246.9,552.3 L2247.4,552.3 L2247.9,552.3 L2248.4,552.3 L2248.9,552.3 L2249.4,552.3 L2249.9,552.4 L2250.4,552.4 L2250.9,552.4 L2251.4,552.4 L2251.9,552.4 L2252.4,552.4 L2252.9,552.4 L2253.4,552.4 L2253.9,552.4 L2254.4,552.4 L2254.9,552.4 L2255.4,552.4 L2255.9,552.4 L2256.4,552.4 L2256.9,552.4 L2257.4,552.4 L2257.9,552.4 L2258.4,552.4 L2258.9,552.4 L2259.4,552.4 L2259.9,552.4 L2260.4,552.4 L2260.9,552.5 L2261.4,552.5 L2261.9,552.5 L2262.4,552.5 L2262.9,552.5 L2263.4,552.5 L2263.9,552.5 L2264.4,552.5 L2264.9,552.5 L2265.4,552.5 L2265.9,552.5 L2266.4,552.5 L2266.9,552.5 L2267.4,552.5 L2267.9,552.5 L2268.4,552.5 L2268.9,552.5 L2269.4,552.5 L2269.9,552.5 L2270.4,552.5 L2270.9,552.5 L2271.4,552.5 L2271.9,552.5 L2272.4,552.5 L2272.9,552.6 L2273.4,552.6 L2273.9,552.6 L2274.4,552.6 L2274.9,552.6 L2275.4,552.6 L2275.9,552.6 L2276.4,552.6 L2276.9,552.6 L2277.4,552.6 L2277.9,552.6 L2278.4,552.6 L2278.9,552.6 L2279.4,552.6 L2279.9,552.6 L2280.4,552.6 L2280.9,552.6 L2281.4,552.6 L2281.9,552.6 L2282.4,552.6 L2282.9,552.6 L2283.4,552.6 L2283.9,552.6 L2284.4,552.6 L2284.9,552.6 L2285.4,552.6 L2285.9,552.6 L2286.4,552.7 L2286.9,552.7 L2287.4,552.7 L2287.9,552.7 L2288.4,552.7 L2288.9,552.7 L2289.4,552.7 L2289.9,552.7 L2290.4,552.7 L2290.9,552.7 L2291.4,552.7 L2291.9,552.7 L2292.4,552.7 L2292.9,552.7 L2293.4,552.7 L2293.9,552.7 L2294.4,552.7 L2294.9,552.7 L2295.4,552.7 L2295.9,552.7 L2296.4,552.7 L2296.9,552.7 L2297.4,552.7 L2297.9,552.7 L2298.4,552.7 L2298.9,552.7 L2299.4,552.7 L2299.9,552.7 L2300.4,552.7 L2300.9,552.7 L2301.4,552.7 L2301.9,552.8 L2302.4,552.8 L2302.9,552.8 L2303.4,552.8 L2303.9,552.8 L2304.4,552.8 L2304.9,552.8 L2305.4,552.8 L2305.9,552.8 L2306.4,552.8 L2306.9,552.8 L2307.4,552.8 L2307.9,552.8 L2308.4,552.8 L2308.9,552.8 L2309.4,552.8 L2309.9,552.8 L2310.4,552.8 L2310.9,552.8 L2311.4,552.8 L2311.9,552.8 L2312.4,552.8 L2312.9,552.8 L2313.4,552.8 L2313.9,552.8 L2314.4,552.8 L2314.9,552.8 L2315.4,552.8 L2315.9,552.8 L2316.4,552.8 L2316.9,552.8 L2317.4,552.8 L2317.9,552.8 L2318.4,552.8 L2318.9,552.8 L2319.4,552.8 L2319.9,552.8 L2320.4,552.9 L2320.9,552.9 L2321.4,552.9 L2321.9,552.9 L2322.4,552.9 L2322.9,552.9 L2323.4,552.9 L2323.9,552.9 L2324.4,552.9 L2324.9,552.9 L2325.4,552.9 L2325.9,552.9 L2326.4,552.9 L2326.9,552.9 L2327.4,552.9 L2327.9,552.9 L2328.4,552.9 L2328.9,552.9 L2329.4,552.9 L2329.9,552.9 L2330.4,552.9 L2330.9,552.9 L2331.4,552.9 L2331.9,552.9 L2332.4,552.9 L2332.9,552.9 L2333.4,552.9 L2333.9,552.9 L2334.4,552.9 L2334.9,552.9 L2335.4,552.9 L2335.9,552.9 L2336.4,552.9 L2336.9,552.9 L2337.4,552.9 L2337.9,552.9 L2338.4,552.9 L2338.9,552.9 L2339.4,552.9 L2339.9,552.9 L2340.4,552.9 L2340.9,552.9 L2341.4,552.9 L2341.9,552.9 L2342.4,552.9 L2342.9,552.9 L2343.4,552.9 L2343.9,552.9 L2344.4,552.9 L2344.9,552.9 L2345.4,552.9 L2345.9,552.9 L2346.4,552.9 L2346.9,553.0 L2347.4,553.0 L2347.9,553.0 L2348.4,553.0 L2348.9,553.0 L2349.4,553.0 L2349.9,553.0 L2350.4,553.0 L2350.9,553.0 L2351.4,553.0 L2351.9,553.0 L2352.4,553.0 L2352.9,553.0 L2353.4,553.0 L2353.9,553.0 L2354.4,553.0 L2354.9,553.0 L2355.4,553.0 L2355.9,553.0 L2356.4,553.0 L2356.9,553.0 L2357.4,553.0 L2357.9,553.0 L2358.4,553.0 L2358.9,553.0 L2359.4,553.0 L2359.9,553.0 L2360.4,553.0 L2360.9,553.0 L2361.4,553.0 L2361.9,553.0 L2362.4,553.0 L2362.9,553.0 L2363.4,553.0 L2363.9,553.0 L2364.4,553.0 L2364.9,553.0 L2365.4,553.0 L2365.9,553.0 L2366.4,553.0 L2366.9,553.0 L2367.4,553.0 L2367.9,553.0 L2368.4,553.0 L2368.9,553.0 L2369.4,553.0 L2369.9,553.0 L2370.4,553.0 L2370.9,553.0 L2371.4,553.0 L2371.9,553.0 L2372.4,553.0 L2372.9,553.0 L2373.4,553.0 L2373.9,553.0 L2374.4,553.0 L2374.9,553.0 L2375.4,553.0 L2375.9,553.0 L2376.4,553.0 L2376.9,553.0 L2377.4,553.0 L2377.9,553.0 L2378.4,553.0 L2378.9,553.0 L2379.4,553.0 L2379.9,553.0 L2380.4,553.0 L2380.9,553.0" fill="none" stroke="#5ec962" stroke-width="3.8" stroke-linejoin="round" stroke-linecap="butt"/>
<path d="M1400.4,546.3 L1400.9,546.3 L1401.4,546.3 L1401.9,546.3 L1402.4,546.3 L1402.9,546.3 L1403.4,546.3 L1403.9,546.3 L1404.4,546.3 L1404.9,546.3 L1405.4,546.3 L1405.9,546.2 L1406.4,546.2 L1406.9,546.2 L1407.4,546.2 L1407.9,546.2 L1408.4,546.2 L1408.9,546.2 L1409.4,546.1 L1409.9,546.1 L1410.4,546.1 L1410.9,546.1 L1411.4,546.1 L1411.9,546.1 L1412.4,546.0 L1412.9,546.0 L1413.4,546.0 L1413.9,546.0 L1414.4,546.0 L1414.9,545.9 L1415.4,545.9 L1415.9,545.9 L1416.4,545.9 L1416.9,545.8 L1417.4,545.8 L1417.9,545.8 L1418.4,545.8 L1418.9,545.7 L1419.4,545.7 L1419.9,545.7 L1420.4,545.7 L1420.9,545.6 L1421.4,545.6 L1421.9,545.6 L1422.4,545.5 L1422.9,545.5 L1423.4,545.5 L1423.9,545.4 L1424.4,545.4 L1424.9,545.4 L1425.4,545.4 L1425.9,545.3 L1426.4,545.3 L1426.9,545.3 L1427.4,545.2 L1427.9,545.2 L1428.4,545.2 L1428.9,545.1 L1429.4,545.1 L1429.9,545.1 L1430.4,545.0 L1430.9,545.0 L1431.4,545.0 L1431.9,544.9 L1432.4,544.9 L1432.9,544.8 L1433.4,544.8 L1433.9,544.8 L1434.4,544.7 L1434.9,544.7 L1435.4,544.6 L1435.9,544.6 L1436.4,544.5 L1436.9,544.4 L1437.4,544.4 L1437.9,544.3 L1438.4,544.3 L1438.9,544.2 L1439.4,544.1 L1439.9,544.1 L1440.4,544.0 L1440.9,544.0 L1441.4,543.9 L1441.9,543.8 L1442.4,543.8 L1442.9,543.7 L1443.4,543.6 L1443.9,543.5 L1444.4,543.5 L1444.9,543.4 L1445.4,543.3 L1445.9,543.2 L1446.4,543.2 L1446.9,543.1 L1447.4,543.0 L1447.9,542.9 L1448.4,542.9 L1448.9,542.8 L1449.4,542.7 L1449.9,542.6 L1450.4,542.5 L1450.9,542.5 L1451.4,542.4 L1451.9,542.3 L1452.4,542.2 L1452.9,542.1 L1453.4,542.0 L1453.9,542.0 L1454.4,541.9 L1454.9,541.8 L1455.4,541.7 L1455.9,541.6 L1456.4,541.5 L1456.9,541.4 L1457.4,541.4 L1457.9,541.3 L1458.4,541.2 L1458.9,541.1 L1459.4,541.0 L1459.9,540.9 L1460.4,540.8 L1460.9,540.7 L1461.4,540.6 L1461.9,540.5 L1462.4,540.4 L1462.9,540.3 L1463.4,540.2 L1463.9,540.1 L1464.4,540.0 L1464.9,539.9 L1465.4,539.8 L1465.9,539.7 L1466.4,539.6 L1466.9,539.5 L1467.4,539.4 L1467.9,539.3 L1468.4,539.1 L1468.9,539.0 L1469.4,538.9 L1469.9,538.8 L1470.4,538.7 L1470.9,538.5 L1471.4,538.4 L1471.9,538.3 L1472.4,538.2 L1472.9,538.1 L1473.4,537.9 L1473.9,537.8 L1474.4,537.7 L1474.9,537.6 L1475.4,537.4 L1475.9,537.3 L1476.4,537.2 L1476.9,537.0 L1477.4,536.9 L1477.9,536.8 L1478.4,536.7 L1478.9,536.5 L1479.4,536.4 L1479.9,536.3 L1480.4,536.2 L1480.9,536.1 L1481.4,535.9 L1481.9,535.8 L1482.4,535.7 L1482.9,535.6 L1483.4,535.4 L1483.9,535.3 L1484.4,535.2 L1484.9,535.1 L1485.4,535.0 L1485.9,534.9 L1486.4,534.7 L1486.9,534.6 L1487.4,534.5 L1487.9,534.4 L1488.4,534.3 L1488.9,534.2 L1489.4,534.1 L1489.9,534.0 L1490.4,533.9 L1490.9,533.8 L1491.4,533.7 L1491.9,533.6 L1492.4,533.5 L1492.9,533.4 L1493.4,533.3 L1493.9,533.2 L1494.4,533.1 L1494.9,533.0 L1495.4,532.9 L1495.9,532.8 L1496.4,532.7 L1496.9,532.6 L1497.4,532.5 L1497.9,532.4 L1498.4,532.3 L1498.9,532.2 L1499.4,532.1 L1499.9,532.0 L1500.4,531.9 L1500.9,531.8 L1501.4,531.7 L1501.9,531.6 L1502.4,531.5 L1502.9,531.4 L1503.4,531.3 L1503.9,531.2 L1504.4,531.1 L1504.9,531.0 L1505.4,530.9 L1505.9,530.8 L1506.4,530.7 L1506.9,530.6 L1507.4,530.4 L1507.9,530.3 L1508.4,530.2 L1508.9,530.1 L1509.4,530.0 L1509.9,529.8 L1510.4,529.7 L1510.9,529.6 L1511.4,529.4 L1511.9,529.3 L1512.4,529.2 L1512.9,529.0 L1513.4,528.9 L1513.9,528.7 L1514.4,528.6 L1514.9,528.4 L1515.4,528.3 L1515.9,528.1 L1516.4,528.0 L1516.9,527.8 L1517.4,527.7 L1517.9,527.5 L1518.4,527.3 L1518.9,527.2 L1519.4,527.0 L1519.9,526.8 L1520.4,526.7 L1520.9,526.5 L1521.4,526.3 L1521.9,526.1 L1522.4,525.9 L1522.9,525.7 L1523.4,525.5 L1523.9,525.3 L1524.4,525.1 L1524.9,524.9 L1525.4,524.7 L1525.9,524.4 L1526.4,524.2 L1526.9,524.0 L1527.4,523.8 L1527.9,523.5 L1528.4,523.3 L1528.9,523.0 L1529.4,522.8 L1529.9,522.6 L1530.4,522.3 L1530.9,522.1 L1531.4,521.8 L1531.9,521.6 L1532.4,521.3 L1532.9,521.1 L1533.4,520.8 L1533.9,520.6 L1534.4,520.3 L1534.9,520.1 L1535.4,519.8 L1535.9,519.6 L1536.4,519.3 L1536.9,519.0 L1537.4,518.8 L1537.9,518.5 L1538.4,518.3 L1538.9,518.0 L1539.4,517.8 L1539.9,517.5 L1540.4,517.3 L1540.9,517.0 L1541.4,516.8 L1541.9,516.5 L1542.4,516.3 L1542.9,516.0 L1543.4,515.8 L1543.9,515.5 L1544.4,515.3 L1544.9,515.0 L1545.4,514.8 L1545.9,514.5 L1546.4,514.3 L1546.9,514.0 L1547.4,513.8 L1547.9,513.5 L1548.4,513.3 L1548.9,513.0 L1549.4,512.8 L1549.9,512.5 L1550.4,512.3 L1550.9,512.0 L1551.4,511.7 L1551.9,511.5 L1552.4,511.2 L1552.9,511.0 L1553.4,510.7 L1553.9,510.4 L1554.4,510.2 L1554.9,509.9 L1555.4,509.7 L1555.9,509.4 L1556.4,509.1 L1556.9,508.9 L1557.4,508.6 L1557.9,508.3 L1558.4,508.0 L1558.9,507.8 L1559.4,507.5 L1559.9,507.2 L1560.4,506.9 L1560.9,506.6 L1561.4,506.3 L1561.9,506.1 L1562.4,505.8 L1562.9,505.5 L1563.4,505.2 L1563.9,504.9 L1564.4,504.6 L1564.9,504.3 L1565.4,503.9 L1565.9,503.6 L1566.4,503.3 L1566.9,502.9 L1567.4,502.5 L1567.9,502.1 L1568.4,501.8 L1568.9,501.4 L1569.4,501.0 L1569.9,500.6 L1570.4,500.2 L1570.9,499.7 L1571.4,499.3 L1571.9,498.9 L1572.4,498.5 L1572.9,498.1 L1573.4,497.6 L1573.9,497.2 L1574.4,496.8 L1574.9,496.4 L1575.4,496.0 L1575.9,495.6 L1576.4,495.2 L1576.9,494.8 L1577.4,494.4 L1577.9,494.0 L1578.4,493.6 L1578.9,493.2 L1579.4,492.9 L1579.9,492.5 L1580.4,492.2 L1580.9,491.8 L1581.4,491.5 L1581.9,491.2 L1582.4,490.9 L1582.9,490.6 L1583.4,490.4 L1583.9,490.1 L1584.4,489.9 L1584.9,489.7 L1585.4,489.5 L1585.9,489.3 L1586.4,489.2 L1586.9,489.0 L1587.4,488.9 L1587.9,488.7 L1588.4,488.6 L1588.9,488.4 L1589.4,488.3 L1589.9,488.2 L1590.4,488.0 L1590.9,487.9 L1591.4,487.8 L1591.9,487.7 L1592.4,487.6 L1592.9,487.5 L1593.4,487.4 L1593.9,487.3 L1594.4,487.2 L1594.9,487.1 L1595.4,487.1 L1595.9,487.1 L1596.4,487.0 L1596.9,487.0 L1597.4,487.0 L1597.9,487.0 L1598.4,487.0 L1598.9,487.1 L1599.4,487.1 L1599.9,487.2 L1600.4,487.3 L1600.9,487.4 L1601.4,487.5 L1601.9,487.6 L1602.4,487.7 L1602.9,487.9 L1603.4,488.0 L1603.9,488.2 L1604.4,488.3 L1604.9,488.5 L1605.4,488.7 L1605.9,488.8 L1606.4,489.0 L1606.9,489.2 L1607.4,489.4 L1607.9,489.6 L1608.4,489.7 L1608.9,489.9 L1609.4,490.1 L1609.9,490.3 L1610.4,490.5 L1610.9,490.7 L1611.4,490.8 L1611.9,491.0 L1612.4,491.2 L1612.9,491.3 L1613.4,491.5 L1613.9,491.6 L1614.4,491.8 L1614.9,491.9 L1615.4,492.0 L1615.9,492.1 L1616.4,492.3 L1616.9,492.4 L1617.4,492.5 L1617.9,492.6 L1618.4,492.7 L1618.9,492.8 L1619.4,492.9 L1619.9,493.1 L1620.4,493.2 L1620.9,493.3 L1621.4,493.4 L1621.9,493.5 L1622.4,493.7 L1622.9,493.8 L1623.4,493.9 L1623.9,494.0 L1624.4,494.1 L1624.9,494.3 L1625.4,494.4 L1625.9,494.5 L1626.4,494.6 L1626.9,494.7 L1627.4,494.8 L1627.9,495.0 L1628.4,495.1 L1628.9,495.2 L1629.4,495.3 L1629.9,495.4 L1630.4,495.5 L1630.9,495.6 L1631.4,495.7 L1631.9,495.8 L1632.4,495.9 L1632.9,496.0 L1633.4,496.1 L1633.9,496.2 L1634.4,496.3 L1634.9,496.4 L1635.4,496.4 L1635.9,496.5 L1636.4,496.6 L1636.9,496.7 L1637.4,496.7 L1637.9,496.8 L1638.4,496.9 L1638.9,496.9 L1639.4,497.0 L1639.9,497.0 L1640.4,497.1 L1640.9,497.1 L1641.4,497.2 L1641.9,497.2 L1642.4,497.2 L1642.9,497.2 L1643.4,497.3 L1643.9,497.3 L1644.4,497.3 L1644.9,497.3 L1645.4,497.3 L1645.9,497.3 L1646.4,497.3 L1646.9,497.3 L1647.4,497.2 L1647.9,497.2 L1648.4,497.2 L1648.9,497.1 L1649.4,497.1 L1649.9,497.0 L1650.4,496.9 L1650.9,496.9 L1651.4,496.8 L1651.9,496.7 L1652.4,496.6 L1652.9,496.6 L1653.4,496.5 L1653.9,496.4 L1654.4,496.3 L1654.9,496.2 L1655.4,496.1 L1655.9,495.9 L1656.4,495.8 L1656.9,495.7 L1657.4,495.6 L1657.9,495.5 L1658.4,495.3 L1658.9,495.2 L1659.4,495.1 L1659.9,495.0 L1660.4,494.8 L1660.9,494.7 L1661.4,494.6 L1661.9,494.4 L1662.4,494.3 L1662.9,494.1 L1663.4,494.0 L1663.9,493.9 L1664.4,493.7 L1664.9,493.6 L1665.4,493.4 L1665.9,493.3 L1666.4,493.2 L1666.9,493.0 L1667.4,492.9 L1667.9,492.7 L1668.4,492.6 L1668.9,492.4 L1669.4,492.3 L1669.9,492.1 L1670.4,492.0 L1670.9,491.8 L1671.4,491.6 L1671.9,491.4 L1672.4,491.3 L1672.9,491.1 L1673.4,490.9 L1673.9,490.7 L1674.4,490.5 L1674.9,490.3 L1675.4,490.1 L1675.9,489.9 L1676.4,489.7 L1676.9,489.5 L1677.4,489.3 L1677.9,489.1 L1678.4,488.8 L1678.9,488.6 L1679.4,488.4 L1679.9,488.1 L1680.4,487.9 L1680.9,487.7 L1681.4,487.4 L1681.9,487.2 L1682.4,486.9 L1682.9,486.7 L1683.4,486.4 L1683.9,486.2 L1684.4,485.9 L1684.9,485.6 L1685.4,485.4 L1685.9,485.1 L1686.4,484.8 L1686.9,484.5 L1687.4,484.3 L1687.9,484.0 L1688.4,483.7 L1688.9,483.4 L1689.4,483.1 L1689.9,482.8 L1690.4,482.5 L1690.9,482.2 L1691.4,481.9 L1691.9,481.6 L1692.4,481.3 L1692.9,481.0 L1693.4,480.7 L1693.9,480.4 L1694.4,480.0 L1694.9,479.7 L1695.4,479.4 L1695.9,479.1 L1696.4,478.7 L1696.9,478.4 L1697.4,478.1 L1697.9,477.7 L1698.4,477.4 L1698.9,477.1 L1699.4,476.7 L1699.9,476.4 L1700.4,476.1 L1700.9,475.9 L1701.4,475.6 L1701.9,475.4 L1702.4,475.2 L1702.9,475.0 L1703.4,474.8 L1703.9,474.6 L1704.4,474.4 L1704.9,474.3 L1705.4,474.1 L1705.9,474.0 L1706.4,473.9 L1706.9,473.7 L1707.4,473.6 L1707.9,473.5 L1708.4,473.4 L1708.9,473.4 L1709.4,473.3 L1709.9,473.2 L1710.4,473.2 L1710.9,473.1 L1711.4,473.1 L1711.9,473.0 L1712.4,473.0 L1712.9,473.0 L1713.4,473.0 L1713.9,472.9 L1714.4,472.9 L1714.9,472.9 L1715.4,472.9 L1715.9,472.9 L1716.4,472.9 L1716.9,472.9 L1717.4,472.9 L1717.9,473.0 L1718.4,473.1 L1718.9,473.2 L1719.4,473.3 L1719.9,473.4 L1720.4,473.6 L1720.9,473.8 L1721.4,474.0 L1721.9,474.2 L1722.4,474.4 L1722.9,474.6 L1723.4,474.9 L1723.9,475.1 L1724.4,475.4 L1724.9,475.7 L1725.4,475.9 L1725.9,476.2 L1726.4,476.5 L1726.9,476.8 L1727.4,477.1 L1727.9,477.4 L1728.4,477.7 L1728.9,478.0 L1729.4,478.3 L1729.9,478.6 L1730.4,478.9 L1730.9,479.3 L1731.4,479.7 L1731.9,480.1 L1732.4,480.6 L1732.9,481.0 L1733.4,481.5 L1733.9,482.0 L1734.4,482.5 L1734.9,483.0 L1735.4,483.5 L1735.9,484.1 L1736.4,484.6 L1736.9,485.2 L1737.4,485.8 L1737.9,486.3 L1738.4,486.9 L1738.9,487.5 L1739.4,488.1 L1739.9,488.7 L1740.4,489.3 L1740.9,489.8 L1741.4,490.4 L1741.9,491.1 L1742.4,491.7 L1742.9,492.3 L1743.4,493.0 L1743.9,493.7 L1744.4,494.4 L1744.9,495.1 L1745.4,495.9 L1745.9,496.6 L1746.4,497.3 L1746.9,498.1 L1747.4,498.8 L1747.9,499.6 L1748.4,500.3 L1748.9,501.1 L1749.4,501.8 L1749.9,502.5 L1750.4,503.3 L1750.9,504.1 L1751.4,504.8 L1751.9,505.6 L1752.4,506.4 L1752.9,507.2 L1753.4,508.0 L1753.9,508.8 L1754.4,509.5 L1754.9,510.3 L1755.4,511.1 L1755.9,511.8 L1756.4,512.5 L1756.9,513.2 L1757.4,513.8 L1757.9,514.5 L1758.4,515.1 L1758.9,515.7 L1759.4,516.3 L1759.9,516.9 L1760.4,517.4 L1760.9,518.0 L1761.4,518.6 L1761.9,519.1 L1762.4,519.6 L1762.9,520.2 L1763.4,520.7 L1763.9,521.2 L1764.4,521.7 L1764.9,522.2 L1765.4,522.7 L1765.9,523.2 L1766.4,523.7 L1766.9,524.2 L1767.4,524.7 L1767.9,525.1 L1768.4,525.6 L1768.9,526.1 L1769.4,526.6 L1769.9,527.0 L1770.4,527.5 L1770.9,527.9 L1771.4,528.4 L1771.9,528.8 L1772.4,529.2 L1772.9,529.6 L1773.4,530.0 L1773.9,530.4 L1774.4,530.8 L1774.9,531.2 L1775.4,531.6 L1775.9,532.0 L1776.4,532.4 L1776.9,532.8 L1777.4,533.2 L1777.9,533.5 L1778.4,533.9 L1778.9,534.3 L1779.4,534.6 L1779.9,534.9 L1780.4,535.3 L1780.9,535.6 L1781.4,535.9 L1781.9,536.1 L1782.4,536.4 L1782.9,536.7 L1783.4,536.9 L1783.9,537.1 L1784.4,537.4 L1784.9,537.6 L1785.4,537.8 L1785.9,538.0 L1786.4,538.2 L1786.9,538.4 L1787.4,538.6 L1787.9,538.8 L1788.4,539.0 L1788.9,539.2 L1789.4,539.3 L1789.9,539.5 L1790.4,539.6 L1790.9,539.8 L1791.4,539.9 L1791.9,540.1 L1792.4,540.2 L1792.9,540.4 L1793.4,540.5 L1793.9,540.6 L1794.4,540.7 L1794.9,540.9 L1795.4,541.0 L1795.9,541.1 L1796.4,541.2 L1796.9,541.4 L1797.4,541.5 L1797.9,541.6 L1798.4,541.7 L1798.9,541.8 L1799.4,541.9 L1799.9,542.0 L1800.4,542.1 L1800.9,542.2 L1801.4,542.3 L1801.9,542.4 L1802.4,542.5 L1802.9,542.6 L1803.4,542.7 L1803.9,542.8 L1804.4,542.9 L1804.9,543.0 L1805.4,543.1 L1805.9,543.2 L1806.4,543.3 L1806.9,543.4 L1807.4,543.5 L1807.9,543.5 L1808.4,543.6 L1808.9,543.7 L1809.4,543.8 L1809.9,543.9 L1810.4,544.0 L1810.9,544.1 L1811.4,544.2 L1811.9,544.3 L1812.4,544.4 L1812.9,544.5 L1813.4,544.6 L1813.9,544.7 L1814.4,544.8 L1814.9,544.8 L1815.4,544.9 L1815.9,545.0 L1816.4,545.0 L1816.9,545.1 L1817.4,545.1 L1817.9,545.2 L1818.4,545.2 L1818.9,545.3 L1819.4,545.3 L1819.9,545.3 L1820.4,545.3 L1820.9,545.3 L1821.4,545.3 L1821.9,545.3 L1822.4,545.3 L1822.9,545.3 L1823.4,545.3 L1823.9,545.4 L1824.4,545.4 L1824.9,545.4 L1825.4,545.4 L1825.9,545.4 L1826.4,545.4 L1826.9,545.4 L1827.4,545.4 L1827.9,545.4 L1828.4,545.4 L1828.9,545.4 L1829.4,545.4 L1829.9,545.4 L1830.4,545.4 L1830.9,545.4 L1831.4,545.4 L1831.9,545.4 L1832.4,545.4 L1832.9,545.5 L1833.4,545.5 L1833.9,545.5 L1834.4,545.5 L1834.9,545.5 L1835.4,545.5 L1835.9,545.5 L1836.4,545.5 L1836.9,545.5 L1837.4,545.5 L1837.9,545.5 L1838.4,545.5 L1838.9,545.5 L1839.4,545.5 L1839.9,545.5 L1840.4,545.5 L1840.9,545.5 L1841.4,545.5 L1841.9,545.5 L1842.4,545.5 L1842.9,545.5 L1843.4,545.5 L1843.9,545.5 L1844.4,545.5 L1844.9,545.5 L1845.4,545.5 L1845.9,545.5 L1846.4,545.5 L1846.9,545.5 L1847.4,545.6 L1847.9,545.6 L1848.4,545.6 L1848.9,545.6 L1849.4,545.6 L1849.9,545.6 L1850.4,545.6 L1850.9,545.6 L1851.4,545.6 L1851.9,545.6 L1852.4,545.6 L1852.9,545.6 L1853.4,545.6 L1853.9,545.6 L1854.4,545.6 L1854.9,545.6 L1855.4,545.6 L1855.9,545.6 L1856.4,545.6 L1856.9,545.6 L1857.4,545.6 L1857.9,545.6 L1858.4,545.6 L1858.9,545.6 L1859.4,545.6 L1859.9,545.6 L1860.4,545.6 L1860.9,545.6 L1861.4,545.6 L1861.9,545.6 L1862.4,545.6 L1862.9,545.6 L1863.4,545.6 L1863.9,545.6 L1864.4,545.6 L1864.9,545.6 L1865.4,545.6 L1865.9,545.6 L1866.4,545.6 L1866.9,545.6 L1867.4,545.6 L1867.9,545.6 L1868.4,545.6 L1868.9,545.6 L1869.4,545.6 L1869.9,545.6 L1870.4,545.6 L1870.9,545.6 L1871.4,545.6 L1871.9,545.6 L1872.4,545.6 L1872.9,545.6 L1873.4,545.6 L1873.9,545.6 L1874.4,545.5 L1874.9,545.5 L1875.4,545.5 L1875.9,545.5 L1876.4,545.5 L1876.9,545.5 L1877.4,545.5 L1877.9,545.4 L1878.4,545.4 L1878.9,545.4 L1879.4,545.4 L1879.9,545.4 L1880.4,545.3 L1880.9,545.3 L1881.4,545.3 L1881.9,545.3 L1882.4,545.2 L1882.9,545.2 L1883.4,545.2 L1883.9,545.2 L1884.4,545.1 L1884.9,545.1 L1885.4,545.1 L1885.9,545.0 L1886.4,545.0 L1886.9,545.0 L1887.4,544.9 L1887.9,544.9 L1888.4,544.9 L1888.9,544.8 L1889.4,544.8 L1889.9,544.7 L1890.4,544.7 L1890.9,544.7 L1891.4,544.6 L1891.9,544.6 L1892.4,544.5 L1892.9,544.5 L1893.4,544.4 L1893.9,544.4 L1894.4,544.4 L1894.9,544.3 L1895.4,544.3 L1895.9,544.2 L1896.4,544.2 L1896.9,544.1 L1897.4,544.1 L1897.9,544.0 L1898.4,544.0 L1898.9,543.9 L1899.4,543.9 L1899.9,543.8 L1900.4,543.8 L1900.9,543.7 L1901.4,543.7 L1901.9,543.6 L1902.4,543.6 L1902.9,543.5 L1903.4,543.4 L1903.9,543.4 L1904.4,543.3 L1904.9,543.3 L1905.4,543.2 L1905.9,543.2 L1906.4,543.1 L1906.9,543.1 L1907.4,543.0 L1907.9,542.9 L1908.4,542.8 L1908.9,542.8 L1909.4,542.7 L1909.9,542.6 L1910.4,542.5 L1910.9,542.4 L1911.4,542.3 L1911.9,542.2 L1912.4,542.1 L1912.9,542.0 L1913.4,541.9 L1913.9,541.7 L1914.4,541.6 L1914.9,541.5 L1915.4,541.4 L1915.9,541.2 L1916.4,541.1 L1916.9,540.9 L1917.4,540.8 L1917.9,540.6 L1918.4,540.5 L1918.9,540.3 L1919.4,540.2 L1919.9,540.0 L1920.4,539.8 L1920.9,539.7 L1921.4,539.5 L1921.9,539.3 L1922.4,539.2 L1922.9,539.0 L1923.4,538.8 L1923.9,538.6 L1924.4,538.4 L1924.9,538.2 L1925.4,538.0 L1925.9,537.8 L1926.4,537.6 L1926.9,537.4 L1927.4,537.2 L1927.9,536.9 L1928.4,536.7 L1928.9,536.4 L1929.4,536.2 L1929.9,535.9 L1930.4,535.6 L1930.9,535.3 L1931.4,535.0 L1931.9,534.7 L1932.4,534.4 L1932.9,534.0 L1933.4,533.7 L1933.9,533.3 L1934.4,533.0 L1934.9,532.6 L1935.4,532.3 L1935.9,531.9 L1936.4,531.5 L1936.9,531.1 L1937.4,530.7 L1937.9,530.3 L1938.4,529.8 L1938.9,529.3 L1939.4,528.8 L1939.9,528.3 L1940.4,527.8 L1940.9,527.2 L1941.4,526.6 L1941.9,526.0 L1942.4,525.3 L1942.9,524.7 L1943.4,524.0 L1943.9,523.4 L1944.4,522.7 L1944.9,522.1 L1945.4,521.4 L1945.9,520.7 L1946.4,520.1 L1946.9,519.4 L1947.4,518.7 L1947.9,518.1 L1948.4,517.5 L1948.9,516.9 L1949.4,516.3 L1949.9,515.7 L1950.4,515.1 L1950.9,514.4 L1951.4,513.8 L1951.9,513.2 L1952.4,512.5 L1952.9,511.8 L1953.4,511.2 L1953.9,510.6 L1954.4,510.0 L1954.9,509.4 L1955.4,508.8 L1955.9,508.3 L1956.4,507.8 L1956.9,507.3 L1957.4,506.9 L1957.9,506.6 L1958.4,506.3 L1958.9,505.9 L1959.4,505.6 L1959.9,505.3 L1960.4,505.0 L1960.9,504.8 L1961.4,504.5 L1961.9,504.3 L1962.4,504.0 L1962.9,503.9 L1963.4,503.7 L1963.9,503.6 L1964.4,503.5 L1964.9,503.5 L1965.4,503.6 L1965.9,503.7 L1966.4,504.0 L1966.9,504.3 L1967.4,504.7 L1967.9,505.2 L1968.4,505.7 L1968.9,506.2 L1969.4,506.8 L1969.9,507.4 L1970.4,508.0 L1970.9,508.6 L1971.4,509.2 L1971.9,509.9 L1972.4,510.7 L1972.9,511.5 L1973.4,512.4 L1973.9,513.4 L1974.4,514.4 L1974.9,515.4 L1975.4,516.4 L1975.9,517.4 L1976.4,518.4 L1976.9,519.4 L1977.4,520.5 L1977.9,521.7 L1978.4,522.8 L1978.9,524.0 L1979.4,525.2 L1979.9,526.4 L1980.4,527.6 L1980.9,528.6 L1981.4,529.6 L1981.9,530.5 L1982.4,531.4 L1982.9,532.2 L1983.4,532.9 L1983.9,533.7 L1984.4,534.5 L1984.9,535.2 L1985.4,535.9 L1985.9,536.6 L1986.4,537.3 L1986.9,537.9 L1987.4,538.5 L1987.9,539.1 L1988.4,539.6 L1988.9,540.1 L1989.4,540.6 L1989.9,541.1 L1990.4,541.5 L1990.9,541.8 L1991.4,542.2 L1991.9,542.6 L1992.4,542.9 L1992.9,543.2 L1993.4,543.6 L1993.9,543.9 L1994.4,544.2 L1994.9,544.5 L1995.4,544.8 L1995.9,545.1 L1996.4,545.3 L1996.9,545.6 L1997.4,545.9 L1997.9,546.1 L1998.4,546.3 L1998.9,546.6 L1999.4,546.8 L1999.9,547.0 L2000.4,547.2 L2000.9,547.3 L2001.4,547.5 L2001.9,547.7 L2002.4,547.8 L2002.9,548.0 L2003.4,548.1 L2003.9,548.2 L2004.4,548.3 L2004.9,548.4 L2005.4,548.5 L2005.9,548.6 L2006.4,548.7 L2006.9,548.8 L2007.4,548.9 L2007.9,549.0 L2008.4,549.1 L2008.9,549.2 L2009.4,549.3 L2009.9,549.3 L2010.4,549.4 L2010.9,549.5 L2011.4,549.6 L2011.9,549.7 L2012.4,549.7 L2012.9,549.8 L2013.4,549.9 L2013.9,550.0 L2014.4,550.0 L2014.9,550.1 L2015.4,550.2 L2015.9,550.2 L2016.4,550.3 L2016.9,550.3 L2017.4,550.4 L2017.9,550.5 L2018.4,550.5 L2018.9,550.6 L2019.4,550.6 L2019.9,550.6 L2020.4,550.7 L2020.9,550.7 L2021.4,550.8 L2021.9,550.8 L2022.4,550.8 L2022.9,550.9 L2023.4,550.9 L2023.9,550.9 L2024.4,550.9 L2024.9,551.0 L2025.4,551.0 L2025.9,551.0 L2026.4,551.0 L2026.9,551.0 L2027.4,551.0 L2027.9,551.1 L2028.4,551.1 L2028.9,551.1 L2029.4,551.1 L2029.9,551.1 L2030.4,551.1 L2030.9,551.1 L2031.4,551.2 L2031.9,551.2 L2032.4,551.2 L2032.9,551.2 L2033.4,551.2 L2033.9,551.2 L2034.4,551.2 L2034.9,551.3 L2035.4,551.3 L2035.9,551.3 L2036.4,551.3 L2036.9,551.3 L2037.4,551.3 L2037.9,551.3 L2038.4,551.3 L2038.9,551.3 L2039.4,551.4 L2039.9,551.4 L2040.4,551.4 L2040.9,551.4 L2041.4,551.4 L2041.9,551.4 L2042.4,551.4 L2042.9,551.4 L2043.4,551.4 L2043.9,551.5 L2044.4,551.5 L2044.9,551.5 L2045.4,551.5 L2045.9,551.5 L2046.4,551.5 L2046.9,551.5 L2047.4,551.5 L2047.9,551.5 L2048.4,551.5 L2048.9,551.6 L2049.4,551.6 L2049.9,551.6 L2050.4,551.6 L2050.9,551.6 L2051.4,551.6 L2051.9,551.6 L2052.4,551.6 L2052.9,551.6 L2053.4,551.6 L2053.9,551.6 L2054.4,551.6 L2054.9,551.6 L2055.4,551.7 L2055.9,551.7 L2056.4,551.7 L2056.9,551.7 L2057.4,551.7 L2057.9,551.7 L2058.4,551.7 L2058.9,551.7 L2059.4,551.7 L2059.9,551.7 L2060.4,551.7 L2060.9,551.7 L2061.4,551.7 L2061.9,551.7 L2062.4,551.8 L2062.9,551.8 L2063.4,551.8 L2063.9,551.8 L2064.4,551.8 L2064.9,551.8 L2065.4,551.8 L2065.9,551.8 L2066.4,551.8 L2066.9,551.8 L2067.4,551.8 L2067.9,551.8 L2068.4,551.8 L2068.9,551.8 L2069.4,551.8 L2069.9,551.8 L2070.4,551.8 L2070.9,551.9 L2071.4,551.9 L2071.9,551.9 L2072.4,551.9 L2072.9,551.9 L2073.4,551.9 L2073.9,551.9 L2074.4,551.9 L2074.9,551.9 L2075.4,551.9 L2075.9,551.9 L2076.4,551.9 L2076.9,551.9 L2077.4,551.9 L2077.9,551.9 L2078.4,551.9 L2078.9,551.9 L2079.4,551.9 L2079.9,551.9 L2080.4,551.9 L2080.9,551.9 L2081.4,551.9 L2081.9,552.0 L2082.4,552.0 L2082.9,552.0 L2083.4,552.0 L2083.9,552.0 L2084.4,552.0 L2084.9,552.0 L2085.4,552.0 L2085.9,552.0 L2086.4,552.0 L2086.9,552.0 L2087.4,552.0 L2087.9,552.0 L2088.4,552.0 L2088.9,552.0 L2089.4,552.0 L2089.9,552.0 L2090.4,552.0 L2090.9,552.0 L2091.4,552.0 L2091.9,552.0 L2092.4,552.0 L2092.9,552.0 L2093.4,552.0 L2093.9,552.1 L2094.4,552.1 L2094.9,552.1 L2095.4,552.1 L2095.9,552.1 L2096.4,552.1 L2096.9,552.1 L2097.4,552.1 L2097.9,552.1 L2098.4,552.1 L2098.9,552.1 L2099.4,552.1 L2099.9,552.1 L2100.4,552.1 L2100.9,552.1 L2101.4,552.1 L2101.9,552.1 L2102.4,552.1 L2102.9,552.1 L2103.4,552.1 L2103.9,552.1 L2104.4,552.1 L2104.9,552.1 L2105.4,552.1 L2105.9,552.1 L2106.4,552.2 L2106.9,552.2 L2107.4,552.2 L2107.9,552.2 L2108.4,552.2 L2108.9,552.2 L2109.4,552.2 L2109.9,552.2 L2110.4,552.2 L2110.9,552.2 L2111.4,552.2 L2111.9,552.2 L2112.4,552.2 L2112.9,552.2 L2113.4,552.2 L2113.9,552.2 L2114.4,552.2 L2114.9,552.2 L2115.4,552.2 L2115.9,552.2 L2116.4,552.2 L2116.9,552.2 L2117.4,552.2 L2117.9,552.2 L2118.4,552.2 L2118.9,552.3 L2119.4,552.3 L2119.9,552.3 L2120.4,552.3 L2120.9,552.3 L2121.4,552.3 L2121.9,552.3 L2122.4,552.3 L2122.9,552.3 L2123.4,552.3 L2123.9,552.3 L2124.4,552.3 L2124.9,552.3 L2125.4,552.3 L2125.9,552.3 L2126.4,552.3 L2126.9,552.3 L2127.4,552.3 L2127.9,552.3 L2128.4,552.3 L2128.9,552.3 L2129.4,552.3 L2129.9,552.3 L2130.4,552.3 L2130.9,552.3 L2131.4,552.4 L2131.9,552.4 L2132.4,552.4 L2132.9,552.4 L2133.4,552.4 L2133.9,552.4 L2134.4,552.4 L2134.9,552.4 L2135.4,552.4 L2135.9,552.4 L2136.4,552.4 L2136.9,552.4 L2137.4,552.4 L2137.9,552.4 L2138.4,552.4 L2138.9,552.4 L2139.4,552.4 L2139.9,552.4 L2140.4,552.4 L2140.9,552.4 L2141.4,552.4 L2141.9,552.4 L2142.4,552.4 L2142.9,552.4 L2143.4,552.4 L2143.9,552.4 L2144.4,552.5 L2144.9,552.5 L2145.4,552.5 L2145.9,552.5 L2146.4,552.5 L2146.9,552.5 L2147.4,552.5 L2147.9,552.5 L2148.4,552.5 L2148.9,552.5 L2149.4,552.5 L2149.9,552.5 L2150.4,552.5 L2150.9,552.5 L2151.4,552.5 L2151.9,552.5 L2152.4,552.5 L2152.9,552.5 L2153.4,552.5 L2153.9,552.5 L2154.4,552.5 L2154.9,552.5 L2155.4,552.5 L2155.9,552.5 L2156.4,552.5 L2156.9,552.5 L2157.4,552.6 L2157.9,552.6 L2158.4,552.6 L2158.9,552.6 L2159.4,552.6 L2159.9,552.6 L2160.4,552.6 L2160.9,552.6 L2161.4,552.6 L2161.9,552.6 L2162.4,552.6 L2162.9,552.6 L2163.4,552.6 L2163.9,552.6 L2164.4,552.6 L2164.9,552.6 L2165.4,552.6 L2165.9,552.6 L2166.4,552.6 L2166.9,552.6 L2167.4,552.6 L2167.9,552.6 L2168.4,552.6 L2168.9,552.6 L2169.4,552.6 L2169.9,552.6 L2170.4,552.6 L2170.9,552.6 L2171.4,552.7 L2171.9,552.7 L2172.4,552.7 L2172.9,552.7 L2173.4,552.7 L2173.9,552.7 L2174.4,552.7 L2174.9,552.7 L2175.4,552.7 L2175.9,552.7 L2176.4,552.7 L2176.9,552.7 L2177.4,552.7 L2177.9,552.7 L2178.4,552.7 L2178.9,552.7 L2179.4,552.7 L2179.9,552.7 L2180.4,552.7 L2180.9,552.7 L2181.4,552.7 L2181.9,552.7 L2182.4,552.7 L2182.9,552.7 L2183.4,552.7 L2183.9,552.7 L2184.4,552.7 L2184.9,552.7 L2185.4,552.7 L2185.9,552.8 L2186.4,552.8 L2186.9,552.8 L2187.4,552.8 L2187.9,552.8 L2188.4,552.8 L2188.9,552.8 L2189.4,552.8 L2189.9,552.8 L2190.4,552.8 L2190.9,552.8 L2191.4,552.8 L2191.9,552.8 L2192.4,552.8 L2192.9,552.8 L2193.4,552.8 L2193.9,552.8 L2194.4,552.8 L2194.9,552.8 L2195.4,552.8 L2195.9,552.8 L2196.4,552.8 L2196.9,552.8 L2197.4,552.8 L2197.9,552.8 L2198.4,552.8 L2198.9,552.8 L2199.4,552.8 L2199.9,552.8 L2200.4,552.8 L2200.9,552.9 L2201.4,552.9 L2201.9,552.9 L2202.4,552.9 L2202.9,552.9 L2203.4,552.9 L2203.9,552.9 L2204.4,552.9 L2204.9,552.9 L2205.4,552.9 L2205.9,552.9 L2206.4,552.9 L2206.9,552.9 L2207.4,552.9 L2207.9,552.9 L2208.4,552.9 L2208.9,552.9 L2209.4,552.9 L2209.9,552.9 L2210.4,552.9 L2210.9,552.9 L2211.4,552.9 L2211.9,552.9 L2212.4,552.9 L2212.9,552.9 L2213.4,552.9 L2213.9,552.9 L2214.4,552.9 L2214.9,552.9 L2215.4,552.9 L2215.9,552.9 L2216.4,552.9 L2216.9,553.0 L2217.4,553.0 L2217.9,553.0 L2218.4,553.0 L2218.9,553.0 L2219.4,553.0 L2219.9,553.0 L2220.4,553.0 L2220.9,553.0 L2221.4,553.0 L2221.9,553.0 L2222.4,553.0 L2222.9,553.0 L2223.4,553.0 L2223.9,553.0 L2224.4,553.0 L2224.9,553.0 L2225.4,553.0 L2225.9,553.0 L2226.4,553.0 L2226.9,553.0 L2227.4,553.0 L2227.9,553.0 L2228.4,553.0 L2228.9,553.0 L2229.4,553.0 L2229.9,553.0 L2230.4,553.0 L2230.9,553.0 L2231.4,553.0 L2231.9,553.0 L2232.4,553.0 L2232.9,553.0 L2233.4,553.0 L2233.9,553.1 L2234.4,553.1 L2234.9,553.1 L2235.4,553.1 L2235.9,553.1 L2236.4,553.1 L2236.9,553.1 L2237.4,553.1 L2237.9,553.1 L2238.4,553.1 L2238.9,553.1 L2239.4,553.1 L2239.9,553.1 L2240.4,553.1 L2240.9,553.1 L2241.4,553.1 L2241.9,553.1 L2242.4,553.1 L2242.9,553.1 L2243.4,553.1 L2243.9,553.1 L2244.4,553.1 L2244.9,553.1 L2245.4,553.1 L2245.9,553.1 L2246.4,553.1 L2246.9,553.1 L2247.4,553.1 L2247.9,553.1 L2248.4,553.1 L2248.9,553.1 L2249.4,553.1 L2249.9,553.1 L2250.4,553.1 L2250.9,553.1 L2251.4,553.1 L2251.9,553.1 L2252.4,553.1 L2252.9,553.2 L2253.4,553.2 L2253.9,553.2 L2254.4,553.2 L2254.9,553.2 L2255.4,553.2 L2255.9,553.2 L2256.4,553.2 L2256.9,553.2 L2257.4,553.2 L2257.9,553.2 L2258.4,553.2 L2258.9,553.2 L2259.4,553.2 L2259.9,553.2 L2260.4,553.2 L2260.9,553.2 L2261.4,553.2 L2261.9,553.2 L2262.4,553.2 L2262.9,553.2 L2263.4,553.2 L2263.9,553.2 L2264.4,553.2 L2264.9,553.2 L2265.4,553.2 L2265.9,553.2 L2266.4,553.2 L2266.9,553.2 L2267.4,553.2 L2267.9,553.2 L2268.4,553.2 L2268.9,553.2 L2269.4,553.2 L2269.9,553.2 L2270.4,553.2 L2270.9,553.2 L2271.4,553.2 L2271.9,553.2 L2272.4,553.2 L2272.9,553.2 L2273.4,553.2 L2273.9,553.3 L2274.4,553.3 L2274.9,553.3 L2275.4,553.3 L2275.9,553.3 L2276.4,553.3 L2276.9,553.3 L2277.4,553.3 L2277.9,553.3 L2278.4,553.3 L2278.9,553.3 L2279.4,553.3 L2279.9,553.3 L2280.4,553.3 L2280.9,553.3 L2281.4,553.3 L2281.9,553.3 L2282.4,553.3 L2282.9,553.3 L2283.4,553.3 L2283.9,553.3 L2284.4,553.3 L2284.9,553.3 L2285.4,553.3 L2285.9,553.3 L2286.4,553.3 L2286.9,553.3 L2287.4,553.3 L2287.9,553.3 L2288.4,553.3 L2288.9,553.3 L2289.4,553.3 L2289.9,553.3 L2290.4,553.3 L2290.9,553.3 L2291.4,553.3 L2291.9,553.3 L2292.4,553.3 L2292.9,553.3 L2293.4,553.3 L2293.9,553.3 L2294.4,553.3 L2294.9,553.3 L2295.4,553.3 L2295.9,553.3 L2296.4,553.3 L2296.9,553.3 L2297.4,553.3 L2297.9,553.3 L2298.4,553.3 L2298.9,553.3 L2299.4,553.4 L2299.9,553.4 L2300.4,553.4 L2300.9,553.4 L2301.4,553.4 L2301.9,553.4 L2302.4,553.4 L2302.9,553.4 L2303.4,553.4 L2303.9,553.4 L2304.4,553.4 L2304.9,553.4 L2305.4,553.4 L2305.9,553.4 L2306.4,553.4 L2306.9,553.4 L2307.4,553.4 L2307.9,553.4 L2308.4,553.4 L2308.9,553.4 L2309.4,553.4 L2309.9,553.4 L2310.4,553.4 L2310.9,553.4 L2311.4,553.4 L2311.9,553.4 L2312.4,553.4 L2312.9,553.4 L2313.4,553.4 L2313.9,553.4 L2314.4,553.4 L2314.9,553.4 L2315.4,553.4 L2315.9,553.4 L2316.4,553.4 L2316.9,553.4 L2317.4,553.4 L2317.9,553.4 L2318.4,553.4 L2318.9,553.4 L2319.4,553.4 L2319.9,553.4 L2320.4,553.4 L2320.9,553.4 L2321.4,553.4 L2321.9,553.4 L2322.4,553.4 L2322.9,553.4 L2323.4,553.4 L2323.9,553.4 L2324.4,553.4 L2324.9,553.4 L2325.4,553.4 L2325.9,553.4 L2326.4,553.4 L2326.9,553.4 L2327.4,553.4 L2327.9,553.4 L2328.4,553.4 L2328.9,553.4 L2329.4,553.4 L2329.9,553.4 L2330.4,553.4 L2330.9,553.4 L2331.4,553.4 L2331.9,553.4 L2332.4,553.4 L2332.9,553.4 L2333.4,553.4 L2333.9,553.4 L2334.4,553.4 L2334.9,553.4 L2335.4,553.5 L2335.9,553.5 L2336.4,553.5 L2336.9,553.5 L2337.4,553.5 L2337.9,553.5 L2338.4,553.5 L2338.9,553.5 L2339.4,553.5 L2339.9,553.5 L2340.4,553.5 L2340.9,553.5 L2341.4,553.5 L2341.9,553.5 L2342.4,553.5 L2342.9,553.5 L2343.4,553.5 L2343.9,553.5 L2344.4,553.5 L2344.9,553.5 L2345.4,553.5 L2345.9,553.5 L2346.4,553.5 L2346.9,553.5 L2347.4,553.5 L2347.9,553.5 L2348.4,553.5 L2348.9,553.5 L2349.4,553.5 L2349.9,553.5 L2350.4,553.5 L2350.9,553.5 L2351.4,553.5 L2351.9,553.5 L2352.4,553.5 L2352.9,553.5 L2353.4,553.5 L2353.9,553.5 L2354.4,553.5 L2354.9,553.5 L2355.4,553.5 L2355.9,553.5 L2356.4,553.5 L2356.9,553.5 L2357.4,553.5 L2357.9,553.5 L2358.4,553.5 L2358.9,553.5 L2359.4,553.5 L2359.9,553.5 L2360.4,553.5 L2360.9,553.5 L2361.4,553.5 L2361.9,553.5 L2362.4,553.5 L2362.9,553.5 L2363.4,553.5 L2363.9,553.5 L2364.4,553.5 L2364.9,553.5 L2365.4,553.5 L2365.9,553.5 L2366.4,553.5 L2366.9,553.5 L2367.4,553.5 L2367.9,553.5 L2368.4,553.5 L2368.9,553.5 L2369.4,553.5 L2369.9,553.5 L2370.4,553.5 L2370.9,553.5 L2371.4,553.5 L2371.9,553.5 L2372.4,553.5 L2372.9,553.5 L2373.4,553.5 L2373.9,553.5 L2374.4,553.5 L2374.9,553.5 L2375.4,553.5 L2375.9,553.5 L2376.4,553.5 L2376.9,553.5 L2377.4,553.5 L2377.9,553.5 L2378.4,553.5 L2378.9,553.5 L2379.4,553.5 L2379.9,553.5 L2380.4,553.5 L2380.9,553.5" fill="none" stroke="#fde725" stroke-width="3.8" stroke-linejoin="round" stroke-linecap="butt"/>
</g>
<g clip-path="url(#cc)">
<circle cx="202.90" cy="835.40" r="17.0" fill="#440154"/>
<circle cx="289.38" cy="831.00" r="17.0" fill="#481f70"/>
<circle cx="375.87" cy="837.70" r="17.0" fill="#443983"/>
<circle cx="462.35" cy="837.70" r="17.0" fill="#3b528b"/>
<circle cx="548.83" cy="837.70" r="17.0" fill="#31688e"/>
<circle cx="635.32" cy="838.70" r="17.0" fill="#287c8e"/>
<circle cx="721.80" cy="837.70" r="17.0" fill="#21918c"/>
<circle cx="894.77" cy="836.40" r="17.0" fill="#20a486"/>
<circle cx="1067.73" cy="838.70" r="17.0" fill="#35b779"/>
<circle cx="1240.70" cy="858.80" r="17.0" fill="#5ec962"/>
<circle cx="1413.67" cy="907.50" r="17.0" fill="#90d743"/>
<circle cx="1586.63" cy="940.40" r="17.0" fill="#c8e020"/>
<circle cx="2364.98" cy="1025.40" r="17.0" fill="#fde725"/>
<circle cx="202.90" cy="1123.60" r="17.0" fill="#440154"/>
<circle cx="721.80" cy="1195.70" r="17.0" fill="#3b528b"/>
<circle cx="1240.70" cy="1232.20" r="17.0" fill="#21918c"/>
<circle cx="1759.60" cy="1252.90" r="17.0" fill="#5ec962"/>
<circle cx="2278.50" cy="1268.80" r="17.0" fill="#fde725"/>
<path d="M202.9,835.3 L203.9,835.3 L204.9,835.2 L205.9,835.2 L206.9,835.2 L207.9,835.1 L208.9,835.1 L209.9,835.0 L210.9,835.0 L211.9,834.9 L212.9,834.9 L213.9,834.8 L214.9,834.8 L215.9,834.7 L216.9,834.7 L217.9,834.6 L218.9,834.6 L219.9,834.5 L220.9,834.5 L221.9,834.4 L222.9,834.4 L223.9,834.3 L224.9,834.3 L225.9,834.2 L226.9,834.2 L227.9,834.1 L228.9,834.1 L229.9,834.0 L230.9,834.0 L231.9,833.9 L232.9,833.9 L233.9,833.8 L234.9,833.8 L235.9,833.7 L236.9,833.7 L237.9,833.6 L238.9,833.6 L239.9,833.5 L240.9,833.5 L241.9,833.4 L242.9,833.4 L243.9,833.3 L244.9,833.3 L245.9,833.2 L246.9,833.2 L247.9,833.1 L248.9,833.1 L249.9,833.0 L250.9,833.0 L251.9,832.9 L252.9,832.9 L253.9,832.8 L254.9,832.8 L255.9,832.7 L256.9,832.7 L257.9,832.6 L258.9,832.6 L259.9,832.5 L260.9,832.4 L261.9,832.4 L262.9,832.3 L263.9,832.3 L264.9,832.2 L265.9,832.2 L266.9,832.1 L267.9,832.1 L268.9,832.0 L269.9,832.0 L270.9,831.9 L271.9,831.9 L272.9,831.8 L273.9,831.8 L274.9,831.7 L275.9,831.7 L276.9,831.6 L277.9,831.6 L278.9,831.5 L279.9,831.5 L280.9,831.4 L281.9,831.4 L282.9,831.4 L283.9,831.3 L284.9,831.3 L285.9,831.3 L286.9,831.3 L287.9,831.2 L288.9,831.3 L289.9,831.3 L290.9,831.3 L291.9,831.3 L292.9,831.4 L293.9,831.4 L294.9,831.5 L295.9,831.5 L296.9,831.6 L297.9,831.7 L298.9,831.7 L299.9,831.8 L300.9,831.9 L301.9,832.0 L302.9,832.0 L303.9,832.1 L304.9,832.2 L305.9,832.3 L306.9,832.4 L307.9,832.4 L308.9,832.5 L309.9,832.6 L310.9,832.7 L311.9,832.7 L312.9,832.8 L313.9,832.9 L314.9,833.0 L315.9,833.1 L316.9,833.1 L317.9,833.2 L318.9,833.3 L319.9,833.4 L320.9,833.4 L321.9,833.5 L322.9,833.6 L323.9,833.7 L324.9,833.8 L325.9,833.8 L326.9,833.9 L327.9,834.0 L328.9,834.1 L329.9,834.1 L330.9,834.2 L331.9,834.3 L332.9,834.4 L333.9,834.4 L334.9,834.5 L335.9,834.6 L336.9,834.7 L337.9,834.8 L338.9,834.8 L339.9,834.9 L340.9,835.0 L341.9,835.1 L342.9,835.1 L343.9,835.2 L344.9,835.3 L345.9,835.4 L346.9,835.5 L347.9,835.5 L348.9,835.6 L349.9,835.7 L350.9,835.8 L351.9,835.8 L352.9,835.9 L353.9,836.0 L354.9,836.1 L355.9,836.2 L356.9,836.2 L357.9,836.3 L358.9,836.4 L359.9,836.5 L360.9,836.5 L361.9,836.6 L362.9,836.7 L363.9,836.8 L364.9,836.8 L365.9,836.9 L366.9,837.0 L367.9,837.1 L368.9,837.1 L369.9,837.2 L370.9,837.3 L371.9,837.3 L372.9,837.4 L373.9,837.5 L374.9,837.5 L375.9,837.5 L376.9,837.6 L377.9,837.6 L378.9,837.6 L379.9,837.7 L380.9,837.7 L381.9,837.7 L382.9,837.7 L383.9,837.7 L384.9,837.7 L385.9,837.7 L386.9,837.7 L387.9,837.7 L388.9,837.7 L389.9,837.7 L390.9,837.7 L391.9,837.7 L392.9,837.7 L393.9,837.7 L394.9,837.7 L395.9,837.7 L396.9,837.7 L397.9,837.7 L398.9,837.7 L399.9,837.7 L400.9,837.7 L401.9,837.7 L402.9,837.7 L403.9,837.7 L404.9,837.7 L405.9,837.7 L406.9,837.7 L407.9,837.7 L408.9,837.7 L409.9,837.7 L410.9,837.7 L411.9,837.7 L412.9,837.7 L413.9,837.7 L414.9,837.7 L415.9,837.7 L416.9,837.7 L417.9,837.7 L418.9,837.7 L419.9,837.7 L420.9,837.7 L421.9,837.7 L422.9,837.7 L423.9,837.7 L424.9,837.7 L425.9,837.7 L426.9,837.7 L427.9,837.7 L428.9,837.7 L429.9,837.7 L430.9,837.7 L431.9,837.7 L432.9,837.7 L433.9,837.7 L434.9,837.7 L435.9,837.7 L436.9,837.7 L437.9,837.7 L438.9,837.7 L439.9,837.7 L440.9,837.7 L441.9,837.7 L442.9,837.7 L443.9,837.7 L444.9,837.7 L445.9,837.7 L446.9,837.7 L447.9,837.7 L448.9,837.7 L449.9,837.7 L450.9,837.7 L451.9,837.7 L452.9,837.7 L453.9,837.7 L454.9,837.7 L455.9,837.7 L456.9,837.7 L457.9,837.7 L458.9,837.7 L459.9,837.7 L460.9,837.7 L461.9,837.7 L462.9,837.7 L463.9,837.7 L464.9,837.7 L465.9,837.7 L466.9,837.7 L467.9,837.7 L468.9,837.7 L469.9,837.7 L470.9,837.7 L471.9,837.7 L472.9,837.7 L473.9,837.7 L474.9,837.7 L475.9,837.7 L476.9,837.7 L477.9,837.7 L478.9,837.7 L479.9,837.7 L480.9,837.7 L481.9,837.7 L482.9,837.7 L483.9,837.7 L484.9,837.7 L485.9,837.7 L486.9,837.7 L487.9,837.7 L488.9,837.7 L489.9,837.7 L490.9,837.7 L491.9,837.7 L492.9,837.7 L493.9,837.7 L494.9,837.7 L495.9,837.7 L496.9,837.7 L497.9,837.7 L498.9,837.7 L499.9,837.7 L500.9,837.7 L501.9,837.7 L502.9,837.7 L503.9,837.7 L504.9,837.7 L505.9,837.7 L506.9,837.7 L507.9,837.7 L508.9,837.7 L509.9,837.7 L510.9,837.7 L511.9,837.7 L512.9,837.7 L513.9,837.7 L514.9,837.7 L515.9,837.7 L516.9,837.7 L517.9,837.7 L518.9,837.7 L519.9,837.7 L520.9,837.7 L521.9,837.7 L522.9,837.7 L523.9,837.7 L524.9,837.7 L525.9,837.7 L526.9,837.7 L527.9,837.7 L528.9,837.7 L529.9,837.7 L530.9,837.7 L531.9,837.7 L532.9,837.7 L533.9,837.7 L534.9,837.7 L535.9,837.7 L536.9,837.7 L537.9,837.7 L538.9,837.7 L539.9,837.7 L540.9,837.7 L541.9,837.7 L542.9,837.7 L543.9,837.7 L544.9,837.7 L545.9,837.7 L546.9,837.7 L547.9,837.7 L548.9,837.7 L549.9,837.7 L550.9,837.7 L551.9,837.7 L552.9,837.8 L553.9,837.8 L554.9,837.8 L555.9,837.8 L556.9,837.8 L557.9,837.8 L558.9,837.8 L559.9,837.8 L560.9,837.8 L561.9,837.9 L562.9,837.9 L563.9,837.9 L564.9,837.9 L565.9,837.9 L566.9,837.9 L567.9,837.9 L568.9,837.9 L569.9,837.9 L570.9,838.0 L571.9,838.0 L572.9,838.0 L573.9,838.0 L574.9,838.0 L575.9,838.0 L576.9,838.0 L577.9,838.0 L578.9,838.0 L579.9,838.1 L580.9,838.1 L581.9,838.1 L582.9,838.1 L583.9,838.1 L584.9,838.1 L585.9,838.1 L586.9,838.1 L587.9,838.2 L588.9,838.2 L589.9,838.2 L590.9,838.2 L591.9,838.2 L592.9,838.2 L593.9,838.2 L594.9,838.2 L595.9,838.2 L596.9,838.3 L597.9,838.3 L598.9,838.3 L599.9,838.3 L600.9,838.3 L601.9,838.3 L602.9,838.3 L603.9,838.3 L604.9,838.3 L605.9,838.4 L606.9,838.4 L607.9,838.4 L608.9,838.4 L609.9,838.4 L610.9,838.4 L611.9,838.4 L612.9,838.4 L613.9,838.5 L614.9,838.5 L615.9,838.5 L616.9,838.5 L617.9,838.5 L618.9,838.5 L619.9,838.5 L620.9,838.5 L621.9,838.5 L622.9,838.6 L623.9,838.6 L624.9,838.6 L625.9,838.6 L626.9,838.6 L627.9,838.6 L628.9,838.6 L629.9,838.6 L630.9,838.6 L631.9,838.6 L632.9,838.6 L633.9,838.7 L634.9,838.7 L635.9,838.7 L636.9,838.7 L637.9,838.6 L638.9,838.6 L639.9,838.6 L640.9,838.6 L641.9,838.6 L642.9,838.6 L643.9,838.6 L644.9,838.6 L645.9,838.6 L646.9,838.6 L647.9,838.6 L648.9,838.5 L649.9,838.5 L650.9,838.5 L651.9,838.5 L652.9,838.5 L653.9,838.5 L654.9,838.5 L655.9,838.5 L656.9,838.5 L657.9,838.4 L658.9,838.4 L659.9,838.4 L660.9,838.4 L661.9,838.4 L662.9,838.4 L663.9,838.4 L664.9,838.4 L665.9,838.3 L666.9,838.3 L667.9,838.3 L668.9,838.3 L669.9,838.3 L670.9,838.3 L671.9,838.3 L672.9,838.3 L673.9,838.3 L674.9,838.2 L675.9,838.2 L676.9,838.2 L677.9,838.2 L678.9,838.2 L679.9,838.2 L680.9,838.2 L681.9,838.2 L682.9,838.1 L683.9,838.1 L684.9,838.1 L685.9,838.1 L686.9,838.1 L687.9,838.1 L688.9,838.1 L689.9,838.1 L690.9,838.1 L691.9,838.0 L692.9,838.0 L693.9,838.0 L694.9,838.0 L695.9,838.0 L696.9,838.0 L697.9,838.0 L698.9,838.0 L699.9,838.0 L700.9,837.9 L701.9,837.9 L702.9,837.9 L703.9,837.9 L704.9,837.9 L705.9,837.9 L706.9,837.9 L707.9,837.9 L708.9,837.8 L709.9,837.8 L710.9,837.8 L711.9,837.8 L712.9,837.8 L713.9,837.8 L714.9,837.8 L715.9,837.8 L716.9,837.8 L717.9,837.7 L718.9,837.7 L719.9,837.7 L720.9,837.7 L721.9,837.7 L722.9,837.7 L723.9,837.7 L724.9,837.7 L725.9,837.7 L726.9,837.7 L727.9,837.7 L728.9,837.6 L729.9,837.6 L730.9,837.6 L731.9,837.6 L732.9,837.6 L733.9,837.6 L734.9,837.6 L735.9,837.6 L736.9,837.6 L737.9,837.6 L738.9,837.6 L739.9,837.6 L740.9,837.6 L741.9,837.5 L742.9,837.5 L743.9,837.5 L744.9,837.5 L745.9,837.5 L746.9,837.5 L747.9,837.5 L748.9,837.5 L749.9,837.5 L750.9,837.5 L751.9,837.5 L752.9,837.5 L753.9,837.5 L754.9,837.5 L755.9,837.4 L756.9,837.4 L757.9,837.4 L758.9,837.4 L759.9,837.4 L760.9,837.4 L761.9,837.4 L762.9,837.4 L763.9,837.4 L764.9,837.4 L765.9,837.4 L766.9,837.4 L767.9,837.4 L768.9,837.3 L769.9,837.3 L770.9,837.3 L771.9,837.3 L772.9,837.3 L773.9,837.3 L774.9,837.3 L775.9,837.3 L776.9,837.3 L777.9,837.3 L778.9,837.3 L779.9,837.3 L780.9,837.3 L781.9,837.2 L782.9,837.2 L783.9,837.2 L784.9,837.2 L785.9,837.2 L786.9,837.2 L787.9,837.2 L788.9,837.2 L789.9,837.2 L790.9,837.2 L791.9,837.2 L792.9,837.2 L793.9,837.2 L794.9,837.2 L795.9,837.1 L796.9,837.1 L797.9,837.1 L798.9,837.1 L799.9,837.1 L800.9,837.1 L801.9,837.1 L802.9,837.1 L803.9,837.1 L804.9,837.1 L805.9,837.1 L806.9,837.1 L807.9,837.1 L808.9,837.0 L809.9,837.0 L810.9,837.0 L811.9,837.0 L812.9,837.0 L813.9,837.0 L814.9,837.0 L815.9,837.0 L816.9,837.0 L817.9,837.0 L818.9,837.0 L819.9,837.0 L820.9,837.0 L821.9,836.9 L822.9,836.9 L823.9,836.9 L824.9,836.9 L825.9,836.9 L826.9,836.9 L827.9,836.9 L828.9,836.9 L829.9,836.9 L830.9,836.9 L831.9,836.9 L832.9,836.9 L833.9,836.9 L834.9,836.8 L835.9,836.8 L836.9,836.8 L837.9,836.8 L838.9,836.8 L839.9,836.8 L840.9,836.8 L841.9,836.8 L842.9,836.8 L843.9,836.8 L844.9,836.8 L845.9,836.8 L846.9,836.8 L847.9,836.8 L848.9,836.7 L849.9,836.7 L850.9,836.7 L851.9,836.7 L852.9,836.7 L853.9,836.7 L854.9,836.7 L855.9,836.7 L856.9,836.7 L857.9,836.7 L858.9,836.7 L859.9,836.7 L860.9,836.7 L861.9,836.6 L862.9,836.6 L863.9,836.6 L864.9,836.6 L865.9,836.6 L866.9,836.6 L867.9,836.6 L868.9,836.6 L869.9,836.6 L870.9,836.6 L871.9,836.6 L872.9,836.6 L873.9,836.6 L874.9,836.5 L875.9,836.5 L876.9,836.5 L877.9,836.5 L878.9,836.5 L879.9,836.5 L880.9,836.5 L881.9,836.5 L882.9,836.5 L883.9,836.5 L884.9,836.5 L885.9,836.5 L886.9,836.5 L887.9,836.5 L888.9,836.5 L889.9,836.4 L890.9,836.4 L891.9,836.4 L892.9,836.4 L893.9,836.4 L894.9,836.4 L895.9,836.4 L896.9,836.5 L897.9,836.5 L898.9,836.5 L899.9,836.5 L900.9,836.5 L901.9,836.5 L902.9,836.5 L903.9,836.5 L904.9,836.5 L905.9,836.5 L906.9,836.6 L907.9,836.6 L908.9,836.6 L909.9,836.6 L910.9,836.6 L911.9,836.6 L912.9,836.6 L913.9,836.7 L914.9,836.7 L915.9,836.7 L916.9,836.7 L917.9,836.7 L918.9,836.7 L919.9,836.7 L920.9,836.7 L921.9,836.8 L922.9,836.8 L923.9,836.8 L924.9,836.8 L925.9,836.8 L926.9,836.8 L927.9,836.8 L928.9,836.9 L929.9,836.9 L930.9,836.9 L931.9,836.9 L932.9,836.9 L933.9,836.9 L934.9,836.9 L935.9,836.9 L936.9,837.0 L937.9,837.0 L938.9,837.0 L939.9,837.0 L940.9,837.0 L941.9,837.0 L942.9,837.0 L943.9,837.1 L944.9,837.1 L945.9,837.1 L946.9,837.1 L947.9,837.1 L948.9,837.1 L949.9,837.1 L950.9,837.1 L951.9,837.2 L952.9,837.2 L953.9,837.2 L954.9,837.2 L955.9,837.2 L956.9,837.2 L957.9,837.2 L958.9,837.3 L959.9,837.3 L960.9,837.3 L961.9,837.3 L962.9,837.3 L963.9,837.3 L964.9,837.3 L965.9,837.3 L966.9,837.4 L967.9,837.4 L968.9,837.4 L969.9,837.4 L970.9,837.4 L971.9,837.4 L972.9,837.4 L973.9,837.5 L974.9,837.5 L975.9,837.5 L976.9,837.5 L977.9,837.5 L978.9,837.5 L979.9,837.5 L980.9,837.5 L981.9,837.6 L982.9,837.6 L983.9,837.6 L984.9,837.6 L985.9,837.6 L986.9,837.6 L987.9,837.6 L988.9,837.7 L989.9,837.7 L990.9,837.7 L991.9,837.7 L992.9,837.7 L993.9,837.7 L994.9,837.7 L995.9,837.7 L996.9,837.8 L997.9,837.8 L998.9,837.8 L999.9,837.8 L1000.9,837.8 L1001.9,837.8 L1002.9,837.8 L1003.9,837.9 L1004.9,837.9 L1005.9,837.9 L1006.9,837.9 L1007.9,837.9 L1008.9,837.9 L1009.9,837.9 L1010.9,837.9 L1011.9,838.0 L1012.9,838.0 L1013.9,838.0 L1014.9,838.0 L1015.9,838.0 L1016.9,838.0 L1017.9,838.0 L1018.9,838.1 L1019.9,838.1 L1020.9,838.1 L1021.9,838.1 L1022.9,838.1 L1023.9,838.1 L1024.9,838.1 L1025.9,838.1 L1026.9,838.2 L1027.9,838.2 L1028.9,838.2 L1029.9,838.2 L1030.9,838.2 L1031.9,838.2 L1032.9,838.2 L1033.9,838.3 L1034.9,838.3 L1035.9,838.3 L1036.9,838.3 L1037.9,838.3 L1038.9,838.3 L1039.9,838.3 L1040.9,838.3 L1041.9,838.4 L1042.9,838.4 L1043.9,838.4 L1044.9,838.4 L1045.9,838.4 L1046.9,838.4 L1047.9,838.4 L1048.9,838.4 L1049.9,838.5 L1050.9,838.5 L1051.9,838.5 L1052.9,838.5 L1053.9,838.5 L1054.9,838.5 L1055.9,838.5 L1056.9,838.6 L1057.9,838.6 L1058.9,838.6 L1059.9,838.6 L1060.9,838.6 L1061.9,838.7 L1062.9,838.7 L1063.9,838.7 L1064.9,838.8 L1065.9,838.8 L1066.9,838.9 L1067.9,838.9 L1068.9,839.0 L1069.9,839.1 L1070.9,839.2 L1071.9,839.2 L1072.9,839.3 L1073.9,839.4 L1074.9,839.6 L1075.9,839.7 L1076.9,839.8 L1077.9,839.9 L1078.9,840.0 L1079.9,840.1 L1080.9,840.2 L1081.9,840.3 L1082.9,840.5 L1083.9,840.6 L1084.9,840.7 L1085.9,840.8 L1086.9,840.9 L1087.9,841.0 L1088.9,841.2 L1089.9,841.3 L1090.9,841.4 L1091.9,841.5 L1092.9,841.6 L1093.9,841.7 L1094.9,841.9 L1095.9,842.0 L1096.9,842.1 L1097.9,842.2 L1098.9,842.3 L1099.9,842.4 L1100.9,842.6 L1101.9,842.7 L1102.9,842.8 L1103.9,842.9 L1104.9,843.0 L1105.9,843.1 L1106.9,843.3 L1107.9,843.4 L1108.9,843.5 L1109.9,843.6 L1110.9,843.7 L1111.9,843.8 L1112.9,843.9 L1113.9,844.1 L1114.9,844.2 L1115.9,844.3 L1116.9,844.4 L1117.9,844.5 L1118.9,844.6 L1119.9,844.8 L1120.9,844.9 L1121.9,845.0 L1122.9,845.1 L1123.9,845.2 L1124.9,845.3 L1125.9,845.5 L1126.9,845.6 L1127.9,845.7 L1128.9,845.8 L1129.9,845.9 L1130.9,846.0 L1131.9,846.2 L1132.9,846.3 L1133.9,846.4 L1134.9,846.5 L1135.9,846.6 L1136.9,846.7 L1137.9,846.9 L1138.9,847.0 L1139.9,847.1 L1140.9,847.2 L1141.9,847.3 L1142.9,847.4 L1143.9,847.6 L1144.9,847.7 L1145.9,847.8 L1146.9,847.9 L1147.9,848.0 L1148.9,848.1 L1149.9,848.2 L1150.9,848.4 L1151.9,848.5 L1152.9,848.6 L1153.9,848.7 L1154.9,848.8 L1155.9,848.9 L1156.9,849.1 L1157.9,849.2 L1158.9,849.3 L1159.9,849.4 L1160.9,849.5 L1161.9,849.6 L1162.9,849.8 L1163.9,849.9 L1164.9,850.0 L1165.9,850.1 L1166.9,850.2 L1167.9,850.3 L1168.9,850.5 L1169.9,850.6 L1170.9,850.7 L1171.9,850.8 L1172.9,850.9 L1173.9,851.0 L1174.9,851.2 L1175.9,851.3 L1176.9,851.4 L1177.9,851.5 L1178.9,851.6 L1179.9,851.7 L1180.9,851.9 L1181.9,852.0 L1182.9,852.1 L1183.9,852.2 L1184.9,852.3 L1185.9,852.4 L1186.9,852.5 L1187.9,852.7 L1188.9,852.8 L1189.9,852.9 L1190.9,853.0 L1191.9,853.1 L1192.9,853.2 L1193.9,853.4 L1194.9,853.5 L1195.9,853.6 L1196.9,853.7 L1197.9,853.8 L1198.9,853.9 L1199.9,854.1 L1200.9,854.2 L1201.9,854.3 L1202.9,854.4 L1203.9,854.5 L1204.9,854.6 L1205.9,854.8 L1206.9,854.9 L1207.9,855.0 L1208.9,855.1 L1209.9,855.2 L1210.9,855.3 L1211.9,855.5 L1212.9,855.6 L1213.9,855.7 L1214.9,855.8 L1215.9,855.9 L1216.9,856.0 L1217.9,856.2 L1218.9,856.3 L1219.9,856.4 L1220.9,856.5 L1221.9,856.6 L1222.9,856.7 L1223.9,856.8 L1224.9,857.0 L1225.9,857.1 L1226.9,857.2 L1227.9,857.3 L1228.9,857.4 L1229.9,857.5 L1230.9,857.7 L1231.9,857.8 L1232.9,857.9 L1233.9,858.0 L1234.9,858.2 L1235.9,858.3 L1236.9,858.5 L1237.9,858.6 L1238.9,858.8 L1239.9,859.0 L1240.9,859.2 L1241.9,859.4 L1242.9,859.6 L1243.9,859.8 L1244.9,860.1 L1245.9,860.3 L1246.9,860.6 L1247.9,860.9 L1248.9,861.1 L1249.9,861.4 L1250.9,861.7 L1251.9,862.0 L1252.9,862.2 L1253.9,862.5 L1254.9,862.8 L1255.9,863.1 L1256.9,863.4 L1257.9,863.6 L1258.9,863.9 L1259.9,864.2 L1260.9,864.5 L1261.9,864.8 L1262.9,865.1 L1263.9,865.3 L1264.9,865.6 L1265.9,865.9 L1266.9,866.2 L1267.9,866.5 L1268.9,866.7 L1269.9,867.0 L1270.9,867.3 L1271.9,867.6 L1272.9,867.9 L1273.9,868.1 L1274.9,868.4 L1275.9,868.7 L1276.9,869.0 L1277.9,869.3 L1278.9,869.6 L1279.9,869.8 L1280.9,870.1 L1281.9,870.4 L1282.9,870.7 L1283.9,871.0 L1284.9,871.2 L1285.9,871.5 L1286.9,871.8 L1287.9,872.1 L1288.9,872.4 L1289.9,872.7 L1290.9,872.9 L1291.9,873.2 L1292.9,873.5 L1293.9,873.8 L1294.9,874.1 L1295.9,874.3 L1296.9,874.6 L1297.9,874.9 L1298.9,875.2 L1299.9,875.5 L1300.9,875.7 L1301.9,876.0 L1302.9,876.3 L1303.9,876.6 L1304.9,876.9 L1305.9,877.2 L1306.9,877.4 L1307.9,877.7 L1308.9,878.0 L1309.9,878.3 L1310.9,878.6 L1311.9,878.8 L1312.9,879.1 L1313.9,879.4 L1314.9,879.7 L1315.9,880.0 L1316.9,880.3 L1317.9,880.5 L1318.9,880.8 L1319.9,881.1 L1320.9,881.4 L1321.9,881.7 L1322.9,881.9 L1323.9,882.2 L1324.9,882.5 L1325.9,882.8 L1326.9,883.1 L1327.9,883.4 L1328.9,883.6 L1329.9,883.9 L1330.9,884.2 L1331.9,884.5 L1332.9,884.8 L1333.9,885.0 L1334.9,885.3 L1335.9,885.6 L1336.9,885.9 L1337.9,886.2 L1338.9,886.4 L1339.9,886.7 L1340.9,887.0 L1341.9,887.3 L1342.9,887.6 L1343.9,887.9 L1344.9,888.1 L1345.9,888.4 L1346.9,888.7 L1347.9,889.0 L1348.9,889.3 L1349.9,889.5 L1350.9,889.8 L1351.9,890.1 L1352.9,890.4 L1353.9,890.7 L1354.9,891.0 L1355.9,891.2 L1356.9,891.5 L1357.9,891.8 L1358.9,892.1 L1359.9,892.4 L1360.9,892.6 L1361.9,892.9 L1362.9,893.2 L1363.9,893.5 L1364.9,893.8 L1365.9,894.1 L1366.9,894.3 L1367.9,894.6 L1368.9,894.9 L1369.9,895.2 L1370.9,895.5 L1371.9,895.7 L1372.9,896.0 L1373.9,896.3 L1374.9,896.6 L1375.9,896.9 L1376.9,897.1 L1377.9,897.4 L1378.9,897.7 L1379.9,898.0 L1380.9,898.3 L1381.9,898.6 L1382.9,898.8 L1383.9,899.1 L1384.9,899.4 L1385.9,899.7 L1386.9,900.0 L1387.9,900.2 L1388.9,900.5 L1389.9,900.8 L1390.9,901.1 L1391.9,901.4 L1392.9,901.7 L1393.9,901.9 L1394.9,902.2 L1395.9,902.5 L1396.9,902.8 L1397.9,903.1 L1398.9,903.3 L1399.9,903.6 L1400.9,903.9 L1401.9,904.2 L1402.9,904.5 L1403.9,904.7 L1404.9,905.0 L1405.9,905.3 L1406.9,905.6 L1407.9,905.8 L1408.9,906.1 L1409.9,906.4 L1410.9,906.6 L1411.9,906.9 L1412.9,907.1 L1413.9,907.4 L1414.9,907.6 L1415.9,907.8 L1416.9,908.0 L1417.9,908.3 L1418.9,908.5 L1419.9,908.7 L1420.9,908.9 L1421.9,909.1 L1422.9,909.3 L1423.9,909.4 L1424.9,909.6 L1425.9,909.8 L1426.9,910.0 L1427.9,910.2 L1428.9,910.4 L1429.9,910.6 L1430.9,910.8 L1431.9,911.0 L1432.9,911.2 L1433.9,911.3 L1434.9,911.5 L1435.9,911.7 L1436.9,911.9 L1437.9,912.1 L1438.9,912.3 L1439.9,912.5 L1440.9,912.7 L1441.9,912.9 L1442.9,913.1 L1443.9,913.3 L1444.9,913.4 L1445.9,913.6 L1446.9,913.8 L1447.9,914.0 L1448.9,914.2 L1449.9,914.4 L1450.9,914.6 L1451.9,914.8 L1452.9,915.0 L1453.9,915.2 L1454.9,915.3 L1455.9,915.5 L1456.9,915.7 L1457.9,915.9 L1458.9,916.1 L1459.9,916.3 L1460.9,916.5 L1461.9,916.7 L1462.9,916.9 L1463.9,917.1 L1464.9,917.2 L1465.9,917.4 L1466.9,917.6 L1467.9,917.8 L1468.9,918.0 L1469.9,918.2 L1470.9,918.4 L1471.9,918.6 L1472.9,918.8 L1473.9,919.0 L1474.9,919.1 L1475.9,919.3 L1476.9,919.5 L1477.9,919.7 L1478.9,919.9 L1479.9,920.1 L1480.9,920.3 L1481.9,920.5 L1482.9,920.7 L1483.9,920.9 L1484.9,921.0 L1485.9,921.2 L1486.9,921.4 L1487.9,921.6 L1488.9,921.8 L1489.9,922.0 L1490.9,922.2 L1491.9,922.4 L1492.9,922.6 L1493.9,922.8 L1494.9,923.0 L1495.9,923.1 L1496.9,923.3 L1497.9,923.5 L1498.9,923.7 L1499.9,923.9 L1500.9,924.1 L1501.9,924.3 L1502.9,924.5 L1503.9,924.7 L1504.9,924.9 L1505.9,925.0 L1506.9,925.2 L1507.9,925.4 L1508.9,925.6 L1509.9,925.8 L1510.9,926.0 L1511.9,926.2 L1512.9,926.4 L1513.9,926.6 L1514.9,926.8 L1515.9,926.9 L1516.9,927.1 L1517.9,927.3 L1518.9,927.5 L1519.9,927.7 L1520.9,927.9 L1521.9,928.1 L1522.9,928.3 L1523.9,928.5 L1524.9,928.7 L1525.9,928.8 L1526.9,929.0 L1527.9,929.2 L1528.9,929.4 L1529.9,929.6 L1530.9,929.8 L1531.9,930.0 L1532.9,930.2 L1533.9,930.4 L1534.9,930.6 L1535.9,930.8 L1536.9,930.9 L1537.9,931.1 L1538.9,931.3 L1539.9,931.5 L1540.9,931.7 L1541.9,931.9 L1542.9,932.1 L1543.9,932.3 L1544.9,932.5 L1545.9,932.7 L1546.9,932.8 L1547.9,933.0 L1548.9,933.2 L1549.9,933.4 L1550.9,933.6 L1551.9,933.8 L1552.9,934.0 L1553.9,934.2 L1554.9,934.4 L1555.9,934.6 L1556.9,934.7 L1557.9,934.9 L1558.9,935.1 L1559.9,935.3 L1560.9,935.5 L1561.9,935.7 L1562.9,935.9 L1563.9,936.1 L1564.9,936.3 L1565.9,936.5 L1566.9,936.6 L1567.9,936.8 L1568.9,937.0 L1569.9,937.2 L1570.9,937.4 L1571.9,937.6 L1572.9,937.8 L1573.9,938.0 L1574.9,938.2 L1575.9,938.4 L1576.9,938.5 L1577.9,938.7 L1578.9,938.9 L1579.9,939.1 L1580.9,939.3 L1581.9,939.5 L1582.9,939.6 L1583.9,939.8 L1584.9,940.0 L1585.9,940.1 L1586.9,940.3 L1587.9,940.4 L1588.9,940.6 L1589.9,940.7 L1590.9,940.8 L1591.9,940.9 L1592.9,941.1 L1593.9,941.2 L1594.9,941.3 L1595.9,941.4 L1596.9,941.5 L1597.9,941.6 L1598.9,941.7 L1599.9,941.8 L1600.9,942.0 L1601.9,942.1 L1602.9,942.2 L1603.9,942.3 L1604.9,942.4 L1605.9,942.5 L1606.9,942.6 L1607.9,942.7 L1608.9,942.8 L1609.9,942.9 L1610.9,943.1 L1611.9,943.2 L1612.9,943.3 L1613.9,943.4 L1614.9,943.5 L1615.9,943.6 L1616.9,943.7 L1617.9,943.8 L1618.9,943.9 L1619.9,944.0 L1620.9,944.1 L1621.9,944.3 L1622.9,944.4 L1623.9,944.5 L1624.9,944.6 L1625.9,944.7 L1626.9,944.8 L1627.9,944.9 L1628.9,945.0 L1629.9,945.1 L1630.9,945.2 L1631.9,945.3 L1632.9,945.5 L1633.9,945.6 L1634.9,945.7 L1635.9,945.8 L1636.9,945.9 L1637.9,946.0 L1638.9,946.1 L1639.9,946.2 L1640.9,946.3 L1641.9,946.4 L1642.9,946.5 L1643.9,946.7 L1644.9,946.8 L1645.9,946.9 L1646.9,947.0 L1647.9,947.1 L1648.9,947.2 L1649.9,947.3 L1650.9,947.4 L1651.9,947.5 L1652.9,947.6 L1653.9,947.7 L1654.9,947.9 L1655.9,948.0 L1656.9,948.1 L1657.9,948.2 L1658.9,948.3 L1659.9,948.4 L1660.9,948.5 L1661.9,948.6 L1662.9,948.7 L1663.9,948.8 L1664.9,948.9 L1665.9,949.1 L1666.9,949.2 L1667.9,949.3 L1668.9,949.4 L1669.9,949.5 L1670.9,949.6 L1671.9,949.7 L1672.9,949.8 L1673.9,949.9 L1674.9,950.0 L1675.9,950.1 L1676.9,950.3 L1677.9,950.4 L1678.9,950.5 L1679.9,950.6 L1680.9,950.7 L1681.9,950.8 L1682.9,950.9 L1683.9,951.0 L1684.9,951.1 L1685.9,951.2 L1686.9,951.3 L1687.9,951.5 L1688.9,951.6 L1689.9,951.7 L1690.9,951.8 L1691.9,951.9 L1692.9,952.0 L1693.9,952.1 L1694.9,952.2 L1695.9,952.3 L1696.9,952.4 L1697.9,952.6 L1698.9,952.7 L1699.9,952.8 L1700.9,952.9 L1701.9,953.0 L1702.9,953.1 L1703.9,953.2 L1704.9,953.3 L1705.9,953.4 L1706.9,953.5 L1707.9,953.6 L1708.9,953.8 L1709.9,953.9 L1710.9,954.0 L1711.9,954.1 L1712.9,954.2 L1713.9,954.3 L1714.9,954.4 L1715.9,954.5 L1716.9,954.6 L1717.9,954.7 L1718.9,954.8 L1719.9,955.0 L1720.9,955.1 L1721.9,955.2 L1722.9,955.3 L1723.9,955.4 L1724.9,955.5 L1725.9,955.6 L1726.9,955.7 L1727.9,955.8 L1728.9,955.9 L1729.9,956.0 L1730.9,956.2 L1731.9,956.3 L1732.9,956.4 L1733.9,956.5 L1734.9,956.6 L1735.9,956.7 L1736.9,956.8 L1737.9,956.9 L1738.9,957.0 L1739.9,957.1 L1740.9,957.2 L1741.9,957.4 L1742.9,957.5 L1743.9,957.6 L1744.9,957.7 L1745.9,957.8 L1746.9,957.9 L1747.9,958.0 L1748.9,958.1 L1749.9,958.2 L1750.9,958.3 L1751.9,958.4 L1752.9,958.6 L1753.9,958.7 L1754.9,958.8 L1755.9,958.9 L1756.9,959.0 L1757.9,959.1 L1758.9,959.2 L1759.9,959.3 L1760.9,959.4 L1761.9,959.5 L1762.9,959.6 L1763.9,959.8 L1764.9,959.9 L1765.9,960.0 L1766.9,960.1 L1767.9,960.2 L1768.9,960.3 L1769.9,960.4 L1770.9,960.5 L1771.9,960.6 L1772.9,960.7 L1773.9,960.9 L1774.9,961.0 L1775.9,961.1 L1776.9,961.2 L1777.9,961.3 L1778.9,961.4 L1779.9,961.5 L1780.9,961.6 L1781.9,961.7 L1782.9,961.8 L1783.9,961.9 L1784.9,962.1 L1785.9,962.2 L1786.9,962.3 L1787.9,962.4 L1788.9,962.5 L1789.9,962.6 L1790.9,962.7 L1791.9,962.8 L1792.9,962.9 L1793.9,963.0 L1794.9,963.1 L1795.9,963.3 L1796.9,963.4 L1797.9,963.5 L1798.9,963.6 L1799.9,963.7 L1800.9,963.8 L1801.9,963.9 L1802.9,964.0 L1803.9,964.1 L1804.9,964.2 L1805.9,964.3 L1806.9,964.5 L1807.9,964.6 L1808.9,964.7 L1809.9,964.8 L1810.9,964.9 L1811.9,965.0 L1812.9,965.1 L1813.9,965.2 L1814.9,965.3 L1815.9,965.4 L1816.9,965.5 L1817.9,965.7 L1818.9,965.8 L1819.9,965.9 L1820.9,966.0 L1821.9,966.1 L1822.9,966.2 L1823.9,966.3 L1824.9,966.4 L1825.9,966.5 L1826.9,966.6 L1827.9,966.7 L1828.9,966.9 L1829.9,967.0 L1830.9,967.1 L1831.9,967.2 L1832.9,967.3 L1833.9,967.4 L1834.9,967.5 L1835.9,967.6 L1836.9,967.7 L1837.9,967.8 L1838.9,967.9 L1839.9,968.1 L1840.9,968.2 L1841.9,968.3 L1842.9,968.4 L1843.9,968.5 L1844.9,968.6 L1845.9,968.7 L1846.9,968.8 L1847.9,968.9 L1848.9,969.0 L1849.9,969.2 L1850.9,969.3 L1851.9,969.4 L1852.9,969.5 L1853.9,969.6 L1854.9,969.7 L1855.9,969.8 L1856.9,969.9 L1857.9,970.0 L1858.9,970.1 L1859.9,970.2 L1860.9,970.4 L1861.9,970.5 L1862.9,970.6 L1863.9,970.7 L1864.9,970.8 L1865.9,970.9 L1866.9,971.0 L1867.9,971.1 L1868.9,971.2 L1869.9,971.3 L1870.9,971.4 L1871.9,971.6 L1872.9,971.7 L1873.9,971.8 L1874.9,971.9 L1875.9,972.0 L1876.9,972.1 L1877.9,972.2 L1878.9,972.3 L1879.9,972.4 L1880.9,972.5 L1881.9,972.6 L1882.9,972.8 L1883.9,972.9 L1884.9,973.0 L1885.9,973.1 L1886.9,973.2 L1887.9,973.3 L1888.9,973.4 L1889.9,973.5 L1890.9,973.6 L1891.9,973.7 L1892.9,973.8 L1893.9,974.0 L1894.9,974.1 L1895.9,974.2 L1896.9,974.3 L1897.9,974.4 L1898.9,974.5 L1899.9,974.6 L1900.9,974.7 L1901.9,974.8 L1902.9,974.9 L1903.9,975.0 L1904.9,975.2 L1905.9,975.3 L1906.9,975.4 L1907.9,975.5 L1908.9,975.6 L1909.9,975.7 L1910.9,975.8 L1911.9,975.9 L1912.9,976.0 L1913.9,976.1 L1914.9,976.2 L1915.9,976.4 L1916.9,976.5 L1917.9,976.6 L1918.9,976.7 L1919.9,976.8 L1920.9,976.9 L1921.9,977.0 L1922.9,977.1 L1923.9,977.2 L1924.9,977.3 L1925.9,977.4 L1926.9,977.6 L1927.9,977.7 L1928.9,977.8 L1929.9,977.9 L1930.9,978.0 L1931.9,978.1 L1932.9,978.2 L1933.9,978.3 L1934.9,978.4 L1935.9,978.5 L1936.9,978.7 L1937.9,978.8 L1938.9,978.9 L1939.9,979.0 L1940.9,979.1 L1941.9,979.2 L1942.9,979.3 L1943.9,979.4 L1944.9,979.5 L1945.9,979.6 L1946.9,979.7 L1947.9,979.9 L1948.9,980.0 L1949.9,980.1 L1950.9,980.2 L1951.9,980.3 L1952.9,980.4 L1953.9,980.5 L1954.9,980.6 L1955.9,980.7 L1956.9,980.8 L1957.9,980.9 L1958.9,981.1 L1959.9,981.2 L1960.9,981.3 L1961.9,981.4 L1962.9,981.5 L1963.9,981.6 L1964.9,981.7 L1965.9,981.8 L1966.9,981.9 L1967.9,982.0 L1968.9,982.1 L1969.9,982.3 L1970.9,982.4 L1971.9,982.5 L1972.9,982.6 L1973.9,982.7 L1974.9,982.8 L1975.9,982.9 L1976.9,983.0 L1977.9,983.1 L1978.9,983.2 L1979.9,983.3 L1980.9,983.5 L1981.9,983.6 L1982.9,983.7 L1983.9,983.8 L1984.9,983.9 L1985.9,984.0 L1986.9,984.1 L1987.9,984.2 L1988.9,984.3 L1989.9,984.4 L1990.9,984.5 L1991.9,984.7 L1992.9,984.8 L1993.9,984.9 L1994.9,985.0 L1995.9,985.1 L1996.9,985.2 L1997.9,985.3 L1998.9,985.4 L1999.9,985.5 L2000.9,985.6 L2001.9,985.7 L2002.9,985.9 L2003.9,986.0 L2004.9,986.1 L2005.9,986.2 L2006.9,986.3 L2007.9,986.4 L2008.9,986.5 L2009.9,986.6 L2010.9,986.7 L2011.9,986.8 L2012.9,987.0 L2013.9,987.1 L2014.9,987.2 L2015.9,987.3 L2016.9,987.4 L2017.9,987.5 L2018.9,987.6 L2019.9,987.7 L2020.9,987.8 L2021.9,987.9 L2022.9,988.0 L2023.9,988.2 L2024.9,988.3 L2025.9,988.4 L2026.9,988.5 L2027.9,988.6 L2028.9,988.7 L2029.9,988.8 L2030.9,988.9 L2031.9,989.0 L2032.9,989.1 L2033.9,989.2 L2034.9,989.4 L2035.9,989.5 L2036.9,989.6 L2037.9,989.7 L2038.9,989.8 L2039.9,989.9 L2040.9,990.0 L2041.9,990.1 L2042.9,990.2 L2043.9,990.3 L2044.9,990.4 L2045.9,990.6 L2046.9,990.7 L2047.9,990.8 L2048.9,990.9 L2049.9,991.0 L2050.9,991.1 L2051.9,991.2 L2052.9,991.3 L2053.9,991.4 L2054.9,991.5 L2055.9,991.6 L2056.9,991.8 L2057.9,991.9 L2058.9,992.0 L2059.9,992.1 L2060.9,992.2 L2061.9,992.3 L2062.9,992.4 L2063.9,992.5 L2064.9,992.6 L2065.9,992.7 L2066.9,992.8 L2067.9,993.0 L2068.9,993.1 L2069.9,993.2 L2070.9,993.3 L2071.9,993.4 L2072.9,993.5 L2073.9,993.6 L2074.9,993.7 L2075.9,993.8 L2076.9,993.9 L2077.9,994.0 L2078.9,994.2 L2079.9,994.3 L2080.9,994.4 L2081.9,994.5 L2082.9,994.6 L2083.9,994.7 L2084.9,994.8 L2085.9,994.9 L2086.9,995.0 L2087.9,995.1 L2088.9,995.3 L2089.9,995.4 L2090.9,995.5 L2091.9,995.6 L2092.9,995.7 L2093.9,995.8 L2094.9,995.9 L2095.9,996.0 L2096.9,996.1 L2097.9,996.2 L2098.9,996.3 L2099.9,996.5 L2100.9,996.6 L2101.9,996.7 L2102.9,996.8 L2103.9,996.9 L2104.9,997.0 L2105.9,997.1 L2106.9,997.2 L2107.9,997.3 L2108.9,997.4 L2109.9,997.5 L2110.9,997.7 L2111.9,997.8 L2112.9,997.9 L2113.9,998.0 L2114.9,998.1 L2115.9,998.2 L2116.9,998.3 L2117.9,998.4 L2118.9,998.5 L2119.9,998.6 L2120.9,998.7 L2121.9,998.9 L2122.9,999.0 L2123.9,999.1 L2124.9,999.2 L2125.9,999.3 L2126.9,999.4 L2127.9,999.5 L2128.9,999.6 L2129.9,999.7 L2130.9,999.8 L2131.9,999.9 L2132.9,1000.1 L2133.9,1000.2 L2134.9,1000.3 L2135.9,1000.4 L2136.9,1000.5 L2137.9,1000.6 L2138.9,1000.7 L2139.9,1000.8 L2140.9,1000.9 L2141.9,1001.0 L2142.9,1001.1 L2143.9,1001.3 L2144.9,1001.4 L2145.9,1001.5 L2146.9,1001.6 L2147.9,1001.7 L2148.9,1001.8 L2149.9,1001.9 L2150.9,1002.0 L2151.9,1002.1 L2152.9,1002.2 L2153.9,1002.3 L2154.9,1002.5 L2155.9,1002.6 L2156.9,1002.7 L2157.9,1002.8 L2158.9,1002.9 L2159.9,1003.0 L2160.9,1003.1 L2161.9,1003.2 L2162.9,1003.3 L2163.9,1003.4 L2164.9,1003.5 L2165.9,1003.7 L2166.9,1003.8 L2167.9,1003.9 L2168.9,1004.0 L2169.9,1004.1 L2170.9,1004.2 L2171.9,1004.3 L2172.9,1004.4 L2173.9,1004.5 L2174.9,1004.6 L2175.9,1004.8 L2176.9,1004.9 L2177.9,1005.0 L2178.9,1005.1 L2179.9,1005.2 L2180.9,1005.3 L2181.9,1005.4 L2182.9,1005.5 L2183.9,1005.6 L2184.9,1005.7 L2185.9,1005.8 L2186.9,1006.0 L2187.9,1006.1 L2188.9,1006.2 L2189.9,1006.3 L2190.9,1006.4 L2191.9,1006.5 L2192.9,1006.6 L2193.9,1006.7 L2194.9,1006.8 L2195.9,1006.9 L2196.9,1007.0 L2197.9,1007.2 L2198.9,1007.3 L2199.9,1007.4 L2200.9,1007.5 L2201.9,1007.6 L2202.9,1007.7 L2203.9,1007.8 L2204.9,1007.9 L2205.9,1008.0 L2206.9,1008.1 L2207.9,1008.2 L2208.9,1008.4 L2209.9,1008.5 L2210.9,1008.6 L2211.9,1008.7 L2212.9,1008.8 L2213.9,1008.9 L2214.9,1009.0 L2215.9,1009.1 L2216.9,1009.2 L2217.9,1009.3 L2218.9,1009.4 L2219.9,1009.6 L2220.9,1009.7 L2221.9,1009.8 L2222.9,1009.9 L2223.9,1010.0 L2224.9,1010.1 L2225.9,1010.2 L2226.9,1010.3 L2227.9,1010.4 L2228.9,1010.5 L2229.9,1010.6 L2230.9,1010.8 L2231.9,1010.9 L2232.9,1011.0 L2233.9,1011.1 L2234.9,1011.2 L2235.9,1011.3 L2236.9,1011.4 L2237.9,1011.5 L2238.9,1011.6 L2239.9,1011.7 L2240.9,1011.8 L2241.9,1012.0 L2242.9,1012.1 L2243.9,1012.2 L2244.9,1012.3 L2245.9,1012.4 L2246.9,1012.5 L2247.9,1012.6 L2248.9,1012.7 L2249.9,1012.8 L2250.9,1012.9 L2251.9,1013.1 L2252.9,1013.2 L2253.9,1013.3 L2254.9,1013.4 L2255.9,1013.5 L2256.9,1013.6 L2257.9,1013.7 L2258.9,1013.8 L2259.9,1013.9 L2260.9,1014.0 L2261.9,1014.1 L2262.9,1014.3 L2263.9,1014.4 L2264.9,1014.5 L2265.9,1014.6 L2266.9,1014.7 L2267.9,1014.8 L2268.9,1014.9 L2269.9,1015.0 L2270.9,1015.1 L2271.9,1015.2 L2272.9,1015.3 L2273.9,1015.5 L2274.9,1015.6 L2275.9,1015.7 L2276.9,1015.8 L2277.9,1015.9 L2278.9,1016.0 L2279.9,1016.1 L2280.9,1016.2 L2281.9,1016.3 L2282.9,1016.4 L2283.9,1016.5 L2284.9,1016.7 L2285.9,1016.8 L2286.9,1016.9 L2287.9,1017.0 L2288.9,1017.1 L2289.9,1017.2 L2290.9,1017.3 L2291.9,1017.4 L2292.9,1017.5 L2293.9,1017.6 L2294.9,1017.7 L2295.9,1017.9 L2296.9,1018.0 L2297.9,1018.1 L2298.9,1018.2 L2299.9,1018.3 L2300.9,1018.4 L2301.9,1018.5 L2302.9,1018.6 L2303.9,1018.7 L2304.9,1018.8 L2305.9,1018.9 L2306.9,1019.1 L2307.9,1019.2 L2308.9,1019.3 L2309.9,1019.4 L2310.9,1019.5 L2311.9,1019.6 L2312.9,1019.7 L2313.9,1019.8 L2314.9,1019.9 L2315.9,1020.0 L2316.9,1020.1 L2317.9,1020.3 L2318.9,1020.4 L2319.9,1020.5 L2320.9,1020.6 L2321.9,1020.7 L2322.9,1020.8 L2323.9,1020.9 L2324.9,1021.0 L2325.9,1021.1 L2326.9,1021.2 L2327.9,1021.4 L2328.9,1021.5 L2329.9,1021.6 L2330.9,1021.7 L2331.9,1021.8 L2332.9,1021.9 L2333.9,1022.0 L2334.9,1022.1 L2335.9,1022.2 L2336.9,1022.3 L2337.9,1022.4 L2338.9,1022.6 L2339.9,1022.7 L2340.9,1022.8 L2341.9,1022.9 L2342.9,1023.0 L2343.9,1023.1 L2344.9,1023.2 L2345.9,1023.3 L2346.9,1023.4 L2347.9,1023.5 L2348.9,1023.6 L2349.9,1023.8 L2350.9,1023.9 L2351.9,1024.0 L2352.9,1024.1 L2353.9,1024.2 L2354.9,1024.3 L2355.9,1024.4 L2356.9,1024.5 L2357.9,1024.6 L2358.9,1024.7 L2359.9,1024.8 L2360.9,1024.9 L2361.9,1025.0 L2362.9,1025.0 L2363.9,1025.1 L2364.9,1025.2" fill="none" stroke="#440154" stroke-width="2.0" stroke-linejoin="round" stroke-linecap="butt"/>
<path d="M202.9,1123.9 L203.9,1124.0 L204.9,1124.0 L205.9,1124.1 L206.9,1124.2 L207.9,1124.4 L208.9,1124.5 L209.9,1124.6 L210.9,1124.7 L211.9,1124.9 L212.9,1125.0 L213.9,1125.1 L214.9,1125.3 L215.9,1125.4 L216.9,1125.5 L217.9,1125.7 L218.9,1125.8 L219.9,1126.0 L220.9,1126.1 L221.9,1126.2 L222.9,1126.4 L223.9,1126.5 L224.9,1126.7 L225.9,1126.8 L226.9,1126.9 L227.9,1127.1 L228.9,1127.2 L229.9,1127.4 L230.9,1127.5 L231.9,1127.6 L232.9,1127.8 L233.9,1127.9 L234.9,1128.0 L235.9,1128.2 L236.9,1128.3 L237.9,1128.5 L238.9,1128.6 L239.9,1128.7 L240.9,1128.9 L241.9,1129.0 L242.9,1129.2 L243.9,1129.3 L244.9,1129.4 L245.9,1129.6 L246.9,1129.7 L247.9,1129.9 L248.9,1130.0 L249.9,1130.1 L250.9,1130.3 L251.9,1130.4 L252.9,1130.5 L253.9,1130.7 L254.9,1130.8 L255.9,1131.0 L256.9,1131.1 L257.9,1131.2 L258.9,1131.4 L259.9,1131.5 L260.9,1131.7 L261.9,1131.8 L262.9,1131.9 L263.9,1132.1 L264.9,1132.2 L265.9,1132.4 L266.9,1132.5 L267.9,1132.6 L268.9,1132.8 L269.9,1132.9 L270.9,1133.0 L271.9,1133.2 L272.9,1133.3 L273.9,1133.5 L274.9,1133.6 L275.9,1133.7 L276.9,1133.9 L277.9,1134.0 L278.9,1134.2 L279.9,1134.3 L280.9,1134.4 L281.9,1134.6 L282.9,1134.7 L283.9,1134.9 L284.9,1135.0 L285.9,1135.1 L286.9,1135.3 L287.9,1135.4 L288.9,1135.5 L289.9,1135.7 L290.9,1135.8 L291.9,1136.0 L292.9,1136.1 L293.9,1136.2 L294.9,1136.4 L295.9,1136.5 L296.9,1136.7 L297.9,1136.8 L298.9,1136.9 L299.9,1137.1 L300.9,1137.2 L301.9,1137.4 L302.9,1137.5 L303.9,1137.6 L304.9,1137.8 L305.9,1137.9 L306.9,1138.1 L307.9,1138.2 L308.9,1138.3 L309.9,1138.5 L310.9,1138.6 L311.9,1138.7 L312.9,1138.9 L313.9,1139.0 L314.9,1139.2 L315.9,1139.3 L316.9,1139.4 L317.9,1139.6 L318.9,1139.7 L319.9,1139.9 L320.9,1140.0 L321.9,1140.1 L322.9,1140.3 L323.9,1140.4 L324.9,1140.6 L325.9,1140.7 L326.9,1140.8 L327.9,1141.0 L328.9,1141.1 L329.9,1141.2 L330.9,1141.4 L331.9,1141.5 L332.9,1141.7 L333.9,1141.8 L334.9,1141.9 L335.9,1142.1 L336.9,1142.2 L337.9,1142.4 L338.9,1142.5 L339.9,1142.6 L340.9,1142.8 L341.9,1142.9 L342.9,1143.1 L343.9,1143.2 L344.9,1143.3 L345.9,1143.5 L346.9,1143.6 L347.9,1143.7 L348.9,1143.9 L349.9,1144.0 L350.9,1144.2 L351.9,1144.3 L352.9,1144.4 L353.9,1144.6 L354.9,1144.7 L355.9,1144.9 L356.9,1145.0 L357.9,1145.1 L358.9,1145.3 L359.9,1145.4 L360.9,1145.6 L361.9,1145.7 L362.9,1145.8 L363.9,1146.0 L364.9,1146.1 L365.9,1146.2 L366.9,1146.4 L367.9,1146.5 L368.9,1146.7 L369.9,1146.8 L370.9,1146.9 L371.9,1147.1 L372.9,1147.2 L373.9,1147.4 L374.9,1147.5 L375.9,1147.6 L376.9,1147.8 L377.9,1147.9 L378.9,1148.1 L379.9,1148.2 L380.9,1148.3 L381.9,1148.5 L382.9,1148.6 L383.9,1148.7 L384.9,1148.9 L385.9,1149.0 L386.9,1149.2 L387.9,1149.3 L388.9,1149.4 L389.9,1149.6 L390.9,1149.7 L391.9,1149.9 L392.9,1150.0 L393.9,1150.1 L394.9,1150.3 L395.9,1150.4 L396.9,1150.6 L397.9,1150.7 L398.9,1150.8 L399.9,1151.0 L400.9,1151.1 L401.9,1151.3 L402.9,1151.4 L403.9,1151.5 L404.9,1151.7 L405.9,1151.8 L406.9,1151.9 L407.9,1152.1 L408.9,1152.2 L409.9,1152.4 L410.9,1152.5 L411.9,1152.6 L412.9,1152.8 L413.9,1152.9 L414.9,1153.1 L415.9,1153.2 L416.9,1153.3 L417.9,1153.5 L418.9,1153.6 L419.9,1153.8 L420.9,1153.9 L421.9,1154.0 L422.9,1154.2 L423.9,1154.3 L424.9,1154.4 L425.9,1154.6 L426.9,1154.7 L427.9,1154.9 L428.9,1155.0 L429.9,1155.1 L430.9,1155.3 L431.9,1155.4 L432.9,1155.6 L433.9,1155.7 L434.9,1155.8 L435.9,1156.0 L436.9,1156.1 L437.9,1156.3 L438.9,1156.4 L439.9,1156.5 L440.9,1156.7 L441.9,1156.8 L442.9,1156.9 L443.9,1157.1 L444.9,1157.2 L445.9,1157.4 L446.9,1157.5 L447.9,1157.6 L448.9,1157.8 L449.9,1157.9 L450.9,1158.1 L451.9,1158.2 L452.9,1158.3 L453.9,1158.5 L454.9,1158.6 L455.9,1158.8 L456.9,1158.9 L457.9,1159.0 L458.9,1159.2 L459.9,1159.3 L460.9,1159.4 L461.9,1159.6 L462.9,1159.7 L463.9,1159.9 L464.9,1160.0 L465.9,1160.1 L466.9,1160.3 L467.9,1160.4 L468.9,1160.6 L469.9,1160.7 L470.9,1160.8 L471.9,1161.0 L472.9,1161.1 L473.9,1161.3 L474.9,1161.4 L475.9,1161.5 L476.9,1161.7 L477.9,1161.8 L478.9,1161.9 L479.9,1162.1 L480.9,1162.2 L481.9,1162.4 L482.9,1162.5 L483.9,1162.6 L484.9,1162.8 L485.9,1162.9 L486.9,1163.1 L487.9,1163.2 L488.9,1163.3 L489.9,1163.5 L490.9,1163.6 L491.9,1163.8 L492.9,1163.9 L493.9,1164.0 L494.9,1164.2 L495.9,1164.3 L496.9,1164.5 L497.9,1164.6 L498.9,1164.7 L499.9,1164.9 L500.9,1165.0 L501.9,1165.1 L502.9,1165.3 L503.9,1165.4 L504.9,1165.6 L505.9,1165.7 L506.9,1165.8 L507.9,1166.0 L508.9,1166.1 L509.9,1166.3 L510.9,1166.4 L511.9,1166.5 L512.9,1166.7 L513.9,1166.8 L514.9,1167.0 L515.9,1167.1 L516.9,1167.2 L517.9,1167.4 L518.9,1167.5 L519.9,1167.6 L520.9,1167.8 L521.9,1167.9 L522.9,1168.1 L523.9,1168.2 L524.9,1168.3 L525.9,1168.5 L526.9,1168.6 L527.9,1168.8 L528.9,1168.9 L529.9,1169.0 L530.9,1169.2 L531.9,1169.3 L532.9,1169.5 L533.9,1169.6 L534.9,1169.7 L535.9,1169.9 L536.9,1170.0 L537.9,1170.1 L538.9,1170.3 L539.9,1170.4 L540.9,1170.6 L541.9,1170.7 L542.9,1170.8 L543.9,1171.0 L544.9,1171.1 L545.9,1171.3 L546.9,1171.4 L547.9,1171.5 L548.9,1171.7 L549.9,1171.8 L550.9,1172.0 L551.9,1172.1 L552.9,1172.2 L553.9,1172.4 L554.9,1172.5 L555.9,1172.6 L556.9,1172.8 L557.9,1172.9 L558.9,1173.1 L559.9,1173.2 L560.9,1173.3 L561.9,1173.5 L562.9,1173.6 L563.9,1173.8 L564.9,1173.9 L565.9,1174.0 L566.9,1174.2 L567.9,1174.3 L568.9,1174.5 L569.9,1174.6 L570.9,1174.7 L571.9,1174.9 L572.9,1175.0 L573.9,1175.1 L574.9,1175.3 L575.9,1175.4 L576.9,1175.6 L577.9,1175.7 L578.9,1175.8 L579.9,1176.0 L580.9,1176.1 L581.9,1176.3 L582.9,1176.4 L583.9,1176.5 L584.9,1176.7 L585.9,1176.8 L586.9,1177.0 L587.9,1177.1 L588.9,1177.2 L589.9,1177.4 L590.9,1177.5 L591.9,1177.7 L592.9,1177.8 L593.9,1177.9 L594.9,1178.1 L595.9,1178.2 L596.9,1178.3 L597.9,1178.5 L598.9,1178.6 L599.9,1178.8 L600.9,1178.9 L601.9,1179.0 L602.9,1179.2 L603.9,1179.3 L604.9,1179.5 L605.9,1179.6 L606.9,1179.7 L607.9,1179.9 L608.9,1180.0 L609.9,1180.2 L610.9,1180.3 L611.9,1180.4 L612.9,1180.6 L613.9,1180.7 L614.9,1180.8 L615.9,1181.0 L616.9,1181.1 L617.9,1181.3 L618.9,1181.4 L619.9,1181.5 L620.9,1181.7 L621.9,1181.8 L622.9,1182.0 L623.9,1182.1 L624.9,1182.2 L625.9,1182.4 L626.9,1182.5 L627.9,1182.7 L628.9,1182.8 L629.9,1182.9 L630.9,1183.1 L631.9,1183.2 L632.9,1183.3 L633.9,1183.5 L634.9,1183.6 L635.9,1183.8 L636.9,1183.9 L637.9,1184.0 L638.9,1184.2 L639.9,1184.3 L640.9,1184.5 L641.9,1184.6 L642.9,1184.7 L643.9,1184.9 L644.9,1185.0 L645.9,1185.2 L646.9,1185.3 L647.9,1185.4 L648.9,1185.6 L649.9,1185.7 L650.9,1185.8 L651.9,1186.0 L652.9,1186.1 L653.9,1186.3 L654.9,1186.4 L655.9,1186.5 L656.9,1186.7 L657.9,1186.8 L658.9,1187.0 L659.9,1187.1 L660.9,1187.2 L661.9,1187.4 L662.9,1187.5 L663.9,1187.7 L664.9,1187.8 L665.9,1187.9 L666.9,1188.1 L667.9,1188.2 L668.9,1188.3 L669.9,1188.5 L670.9,1188.6 L671.9,1188.8 L672.9,1188.9 L673.9,1189.0 L674.9,1189.2 L675.9,1189.3 L676.9,1189.5 L677.9,1189.6 L678.9,1189.7 L679.9,1189.9 L680.9,1190.0 L681.9,1190.2 L682.9,1190.3 L683.9,1190.4 L684.9,1190.6 L685.9,1190.7 L686.9,1190.9 L687.9,1191.0 L688.9,1191.1 L689.9,1191.3 L690.9,1191.4 L691.9,1191.5 L692.9,1191.7 L693.9,1191.8 L694.9,1192.0 L695.9,1192.1 L696.9,1192.2 L697.9,1192.4 L698.9,1192.5 L699.9,1192.7 L700.9,1192.8 L701.9,1192.9 L702.9,1193.1 L703.9,1193.2 L704.9,1193.4 L705.9,1193.5 L706.9,1193.6 L707.9,1193.8 L708.9,1193.9 L709.9,1194.0 L710.9,1194.2 L711.9,1194.3 L712.9,1194.5 L713.9,1194.6 L714.9,1194.7 L715.9,1194.9 L716.9,1195.0 L717.9,1195.1 L718.9,1195.2 L719.9,1195.4 L720.9,1195.5 L721.9,1195.6 L722.9,1195.7 L723.9,1195.8 L724.9,1195.9 L725.9,1195.9 L726.9,1196.0 L727.9,1196.1 L728.9,1196.2 L729.9,1196.3 L730.9,1196.3 L731.9,1196.4 L732.9,1196.5 L733.9,1196.6 L734.9,1196.6 L735.9,1196.7 L736.9,1196.8 L737.9,1196.8 L738.9,1196.9 L739.9,1197.0 L740.9,1197.0 L741.9,1197.1 L742.9,1197.2 L743.9,1197.3 L744.9,1197.3 L745.9,1197.4 L746.9,1197.5 L747.9,1197.5 L748.9,1197.6 L749.9,1197.7 L750.9,1197.7 L751.9,1197.8 L752.9,1197.9 L753.9,1198.0 L754.9,1198.0 L755.9,1198.1 L756.9,1198.2 L757.9,1198.2 L758.9,1198.3 L759.9,1198.4 L760.9,1198.5 L761.9,1198.5 L762.9,1198.6 L763.9,1198.7 L764.9,1198.7 L765.9,1198.8 L766.9,1198.9 L767.9,1198.9 L768.9,1199.0 L769.9,1199.1 L770.9,1199.2 L771.9,1199.2 L772.9,1199.3 L773.9,1199.4 L774.9,1199.4 L775.9,1199.5 L776.9,1199.6 L777.9,1199.6 L778.9,1199.7 L779.9,1199.8 L780.9,1199.9 L781.9,1199.9 L782.9,1200.0 L783.9,1200.1 L784.9,1200.1 L785.9,1200.2 L786.9,1200.3 L787.9,1200.3 L788.9,1200.4 L789.9,1200.5 L790.9,1200.6 L791.9,1200.6 L792.9,1200.7 L793.9,1200.8 L794.9,1200.8 L795.9,1200.9 L796.9,1201.0 L797.9,1201.1 L798.9,1201.1 L799.9,1201.2 L800.9,1201.3 L801.9,1201.3 L802.9,1201.4 L803.9,1201.5 L804.9,1201.5 L805.9,1201.6 L806.9,1201.7 L807.9,1201.8 L808.9,1201.8 L809.9,1201.9 L810.9,1202.0 L811.9,1202.0 L812.9,1202.1 L813.9,1202.2 L814.9,1202.2 L815.9,1202.3 L816.9,1202.4 L817.9,1202.5 L818.9,1202.5 L819.9,1202.6 L820.9,1202.7 L821.9,1202.7 L822.9,1202.8 L823.9,1202.9 L824.9,1203.0 L825.9,1203.0 L826.9,1203.1 L827.9,1203.2 L828.9,1203.2 L829.9,1203.3 L830.9,1203.4 L831.9,1203.4 L832.9,1203.5 L833.9,1203.6 L834.9,1203.7 L835.9,1203.7 L836.9,1203.8 L837.9,1203.9 L838.9,1203.9 L839.9,1204.0 L840.9,1204.1 L841.9,1204.1 L842.9,1204.2 L843.9,1204.3 L844.9,1204.4 L845.9,1204.4 L846.9,1204.5 L847.9,1204.6 L848.9,1204.6 L849.9,1204.7 L850.9,1204.8 L851.9,1204.9 L852.9,1204.9 L853.9,1205.0 L854.9,1205.1 L855.9,1205.1 L856.9,1205.2 L857.9,1205.3 L858.9,1205.3 L859.9,1205.4 L860.9,1205.5 L861.9,1205.6 L862.9,1205.6 L863.9,1205.7 L864.9,1205.8 L865.9,1205.8 L866.9,1205.9 L867.9,1206.0 L868.9,1206.0 L869.9,1206.1 L870.9,1206.2 L871.9,1206.3 L872.9,1206.3 L873.9,1206.4 L874.9,1206.5 L875.9,1206.5 L876.9,1206.6 L877.9,1206.7 L878.9,1206.8 L879.9,1206.8 L880.9,1206.9 L881.9,1207.0 L882.9,1207.0 L883.9,1207.1 L884.9,1207.2 L885.9,1207.2 L886.9,1207.3 L887.9,1207.4 L888.9,1207.5 L889.9,1207.5 L890.9,1207.6 L891.9,1207.7 L892.9,1207.7 L893.9,1207.8 L894.9,1207.9 L895.9,1207.9 L896.9,1208.0 L897.9,1208.1 L898.9,1208.2 L899.9,1208.2 L900.9,1208.3 L901.9,1208.4 L902.9,1208.4 L903.9,1208.5 L904.9,1208.6 L905.9,1208.6 L906.9,1208.7 L907.9,1208.8 L908.9,1208.9 L909.9,1208.9 L910.9,1209.0 L911.9,1209.1 L912.9,1209.1 L913.9,1209.2 L914.9,1209.3 L915.9,1209.4 L916.9,1209.4 L917.9,1209.5 L918.9,1209.6 L919.9,1209.6 L920.9,1209.7 L921.9,1209.8 L922.9,1209.8 L923.9,1209.9 L924.9,1210.0 L925.9,1210.1 L926.9,1210.1 L927.9,1210.2 L928.9,1210.3 L929.9,1210.3 L930.9,1210.4 L931.9,1210.5 L932.9,1210.5 L933.9,1210.6 L934.9,1210.7 L935.9,1210.8 L936.9,1210.8 L937.9,1210.9 L938.9,1211.0 L939.9,1211.0 L940.9,1211.1 L941.9,1211.2 L942.9,1211.3 L943.9,1211.3 L944.9,1211.4 L945.9,1211.5 L946.9,1211.5 L947.9,1211.6 L948.9,1211.7 L949.9,1211.7 L950.9,1211.8 L951.9,1211.9 L952.9,1212.0 L953.9,1212.0 L954.9,1212.1 L955.9,1212.2 L956.9,1212.2 L957.9,1212.3 L958.9,1212.4 L959.9,1212.4 L960.9,1212.5 L961.9,1212.6 L962.9,1212.7 L963.9,1212.7 L964.9,1212.8 L965.9,1212.9 L966.9,1212.9 L967.9,1213.0 L968.9,1213.1 L969.9,1213.2 L970.9,1213.2 L971.9,1213.3 L972.9,1213.4 L973.9,1213.4 L974.9,1213.5 L975.9,1213.6 L976.9,1213.6 L977.9,1213.7 L978.9,1213.8 L979.9,1213.9 L980.9,1213.9 L981.9,1214.0 L982.9,1214.1 L983.9,1214.1 L984.9,1214.2 L985.9,1214.3 L986.9,1214.3 L987.9,1214.4 L988.9,1214.5 L989.9,1214.6 L990.9,1214.6 L991.9,1214.7 L992.9,1214.8 L993.9,1214.8 L994.9,1214.9 L995.9,1215.0 L996.9,1215.1 L997.9,1215.1 L998.9,1215.2 L999.9,1215.3 L1000.9,1215.3 L1001.9,1215.4 L1002.9,1215.5 L1003.9,1215.5 L1004.9,1215.6 L1005.9,1215.7 L1006.9,1215.8 L1007.9,1215.8 L1008.9,1215.9 L1009.9,1216.0 L1010.9,1216.0 L1011.9,1216.1 L1012.9,1216.2 L1013.9,1216.2 L1014.9,1216.3 L1015.9,1216.4 L1016.9,1216.5 L1017.9,1216.5 L1018.9,1216.6 L1019.9,1216.7 L1020.9,1216.7 L1021.9,1216.8 L1022.9,1216.9 L1023.9,1217.0 L1024.9,1217.0 L1025.9,1217.1 L1026.9,1217.2 L1027.9,1217.2 L1028.9,1217.3 L1029.9,1217.4 L1030.9,1217.4 L1031.9,1217.5 L1032.9,1217.6 L1033.9,1217.7 L1034.9,1217.7 L1035.9,1217.8 L1036.9,1217.9 L1037.9,1217.9 L1038.9,1218.0 L1039.9,1218.1 L1040.9,1218.1 L1041.9,1218.2 L1042.9,1218.3 L1043.9,1218.4 L1044.9,1218.4 L1045.9,1218.5 L1046.9,1218.6 L1047.9,1218.6 L1048.9,1218.7 L1049.9,1218.8 L1050.9,1218.8 L1051.9,1218.9 L1052.9,1219.0 L1053.9,1219.1 L1054.9,1219.1 L1055.9,1219.2 L1056.9,1219.3 L1057.9,1219.3 L1058.9,1219.4 L1059.9,1219.5 L1060.9,1219.6 L1061.9,1219.6 L1062.9,1219.7 L1063.9,1219.8 L1064.9,1219.8 L1065.9,1219.9 L1066.9,1220.0 L1067.9,1220.0 L1068.9,1220.1 L1069.9,1220.2 L1070.9,1220.3 L1071.9,1220.3 L1072.9,1220.4 L1073.9,1220.5 L1074.9,1220.5 L1075.9,1220.6 L1076.9,1220.7 L1077.9,1220.7 L1078.9,1220.8 L1079.9,1220.9 L1080.9,1221.0 L1081.9,1221.0 L1082.9,1221.1 L1083.9,1221.2 L1084.9,1221.2 L1085.9,1221.3 L1086.9,1221.4 L1087.9,1221.5 L1088.9,1221.5 L1089.9,1221.6 L1090.9,1221.7 L1091.9,1221.7 L1092.9,1221.8 L1093.9,1221.9 L1094.9,1221.9 L1095.9,1222.0 L1096.9,1222.1 L1097.9,1222.2 L1098.9,1222.2 L1099.9,1222.3 L1100.9,1222.4 L1101.9,1222.4 L1102.9,1222.5 L1103.9,1222.6 L1104.9,1222.6 L1105.9,1222.7 L1106.9,1222.8 L1107.9,1222.9 L1108.9,1222.9 L1109.9,1223.0 L1110.9,1223.1 L1111.9,1223.1 L1112.9,1223.2 L1113.9,1223.3 L1114.9,1223.4 L1115.9,1223.4 L1116.9,1223.5 L1117.9,1223.6 L1118.9,1223.6 L1119.9,1223.7 L1120.9,1223.8 L1121.9,1223.8 L1122.9,1223.9 L1123.9,1224.0 L1124.9,1224.1 L1125.9,1224.1 L1126.9,1224.2 L1127.9,1224.3 L1128.9,1224.3 L1129.9,1224.4 L1130.9,1224.5 L1131.9,1224.5 L1132.9,1224.6 L1133.9,1224.7 L1134.9,1224.8 L1135.9,1224.8 L1136.9,1224.9 L1137.9,1225.0 L1138.9,1225.0 L1139.9,1225.1 L1140.9,1225.2 L1141.9,1225.3 L1142.9,1225.3 L1143.9,1225.4 L1144.9,1225.5 L1145.9,1225.5 L1146.9,1225.6 L1147.9,1225.7 L1148.9,1225.7 L1149.9,1225.8 L1150.9,1225.9 L1151.9,1226.0 L1152.9,1226.0 L1153.9,1226.1 L1154.9,1226.2 L1155.9,1226.2 L1156.9,1226.3 L1157.9,1226.4 L1158.9,1226.4 L1159.9,1226.5 L1160.9,1226.6 L1161.9,1226.7 L1162.9,1226.7 L1163.9,1226.8 L1164.9,1226.9 L1165.9,1226.9 L1166.9,1227.0 L1167.9,1227.1 L1168.9,1227.1 L1169.9,1227.2 L1170.9,1227.3 L1171.9,1227.4 L1172.9,1227.4 L1173.9,1227.5 L1174.9,1227.6 L1175.9,1227.6 L1176.9,1227.7 L1177.9,1227.8 L1178.9,1227.9 L1179.9,1227.9 L1180.9,1228.0 L1181.9,1228.1 L1182.9,1228.1 L1183.9,1228.2 L1184.9,1228.3 L1185.9,1228.3 L1186.9,1228.4 L1187.9,1228.5 L1188.9,1228.6 L1189.9,1228.6 L1190.9,1228.7 L1191.9,1228.8 L1192.9,1228.8 L1193.9,1228.9 L1194.9,1229.0 L1195.9,1229.0 L1196.9,1229.1 L1197.9,1229.2 L1198.9,1229.3 L1199.9,1229.3 L1200.9,1229.4 L1201.9,1229.5 L1202.9,1229.5 L1203.9,1229.6 L1204.9,1229.7 L1205.9,1229.8 L1206.9,1229.8 L1207.9,1229.9 L1208.9,1230.0 L1209.9,1230.0 L1210.9,1230.1 L1211.9,1230.2 L1212.9,1230.2 L1213.9,1230.3 L1214.9,1230.4 L1215.9,1230.5 L1216.9,1230.5 L1217.9,1230.6 L1218.9,1230.7 L1219.9,1230.7 L1220.9,1230.8 L1221.9,1230.9 L1222.9,1230.9 L1223.9,1231.0 L1224.9,1231.1 L1225.9,1231.2 L1226.9,1231.2 L1227.9,1231.3 L1228.9,1231.4 L1229.9,1231.4 L1230.9,1231.5 L1231.9,1231.6 L1232.9,1231.6 L1233.9,1231.7 L1234.9,1231.8 L1235.9,1231.8 L1236.9,1231.9 L1237.9,1232.0 L1238.9,1232.0 L1239.9,1232.1 L1240.9,1232.2 L1241.9,1232.2 L1242.9,1232.3 L1243.9,1232.3 L1244.9,1232.4 L1245.9,1232.4 L1246.9,1232.4 L1247.9,1232.5 L1248.9,1232.5 L1249.9,1232.6 L1250.9,1232.6 L1251.9,1232.6 L1252.9,1232.7 L1253.9,1232.7 L1254.9,1232.8 L1255.9,1232.8 L1256.9,1232.8 L1257.9,1232.9 L1258.9,1232.9 L1259.9,1233.0 L1260.9,1233.0 L1261.9,1233.0 L1262.9,1233.1 L1263.9,1233.1 L1264.9,1233.2 L1265.9,1233.2 L1266.9,1233.2 L1267.9,1233.3 L1268.9,1233.3 L1269.9,1233.4 L1270.9,1233.4 L1271.9,1233.4 L1272.9,1233.5 L1273.9,1233.5 L1274.9,1233.6 L1275.9,1233.6 L1276.9,1233.6 L1277.9,1233.7 L1278.9,1233.7 L1279.9,1233.8 L1280.9,1233.8 L1281.9,1233.8 L1282.9,1233.9 L1283.9,1233.9 L1284.9,1234.0 L1285.9,1234.0 L1286.9,1234.0 L1287.9,1234.1 L1288.9,1234.1 L1289.9,1234.2 L1290.9,1234.2 L1291.9,1234.2 L1292.9,1234.3 L1293.9,1234.3 L1294.9,1234.4 L1295.9,1234.4 L1296.9,1234.4 L1297.9,1234.5 L1298.9,1234.5 L1299.9,1234.6 L1300.9,1234.6 L1301.9,1234.6 L1302.9,1234.7 L1303.9,1234.7 L1304.9,1234.8 L1305.9,1234.8 L1306.9,1234.8 L1307.9,1234.9 L1308.9,1234.9 L1309.9,1235.0 L1310.9,1235.0 L1311.9,1235.0 L1312.9,1235.1 L1313.9,1235.1 L1314.9,1235.2 L1315.9,1235.2 L1316.9,1235.2 L1317.9,1235.3 L1318.9,1235.3 L1319.9,1235.4 L1320.9,1235.4 L1321.9,1235.4 L1322.9,1235.5 L1323.9,1235.5 L1324.9,1235.6 L1325.9,1235.6 L1326.9,1235.6 L1327.9,1235.7 L1328.9,1235.7 L1329.9,1235.8 L1330.9,1235.8 L1331.9,1235.8 L1332.9,1235.9 L1333.9,1235.9 L1334.9,1236.0 L1335.9,1236.0 L1336.9,1236.0 L1337.9,1236.1 L1338.9,1236.1 L1339.9,1236.2 L1340.9,1236.2 L1341.9,1236.2 L1342.9,1236.3 L1343.9,1236.3 L1344.9,1236.4 L1345.9,1236.4 L1346.9,1236.4 L1347.9,1236.5 L1348.9,1236.5 L1349.9,1236.6 L1350.9,1236.6 L1351.9,1236.6 L1352.9,1236.7 L1353.9,1236.7 L1354.9,1236.8 L1355.9,1236.8 L1356.9,1236.8 L1357.9,1236.9 L1358.9,1236.9 L1359.9,1237.0 L1360.9,1237.0 L1361.9,1237.0 L1362.9,1237.1 L1363.9,1237.1 L1364.9,1237.2 L1365.9,1237.2 L1366.9,1237.2 L1367.9,1237.3 L1368.9,1237.3 L1369.9,1237.4 L1370.9,1237.4 L1371.9,1237.4 L1372.9,1237.5 L1373.9,1237.5 L1374.9,1237.6 L1375.9,1237.6 L1376.9,1237.6 L1377.9,1237.7 L1378.9,1237.7 L1379.9,1237.8 L1380.9,1237.8 L1381.9,1237.8 L1382.9,1237.9 L1383.9,1237.9 L1384.9,1238.0 L1385.9,1238.0 L1386.9,1238.0 L1387.9,1238.1 L1388.9,1238.1 L1389.9,1238.2 L1390.9,1238.2 L1391.9,1238.2 L1392.9,1238.3 L1393.9,1238.3 L1394.9,1238.4 L1395.9,1238.4 L1396.9,1238.4 L1397.9,1238.5 L1398.9,1238.5 L1399.9,1238.6 L1400.9,1238.6 L1401.9,1238.6 L1402.9,1238.7 L1403.9,1238.7 L1404.9,1238.8 L1405.9,1238.8 L1406.9,1238.8 L1407.9,1238.9 L1408.9,1238.9 L1409.9,1238.9 L1410.9,1239.0 L1411.9,1239.0 L1412.9,1239.1 L1413.9,1239.1 L1414.9,1239.1 L1415.9,1239.2 L1416.9,1239.2 L1417.9,1239.3 L1418.9,1239.3 L1419.9,1239.3 L1420.9,1239.4 L1421.9,1239.4 L1422.9,1239.5 L1423.9,1239.5 L1424.9,1239.5 L1425.9,1239.6 L1426.9,1239.6 L1427.9,1239.7 L1428.9,1239.7 L1429.9,1239.7 L1430.9,1239.8 L1431.9,1239.8 L1432.9,1239.9 L1433.9,1239.9 L1434.9,1239.9 L1435.9,1240.0 L1436.9,1240.0 L1437.9,1240.1 L1438.9,1240.1 L1439.9,1240.1 L1440.9,1240.2 L1441.9,1240.2 L1442.9,1240.3 L1443.9,1240.3 L1444.9,1240.3 L1445.9,1240.4 L1446.9,1240.4 L1447.9,1240.5 L1448.9,1240.5 L1449.9,1240.5 L1450.9,1240.6 L1451.9,1240.6 L1452.9,1240.7 L1453.9,1240.7 L1454.9,1240.7 L1455.9,1240.8 L1456.9,1240.8 L1457.9,1240.9 L1458.9,1240.9 L1459.9,1240.9 L1460.9,1241.0 L1461.9,1241.0 L1462.9,1241.1 L1463.9,1241.1 L1464.9,1241.1 L1465.9,1241.2 L1466.9,1241.2 L1467.9,1241.3 L1468.9,1241.3 L1469.9,1241.3 L1470.9,1241.4 L1471.9,1241.4 L1472.9,1241.5 L1473.9,1241.5 L1474.9,1241.5 L1475.9,1241.6 L1476.9,1241.6 L1477.9,1241.7 L1478.9,1241.7 L1479.9,1241.7 L1480.9,1241.8 L1481.9,1241.8 L1482.9,1241.9 L1483.9,1241.9 L1484.9,1241.9 L1485.9,1242.0 L1486.9,1242.0 L1487.9,1242.1 L1488.9,1242.1 L1489.9,1242.1 L1490.9,1242.2 L1491.9,1242.2 L1492.9,1242.3 L1493.9,1242.3 L1494.9,1242.3 L1495.9,1242.4 L1496.9,1242.4 L1497.9,1242.5 L1498.9,1242.5 L1499.9,1242.5 L1500.9,1242.6 L1501.9,1242.6 L1502.9,1242.7 L1503.9,1242.7 L1504.9,1242.7 L1505.9,1242.8 L1506.9,1242.8 L1507.9,1242.9 L1508.9,1242.9 L1509.9,1242.9 L1510.9,1243.0 L1511.9,1243.0 L1512.9,1243.1 L1513.9,1243.1 L1514.9,1243.1 L1515.9,1243.2 L1516.9,1243.2 L1517.9,1243.3 L1518.9,1243.3 L1519.9,1243.3 L1520.9,1243.4 L1521.9,1243.4 L1522.9,1243.5 L1523.9,1243.5 L1524.9,1243.5 L1525.9,1243.6 L1526.9,1243.6 L1527.9,1243.7 L1528.9,1243.7 L1529.9,1243.7 L1530.9,1243.8 L1531.9,1243.8 L1532.9,1243.9 L1533.9,1243.9 L1534.9,1243.9 L1535.9,1244.0 L1536.9,1244.0 L1537.9,1244.1 L1538.9,1244.1 L1539.9,1244.1 L1540.9,1244.2 L1541.9,1244.2 L1542.9,1244.3 L1543.9,1244.3 L1544.9,1244.3 L1545.9,1244.4 L1546.9,1244.4 L1547.9,1244.5 L1548.9,1244.5 L1549.9,1244.5 L1550.9,1244.6 L1551.9,1244.6 L1552.9,1244.7 L1553.9,1244.7 L1554.9,1244.7 L1555.9,1244.8 L1556.9,1244.8 L1557.9,1244.9 L1558.9,1244.9 L1559.9,1244.9 L1560.9,1245.0 L1561.9,1245.0 L1562.9,1245.1 L1563.9,1245.1 L1564.9,1245.1 L1565.9,1245.2 L1566.9,1245.2 L1567.9,1245.3 L1568.9,1245.3 L1569.9,1245.3 L1570.9,1245.4 L1571.9,1245.4 L1572.9,1245.5 L1573.9,1245.5 L1574.9,1245.5 L1575.9,1245.6 L1576.9,1245.6 L1577.9,1245.7 L1578.9,1245.7 L1579.9,1245.7 L1580.9,1245.8 L1581.9,1245.8 L1582.9,1245.9 L1583.9,1245.9 L1584.9,1245.9 L1585.9,1246.0 L1586.9,1246.0 L1587.9,1246.1 L1588.9,1246.1 L1589.9,1246.1 L1590.9,1246.2 L1591.9,1246.2 L1592.9,1246.2 L1593.9,1246.3 L1594.9,1246.3 L1595.9,1246.4 L1596.9,1246.4 L1597.9,1246.4 L1598.9,1246.5 L1599.9,1246.5 L1600.9,1246.6 L1601.9,1246.6 L1602.9,1246.6 L1603.9,1246.7 L1604.9,1246.7 L1605.9,1246.8 L1606.9,1246.8 L1607.9,1246.8 L1608.9,1246.9 L1609.9,1246.9 L1610.9,1247.0 L1611.9,1247.0 L1612.9,1247.0 L1613.9,1247.1 L1614.9,1247.1 L1615.9,1247.2 L1616.9,1247.2 L1617.9,1247.2 L1618.9,1247.3 L1619.9,1247.3 L1620.9,1247.4 L1621.9,1247.4 L1622.9,1247.4 L1623.9,1247.5 L1624.9,1247.5 L1625.9,1247.6 L1626.9,1247.6 L1627.9,1247.6 L1628.9,1247.7 L1629.9,1247.7 L1630.9,1247.8 L1631.9,1247.8 L1632.9,1247.8 L1633.9,1247.9 L1634.9,1247.9 L1635.9,1248.0 L1636.9,1248.0 L1637.9,1248.0 L1638.9,1248.1 L1639.9,1248.1 L1640.9,1248.2 L1641.9,1248.2 L1642.9,1248.2 L1643.9,1248.3 L1644.9,1248.3 L1645.9,1248.4 L1646.9,1248.4 L1647.9,1248.4 L1648.9,1248.5 L1649.9,1248.5 L1650.9,1248.6 L1651.9,1248.6 L1652.9,1248.6 L1653.9,1248.7 L1654.9,1248.7 L1655.9,1248.8 L1656.9,1248.8 L1657.9,1248.8 L1658.9,1248.9 L1659.9,1248.9 L1660.9,1249.0 L1661.9,1249.0 L1662.9,1249.0 L1663.9,1249.1 L1664.9,1249.1 L1665.9,1249.2 L1666.9,1249.2 L1667.9,1249.2 L1668.9,1249.3 L1669.9,1249.3 L1670.9,1249.4 L1671.9,1249.4 L1672.9,1249.4 L1673.9,1249.5 L1674.9,1249.5 L1675.9,1249.6 L1676.9,1249.6 L1677.9,1249.6 L1678.9,1249.7 L1679.9,1249.7 L1680.9,1249.8 L1681.9,1249.8 L1682.9,1249.8 L1683.9,1249.9 L1684.9,1249.9 L1685.9,1250.0 L1686.9,1250.0 L1687.9,1250.0 L1688.9,1250.1 L1689.9,1250.1 L1690.9,1250.2 L1691.9,1250.2 L1692.9,1250.2 L1693.9,1250.3 L1694.9,1250.3 L1695.9,1250.4 L1696.9,1250.4 L1697.9,1250.4 L1698.9,1250.5 L1699.9,1250.5 L1700.9,1250.6 L1701.9,1250.6 L1702.9,1250.6 L1703.9,1250.7 L1704.9,1250.7 L1705.9,1250.8 L1706.9,1250.8 L1707.9,1250.8 L1708.9,1250.9 L1709.9,1250.9 L1710.9,1251.0 L1711.9,1251.0 L1712.9,1251.0 L1713.9,1251.1 L1714.9,1251.1 L1715.9,1251.2 L1716.9,1251.2 L1717.9,1251.2 L1718.9,1251.3 L1719.9,1251.3 L1720.9,1251.4 L1721.9,1251.4 L1722.9,1251.4 L1723.9,1251.5 L1724.9,1251.5 L1725.9,1251.6 L1726.9,1251.6 L1727.9,1251.6 L1728.9,1251.7 L1729.9,1251.7 L1730.9,1251.8 L1731.9,1251.8 L1732.9,1251.8 L1733.9,1251.9 L1734.9,1251.9 L1735.9,1252.0 L1736.9,1252.0 L1737.9,1252.0 L1738.9,1252.1 L1739.9,1252.1 L1740.9,1252.2 L1741.9,1252.2 L1742.9,1252.2 L1743.9,1252.3 L1744.9,1252.3 L1745.9,1252.4 L1746.9,1252.4 L1747.9,1252.4 L1748.9,1252.5 L1749.9,1252.5 L1750.9,1252.6 L1751.9,1252.6 L1752.9,1252.6 L1753.9,1252.7 L1754.9,1252.7 L1755.9,1252.7 L1756.9,1252.8 L1757.9,1252.8 L1758.9,1252.9 L1759.9,1252.9 L1760.9,1252.9 L1761.9,1253.0 L1762.9,1253.0 L1763.9,1253.0 L1764.9,1253.1 L1765.9,1253.1 L1766.9,1253.1 L1767.9,1253.2 L1768.9,1253.2 L1769.9,1253.2 L1770.9,1253.2 L1771.9,1253.3 L1772.9,1253.3 L1773.9,1253.3 L1774.9,1253.4 L1775.9,1253.4 L1776.9,1253.4 L1777.9,1253.5 L1778.9,1253.5 L1779.9,1253.5 L1780.9,1253.6 L1781.9,1253.6 L1782.9,1253.6 L1783.9,1253.6 L1784.9,1253.7 L1785.9,1253.7 L1786.9,1253.7 L1787.9,1253.8 L1788.9,1253.8 L1789.9,1253.8 L1790.9,1253.9 L1791.9,1253.9 L1792.9,1253.9 L1793.9,1254.0 L1794.9,1254.0 L1795.9,1254.0 L1796.9,1254.0 L1797.9,1254.1 L1798.9,1254.1 L1799.9,1254.1 L1800.9,1254.2 L1801.9,1254.2 L1802.9,1254.2 L1803.9,1254.3 L1804.9,1254.3 L1805.9,1254.3 L1806.9,1254.3 L1807.9,1254.4 L1808.9,1254.4 L1809.9,1254.4 L1810.9,1254.5 L1811.9,1254.5 L1812.9,1254.5 L1813.9,1254.6 L1814.9,1254.6 L1815.9,1254.6 L1816.9,1254.7 L1817.9,1254.7 L1818.9,1254.7 L1819.9,1254.7 L1820.9,1254.8 L1821.9,1254.8 L1822.9,1254.8 L1823.9,1254.9 L1824.9,1254.9 L1825.9,1254.9 L1826.9,1255.0 L1827.9,1255.0 L1828.9,1255.0 L1829.9,1255.1 L1830.9,1255.1 L1831.9,1255.1 L1832.9,1255.1 L1833.9,1255.2 L1834.9,1255.2 L1835.9,1255.2 L1836.9,1255.3 L1837.9,1255.3 L1838.9,1255.3 L1839.9,1255.4 L1840.9,1255.4 L1841.9,1255.4 L1842.9,1255.5 L1843.9,1255.5 L1844.9,1255.5 L1845.9,1255.5 L1846.9,1255.6 L1847.9,1255.6 L1848.9,1255.6 L1849.9,1255.7 L1850.9,1255.7 L1851.9,1255.7 L1852.9,1255.8 L1853.9,1255.8 L1854.9,1255.8 L1855.9,1255.9 L1856.9,1255.9 L1857.9,1255.9 L1858.9,1255.9 L1859.9,1256.0 L1860.9,1256.0 L1861.9,1256.0 L1862.9,1256.1 L1863.9,1256.1 L1864.9,1256.1 L1865.9,1256.2 L1866.9,1256.2 L1867.9,1256.2 L1868.9,1256.2 L1869.9,1256.3 L1870.9,1256.3 L1871.9,1256.3 L1872.9,1256.4 L1873.9,1256.4 L1874.9,1256.4 L1875.9,1256.5 L1876.9,1256.5 L1877.9,1256.5 L1878.9,1256.6 L1879.9,1256.6 L1880.9,1256.6 L1881.9,1256.6 L1882.9,1256.7 L1883.9,1256.7 L1884.9,1256.7 L1885.9,1256.8 L1886.9,1256.8 L1887.9,1256.8 L1888.9,1256.9 L1889.9,1256.9 L1890.9,1256.9 L1891.9,1257.0 L1892.9,1257.0 L1893.9,1257.0 L1894.9,1257.0 L1895.9,1257.1 L1896.9,1257.1 L1897.9,1257.1 L1898.9,1257.2 L1899.9,1257.2 L1900.9,1257.2 L1901.9,1257.3 L1902.9,1257.3 L1903.9,1257.3 L1904.9,1257.4 L1905.9,1257.4 L1906.9,1257.4 L1907.9,1257.4 L1908.9,1257.5 L1909.9,1257.5 L1910.9,1257.5 L1911.9,1257.6 L1912.9,1257.6 L1913.9,1257.6 L1914.9,1257.7 L1915.9,1257.7 L1916.9,1257.7 L1917.9,1257.8 L1918.9,1257.8 L1919.9,1257.8 L1920.9,1257.8 L1921.9,1257.9 L1922.9,1257.9 L1923.9,1257.9 L1924.9,1258.0 L1925.9,1258.0 L1926.9,1258.0 L1927.9,1258.1 L1928.9,1258.1 L1929.9,1258.1 L1930.9,1258.1 L1931.9,1258.2 L1932.9,1258.2 L1933.9,1258.2 L1934.9,1258.3 L1935.9,1258.3 L1936.9,1258.3 L1937.9,1258.4 L1938.9,1258.4 L1939.9,1258.4 L1940.9,1258.5 L1941.9,1258.5 L1942.9,1258.5 L1943.9,1258.5 L1944.9,1258.6 L1945.9,1258.6 L1946.9,1258.6 L1947.9,1258.7 L1948.9,1258.7 L1949.9,1258.7 L1950.9,1258.8 L1951.9,1258.8 L1952.9,1258.8 L1953.9,1258.9 L1954.9,1258.9 L1955.9,1258.9 L1956.9,1258.9 L1957.9,1259.0 L1958.9,1259.0 L1959.9,1259.0 L1960.9,1259.1 L1961.9,1259.1 L1962.9,1259.1 L1963.9,1259.2 L1964.9,1259.2 L1965.9,1259.2 L1966.9,1259.3 L1967.9,1259.3 L1968.9,1259.3 L1969.9,1259.3 L1970.9,1259.4 L1971.9,1259.4 L1972.9,1259.4 L1973.9,1259.5 L1974.9,1259.5 L1975.9,1259.5 L1976.9,1259.6 L1977.9,1259.6 L1978.9,1259.6 L1979.9,1259.7 L1980.9,1259.7 L1981.9,1259.7 L1982.9,1259.7 L1983.9,1259.8 L1984.9,1259.8 L1985.9,1259.8 L1986.9,1259.9 L1987.9,1259.9 L1988.9,1259.9 L1989.9,1260.0 L1990.9,1260.0 L1991.9,1260.0 L1992.9,1260.0 L1993.9,1260.1 L1994.9,1260.1 L1995.9,1260.1 L1996.9,1260.2 L1997.9,1260.2 L1998.9,1260.2 L1999.9,1260.3 L2000.9,1260.3 L2001.9,1260.3 L2002.9,1260.4 L2003.9,1260.4 L2004.9,1260.4 L2005.9,1260.4 L2006.9,1260.5 L2007.9,1260.5 L2008.9,1260.5 L2009.9,1260.6 L2010.9,1260.6 L2011.9,1260.6 L2012.9,1260.7 L2013.9,1260.7 L2014.9,1260.7 L2015.9,1260.8 L2016.9,1260.8 L2017.9,1260.8 L2018.9,1260.8 L2019.9,1260.9 L2020.9,1260.9 L2021.9,1260.9 L2022.9,1261.0 L2023.9,1261.0 L2024.9,1261.0 L2025.9,1261.1 L2026.9,1261.1 L2027.9,1261.1 L2028.9,1261.2 L2029.9,1261.2 L2030.9,1261.2 L2031.9,1261.2 L2032.9,1261.3 L2033.9,1261.3 L2034.9,1261.3 L2035.9,1261.4 L2036.9,1261.4 L2037.9,1261.4 L2038.9,1261.5 L2039.9,1261.5 L2040.9,1261.5 L2041.9,1261.6 L2042.9,1261.6 L2043.9,1261.6 L2044.9,1261.6 L2045.9,1261.7 L2046.9,1261.7 L2047.9,1261.7 L2048.9,1261.8 L2049.9,1261.8 L2050.9,1261.8 L2051.9,1261.9 L2052.9,1261.9 L2053.9,1261.9 L2054.9,1261.9 L2055.9,1262.0 L2056.9,1262.0 L2057.9,1262.0 L2058.9,1262.1 L2059.9,1262.1 L2060.9,1262.1 L2061.9,1262.2 L2062.9,1262.2 L2063.9,1262.2 L2064.9,1262.3 L2065.9,1262.3 L2066.9,1262.3 L2067.9,1262.3 L2068.9,1262.4 L2069.9,1262.4 L2070.9,1262.4 L2071.9,1262.5 L2072.9,1262.5 L2073.9,1262.5 L2074.9,1262.6 L2075.9,1262.6 L2076.9,1262.6 L2077.9,1262.7 L2078.9,1262.7 L2079.9,1262.7 L2080.9,1262.7 L2081.9,1262.8 L2082.9,1262.8 L2083.9,1262.8 L2084.9,1262.9 L2085.9,1262.9 L2086.9,1262.9 L2087.9,1263.0 L2088.9,1263.0 L2089.9,1263.0 L2090.9,1263.1 L2091.9,1263.1 L2092.9,1263.1 L2093.9,1263.1 L2094.9,1263.2 L2095.9,1263.2 L2096.9,1263.2 L2097.9,1263.3 L2098.9,1263.3 L2099.9,1263.3 L2100.9,1263.4 L2101.9,1263.4 L2102.9,1263.4 L2103.9,1263.4 L2104.9,1263.5 L2105.9,1263.5 L2106.9,1263.5 L2107.9,1263.6 L2108.9,1263.6 L2109.9,1263.6 L2110.9,1263.7 L2111.9,1263.7 L2112.9,1263.7 L2113.9,1263.8 L2114.9,1263.8 L2115.9,1263.8 L2116.9,1263.8 L2117.9,1263.9 L2118.9,1263.9 L2119.9,1263.9 L2120.9,1264.0 L2121.9,1264.0 L2122.9,1264.0 L2123.9,1264.1 L2124.9,1264.1 L2125.9,1264.1 L2126.9,1264.2 L2127.9,1264.2 L2128.9,1264.2 L2129.9,1264.2 L2130.9,1264.3 L2131.9,1264.3 L2132.9,1264.3 L2133.9,1264.4 L2134.9,1264.4 L2135.9,1264.4 L2136.9,1264.5 L2137.9,1264.5 L2138.9,1264.5 L2139.9,1264.6 L2140.9,1264.6 L2141.9,1264.6 L2142.9,1264.6 L2143.9,1264.7 L2144.9,1264.7 L2145.9,1264.7 L2146.9,1264.8 L2147.9,1264.8 L2148.9,1264.8 L2149.9,1264.9 L2150.9,1264.9 L2151.9,1264.9 L2152.9,1265.0 L2153.9,1265.0 L2154.9,1265.0 L2155.9,1265.0 L2156.9,1265.1 L2157.9,1265.1 L2158.9,1265.1 L2159.9,1265.2 L2160.9,1265.2 L2161.9,1265.2 L2162.9,1265.3 L2163.9,1265.3 L2164.9,1265.3 L2165.9,1265.3 L2166.9,1265.4 L2167.9,1265.4 L2168.9,1265.4 L2169.9,1265.5 L2170.9,1265.5 L2171.9,1265.5 L2172.9,1265.6 L2173.9,1265.6 L2174.9,1265.6 L2175.9,1265.7 L2176.9,1265.7 L2177.9,1265.7 L2178.9,1265.7 L2179.9,1265.8 L2180.9,1265.8 L2181.9,1265.8 L2182.9,1265.9 L2183.9,1265.9 L2184.9,1265.9 L2185.9,1266.0 L2186.9,1266.0 L2187.9,1266.0 L2188.9,1266.1 L2189.9,1266.1 L2190.9,1266.1 L2191.9,1266.1 L2192.9,1266.2 L2193.9,1266.2 L2194.9,1266.2 L2195.9,1266.3 L2196.9,1266.3 L2197.9,1266.3 L2198.9,1266.4 L2199.9,1266.4 L2200.9,1266.4 L2201.9,1266.5 L2202.9,1266.5 L2203.9,1266.5 L2204.9,1266.5 L2205.9,1266.6 L2206.9,1266.6 L2207.9,1266.6 L2208.9,1266.7 L2209.9,1266.7 L2210.9,1266.7 L2211.9,1266.8 L2212.9,1266.8 L2213.9,1266.8 L2214.9,1266.9 L2215.9,1266.9 L2216.9,1266.9 L2217.9,1266.9 L2218.9,1267.0 L2219.9,1267.0 L2220.9,1267.0 L2221.9,1267.1 L2222.9,1267.1 L2223.9,1267.1 L2224.9,1267.2 L2225.9,1267.2 L2226.9,1267.2 L2227.9,1267.2 L2228.9,1267.3 L2229.9,1267.3 L2230.9,1267.3 L2231.9,1267.4 L2232.9,1267.4 L2233.9,1267.4 L2234.9,1267.5 L2235.9,1267.5 L2236.9,1267.5 L2237.9,1267.6 L2238.9,1267.6 L2239.9,1267.6 L2240.9,1267.6 L2241.9,1267.7 L2242.9,1267.7 L2243.9,1267.7 L2244.9,1267.8 L2245.9,1267.8 L2246.9,1267.8 L2247.9,1267.9 L2248.9,1267.9 L2249.9,1267.9 L2250.9,1268.0 L2251.9,1268.0 L2252.9,1268.0 L2253.9,1268.0 L2254.9,1268.1 L2255.9,1268.1 L2256.9,1268.1 L2257.9,1268.2 L2258.9,1268.2 L2259.9,1268.2 L2260.9,1268.3 L2261.9,1268.3 L2262.9,1268.3 L2263.9,1268.4 L2264.9,1268.4 L2265.9,1268.4 L2266.9,1268.4 L2267.9,1268.5 L2268.9,1268.5 L2269.9,1268.5 L2270.9,1268.6 L2271.9,1268.6 L2272.9,1268.6 L2273.9,1268.6 L2274.9,1268.7 L2275.9,1268.7 L2276.9,1268.7 L2277.9,1268.7" fill="none" stroke="#440154" stroke-width="2.0" stroke-linejoin="round" stroke-linecap="butt"/>
</g>
<text x="695.60" y="690.70" font-size="51.2" text-anchor="middle" letter-spacing="0.25">Wavelength (nm)</text>
<text x="1892.40" y="690.00" font-size="51.2" text-anchor="middle" letter-spacing="0.25">Wavelength (nm)</text>
<text x="1292.60" y="1421.60" font-size="51.2" text-anchor="middle" letter-spacing="0.24">Irradiation time (h)</text>
<text x="0.00" y="0.00" font-size="51.2" text-anchor="middle" transform="translate(112.90,313.20) rotate(-90)" letter-spacing="0.25">Absorbance (A.U.)</text>
<text x="0.00" y="0.00" font-size="51.2" text-anchor="middle" transform="translate(1260.30,313.20) rotate(-90)" letter-spacing="0.25">Absorbance (A.U.)</text>
<text x="0.00" y="0.00" font-size="51.2" text-anchor="middle" transform="translate(62.80,1044.60) rotate(-90)" letter-spacing="0.25">Absorbance (A. U.)</text>
<text x="110.10" y="70.70" font-size="69.3" text-anchor="start">(a)</text>
<text x="1295.30" y="73.90" font-size="69.3" text-anchor="start">(b)</text>
<text x="89.40" y="791.20" font-size="69.3" text-anchor="start">(c)</text>
<text x="1114.9" y="828.8" font-size="51.2" letter-spacing="0.22">Hybrids<tspan font-style="italic" font-size="35.84" dx="0.6" dy="8.1">dip</tspan></text>
<text x="1136.4" y="1179.2" font-size="51.2">J-<tspan dx="2">agg</tspan><tspan font-style="italic" font-size="35.84" dx="0.5" dy="7.6" letter-spacing="0.7">max</tspan></text>
<polygon points="542.79,79.30 921.28,281.72 927.90,269.34 953.20,306.00 908.66,305.31 915.29,292.92 536.81,90.50" fill="#dc143c" stroke="#000" stroke-width="3.0" stroke-linejoin="miter"/>
<polygon points="2079.70,85.00 2079.70,441.00 2093.70,441.00 2073.30,481.00 2052.90,441.00 2066.90,441.00 2066.90,85.00" fill="#dc143c" stroke="#000" stroke-width="3.0" stroke-linejoin="miter"/>
<text x="0.00" y="0.00" font-size="51.2" text-anchor="middle" transform="translate(557.40,74.40) rotate(28.0)">0</text>
<text x="0.00" y="0.00" font-size="51.2" text-anchor="middle" transform="translate(718.00,154.50) rotate(28.0)">Time</text>
<text x="0.00" y="0.00" font-size="51.2" text-anchor="middle" transform="translate(933.00,260.00) rotate(28.0)">4 h</text>
<text x="0.00" y="0.00" font-size="51.2" text-anchor="middle" transform="translate(2100.10,81.00) rotate(90)">0</text>
<text x="0.00" y="0.00" font-size="51.2" text-anchor="middle" transform="translate(2097.90,266.30) rotate(90)">Time</text>
<text x="0.00" y="0.00" font-size="51.2" text-anchor="middle" transform="translate(2100.50,452.30) rotate(90)">4h</text>
</svg>
</body></html>
